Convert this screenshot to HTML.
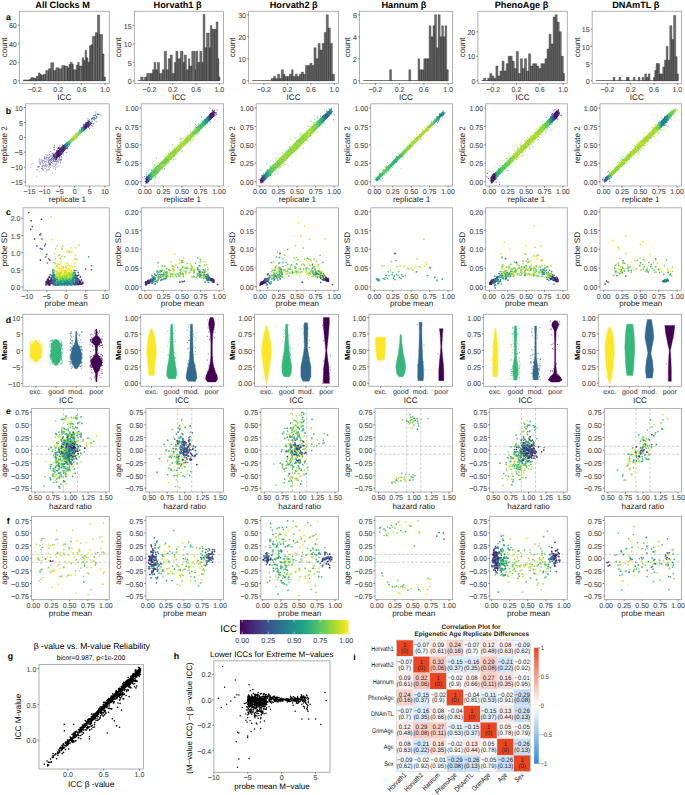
<!DOCTYPE html>
<html><head><meta charset="utf-8"><style>html,body{margin:0;padding:0;background:#fff;}svg{display:block;}text{font-family:"Liberation Sans",sans-serif;}</style></head><body><svg width="685" height="795" viewBox="0 0 685 795" text-rendering="geometricPrecision" font-family='"Liberation Sans", sans-serif'><line x1="23.03" y1="80.50" x2="105.08" y2="80.50" stroke="#3a3a3a" stroke-width="0.7"/><path d="M23.76 80.80H29.60V79.88H23.76ZM29.60 80.80H31.06V78.95H29.60ZM31.06 80.80H33.25V77.56H31.06ZM33.25 80.80H35.44V78.02H33.25ZM35.44 80.80H36.17V78.95H35.44ZM36.17 80.80H38.36V76.17H36.17ZM38.36 80.80H40.11V72.94H38.36ZM40.11 80.80H41.28V74.33H40.11ZM41.28 80.80H43.47V75.25H41.28ZM43.47 80.80H45.66V74.33H43.47ZM45.66 80.80H48.58V70.62H45.66ZM48.58 80.80H50.77V68.77H48.58ZM50.77 80.80H53.69V62.76H50.77ZM53.69 80.80H55.88V70.62H53.69ZM55.88 80.80H58.80V67.85H55.88ZM58.80 80.80H61.72V68.77H58.80ZM61.72 80.80H64.64V65.54H61.72ZM64.64 80.80H67.55V66.00H64.64ZM67.55 80.80H69.01V67.85H67.55ZM69.01 80.80H70.47V64.15H69.01ZM70.47 80.80H72.23V62.30H70.47ZM72.23 80.80H73.39V64.15H72.23ZM73.39 80.80H76.31V69.70H73.39ZM76.31 80.80H77.77V65.07H76.31ZM77.77 80.80H79.23V62.30H77.77ZM79.23 80.80H82.15V66.00H79.23ZM82.15 80.80H83.61V57.67H82.15ZM83.61 80.80H85.07V60.45H83.61ZM85.07 80.80H86.53V50.27H85.07ZM86.53 80.80H87.99V57.67H86.53ZM87.99 80.80H89.45V62.30H87.99ZM89.45 80.80H90.91V45.65H89.45ZM90.91 80.80H92.37V44.72H90.91ZM92.37 80.80H95.29V36.40H92.37ZM95.29 80.80H97.48V32.70H95.29ZM97.48 80.80H99.67V15.12H97.48ZM99.67 80.80H102.59V34.55H99.67ZM102.59 80.80H104.05V53.97H102.59ZM104.05 80.80H105.51V77.10H104.05Z" fill="#6e6e6e" stroke="#2e2e2e" stroke-width="0.4"/><rect x="19.40" y="11.30" width="89.90" height="72.10" fill="none" stroke="#a8a8a8" stroke-width="0.9"/><line x1="17.80" y1="80.80" x2="19.40" y2="80.80" stroke="#333" stroke-width="0.6"/><text x="16.80" y="83.90" font-size="7.05" text-anchor="end" fill="#555555" stroke="#555555" stroke-width="0.13">0</text><line x1="17.80" y1="62.30" x2="19.40" y2="62.30" stroke="#333" stroke-width="0.6"/><text x="16.80" y="65.40" font-size="7.05" text-anchor="end" fill="#555555" stroke="#555555" stroke-width="0.13">20</text><line x1="17.80" y1="43.80" x2="19.40" y2="43.80" stroke="#333" stroke-width="0.6"/><text x="16.80" y="46.90" font-size="7.05" text-anchor="end" fill="#555555" stroke="#555555" stroke-width="0.13">40</text><line x1="17.80" y1="25.30" x2="19.40" y2="25.30" stroke="#333" stroke-width="0.6"/><text x="16.80" y="28.40" font-size="7.05" text-anchor="end" fill="#555555" stroke="#555555" stroke-width="0.13">60</text><line x1="34.75" y1="83.40" x2="34.75" y2="85.00" stroke="#333" stroke-width="0.6"/><text x="34.75" y="91.60" font-size="7.05" text-anchor="middle" fill="#555555" stroke="#555555" stroke-width="0.13">−0.2</text><line x1="58.20" y1="83.40" x2="58.20" y2="85.00" stroke="#333" stroke-width="0.6"/><text x="58.20" y="91.60" font-size="7.05" text-anchor="middle" fill="#555555" stroke="#555555" stroke-width="0.13">0.2</text><line x1="81.64" y1="83.40" x2="81.64" y2="85.00" stroke="#333" stroke-width="0.6"/><text x="81.64" y="91.60" font-size="7.05" text-anchor="middle" fill="#555555" stroke="#555555" stroke-width="0.13">0.6</text><line x1="105.08" y1="83.40" x2="105.08" y2="85.00" stroke="#333" stroke-width="0.6"/><text x="105.08" y="91.60" font-size="7.05" text-anchor="middle" fill="#555555" stroke="#555555" stroke-width="0.13">1.0</text><text x="7.00" y="47.35" font-size="8.10" text-anchor="middle" fill="#1a1a1a" transform="rotate(-90 7.00 47.35)">count</text><text x="64.35" y="100.00" font-size="8.10" text-anchor="middle" fill="#1a1a1a">ICC</text><text x="62.60" y="7.50" font-size="9.20" text-anchor="middle" fill="#000" font-weight="bold">All Clocks M</text><line x1="137.91" y1="80.50" x2="219.31" y2="80.50" stroke="#3a3a3a" stroke-width="0.7"/><path d="M140.72 80.80H143.13V77.12H140.72ZM144.48 80.80H146.76V77.12H144.48ZM146.76 80.80H150.79V73.44H146.76ZM150.79 80.80H152.40V73.44H150.79ZM152.40 80.80H154.15V69.76H152.40ZM154.15 80.80H155.89V62.40H154.15ZM155.89 80.80H157.50V69.76H155.89ZM157.50 80.80H159.52V62.40H157.50ZM159.52 80.80H162.20V73.44H159.52ZM162.20 80.80H164.22V69.76H162.20ZM164.22 80.80H166.50V51.36H164.22ZM166.50 80.80H168.25V69.76H166.50ZM168.25 80.80H170.26V58.72H168.25ZM170.26 80.80H172.28V55.04H170.26ZM172.28 80.80H174.29V73.44H172.28ZM174.29 80.80H175.90V62.40H174.29ZM175.90 80.80H177.92V51.36H175.90ZM177.92 80.80H180.33V58.72H177.92ZM180.33 80.80H183.02V51.36H180.33ZM183.02 80.80H184.36V62.40H183.02ZM184.36 80.80H186.38V55.04H184.36ZM186.38 80.80H188.39V69.76H186.38ZM188.39 80.80H189.73V58.72H188.39ZM189.73 80.80H191.75V66.08H189.73ZM191.75 80.80H195.11V51.36H191.75ZM195.11 80.80H195.78V69.76H195.11ZM195.78 80.80H197.79V51.36H195.78ZM197.79 80.80H199.81V62.40H197.79ZM199.81 80.80H201.82V51.36H199.81ZM201.82 80.80H203.16V62.40H201.82ZM203.16 80.80H204.91V14.56H203.16ZM204.91 80.80H206.52V47.68H204.91ZM206.52 80.80H209.21V32.96H206.52ZM209.21 80.80H210.28V47.68H209.21ZM210.28 80.80H211.89V25.60H210.28ZM211.89 80.80H214.31V29.28H211.89ZM214.31 80.80H216.19V29.28H214.31ZM216.19 80.80H217.94V21.92H216.19ZM217.94 80.80H218.88V58.72H217.94ZM218.88 80.80H219.95V77.12H218.88Z" fill="#6e6e6e" stroke="#2e2e2e" stroke-width="0.4"/><rect x="134.30" y="11.30" width="89.20" height="72.10" fill="none" stroke="#a8a8a8" stroke-width="0.9"/><line x1="132.70" y1="80.80" x2="134.30" y2="80.80" stroke="#333" stroke-width="0.6"/><text x="131.70" y="83.90" font-size="7.05" text-anchor="end" fill="#555555" stroke="#555555" stroke-width="0.13">0</text><line x1="132.70" y1="62.40" x2="134.30" y2="62.40" stroke="#333" stroke-width="0.6"/><text x="131.70" y="65.50" font-size="7.05" text-anchor="end" fill="#555555" stroke="#555555" stroke-width="0.13">5</text><line x1="132.70" y1="44.00" x2="134.30" y2="44.00" stroke="#333" stroke-width="0.6"/><text x="131.70" y="47.10" font-size="7.05" text-anchor="end" fill="#555555" stroke="#555555" stroke-width="0.13">10</text><line x1="132.70" y1="25.60" x2="134.30" y2="25.60" stroke="#333" stroke-width="0.6"/><text x="131.70" y="28.70" font-size="7.05" text-anchor="end" fill="#555555" stroke="#555555" stroke-width="0.13">15</text><line x1="149.53" y1="83.40" x2="149.53" y2="85.00" stroke="#333" stroke-width="0.6"/><text x="149.53" y="91.60" font-size="7.05" text-anchor="middle" fill="#555555" stroke="#555555" stroke-width="0.13">−0.2</text><line x1="172.79" y1="83.40" x2="172.79" y2="85.00" stroke="#333" stroke-width="0.6"/><text x="172.79" y="91.60" font-size="7.05" text-anchor="middle" fill="#555555" stroke="#555555" stroke-width="0.13">0.2</text><line x1="196.05" y1="83.40" x2="196.05" y2="85.00" stroke="#333" stroke-width="0.6"/><text x="196.05" y="91.60" font-size="7.05" text-anchor="middle" fill="#555555" stroke="#555555" stroke-width="0.13">0.6</text><line x1="219.31" y1="83.40" x2="219.31" y2="85.00" stroke="#333" stroke-width="0.6"/><text x="219.31" y="91.60" font-size="7.05" text-anchor="middle" fill="#555555" stroke="#555555" stroke-width="0.13">1.0</text><text x="121.10" y="47.35" font-size="8.10" text-anchor="middle" fill="#1a1a1a" transform="rotate(-90 121.10 47.35)">count</text><text x="178.90" y="100.00" font-size="8.10" text-anchor="middle" fill="#1a1a1a">ICC</text><text x="177.60" y="7.50" font-size="9.20" text-anchor="middle" fill="#000" font-weight="bold">Horvath1 β</text><line x1="252.23" y1="80.50" x2="334.28" y2="80.50" stroke="#3a3a3a" stroke-width="0.7"/><path d="M271.09 80.80H273.55V78.60H271.09ZM273.55 80.80H275.59V76.40H273.55ZM275.59 80.80H277.63V78.60H275.59ZM277.63 80.80H279.68V74.20H277.63ZM279.68 80.80H281.31V78.60H279.68ZM281.31 80.80H283.36V69.80H281.31ZM283.36 80.80H284.99V74.20H283.36ZM284.99 80.80H287.44V76.40H284.99ZM287.44 80.80H289.49V76.40H287.44ZM289.49 80.80H291.53V74.20H289.49ZM291.53 80.80H293.17V69.80H291.53ZM293.17 80.80H295.21V76.40H293.17ZM295.21 80.80H297.25V74.20H295.21ZM297.25 80.80H299.30V76.40H297.25ZM299.30 80.80H301.34V74.20H299.30ZM301.34 80.80H303.38V72.00H301.34ZM303.38 80.80H305.43V74.20H303.38ZM305.43 80.80H307.88V65.40H305.43ZM307.88 80.80H309.92V65.40H307.88ZM309.92 80.80H311.97V63.20H309.92ZM311.97 80.80H314.01V65.40H311.97ZM314.01 80.80H316.06V47.80H314.01ZM316.06 80.80H318.10V58.80H316.06ZM318.10 80.80H320.14V43.40H318.10ZM320.14 80.80H322.19V50.00H320.14ZM322.19 80.80H324.23V43.40H322.19ZM324.23 80.80H326.27V32.40H324.23ZM326.27 80.80H328.32V14.80H326.27ZM328.32 80.80H330.36V28.00H328.32ZM330.36 80.80H332.41V43.40H330.36ZM332.41 80.80H334.45V74.20H332.41Z" fill="#6e6e6e" stroke="#2e2e2e" stroke-width="0.4"/><rect x="248.60" y="11.30" width="89.90" height="72.10" fill="none" stroke="#a8a8a8" stroke-width="0.9"/><line x1="247.00" y1="80.80" x2="248.60" y2="80.80" stroke="#333" stroke-width="0.6"/><text x="246.00" y="83.90" font-size="7.05" text-anchor="end" fill="#555555" stroke="#555555" stroke-width="0.13">0</text><line x1="247.00" y1="58.80" x2="248.60" y2="58.80" stroke="#333" stroke-width="0.6"/><text x="246.00" y="61.90" font-size="7.05" text-anchor="end" fill="#555555" stroke="#555555" stroke-width="0.13">10</text><line x1="247.00" y1="36.80" x2="248.60" y2="36.80" stroke="#333" stroke-width="0.6"/><text x="246.00" y="39.90" font-size="7.05" text-anchor="end" fill="#555555" stroke="#555555" stroke-width="0.13">20</text><line x1="247.00" y1="14.80" x2="248.60" y2="14.80" stroke="#333" stroke-width="0.6"/><text x="246.00" y="17.90" font-size="7.05" text-anchor="end" fill="#555555" stroke="#555555" stroke-width="0.13">30</text><line x1="263.95" y1="83.40" x2="263.95" y2="85.00" stroke="#333" stroke-width="0.6"/><text x="263.95" y="91.60" font-size="7.05" text-anchor="middle" fill="#555555" stroke="#555555" stroke-width="0.13">−0.2</text><line x1="287.40" y1="83.40" x2="287.40" y2="85.00" stroke="#333" stroke-width="0.6"/><text x="287.40" y="91.60" font-size="7.05" text-anchor="middle" fill="#555555" stroke="#555555" stroke-width="0.13">0.2</text><line x1="310.84" y1="83.40" x2="310.84" y2="85.00" stroke="#333" stroke-width="0.6"/><text x="310.84" y="91.60" font-size="7.05" text-anchor="middle" fill="#555555" stroke="#555555" stroke-width="0.13">0.6</text><line x1="334.28" y1="83.40" x2="334.28" y2="85.00" stroke="#333" stroke-width="0.6"/><text x="334.28" y="91.60" font-size="7.05" text-anchor="middle" fill="#555555" stroke="#555555" stroke-width="0.13">1.0</text><text x="235.50" y="47.35" font-size="8.10" text-anchor="middle" fill="#1a1a1a" transform="rotate(-90 235.50 47.35)">count</text><text x="293.55" y="100.00" font-size="8.10" text-anchor="middle" fill="#1a1a1a">ICC</text><text x="293.70" y="7.50" font-size="9.20" text-anchor="middle" fill="#000" font-weight="bold">Horvath2 β</text><line x1="363.26" y1="80.50" x2="448.13" y2="80.50" stroke="#3a3a3a" stroke-width="0.7"/><path d="M389.66 80.80H391.50V69.80H389.66ZM408.87 80.80H410.71V69.80H408.87ZM418.07 80.80H419.71V58.80H418.07ZM419.71 80.80H421.75V69.80H419.71ZM421.75 80.80H423.79V69.80H421.75ZM423.79 80.80H425.43V58.80H423.79ZM425.43 80.80H427.47V58.80H425.43ZM427.47 80.80H429.11V58.80H427.47ZM429.11 80.80H430.95V25.80H429.11ZM430.95 80.80H432.99V36.80H430.95ZM432.99 80.80H434.62V25.80H432.99ZM434.62 80.80H436.46V14.80H434.62ZM436.46 80.80H438.10V47.80H436.46ZM438.10 80.80H440.14V14.80H438.10ZM440.14 80.80H441.78V36.80H440.14ZM441.78 80.80H443.41V25.80H441.78ZM443.41 80.80H445.05V36.80H443.41ZM445.05 80.80H446.68V25.80H445.05ZM446.68 80.80H448.32V69.80H446.68Z" fill="#6e6e6e" stroke="#2e2e2e" stroke-width="0.4"/><rect x="359.50" y="11.30" width="93.00" height="72.10" fill="none" stroke="#a8a8a8" stroke-width="0.9"/><line x1="357.90" y1="80.80" x2="359.50" y2="80.80" stroke="#333" stroke-width="0.6"/><text x="356.90" y="83.90" font-size="7.05" text-anchor="end" fill="#555555" stroke="#555555" stroke-width="0.13">0</text><line x1="357.90" y1="58.80" x2="359.50" y2="58.80" stroke="#333" stroke-width="0.6"/><text x="356.90" y="61.90" font-size="7.05" text-anchor="end" fill="#555555" stroke="#555555" stroke-width="0.13">2</text><line x1="357.90" y1="36.80" x2="359.50" y2="36.80" stroke="#333" stroke-width="0.6"/><text x="356.90" y="39.90" font-size="7.05" text-anchor="end" fill="#555555" stroke="#555555" stroke-width="0.13">4</text><line x1="357.90" y1="14.80" x2="359.50" y2="14.80" stroke="#333" stroke-width="0.6"/><text x="356.90" y="17.90" font-size="7.05" text-anchor="end" fill="#555555" stroke="#555555" stroke-width="0.13">6</text><line x1="375.38" y1="83.40" x2="375.38" y2="85.00" stroke="#333" stroke-width="0.6"/><text x="375.38" y="91.60" font-size="7.05" text-anchor="middle" fill="#555555" stroke="#555555" stroke-width="0.13">−0.2</text><line x1="399.63" y1="83.40" x2="399.63" y2="85.00" stroke="#333" stroke-width="0.6"/><text x="399.63" y="91.60" font-size="7.05" text-anchor="middle" fill="#555555" stroke="#555555" stroke-width="0.13">0.2</text><line x1="423.88" y1="83.40" x2="423.88" y2="85.00" stroke="#333" stroke-width="0.6"/><text x="423.88" y="91.60" font-size="7.05" text-anchor="middle" fill="#555555" stroke="#555555" stroke-width="0.13">0.6</text><line x1="448.13" y1="83.40" x2="448.13" y2="85.00" stroke="#333" stroke-width="0.6"/><text x="448.13" y="91.60" font-size="7.05" text-anchor="middle" fill="#555555" stroke="#555555" stroke-width="0.13">1.0</text><text x="349.90" y="47.35" font-size="8.10" text-anchor="middle" fill="#1a1a1a" transform="rotate(-90 349.90 47.35)">count</text><text x="406.00" y="100.00" font-size="8.10" text-anchor="middle" fill="#1a1a1a">ICC</text><text x="403.90" y="7.50" font-size="9.20" text-anchor="middle" fill="#000" font-weight="bold">Hannum β</text><line x1="481.51" y1="80.50" x2="563.10" y2="80.50" stroke="#3a3a3a" stroke-width="0.7"/><path d="M483.61 80.80H485.66V78.35H483.61ZM487.70 80.80H489.74V78.35H487.70ZM489.74 80.80H491.79V73.45H489.74ZM491.79 80.80H493.83V75.90H491.79ZM493.83 80.80H495.87V78.35H493.83ZM495.87 80.80H497.92V66.10H495.87ZM497.92 80.80H499.96V75.90H497.92ZM499.96 80.80H502.01V71.00H499.96ZM502.01 80.80H504.05V61.20H502.01ZM504.05 80.80H506.09V71.00H504.05ZM506.09 80.80H508.14V63.65H506.09ZM508.14 80.80H510.18V56.30H508.14ZM510.18 80.80H512.22V56.30H510.18ZM512.22 80.80H514.27V61.20H512.22ZM514.27 80.80H516.31V68.55H514.27ZM516.31 80.80H518.36V51.40H516.31ZM518.36 80.80H520.40V73.45H518.36ZM520.40 80.80H522.44V58.75H520.40ZM522.44 80.80H524.49V68.55H522.44ZM524.49 80.80H526.53V58.75H524.49ZM526.53 80.80H528.57V71.00H526.53ZM528.57 80.80H530.62V53.85H528.57ZM530.62 80.80H532.66V66.10H530.62ZM532.66 80.80H534.71V63.65H532.66ZM534.71 80.80H536.75V63.65H534.71ZM536.75 80.80H538.79V66.10H536.75ZM538.79 80.80H540.84V68.55H538.79ZM540.84 80.80H542.88V63.65H540.84ZM542.88 80.80H544.92V63.65H542.88ZM544.92 80.80H546.97V58.75H544.92ZM546.97 80.80H549.01V48.95H546.97ZM549.01 80.80H551.06V34.25H549.01ZM551.06 80.80H553.10V44.05H551.06ZM553.10 80.80H555.14V17.10H553.10ZM555.14 80.80H557.19V14.65H555.14ZM557.19 80.80H559.23V22.00H557.19ZM559.23 80.80H561.27V31.80H559.23ZM561.27 80.80H563.32V56.30H561.27ZM563.32 80.80H564.54V73.45H563.32Z" fill="#6e6e6e" stroke="#2e2e2e" stroke-width="0.4"/><rect x="477.90" y="11.30" width="89.40" height="72.10" fill="none" stroke="#a8a8a8" stroke-width="0.9"/><line x1="476.30" y1="80.80" x2="477.90" y2="80.80" stroke="#333" stroke-width="0.6"/><text x="475.30" y="83.90" font-size="7.05" text-anchor="end" fill="#555555" stroke="#555555" stroke-width="0.13">0</text><line x1="476.30" y1="56.30" x2="477.90" y2="56.30" stroke="#333" stroke-width="0.6"/><text x="475.30" y="59.40" font-size="7.05" text-anchor="end" fill="#555555" stroke="#555555" stroke-width="0.13">10</text><line x1="476.30" y1="31.80" x2="477.90" y2="31.80" stroke="#333" stroke-width="0.6"/><text x="475.30" y="34.90" font-size="7.05" text-anchor="end" fill="#555555" stroke="#555555" stroke-width="0.13">20</text><line x1="493.17" y1="83.40" x2="493.17" y2="85.00" stroke="#333" stroke-width="0.6"/><text x="493.17" y="91.60" font-size="7.05" text-anchor="middle" fill="#555555" stroke="#555555" stroke-width="0.13">−0.2</text><line x1="516.48" y1="83.40" x2="516.48" y2="85.00" stroke="#333" stroke-width="0.6"/><text x="516.48" y="91.60" font-size="7.05" text-anchor="middle" fill="#555555" stroke="#555555" stroke-width="0.13">0.2</text><line x1="539.79" y1="83.40" x2="539.79" y2="85.00" stroke="#333" stroke-width="0.6"/><text x="539.79" y="91.60" font-size="7.05" text-anchor="middle" fill="#555555" stroke="#555555" stroke-width="0.13">0.6</text><line x1="563.10" y1="83.40" x2="563.10" y2="85.00" stroke="#333" stroke-width="0.6"/><text x="563.10" y="91.60" font-size="7.05" text-anchor="middle" fill="#555555" stroke="#555555" stroke-width="0.13">1.0</text><text x="464.70" y="47.35" font-size="8.10" text-anchor="middle" fill="#1a1a1a" transform="rotate(-90 464.70 47.35)">count</text><text x="522.60" y="100.00" font-size="8.10" text-anchor="middle" fill="#1a1a1a">ICC</text><text x="521.50" y="7.50" font-size="9.20" text-anchor="middle" fill="#000" font-weight="bold">PhenoAge β</text><line x1="595.81" y1="80.50" x2="677.31" y2="80.50" stroke="#3a3a3a" stroke-width="0.7"/><path d="M613.18 80.80H614.93V77.36H613.18ZM618.96 80.80H620.71V77.36H618.96ZM626.32 80.80H627.72V77.36H626.32ZM627.72 80.80H629.12V77.36H627.72ZM633.33 80.80H635.08V77.36H633.33ZM638.23 80.80H639.98V77.36H638.23ZM642.08 80.80H643.84V77.36H642.08ZM644.71 80.80H646.46V73.92H644.71ZM646.46 80.80H648.22V77.36H646.46ZM648.22 80.80H649.97V73.92H648.22ZM653.47 80.80H654.70V77.36H653.47ZM654.70 80.80H656.10V70.48H654.70ZM656.10 80.80H657.85V63.60H656.10ZM657.85 80.80H659.60V63.60H657.85ZM659.60 80.80H661.01V73.92H659.60ZM661.01 80.80H662.76V73.92H661.01ZM662.76 80.80H664.51V67.04H662.76ZM664.51 80.80H666.26V60.16H664.51ZM666.26 80.80H668.01V46.40H666.26ZM668.01 80.80H669.77V60.16H668.01ZM669.77 80.80H671.87V25.76H669.77ZM671.87 80.80H673.62V39.52H671.87ZM673.62 80.80H675.72V15.44H673.62ZM675.72 80.80H677.12V56.72H675.72ZM677.12 80.80H678.52V73.92H677.12Z" fill="#6e6e6e" stroke="#2e2e2e" stroke-width="0.4"/><rect x="592.20" y="11.30" width="89.30" height="72.10" fill="none" stroke="#a8a8a8" stroke-width="0.9"/><line x1="590.60" y1="80.80" x2="592.20" y2="80.80" stroke="#333" stroke-width="0.6"/><text x="589.60" y="83.90" font-size="7.05" text-anchor="end" fill="#555555" stroke="#555555" stroke-width="0.13">0</text><line x1="590.60" y1="63.60" x2="592.20" y2="63.60" stroke="#333" stroke-width="0.6"/><text x="589.60" y="66.70" font-size="7.05" text-anchor="end" fill="#555555" stroke="#555555" stroke-width="0.13">5</text><line x1="590.60" y1="46.40" x2="592.20" y2="46.40" stroke="#333" stroke-width="0.6"/><text x="589.60" y="49.50" font-size="7.05" text-anchor="end" fill="#555555" stroke="#555555" stroke-width="0.13">10</text><line x1="590.60" y1="29.20" x2="592.20" y2="29.20" stroke="#333" stroke-width="0.6"/><text x="589.60" y="32.30" font-size="7.05" text-anchor="end" fill="#555555" stroke="#555555" stroke-width="0.13">15</text><line x1="607.45" y1="83.40" x2="607.45" y2="85.00" stroke="#333" stroke-width="0.6"/><text x="607.45" y="91.60" font-size="7.05" text-anchor="middle" fill="#555555" stroke="#555555" stroke-width="0.13">−0.2</text><line x1="630.74" y1="83.40" x2="630.74" y2="85.00" stroke="#333" stroke-width="0.6"/><text x="630.74" y="91.60" font-size="7.05" text-anchor="middle" fill="#555555" stroke="#555555" stroke-width="0.13">0.2</text><line x1="654.02" y1="83.40" x2="654.02" y2="85.00" stroke="#333" stroke-width="0.6"/><text x="654.02" y="91.60" font-size="7.05" text-anchor="middle" fill="#555555" stroke="#555555" stroke-width="0.13">0.6</text><line x1="677.31" y1="83.40" x2="677.31" y2="85.00" stroke="#333" stroke-width="0.6"/><text x="677.31" y="91.60" font-size="7.05" text-anchor="middle" fill="#555555" stroke="#555555" stroke-width="0.13">1.0</text><text x="580.00" y="47.35" font-size="8.10" text-anchor="middle" fill="#1a1a1a" transform="rotate(-90 580.00 47.35)">count</text><text x="636.85" y="100.00" font-size="8.10" text-anchor="middle" fill="#1a1a1a">ICC</text><text x="635.80" y="7.50" font-size="9.20" text-anchor="middle" fill="#000" font-weight="bold">DNAmTL β</text><text x="5.90" y="20.30" font-size="8.80" text-anchor="start" fill="#000" font-weight="bold">a</text><clipPath id="cb0"><rect x="25.40" y="103.80" width="83.90" height="82.20"/></clipPath><g clip-path="url(#cb0)"><path d="M42.3 161.9h0m8.1 .5h0m5.7-2.9h0m-3.6-2.4h0m-3.5 6.1h0m6.6-2.5h0m-2.9-1h0m-6 5h0m-5.4-8h0m19.3 5.2h0m-10.3 3.2h0m-11.1-4h0m6.4-6.3h0m-1.9 15.1h0m16.8-6.2h0m-10.4 .6h0m9-4h0m-9.3 1.7h0m-10.8-.8h0m16.6-.1h0m4.7-1.7h0m-6.5 1.4h0m-10.1 .2h0m7.8-5.6h0m-1.8 10.9h0m3-.4h0m.4-8.7h0m-9.1 1.1h0m-7.6 11.2h0m5.7-4.3h0m19.3-10.9h0m-11.3-2.4h0m-4 5.8h0m4 3.4h0" stroke="#355c8c" stroke-width="0.95" stroke-linecap="round" stroke-opacity="0.55"/><path d="M42.7 162.3h0m11.9-7.3h0m6.8 4.3h0m-9.6 .8h0m7.4-.2h0m-14.2 8.6h0m3.4-1.8h0m7.9-4.3h0m-10.6 3.7h0m-.9-9h0m11.8-1.3h0m.5 5.7h0m-3.4-3.3h0m1.8-.2h0m-18.2 8.3h0m22.5-6.8h0m-9.1 3.9h0m.4-5.4h0m-7 9.7h0m-1.2-2.6h0m4.5-7.5h0m5.2 .4h0m-6.5 7.8h0m-1.3-8h0m10.4-2.6h0m-11.9 5.5h0m6.3-6h0m-2.6 12.5h0m6.8-7.9h0m-16 7.8h0m13-7h0m2.6-7.3h0m7.7 6.9h0m-8.9-6.1h0m-7.7 5.7h0m12.6 3.8h0m-.3-3.7h0m-3.3-4.5h0m-3.7 9.6h0m2.8-1.1h0m-3.2-6.1h0" stroke="#414186" stroke-width="0.95" stroke-linecap="round" stroke-opacity="0.55"/><path d="M52 162.6h0m-1.3-3.4h0m1.2-5.4h0m3.6 11.3h0m-4-5h0m3.9 9.1h0m-5.3-5.2h0m-11.4 2.5h0m14-12.7h0m3.6 7.9h0m-14.1 6.8h0m11.1-2.1h0m.3-6.6h0m4.2 1.4h0m-17.6 2.4h0m9.4-.6h0m-.2 5.3h0m1.8-11.6h0m.6 8.5h0m1.5-9.4h0m.3 4.7h0m-1.7-2.6h0m4.9-5.3h0m-2.2 4h0m4-4.9h0m-8.5 7.9h0m-10.2 3.2h0m10.6-1.1h0" stroke="#462d7c" stroke-width="0.95" stroke-linecap="round" stroke-opacity="0.55"/><path d="M55.5 158.6h0m-6 6.6h0m5.9-12.3h0m3.8 2.5h0m-5 6.8h0m-5.5-1h0m-4-2.6h0m-.2 7.4h0m3.2-10.4h0m-1.6 1h0m10.6 3.8h0m-11.1 1.1h0m-4.7 1h0m9.2-6.3h0m-5.2 6h0m-5.9 9.2h0m12.4-9.6h0m-4.5 .9h0m7.2-1.1h0m-14 2.7h0m13.8-6.4h0m-7 12.5h0m2.3-9.7h0m-.4-.5h0m2 .1h0m-5.3 5.8h0m14-9.4h0m-14.1 2.3h0m-3.1 9.9h0m9.3-6.3h0m8.4-7.5h0m-9.2 12.4h0m7.3-8.4h0m-3.4-1h0m-5.8 9.5h0" stroke="#482273" stroke-width="0.95" stroke-linecap="round" stroke-opacity="0.55"/><path d="M59.1 157.7h0m-18.6 6.4h0m-.7-4.8h0m-8.6 5.2h0m24-9.9h0m-6.3 8.8h0m-3.4 1.8h0m12.9-2.3h0m2.9-5.8h0m-19.3 9.3h0m7.5-7.2h0m-7.1 1.1h0m12.6-.8h0m-5.8 4.8h0m2.4-4.1h0m-9.6 8.4h0m7.4-8.6h0m-10 6.8h0m14.4-11.9h0m5.6 1.4h0m-14.8 4.9h0m-4.9 1h0m13.7 6.2h0m-10.4-2.7h0m15.7-3.8h0m-3.7-1h0m-13.9 .7h0m9.3-6.3h0m-1.4 2.6h0m-2.6 1.1h0m.5 12.8h0m1-2.1h0m4.3-10.5h0m-13.8 8h0m19.5-11.2h0m-11-1.2h0m2.9 8.5h0m-.6-5.6h0" stroke="#443781" stroke-width="0.95" stroke-linecap="round" stroke-opacity="0.55"/><path d="M55.9 164.1h0m-5.4-4.6h0m.6-1.4h0m8.1-2.1h0m1.5 6.4h0m-10.6 3.2h0m8.3 .6h0m-5.8-4.7h0m-3.8 8.3h0m0 .3h0m-.6-15.3h0m-4.8 10.5h0m12.9-9.1h0m-.4 3h0m1.7-3.7h0m1.2 4.7h0m-8.5-8.8h0m-3.4 18h0m.9-3.9h0m13.7-7.6h0m-14.3 1.5h0m-1.6 4.5h0m9.6-4.8h0m-16-.7h0m3.3 8.6h0m4.5-9.8h0m8.4-.8h0m-6.7 3.6h0m-6.6 3.4h0m5.5-2.6h0m8.5-3.1h0" stroke="#3d4a89" stroke-width="0.95" stroke-linecap="round" stroke-opacity="0.55"/><path d="M60.3 155.5h0m-7.1 8.5h0m-.3-7.9h0m-.5 1.1h0m0-2.3h0m-7.4 16.7h0m-5-11.3h0m-3.5 15.9h0m7.8-10.9h0m2.6 1h0m-1.4-2h0m8.7-7.8h0m-5.8 1.2h0m6.7 3.9h0m-11.3 2h0m13.2 .6h0m-4.6-10.9h0m2.5 10.6h0m-.2 2.6h0m-24.2 .9h0m20.9-8.7h0m-6.9-1.9h0m9.9 2.2h0m-8.2 1.9h0m11.6 .6h0m-3.5-6.9h0m2.3-2h0m-.5 12.8h0m-.3 2.1h0m3.2-13.1h0m-14.7 7.9h0m12.9 4.7h0m3.2-7.1h0m-6.5 1.2h0m-21.1 2.5h0" stroke="#39548b" stroke-width="0.95" stroke-linecap="round" stroke-opacity="0.55"/><path d="M55.1 157.5h0m-6.9 1h0m8.1-5.5h0m-3.9 6.7h0m-9.9 6.9h0m19-12.5h0m-5.5 7.1h0m-7.6 .1h0m3-2.9h0m3.8 10.7h0m-10.3-11.2h0m5.4 6.7h0m3.9-5.5h0m-.2 1.9h0m-11.8 0h0m-.7-1.2h0m5.2-1.7h0m5.9 14.9h0m-10-3.3h0m-1.5-1.4h0m14-3h0m-13-4.5h0m6.3 1.4h0m-4.9 7.6h0m-4.6-2.9h0m-1.5 3.1h0m8.6-7.9h0m2.2 2.5h0m10.2-12h0" stroke="#47186a" stroke-width="0.95" stroke-linecap="round" stroke-opacity="0.55"/><path d="M55.65 153.02L56.49 152.18L56.49 158.60L55.65 159.44Z" fill="#47186a"/><path d="M56.28 152.20L57.34 151.16L57.34 157.95L56.28 159.00Z" fill="#47186a"/><path d="M57.13 151.18L58.18 150.14L58.18 157.31L57.13 158.35Z" fill="#47186a"/><path d="M57.97 150.25L59.03 149.21L59.03 156.57L57.97 157.61Z" fill="#47186a"/><path d="M58.82 149.37L59.87 148.33L59.87 155.78L58.82 156.82Z" fill="#47186a"/><path d="M59.66 148.49L60.72 147.45L60.72 154.99L59.66 156.04Z" fill="#47186a"/><path d="M60.50 147.61L61.56 146.56L61.56 154.20L60.50 155.25Z" fill="#47186a"/><path d="M61.35 146.73L62.40 145.68L62.40 153.42L61.35 154.46Z" fill="#482273"/><path d="M62.19 145.96L63.25 144.92L63.25 152.52L62.19 153.56Z" fill="#482273"/><path d="M63.04 145.47L64.09 144.43L64.09 151.33L63.04 152.37Z" fill="#482273"/><path d="M63.88 144.99L64.94 143.95L64.94 150.15L63.88 151.19Z" fill="#462d7c"/><path d="M64.73 144.51L65.78 143.46L65.78 148.96L64.73 150.01Z" fill="#355c8c"/><path d="M65.57 143.95L66.63 142.91L66.63 147.85L65.57 148.89Z" fill="#24848d"/><path d="M66.42 143.37L67.47 142.33L67.47 146.76L66.42 147.80Z" fill="#1e9b89"/><path d="M67.26 142.79L68.32 141.74L68.32 145.67L67.26 146.72Z" fill="#24aa82"/><path d="M68.10 142.17L69.16 141.13L69.16 144.62L68.10 145.67Z" fill="#47c06e"/><path d="M68.95 141.34L70.00 140.30L70.00 143.78L68.95 144.82Z" fill="#6bcd59"/><path d="M69.79 140.52L70.85 139.47L70.85 142.94L69.79 143.98Z" fill="#6bcd59"/><path d="M70.64 139.69L71.69 138.65L71.69 142.10L70.64 143.14Z" fill="#7ed24e"/><path d="M71.48 138.86L72.54 137.82L72.54 141.25L71.48 142.30Z" fill="#7ed24e"/><path d="M72.33 138.04L73.38 136.99L73.38 140.41L72.33 141.45Z" fill="#92d741"/><path d="M73.17 137.21L74.23 136.17L74.23 139.57L73.17 140.61Z" fill="#a7db33"/><path d="M74.01 136.38L75.07 135.34L75.07 138.73L74.01 139.77Z" fill="#a7db33"/><path d="M74.86 135.56L75.91 134.51L75.91 137.88L74.86 138.93Z" fill="#a7db33"/><path d="M75.70 134.73L76.76 133.69L76.76 137.04L75.70 138.08Z" fill="#92d741"/><path d="M76.55 133.90L77.60 132.86L77.60 136.20L76.55 137.24Z" fill="#92d741"/><path d="M77.39 133.08L78.45 132.03L78.45 135.36L77.39 136.40Z" fill="#7ed24e"/><path d="M78.24 132.25L79.29 131.21L79.29 134.51L78.24 135.56Z" fill="#7ed24e"/><path d="M79.08 131.33L80.14 130.29L80.14 133.77L79.08 134.81Z" fill="#6bcd59"/><path d="M79.93 130.35L80.98 129.31L80.98 133.07L79.93 134.11Z" fill="#47c06e"/><path d="M80.77 129.38L81.83 128.34L81.83 132.38L80.77 133.42Z" fill="#2eb27c"/><path d="M81.61 128.41L82.67 127.36L82.67 131.68L81.61 132.73Z" fill="#1fa386"/><path d="M82.46 127.43L83.51 126.39L83.51 130.99L82.46 132.03Z" fill="#277c8e"/><path d="M83.30 126.48L84.36 125.44L84.36 130.27L83.30 131.31Z" fill="#39548b"/><path d="M84.15 125.60L85.20 124.56L85.20 129.48L84.15 130.52Z" fill="#462d7c"/><path d="M84.99 124.72L86.05 123.68L86.05 128.69L84.99 129.73Z" fill="#47186a"/><path d="M85.84 123.84L86.89 122.80L86.89 127.90L85.84 128.95Z" fill="#47186a"/><path d="M86.68 122.96L87.74 121.91L87.74 127.11L86.68 128.16Z" fill="#47186a"/><path d="M87.53 122.08L88.58 121.03L88.58 126.33L87.53 127.37Z" fill="#47186a"/><path d="M88.37 121.56L89.43 120.52L89.43 125.17L88.37 126.21Z" fill="#47186a"/><path d="M78 133.9h0m-2.7 3.1h0m-3 3.4h0m3.8-3.3h0m3.4-4.7h0m-2.1 3.4h0m-2.9 .4h0m3.9-2h0m-5.3 3.8h0m4.9-2.4h0m1.5-2.9h0m-4.1 3.4h0m2.9-2.4h0m-5 4.1h0m2.7 .5h0m-2 .2h0m1.6 0h0" stroke="#a7db33" stroke-width="1" stroke-linecap="round"/><path d="M79.5 130.6h0m-5 6.4h0m6-4h0m-7.7 5.7h0m2.1-1h0m-1.7-1.5h0m-3.8 4h0m1.1 .7h0m8.1-8.2h0m-5.3 7.3h0m5-5.8h0m-4.5 3.8h0m3-1.6h0m-.9 2h0m4.2-5.3h0m-9.2 7.1h0m2.9-1.8h0m4.1-6.3h0m-3 3.4h0m-2.3 4.3h0m3-3.7h0m-7.3 6h0m2-1.5h0m-.6-.1h0m3.2-2.2h0m1.9 .7h0m-5.4 1.9h0m8.8-6.8h0" stroke="#92d741" stroke-width="1" stroke-linecap="round"/><path d="M74.1 137.6h0m3.6-3.5h0m-1.6 .7h0m-7.5 8h0m10-9.4h0m-3.3 .8h0m4.3-2.4h0m-2.7 6.8h0m-3.5-.5h0m1.4 1.2h0m5.9-7.2h0m-7.9 8.3h0m4.5-5.5h0m-5.1 6.3h0m.3-1.8h0m1-.5h0m-4.9 2.8h0m4-1.7h0" stroke="#7ed24e" stroke-width="1" stroke-linecap="round"/><path d="M84.4 128.6h0m11.8-10.6h0m-.3-6h0m.7 4.7h0m-6.8 4.5h0m4.9-3h0m1 .4h0m-1.8 .2h0m2.1-2.8h0" stroke="#355c8c" stroke-width="1" stroke-linecap="round"/><path d="M56 153.7h0m3.7-.9h0m-2.1-.9h0m1.1 2.4h0m-3.6 1.4h0m6.6-5.6h0m-7.5-.3h0m-1.1 5.4h0m30.3-30.4h0m-20.4 21h0m-2.5 3.6h0m-3.7 1h0m1 2.2h0m.9-4.8h0m-5 8.2h0m9.8-5h0m25.5-25.9h0m-3.6 1.2h0m-26.7 21.9h0m-1.1 4.7h0m.1-1.2h0m6.2-1.7h0m-7.9 9.5h0m.3-.2h0m2.7-4.2h0m-4.7 1.3h0m34.4-32.6h0m-31.3 31h0m.8-.8h0" stroke="#440154" stroke-width="1" stroke-linecap="round"/><path d="M57.5 149h0m29.4-25.4h0m3.6-1.1h0m-3.9 3.1h0m-32 32.4h0m36.4-35.2h0m-7.3 2.1h0m4.7 2h0m-2.3-1.9h0m-22.9 25.4h0m-8.8 5.5h0m35.9-31.9h0m-35.8 30.9h0m34.9-33.5h0m-26.6 26.4h0m.9-.8h0m25-24.5h0m-26.4 27.1h0m-5.9 2.3h0m-1.6 2h0m4.6-6h0m26.3-20.9h0m4 1.4h0m0-6.9h0m-3.3 1.3h0m-30.6 33.7h0m32.2-34.2h0m1 4.3h0m-1.2-1.7h0m-23.6 25.4h0m-.9-2.3h0m3.5 4.4h0" stroke="#462d7c" stroke-width="1" stroke-linecap="round"/><path d="M75.8 137h0m-2.6 .7h0m-.3 1.4h0m5-5.4h0m-2.4 2.5h0m1.1-2.1h0m-3.8 4.9h0m6.7-6.5h0m-3.3 1.8h0m-.5 1.4h0m-3 .8h0m-1.2 4.2h0m3.2-3.5h0m-3.1 3.4h0m2-2.7h0m-.3 .7h0" stroke="#bfdf24" stroke-width="1" stroke-linecap="round"/><path d="M60.5 153.7h0m-4.4-.7h0m5.8-.9h0m1.9-6.1h0m-6.6 5.3h0m-3.6 6.9h0m3.5-.1h0m30.5-34.5h0m-26.3 27.9h0m22.8-24.6h0m-23 33.2h0m-7.7-4.9h0m6.5-2.7h0m.7-2.3h0m-6 7.7h0m8.7-7.4h0m-5.5 .3h0m-1.7 3.1h0m8.3-3.4h0m-8.4 7.3h0m3.5-4.7h0m.4-7.2h0m2.3 4h0m-.3-1.7h0m-1.6 0h0m3.4 1.1h0m22.5-23.8h0m-31.7 20.3h0m29.8-17.4h0m-26 26.8h0m29.8-31.8h0m-34.1 24.1h0m29.7-21.4h0m6.3-.9h0m-1.7-3.3h0m-2.3 2.6h0m-29.7 29.1h0m34.1-29.2h0m-33.5 30.4h0m3.5-4.6h0m29.9-26.7h0m-27 25h0" stroke="#482273" stroke-width="1" stroke-linecap="round"/><path d="M57.5 156.9h0m5.5-3.7h0m-4 1.3h0m26.4-30.6h0m-30.8 32.5h0m33.3-34.1h0m-29.4 34.2h0m.2-5.3h0m1.2-2.9h0m-2.7 7h0m6.3-7.7h0m25.7-23.6h0m-30.2 27.5h0m26.5-26.6h0m-21.5 22.9h0m-6.1 4.2h0m4.4 .1h0m-8.6 2h0m5 1.9h0m-5.1 .5h0m6.5-1h0m-.7-1.2h0m-1.7 .8h0m-.4-2.3h0m-1.8 .9h0m2.4 1.2h0m1 .4h0m28.2-32.8h0m-27.6 35.4h0m28.7-30.9h0m-22.5 22h0m20.4-21.2h0m-26.3 28.5h0m-3.1-.2h0m28.6-28.8h0" stroke="#460c5f" stroke-width="1" stroke-linecap="round"/><path d="M71.6 138.8h0m-.4 3.2h0m9.1-10h0m-11.5 10.4h0m2.4-2.7h0m5.9-3.6h0m-3.7 3.4h0m-5.4 3.6h0m.6-.6h0m8.7-5.4h0m-7.9 6.4h0m11.3-12.3h0m-12.6 12.1h0m13.3-11.6h0" stroke="#57c665" stroke-width="1" stroke-linecap="round"/><path d="M83 127.6h0m-15.2 21.1h0m16.9-19.7h0m-17.6 18.6h0m16.9-17.5h0m-1.3-2.7h0m0-.4h0m5.3-8.5h0m8.2 3.1h0m-3 1.8h0m1.3-7.7h0" stroke="#2e6c8e" stroke-width="1" stroke-linecap="round"/><path d="M69.5 143.9h0m2.7-4.8h0m-4.5 3.3h0m2.3 .6h0m11.4-12.3h0m-13.1 12.2h0m6.8-4.6h0m-5.8 6h0m11.5-12.3h0m.5-.4h0m-12.1 12h0m1.5-4.1h0m-.9 2.7h0m-1-.5h0" stroke="#47c06e" stroke-width="1" stroke-linecap="round"/><path d="M80.5 134h0m-2.3 .2h0m.4 .6h0m1.1-5.4h0m-10.7 12.4h0m1.3-.2h0m.6-1.9h0m8.5-9.5h0m1.8 1.3h0m-10.9 11.9h0m3.7-8.2h0m6.2-4.4h0m-10.1 12.4h0m-1.3-.4h0m10.8-9.9h0m-3 .8h0m-8 8.2h0m.6 .4h0m.5-.8h0m3.8-3.2h0m5.4-3.1h0" stroke="#6bcd59" stroke-width="1" stroke-linecap="round"/><path d="M64.8 145.2h0m18.6-15.7h0m-1.4-1.9h0m-16.7 16.8h0m26.5-25h0" stroke="#277c8e" stroke-width="1" stroke-linecap="round"/><path d="M83.2 130.1h0m.6-.4h0m-1.4-2h0m-17.7 17.6h0m1-1.2h0m35.2-28.9h0m-9.6 10.1h0m.9-3.7h0m.3-3.2h0m5.5-3.8h0" stroke="#24848d" stroke-width="1" stroke-linecap="round"/><path d="M74 137.6h0m2.2-2.4h0m-.3 4h0" stroke="#fde724" stroke-width="1" stroke-linecap="round"/><path d="M84.6 128.5h0m-19.6 17.6h0m-.3-.8h0m-2.1-.6h0m4.4 3.2h0m-.7-.5h0m25.6-26.5h0m5.6-6.5h0m-3.5 5.2h0m1.1-4.3h0m2.4-1.1h0m-1.2 2.6h0m-4.8 6.7h0m1.6-5.4h0m5.3-3.9h0" stroke="#31648d" stroke-width="1" stroke-linecap="round"/><path d="M57.2 156.3h0m1.4-5.8h0m26.9-26.6h0m-29.2 27.9h0m32.4-25.1h0m.5-1.2h0m-2.6 1.4h0m-25.5 27.7h0m2-4.4h0m-1.4-2.4h0m-4.8 10.7h0m2.3-7.7h0m-2.7 5.7h0m29.2-29.6h0m-26.5 28.2h0m27.3-27.2h0m-31.7 29.6h0m6.7-6.7h0m22.7-24.7h0m-25.6 26h0m6.3-3.5h0m19.5-22h0m7.8-.7h0m-29.5 25.5h0m24.8-24.8h0m-28.6 25.5h0m26.5-26h0m.5-3.4h0m-27.3 25.9h0m28.2-26.2h0" stroke="#47186a" stroke-width="1" stroke-linecap="round"/><path d="M91 123.4h0m-26.7 23.3h0m23-20.4h0m-20.2 22.6h0m-6.3 .2h0m28.6-24.7h0m-25.1 25.9h0m22.4-27.5h0m-1.6 2.4h0m-1-.8h0m1.4 .9h0m-22.5 29.6h0m-3.3-3.6h0m-6.3 4h0m7.8 1.1h0m27-33.4h0m-23.8 22.9h0m-8.1 7.5h0" stroke="#443781" stroke-width="1" stroke-linecap="round"/><path d="M66.2 142.9h0m18.7-11.8h0m-18 15h0m15.4-16.8h0" stroke="#1f948b" stroke-width="1" stroke-linecap="round"/><path d="M73.9 137h0m-.5-.5h0m2.1-2.6h0m0 4.7h0m1.8-5.6h0m-2.4 3.4h0" stroke="#d4e11a" stroke-width="1" stroke-linecap="round"/><path d="M67.9 142.4h0m11.5-11.9h0m-11.3 13.3h0m1.8-1.5h0m12.1-11.3h0m-13.3 13.7h0m-1-1h0m10.7-11.5h0m-9.3 11.2h0m13.7-12.7h0" stroke="#2eb27c" stroke-width="1" stroke-linecap="round"/><path d="M81.4 130.6h0m1.3-1.1h0m-1.1 .8h0m-12.4 14.7h0m-1-.5h0m-.4-.7h0m-1.4 .9h0m-.6-.9h0m1.9 1.5h0m14.5-16.2h0m-14.2 12.9h0m-.1 2.1h0" stroke="#1fa386" stroke-width="1" stroke-linecap="round"/><path d="M69.3 144.9h0m-1.6-1.3h0m-.7-.4h0m15.2-13.3h0m.6 1.7h0" stroke="#39b976" stroke-width="1" stroke-linecap="round"/><path d="M82.8 127.7h0m-15.3 19.7h0m22-25.5h0m3.2-3h0m6.5-4.5h0m-8.2 9.5h0m5.1-9.7h0m-.5 .8h0m-1 2.2h0" stroke="#2a758e" stroke-width="1" stroke-linecap="round"/><path d="M60 149.6h0m30.8-26.4h0m-6.7 4.5h0m-19.3 19h0m24.4-22.5h0m-24.8 21.8h0m-8.1 6.9h0m10.2-4.4h0m-4.6 1h0m3.3-2.3h0" stroke="#414186" stroke-width="1" stroke-linecap="round"/><path d="M65.9 144.7h0m1.4 1h0m1.1 .7h0m-1.4-1.3h0m24.2-27h0m2.9-.2h0m-.5 0h0m-1.9 .7h0m5.4-.4h0m-7.6 1.4h0" stroke="#228b8d" stroke-width="1" stroke-linecap="round"/><path d="M77.3 135.7h0m-3 3.1h0" stroke="#e9e419" stroke-width="1" stroke-linecap="round"/><path d="M60.7 148.6h0m23.5-20.6h0m7-4.5h0m-2.6-2.1h0m-3.9 6.9h0m-1.2-.1h0m2 .8h0m3.5-7.1h0" stroke="#3d4a89" stroke-width="1" stroke-linecap="round"/><path d="M81.2 128.6h0m-13.5 15.8h0m14.7-12.9h0m-15.5 11.4h0m14.9-14.1h0m-13.3 15.9h0m.1-.3h0m12.5-16.9h0m-14.7 15.1h0" stroke="#1e9b89" stroke-width="1" stroke-linecap="round"/><path d="M81.4 129.5h0m-15.2 15.4h0m.5-.6h0m0 1.5h0" stroke="#24aa82" stroke-width="1" stroke-linecap="round"/><path d="M65.4 146.5h0m22.5-26.2h0m.7 .5h0m-23.3 25.7h0m21.7-24.4h0m6 1.8h0m1.7-3.9h0m-2.2-2.1h0m1-2.1h0" stroke="#39548b" stroke-width="1" stroke-linecap="round"/></g><rect x="25.40" y="103.80" width="83.90" height="82.20" fill="none" stroke="#a8a8a8" stroke-width="0.9"/><line x1="29.41" y1="186.00" x2="29.41" y2="187.60" stroke="#333" stroke-width="0.6"/><text x="29.41" y="194.20" font-size="7.05" text-anchor="middle" fill="#555555" stroke="#555555" stroke-width="0.13">−15</text><line x1="44.49" y1="186.00" x2="44.49" y2="187.60" stroke="#333" stroke-width="0.6"/><text x="44.49" y="194.20" font-size="7.05" text-anchor="middle" fill="#555555" stroke="#555555" stroke-width="0.13">−10</text><line x1="59.57" y1="186.00" x2="59.57" y2="187.60" stroke="#333" stroke-width="0.6"/><text x="59.57" y="194.20" font-size="7.05" text-anchor="middle" fill="#555555" stroke="#555555" stroke-width="0.13">−5</text><line x1="74.65" y1="186.00" x2="74.65" y2="187.60" stroke="#333" stroke-width="0.6"/><text x="74.65" y="194.20" font-size="7.05" text-anchor="middle" fill="#555555" stroke="#555555" stroke-width="0.13">0</text><line x1="89.73" y1="186.00" x2="89.73" y2="187.60" stroke="#333" stroke-width="0.6"/><text x="89.73" y="194.20" font-size="7.05" text-anchor="middle" fill="#555555" stroke="#555555" stroke-width="0.13">5</text><line x1="104.81" y1="186.00" x2="104.81" y2="187.60" stroke="#333" stroke-width="0.6"/><text x="104.81" y="194.20" font-size="7.05" text-anchor="middle" fill="#555555" stroke="#555555" stroke-width="0.13">10</text><line x1="23.80" y1="182.01" x2="25.40" y2="182.01" stroke="#333" stroke-width="0.6"/><text x="22.80" y="185.11" font-size="7.05" text-anchor="end" fill="#555555" stroke="#555555" stroke-width="0.13">−15</text><line x1="23.80" y1="167.10" x2="25.40" y2="167.10" stroke="#333" stroke-width="0.6"/><text x="22.80" y="170.20" font-size="7.05" text-anchor="end" fill="#555555" stroke="#555555" stroke-width="0.13">−10</text><line x1="23.80" y1="152.20" x2="25.40" y2="152.20" stroke="#333" stroke-width="0.6"/><text x="22.80" y="155.30" font-size="7.05" text-anchor="end" fill="#555555" stroke="#555555" stroke-width="0.13">−5</text><line x1="23.80" y1="137.30" x2="25.40" y2="137.30" stroke="#333" stroke-width="0.6"/><text x="22.80" y="140.40" font-size="7.05" text-anchor="end" fill="#555555" stroke="#555555" stroke-width="0.13">0</text><line x1="23.80" y1="122.40" x2="25.40" y2="122.40" stroke="#333" stroke-width="0.6"/><text x="22.80" y="125.50" font-size="7.05" text-anchor="end" fill="#555555" stroke="#555555" stroke-width="0.13">5</text><line x1="23.80" y1="107.50" x2="25.40" y2="107.50" stroke="#333" stroke-width="0.6"/><text x="22.80" y="110.60" font-size="7.05" text-anchor="end" fill="#555555" stroke="#555555" stroke-width="0.13">10</text><text x="7.00" y="144.90" font-size="8.10" text-anchor="middle" fill="#1a1a1a" transform="rotate(-90 7.00 144.90)">replicate 2</text><text x="67.35" y="202.00" font-size="8.10" text-anchor="middle" fill="#1a1a1a">replicate 1</text><clipPath id="cb1"><rect x="141.20" y="103.80" width="82.30" height="82.20"/></clipPath><g clip-path="url(#cb1)"><path d="M145.65 178.06L147.37 176.35L147.37 182.51L145.65 184.22Z" fill="#482273"/><path d="M146.94 176.31L149.10 174.17L149.10 181.26L146.94 183.40Z" fill="#31648d"/><path d="M148.67 174.40L150.82 172.26L150.82 179.74L148.67 181.89Z" fill="#1fa386"/><path d="M150.39 172.58L152.54 170.43L152.54 178.15L150.39 180.29Z" fill="#47c06e"/><path d="M152.11 170.75L154.27 168.61L154.27 176.55L152.11 178.69Z" fill="#57c665"/><path d="M153.84 168.92L155.99 166.78L155.99 174.96L153.84 177.10Z" fill="#6bcd59"/><path d="M155.56 167.16L157.72 165.02L157.72 173.29L155.56 175.43Z" fill="#6bcd59"/><path d="M157.28 165.47L159.44 163.33L159.44 171.55L157.28 173.69Z" fill="#7ed24e"/><path d="M159.01 163.79L161.16 161.65L161.16 169.81L159.01 171.95Z" fill="#7ed24e"/><path d="M160.73 162.11L162.89 159.97L162.89 168.07L160.73 170.21Z" fill="#7ed24e"/><path d="M162.46 160.42L164.61 158.28L164.61 166.32L162.46 168.46Z" fill="#7ed24e"/><path d="M164.18 158.74L166.33 156.60L166.33 164.58L164.18 166.72Z" fill="#7ed24e"/><path d="M165.90 157.06L168.06 154.92L168.06 162.84L165.90 164.98Z" fill="#7ed24e"/><path d="M167.63 155.37L169.78 153.23L169.78 161.10L167.63 163.24Z" fill="#92d741"/><path d="M169.35 153.69L171.51 151.55L171.51 159.36L169.35 161.50Z" fill="#92d741"/><path d="M171.08 152.08L173.23 149.94L173.23 157.54L171.08 159.68Z" fill="#92d741"/><path d="M172.80 150.49L174.95 148.35L174.95 155.71L172.80 157.85Z" fill="#92d741"/><path d="M174.52 148.89L176.68 146.75L176.68 153.88L174.52 156.02Z" fill="#92d741"/><path d="M176.25 147.30L178.40 145.15L178.40 152.05L176.25 154.19Z" fill="#92d741"/><path d="M177.97 145.70L180.13 143.56L180.13 150.22L177.97 152.37Z" fill="#92d741"/><path d="M179.69 144.10L181.85 141.96L181.85 148.40L179.69 150.54Z" fill="#a7db33"/><path d="M181.42 142.47L183.57 140.33L183.57 146.60L181.42 148.74Z" fill="#a7db33"/><path d="M183.14 140.79L185.30 138.65L185.30 144.86L183.14 147.00Z" fill="#a7db33"/><path d="M184.87 139.10L187.02 136.96L187.02 143.12L184.87 145.26Z" fill="#92d741"/><path d="M186.59 137.42L188.74 135.28L188.74 141.38L186.59 143.52Z" fill="#92d741"/><path d="M188.31 135.74L190.47 133.59L190.47 139.64L188.31 141.78Z" fill="#92d741"/><path d="M190.04 134.05L192.19 131.91L192.19 137.90L190.04 140.04Z" fill="#92d741"/><path d="M191.76 132.37L193.92 130.23L193.92 136.15L191.76 138.30Z" fill="#92d741"/><path d="M193.49 130.69L195.64 128.54L195.64 134.41L193.49 136.55Z" fill="#7ed24e"/><path d="M195.21 129.00L197.36 126.86L197.36 132.67L195.21 134.81Z" fill="#6bcd59"/><path d="M196.93 127.26L199.09 125.12L199.09 130.99L196.93 133.13Z" fill="#57c665"/><path d="M198.66 125.51L200.81 123.37L200.81 129.31L198.66 131.45Z" fill="#47c06e"/><path d="M200.38 123.76L202.54 121.62L202.54 127.64L200.38 129.78Z" fill="#47c06e"/><path d="M202.10 122.01L204.26 119.87L204.26 125.96L202.10 128.11Z" fill="#39b976"/><path d="M203.83 120.26L205.98 118.12L205.98 124.29L203.83 126.43Z" fill="#24aa82"/><path d="M205.55 118.51L207.71 116.37L207.71 122.62L205.55 124.76Z" fill="#1f948b"/><path d="M207.28 116.74L209.43 114.60L209.43 120.96L207.28 123.10Z" fill="#2e6c8e"/><path d="M209.00 114.94L211.16 112.80L211.16 119.33L209.00 121.47Z" fill="#482273"/><path d="M210.72 113.15L212.88 111.01L212.88 117.70L210.72 119.84Z" fill="#482273"/><path d="M212.45 111.64L214.60 109.50L214.60 115.78L212.45 117.92Z" fill="#47186a"/><path d="M194.4 136.9h0m-10.7 6.7h0m-10.7 10.4h0m-14.6 10.5h0m28.8-22.2h0m.7 8.4h0m-8.8-4.5h0" stroke="#a7db33" stroke-width="0.9" stroke-linecap="round" stroke-opacity="0.5"/><path d="M169.7 148.9h0m-13.6 9.7h0m-3 2.5h0m1.6-.6h0m42.1-39.5h0m1.1 15.4h0" stroke="#92d741" stroke-width="0.9" stroke-linecap="round" stroke-opacity="0.5"/><path d="M193.8 147h0m-25.1 14.7h0m21.7-35.1h0m-10 16.8h0m16.4-5.4h0m-36.5 18.2h0m1.8 5.4h0m19.6-22.7h0m-13.7 28.2h0" stroke="#7ed24e" stroke-width="0.9" stroke-linecap="round" stroke-opacity="0.5"/><path d="M210 119.4h0" stroke="#39548b" stroke-width="0.9" stroke-linecap="round" stroke-opacity="0.5"/><path d="M181.8 133.5h0" stroke="#fde724" stroke-width="0.9" stroke-linecap="round" stroke-opacity="0.5"/><path d="M158.7 166.1h0m43.6-37.5h0m2.7-4.4h0m.6 4.2h0" stroke="#39b976" stroke-width="0.9" stroke-linecap="round" stroke-opacity="0.5"/><path d="M148.1 179h0" stroke="#355c8c" stroke-width="0.9" stroke-linecap="round" stroke-opacity="0.5"/><path d="M162.9 185.3h0m34.1-53.1h0m-6.5 10h0m12.2-11.1h0m-52.7 38.3h0m12.8-14.7h0" stroke="#47c06e" stroke-width="0.9" stroke-linecap="round" stroke-opacity="0.5"/><path d="M196.5 125.6h0m-37.1 51.7h0" stroke="#57c665" stroke-width="0.9" stroke-linecap="round" stroke-opacity="0.5"/><path d="M195 142.1h0m-34.9 9.1h0" stroke="#e9e419" stroke-width="0.9" stroke-linecap="round" stroke-opacity="0.5"/><path d="M161.4 168.6h0m10.4-15.5h0m-3.9 2.5h0" stroke="#d4e11a" stroke-width="0.9" stroke-linecap="round" stroke-opacity="0.5"/><path d="M217.8 121.3h0m-75.2 56.1h0m72.3-64.6h0" stroke="#460c5f" stroke-width="0.9" stroke-linecap="round" stroke-opacity="0.5"/><path d="M206.5 124.2h0m-3.2-5.2h0m2.6 2h0m-57.6 54.3h0" stroke="#1e9b89" stroke-width="0.9" stroke-linecap="round" stroke-opacity="0.5"/><path d="M149.3 175.7h0m52.6-58.8h0" stroke="#228b8d" stroke-width="0.9" stroke-linecap="round" stroke-opacity="0.5"/><path d="M189.9 124.2h0m.8 10h0m-40.3 39.3h0m5.2-8.5h0m8-.2h0" stroke="#6bcd59" stroke-width="0.9" stroke-linecap="round" stroke-opacity="0.5"/><path d="M210.6 108.4h0" stroke="#482273" stroke-width="0.9" stroke-linecap="round" stroke-opacity="0.5"/><path d="M196.1 143.2h0m-9.7-6.2h0" stroke="#bfdf24" stroke-width="0.9" stroke-linecap="round" stroke-opacity="0.5"/><path d="M208.9 117.5h0" stroke="#3d4a89" stroke-width="0.9" stroke-linecap="round" stroke-opacity="0.5"/><path d="M149.3 176.1h0" stroke="#1fa386" stroke-width="0.9" stroke-linecap="round" stroke-opacity="0.5"/><path d="M147.2 183.3h0m62.2-75.5h0m10.2 9.5h0" stroke="#440154" stroke-width="0.9" stroke-linecap="round" stroke-opacity="0.5"/><path d="M207.7 118.6h0" stroke="#277c8e" stroke-width="0.9" stroke-linecap="round" stroke-opacity="0.5"/><path d="M143.8 178.7h0" stroke="#414186" stroke-width="0.9" stroke-linecap="round" stroke-opacity="0.5"/><path d="M197.9 126.6h0m-43.9 45.9h0" stroke="#2eb27c" stroke-width="0.9" stroke-linecap="round" stroke-opacity="0.5"/><path d="M215.6 119.2h0" stroke="#443781" stroke-width="0.9" stroke-linecap="round" stroke-opacity="0.5"/><path d="M154.6 182.9h0" stroke="#24848d" stroke-width="0.9" stroke-linecap="round" stroke-opacity="0.5"/><path d="M159.3 170.5h0m5.3-1.8h0m28.7-34.8h0m-45.2 36.1h0m3.7 .7h0m1.1 2.2h0m12.9-14.6h0m32.8-33.2h0m-1.5 6.8h0m2.2-2.3h0m-5.2 2.5h0m-24.5 24.4h0m24-23.2h0m-43.4 43.3h0m25.5-25.2h0m-16 14.2h0m36.2-34.5h0m-32.2 33h0m39.2-40h0m-22.6 22.8h0m-24.7 24.8h0m-3 1.9h0m4.7-7.3h0m37.9-38.4h0m-36.8 38.8h0m28.8-24.4h0m12.3-11.2h0m-4-.9h0m-10.2 7.9h0m-11.9 21.6h0m5.2-10.7h0m-24.5 19.8h0m26.6-23.6h0m-22.9 26.9h0m7.1-9.6h0m-2.3 .8h0m30.3-29.8h0m-35.3 36.1h0m28.3-33.4h0m-33.6 35.5h0" stroke="#6bcd59" stroke-width="1" stroke-linecap="round"/><path d="M147.7 178.7h0m62.3-59.4h0" stroke="#31648d" stroke-width="1" stroke-linecap="round"/><path d="M168.5 153.5h0m20.3-16.6h0m-3.3 7.5h0m-13.7 10.2h0m19-13.9h0m-29.2 23.8h0m31.7-33.5h0m-.7 2.8h0m-13.7 15.4h0m-7.2 4.4h0m11.6-13.1h0m2.9 2.6h0m-7 4.3h0m-13.7 13.9h0m26.8-29.4h0m-21.8 20.6h0m9.2-10.2h0m-10.5 21.5h0m12.8-21.3h0m-7 6.6h0m10.4-8h0m-5.8 8.8h0m-8.2 4.4h0m26.7-20.8h0m-10.5 6.5h0m-34 34.7h0m4.3-3.6h0m14.3-9.2h0m19.6-25.3h0m-19.3 16.1h0m-17.6 12.2h0m11.2-6.6h0m23.2-21h0m-15.1 9.7h0m-2.8 5.3h0m-14.7 22.7h0m.9-10.6h0m11-8.5h0m-4.5 4.2h0m-8.8 12.7h0m5.1-4.9h0m11.5-13.5h0m27.2-26h0m-34.5 30.5h0m3.5 5.1h0m-1.3-7.5h0m-1.4 7.8h0m.8-3.1h0m2.1-6.7h0m14.9-15.8h0" stroke="#92d741" stroke-width="1" stroke-linecap="round"/><path d="M165 157.2h0m19.3-17.6h0m-4.5 6.4h0m10.5-6.3h0m-9.5 5.5h0m-12.8 12.8h0m5.7-4.6h0m14.7-14.4h0m-12.5 14.7h0m-4.5 1.2h0m1.8-6.7h0m13.4-6.5h0m-25.9 22.6h0m26.8-28.1h0m-17.9 23.9h0m-6.8 6h0m9.9-9.3h0m6.7-11.9h0m5.6-5.6h0m7.9 .1h0m-3.9 1.4h0m-16.8 10.6h0m7.1-1.8h0m-2.6-1.8h0m5.2-5.7h0" stroke="#bfdf24" stroke-width="1" stroke-linecap="round"/><path d="M175.6 147.8h0m2.5-.5h0m-11.7 13.4h0m16.6-15h0m-3.2-.9h0m9.8-7.8h0m-16.6 21h0m-1.1-8.4h0" stroke="#e9e419" stroke-width="1" stroke-linecap="round"/><path d="M207.9 120.9h0m-3.4-1.2h0m-54.9 57.9h0m51.9-60.4h0m-51.4 59.5h0m-.2-1.3h0" stroke="#1e9b89" stroke-width="1" stroke-linecap="round"/><path d="M214.1 112.6h0m-68.8 66.3h0m2.3 .7h0m.6 1.5h0m65.5-66.5h0m-66.9 65.4h0" stroke="#482273" stroke-width="1" stroke-linecap="round"/><path d="M196 131.3h0m-14.8 8.2h0m-.1 6.2h0m-3.2-.9h0m4.3 5.7h0m-1.8-8.5h0m-17.1 23h0m5.6-10.6h0m27.6-25.1h0m-12.4 16.2h0m7.8-9.1h0m-27.9 20.3h0m-2.9 9.8h0m33.4-33.1h0m-25.4 22.6h0m19.3-17.9h0m4.8-2.8h0m-11.9 13.5h0m12.1-18h0m-29.9 30.3h0m28.3-22h0m-18.8 18.5h0m-1.9 1.9h0m9.2-13.9h0m-14.1 10.2h0m3.5 6.4h0m29.1-33.2h0m-9.9 12h0m-2-1.3h0m-13.1 9.3h0m16.1-3.9h0m-4.8-2.8h0m-14.6 13.3h0m11.3-4.4h0m1-9.7h0m8-8.5h0m5-3.7h0" stroke="#a7db33" stroke-width="1" stroke-linecap="round"/><path d="M157.5 172.1h0m-.9-1.3h0m34.7-34.5h0m-34.7 21.8h0m11.1 1.6h0m-4.5 2.5h0m3.4-1.4h0m8.6-1.6h0m6.7-20.5h0m-24.8 34.2h0m30.2-38h0m1.2 3.4h0m-14.1 17.6h0m-18.7 20.8h0m45.9-47.9h0m-7 .1h0m2.8 3.1h0m.3-4.7h0m-42.5 44.5h0m35.1-30.1h0m10.7-16.5h0m-15.3 17.3h0m-21.3 26.3h0m-4.2-5.7h0m38-37h0m3.1 1h0m-5.8-.2h0" stroke="#57c665" stroke-width="1" stroke-linecap="round"/><path d="M151.1 174.3h0m42.9-41h0m7.4-5.3h0m-1.1-2h0m.5 .1h0m2.4-1.1h0m-.8-3.9h0m2.1 1.5h0m-.9 4h0m-48.3 50.9h0" stroke="#2eb27c" stroke-width="1" stroke-linecap="round"/><path d="M179.7 146.8h0m15.1-8.9h0m-9.1 3.3h0m5.3-6.5h0m-20.1 21.9h0m6.5-8.1h0m-16.3 15.7h0m33.6-30.1h0m-16.4 14.1h0m-10.6 6.8h0m19.4-11.7h0m-1.2 2.5h0m-3.9 0h0" stroke="#d4e11a" stroke-width="1" stroke-linecap="round"/><path d="M212.9 113.5h0m.7 2.3h0m-1.5 1.1h0m2.2-4.3h0m-67.7 65.6h0m-.7-.1h0" stroke="#462d7c" stroke-width="1" stroke-linecap="round"/><path d="M151.3 176.2h0m52.3-52.2h0m-5.2 .1h0m-47.9 52.6h0m.2-.1h0m54-56.7h0m-48.1 52.2h0m43.5-47.5h0m-.7 5.5h0m4.2-7.5h0m1.9 2.4h0m2-1.1h0" stroke="#24aa82" stroke-width="1" stroke-linecap="round"/><path d="M207 117.1h0m.9 1.2h0m-58.1 61.2h0m58.8-60.5h0m.7 1h0m-62.4 56.7h0" stroke="#2e6c8e" stroke-width="1" stroke-linecap="round"/><path d="M161.7 168.3h0m-5.3-1.4h0m7.2-4.8h0m38.9-40.4h0m-7.3 10.4h0m-40.4 40.4h0m37.9-40.1h0m-39.5 44.2h0m12.3-15.4h0m-13.5 9.2h0m45.8-37.4h0m-47.2 41.4h0m1.1 1.2h0m15.8-15.6h0m36-34.7h0" stroke="#47c06e" stroke-width="1" stroke-linecap="round"/><path d="M215.7 115.1h0m-5.4-.5h0m.5-.3h0m2.3 1.7h0m.9 .2h0m-67.2 65.8h0" stroke="#460c5f" stroke-width="1" stroke-linecap="round"/><path d="M200.5 125.4h0m5.5-5h0m1.1 .2h0m-.5 2.5h0m-56.5 52.6h0m.9 3.2h0" stroke="#1fa386" stroke-width="1" stroke-linecap="round"/><path d="M202.4 126.8h0m-9.7 12.7h0m3.1-11.4h0m-.5 4.2h0m-21.3 22.5h0m5.5-5h0m-4.6 .8h0m-6 7.1h0m5.4-5h0m6.2-14.2h0m-7.8 6.3h0m-14.7 25.1h0m33.5-35.2h0m-25.9 24.1h0m4-8.2h0m-16.3 18.7h0m6.9-.6h0m-7.1-4.8h0m43.1-29.3h0m-41.4 30.4h0m40.1-31.5h0m-36.5 29.1h0m32.2-31.2h0m-32.2 41.1h0m16-16.7h0m-21.2 13.3h0m18.5-12.2h0m-4.5 4.8h0m18.8-15.6h0m-25.1 16.7h0m-7.7 13.8h0m25.8-30.5h0m-6.4 6.2h0m-1.3 1.6h0m-16.6 21.2h0m43.4-42.6h0m-42 43.6h0m29.7-36.4h0m1.4 1.4h0m-8.7 7.9h0m-25.7 23.6h0m23.7-18.1h0m19.4-24.4h0" stroke="#7ed24e" stroke-width="1" stroke-linecap="round"/><path d="M210.3 116.1h0m1.4-2h0m-63.8 66.6h0m-2.8 1h0m71.3-68.9h0m-5.6 1.6h0m2.5 1.1h0m3.9-5.6h0" stroke="#47186a" stroke-width="1" stroke-linecap="round"/><path d="M150.9 179.5h0m57.3-62.4h0m-60 60.8h0" stroke="#277c8e" stroke-width="1" stroke-linecap="round"/><path d="M209.6 114.2h0m6.1-1.2h0m-6.7 4.3h0m-62 60.9h0m-2.3-1.7h0" stroke="#414186" stroke-width="1" stroke-linecap="round"/><path d="M147.4 176.9h0m-.9-2h0m61.3-54.2h0m-.8-.3h0" stroke="#24848d" stroke-width="1" stroke-linecap="round"/><path d="M150.1 179h0m57.2-57.4h0" stroke="#1f948b" stroke-width="1" stroke-linecap="round"/><path d="M208 120.1h0m-.2-.8h0m-.6 2.7h0m3.1 .1h0m-1.6-1.9h0m-57.7 59.1h0" stroke="#228b8d" stroke-width="1" stroke-linecap="round"/><path d="M184.7 139h0m-17.5 18.9h0" stroke="#fde724" stroke-width="1" stroke-linecap="round"/><path d="M210.6 114h0m1.6-3.3h0m4.5 3.6h0m-1.8-1.6h0m-2.4-2.6h0m-.1 4.8h0" stroke="#440154" stroke-width="1" stroke-linecap="round"/><path d="M195.6 124.3h0m-41.7 43h0m.1 7.7h0m42.7-47.4h0m-47.9 42.5h0m5.4 8.7h0m-2.9-8.7h0m5.3-.3h0m-6.1 4.9h0m-1 1.9h0m53.7-53.9h0m.7 2.1h0m-57 47.8h0m58.2-48.3h0m-50 47.4h0" stroke="#39b976" stroke-width="1" stroke-linecap="round"/><path d="M148 178.2h0m62.1-59.8h0" stroke="#355c8c" stroke-width="1" stroke-linecap="round"/><path d="M146.6 177.3h0m.1-.1h0" stroke="#39548b" stroke-width="1" stroke-linecap="round"/><path d="M146.6 178.4h0m66.4-65.5h0m2.4 .1h0m-66.9 69h0m64.2-65.7h0m-67 65.3h0" stroke="#443781" stroke-width="1" stroke-linecap="round"/><path d="M146.9 178h0m62.4-61.2h0" stroke="#3d4a89" stroke-width="1" stroke-linecap="round"/></g><rect x="141.20" y="103.80" width="82.30" height="82.20" fill="none" stroke="#a8a8a8" stroke-width="0.9"/><line x1="144.91" y1="186.00" x2="144.91" y2="187.60" stroke="#333" stroke-width="0.6"/><text x="144.91" y="194.20" font-size="7.05" text-anchor="middle" fill="#555555" stroke="#555555" stroke-width="0.13">0.00</text><line x1="163.44" y1="186.00" x2="163.44" y2="187.60" stroke="#333" stroke-width="0.6"/><text x="163.44" y="194.20" font-size="7.05" text-anchor="middle" fill="#555555" stroke="#555555" stroke-width="0.13">0.25</text><line x1="181.98" y1="186.00" x2="181.98" y2="187.60" stroke="#333" stroke-width="0.6"/><text x="181.98" y="194.20" font-size="7.05" text-anchor="middle" fill="#555555" stroke="#555555" stroke-width="0.13">0.50</text><line x1="200.52" y1="186.00" x2="200.52" y2="187.60" stroke="#333" stroke-width="0.6"/><text x="200.52" y="194.20" font-size="7.05" text-anchor="middle" fill="#555555" stroke="#555555" stroke-width="0.13">0.75</text><line x1="219.05" y1="186.00" x2="219.05" y2="187.60" stroke="#333" stroke-width="0.6"/><text x="219.05" y="194.20" font-size="7.05" text-anchor="middle" fill="#555555" stroke="#555555" stroke-width="0.13">1.00</text><line x1="139.60" y1="181.73" x2="141.20" y2="181.73" stroke="#333" stroke-width="0.6"/><text x="138.60" y="184.83" font-size="7.05" text-anchor="end" fill="#555555" stroke="#555555" stroke-width="0.13">0.00</text><line x1="139.60" y1="163.31" x2="141.20" y2="163.31" stroke="#333" stroke-width="0.6"/><text x="138.60" y="166.41" font-size="7.05" text-anchor="end" fill="#555555" stroke="#555555" stroke-width="0.13">0.25</text><line x1="139.60" y1="144.90" x2="141.20" y2="144.90" stroke="#333" stroke-width="0.6"/><text x="138.60" y="148.00" font-size="7.05" text-anchor="end" fill="#555555" stroke="#555555" stroke-width="0.13">0.50</text><line x1="139.60" y1="126.49" x2="141.20" y2="126.49" stroke="#333" stroke-width="0.6"/><text x="138.60" y="129.59" font-size="7.05" text-anchor="end" fill="#555555" stroke="#555555" stroke-width="0.13">0.75</text><line x1="139.60" y1="108.07" x2="141.20" y2="108.07" stroke="#333" stroke-width="0.6"/><text x="138.60" y="111.17" font-size="7.05" text-anchor="end" fill="#555555" stroke="#555555" stroke-width="0.13">1.00</text><text x="121.10" y="144.90" font-size="8.10" text-anchor="middle" fill="#1a1a1a" transform="rotate(-90 121.10 144.90)">replicate 2</text><text x="182.35" y="202.00" font-size="8.10" text-anchor="middle" fill="#1a1a1a">replicate 1</text><clipPath id="cb2"><rect x="256.20" y="103.80" width="82.30" height="82.20"/></clipPath><g clip-path="url(#cb2)"><path d="M260.65 178.27L262.43 176.50L262.43 182.24L260.65 184.01Z" fill="#462d7c"/><path d="M261.98 176.71L264.21 174.50L264.21 180.72L261.98 182.93Z" fill="#414186"/><path d="M263.76 174.70L265.99 172.49L265.99 179.19L263.76 181.40Z" fill="#277c8e"/><path d="M265.54 172.69L267.77 170.48L267.77 177.66L265.54 179.87Z" fill="#1e9b89"/><path d="M267.32 170.83L269.55 168.62L269.55 175.99L267.32 178.20Z" fill="#2eb27c"/><path d="M269.10 169.02L271.33 166.81L271.33 174.26L269.10 176.47Z" fill="#47c06e"/><path d="M270.88 167.20L273.10 164.99L273.10 172.54L270.88 174.75Z" fill="#6bcd59"/><path d="M272.66 165.39L274.88 163.18L274.88 170.82L272.66 173.03Z" fill="#6bcd59"/><path d="M274.44 163.58L276.66 161.37L276.66 169.10L274.44 171.31Z" fill="#7ed24e"/><path d="M276.22 161.76L278.44 159.56L278.44 167.37L276.22 169.58Z" fill="#7ed24e"/><path d="M278.00 159.95L280.22 157.74L280.22 165.65L278.00 167.86Z" fill="#7ed24e"/><path d="M279.78 158.14L282.00 155.93L282.00 163.93L279.78 166.14Z" fill="#92d741"/><path d="M281.56 156.33L283.78 154.12L283.78 162.20L281.56 164.41Z" fill="#92d741"/><path d="M283.34 154.51L285.56 152.30L285.56 160.48L283.34 162.69Z" fill="#92d741"/><path d="M285.12 152.70L287.34 150.49L287.34 158.76L285.12 160.97Z" fill="#92d741"/><path d="M286.90 150.89L289.12 148.68L289.12 157.04L286.90 159.25Z" fill="#92d741"/><path d="M288.68 149.08L290.90 146.87L290.90 155.31L288.68 157.52Z" fill="#92d741"/><path d="M290.45 147.26L292.68 145.05L292.68 153.59L290.45 155.80Z" fill="#92d741"/><path d="M292.23 145.45L294.46 143.24L294.46 151.87L292.23 154.08Z" fill="#92d741"/><path d="M294.01 143.64L296.24 141.43L296.24 150.15L294.01 152.35Z" fill="#92d741"/><path d="M295.79 141.83L298.02 139.62L298.02 148.41L295.79 150.62Z" fill="#92d741"/><path d="M297.57 140.12L299.80 137.91L299.80 146.60L297.57 148.81Z" fill="#92d741"/><path d="M299.35 138.40L301.58 136.19L301.58 144.78L299.35 146.99Z" fill="#92d741"/><path d="M301.13 136.68L303.36 134.47L303.36 142.96L301.13 145.17Z" fill="#92d741"/><path d="M302.91 134.97L305.14 132.76L305.14 141.14L302.91 143.35Z" fill="#92d741"/><path d="M304.69 133.25L306.91 131.04L306.91 139.32L304.69 141.53Z" fill="#92d741"/><path d="M306.47 131.53L308.69 129.33L308.69 137.50L306.47 139.71Z" fill="#a7db33"/><path d="M308.25 129.82L310.47 127.61L310.47 135.68L308.25 137.89Z" fill="#a7db33"/><path d="M310.03 128.10L312.25 125.89L312.25 133.86L310.03 136.07Z" fill="#a7db33"/><path d="M311.81 126.39L314.03 124.18L314.03 132.04L311.81 134.25Z" fill="#92d741"/><path d="M313.59 124.67L315.81 122.46L315.81 130.22L313.59 132.43Z" fill="#7ed24e"/><path d="M315.37 122.95L317.59 120.74L317.59 128.40L315.37 130.61Z" fill="#6bcd59"/><path d="M317.15 121.24L319.37 119.03L319.37 126.58L317.15 128.79Z" fill="#57c665"/><path d="M318.93 119.52L321.15 117.31L321.15 124.77L318.93 126.97Z" fill="#39b976"/><path d="M320.71 117.80L322.93 115.59L322.93 122.95L320.71 125.16Z" fill="#2eb27c"/><path d="M322.48 116.18L324.71 113.97L324.71 121.03L322.48 123.24Z" fill="#228b8d"/><path d="M324.26 114.65L326.49 112.44L326.49 119.02L324.26 121.23Z" fill="#31648d"/><path d="M326.04 113.13L328.27 110.92L328.27 117.02L326.04 119.23Z" fill="#31648d"/><path d="M327.82 111.60L330.05 109.39L330.05 115.01L327.82 117.22Z" fill="#277c8e"/><path d="M329.60 110.07L331.83 107.86L331.83 113.00L329.60 115.21Z" fill="#1f948b"/><path d="M300.9 152.4h0m9.7-5h0m-22.2 18.5h0m-12.6 10.2h0m46.7-49.8h0m-6.9-.7h0m-21.9 26.5h0m-20.4 14.3h0m26.9-25h0" stroke="#6bcd59" stroke-width="0.9" stroke-linecap="round" stroke-opacity="0.5"/><path d="M269.6 178.2h0" stroke="#1f948b" stroke-width="0.9" stroke-linecap="round" stroke-opacity="0.5"/><path d="M304.6 137.5h0m15.5-2.7h0m-44.7 24.9h0m-3 12.9h0m5 2h0m.6-13.7h0m33.5-31.1h0m-26.4 6.4h0m-14.5 30.8h0" stroke="#7ed24e" stroke-width="0.9" stroke-linecap="round" stroke-opacity="0.5"/><path d="M334 114.4h0" stroke="#1e9b89" stroke-width="0.9" stroke-linecap="round" stroke-opacity="0.5"/><path d="M282.4 163.6h0m14.8-15.8h0m-17.8 7.9h0m-12.3 5.4h0m9.9 3.2h0m6.9-7.3h0m-9.8 8.5h0m7.2 4.8h0" stroke="#92d741" stroke-width="0.9" stroke-linecap="round" stroke-opacity="0.5"/><path d="M329 108.9h0m-11.7 9.4h0" stroke="#1fa386" stroke-width="0.9" stroke-linecap="round" stroke-opacity="0.5"/><path d="M326.8 131.2h0m-11-5.7h0m-4-6.2h0m-36.8 45h0m18.5-27.9h0m-22.6 37h0m30.4-23.9h0m-19 11.4h0m32.2-45.5h0" stroke="#57c665" stroke-width="0.9" stroke-linecap="round" stroke-opacity="0.5"/><path d="M260.1 170.1h0" stroke="#2a758e" stroke-width="0.9" stroke-linecap="round" stroke-opacity="0.5"/><path d="M265.1 179.4h0m59.7-70.9h0m3.3 9h0m2.8-3.6h0" stroke="#31648d" stroke-width="0.9" stroke-linecap="round" stroke-opacity="0.5"/><path d="M314.1 131h0m-17.4 24.1h0m-14.2 .7h0m29.1-29.2h0m4.9 6.8h0m-39.2 29.1h0m30.1-22h0m10.7 3.5h0m-33.1 20.3h0" stroke="#a7db33" stroke-width="0.9" stroke-linecap="round" stroke-opacity="0.5"/><path d="M266.3 169.8h0m50.8-53.6h0m-51.2 58h0" stroke="#24aa82" stroke-width="0.9" stroke-linecap="round" stroke-opacity="0.5"/><path d="M261.6 182.3h0" stroke="#482273" stroke-width="0.9" stroke-linecap="round" stroke-opacity="0.5"/><path d="M308.8 140.7h0m-6.8-1.1h0m-10.5 23h0m28.3-39.3h0m-14.8 19.8h0" stroke="#bfdf24" stroke-width="0.9" stroke-linecap="round" stroke-opacity="0.5"/><path d="M323.3 120.6h0" stroke="#2eb27c" stroke-width="0.9" stroke-linecap="round" stroke-opacity="0.5"/><path d="M324.7 123.7h0" stroke="#47c06e" stroke-width="0.9" stroke-linecap="round" stroke-opacity="0.5"/><path d="M276.2 166.1h0" stroke="#fde724" stroke-width="0.9" stroke-linecap="round" stroke-opacity="0.5"/><path d="M334.6 114.9h0" stroke="#228b8d" stroke-width="0.9" stroke-linecap="round" stroke-opacity="0.5"/><path d="M306.1 157.4h0" stroke="#39b976" stroke-width="0.9" stroke-linecap="round" stroke-opacity="0.5"/><path d="M263.2 178.2h0" stroke="#414186" stroke-width="0.9" stroke-linecap="round" stroke-opacity="0.5"/><path d="M331.6 113.1h0m-67.7 63.7h0" stroke="#277c8e" stroke-width="0.9" stroke-linecap="round" stroke-opacity="0.5"/><path d="M326.8 114.6h0m-.2 0h0m-65 60.7h0m64.5-61.2h0m.3-2.2h0m-.5 3.1h0" stroke="#31648d" stroke-width="1" stroke-linecap="round"/><path d="M311.8 129.2h0m-35.6 36.8h0m11.1-10.3h0m-14.8 9.1h0m2.8 1h0m30.5-26.5h0m-15 14.1h0m16.4-13.4h0m-28.1 20.4h0m31.4-26.3h0m-24.3 19h0m-8.3 14h0m17.7-24.7h0m-19.8 27.2h0m38.4-47h0m-12 13.9h0m6.2-4h0m-22.6 28.3h0m1.2-10h0m8.3-13h0m13.2-1.3h0m-12.3 10.3h0m19.8-17.7h0m-41.1 41.9h0m39.8-45.6h0m-25.4 21.3h0m28-20.6h0m-35 36.9h0m31.7-38.5h0m-37.7 41.5h0m-2.5-4.3h0m25.9-21.9h0m-3.1 6.8h0m12.5-20.3h0m-5.8 10.7h0m-19.7 20.9h0m8.3-8.4h0m4.6-4.7h0m13.6-8.4h0m-4-2h0m9.4-5.8h0m-31.9 30.5h0m28.2-31.9h0m-9.7 8.9h0m14.5-12.4h0m-35.2 37.7h0m-6 3.8h0m-4.7 6.6h0m32.3-36.2h0m-.3-.3h0" stroke="#7ed24e" stroke-width="1" stroke-linecap="round"/><path d="M314.4 124.5h0m-34.8 38.9h0m-6.6 2.6h0m27.8-28.1h0m-25.6 29.5h0m33.3-30.1h0m-15.7 14.5h0m9.6-13.3h0m-1.6 4h0m-24.6 16.2h0m1.9 2h0m2.3 3.2h0m-7.9 6.5h0m-1.6-4.8h0m19.5-15.8h0m25.7-25.4h0m-32.5 35.6h0m.5 2.7h0m-3.9 3.9h0m16.5-18.4h0m2.5-6.1h0m-10.6 9.1h0m-11.3 12.8h0m-3.6 4.5h0m40.4-40.8h0m-22.6 25.8h0m15.3-17.2h0m-28.2 26.7h0m34.8-40.4h0m-39.3 42.5h0m22.9-18.3h0m4.8-9.3h0m-29.6 29h0" stroke="#6bcd59" stroke-width="1" stroke-linecap="round"/><path d="M297.9 143.5h0m11.7-7.4h0m-7 8.2h0m-4.4 2.5h0m1.6-3.7h0m-2 3h0m-14.5 7.4h0m6-.9h0m6.3-6.4h0m13.6-11.7h0m1.2-9.1h0m-18.1 23.7h0m3.6-.5h0m-12.3 14.2h0m13.6-19.1h0m-11.6 7.6h0m20.3-10.6h0m-12.6 4.4h0m12.4-7.5h0m8.5-3.3h0" stroke="#bfdf24" stroke-width="1" stroke-linecap="round"/><path d="M322.9 116h0m6.8-5h0m-4.2 7.7h0m4.4-8.5h0m.9 4.6h0m-63.7 60.6h0m60.8-62h0m-62.1 60.6h0m58.3-53.9h0" stroke="#228b8d" stroke-width="1" stroke-linecap="round"/><path d="M286.6 155.3h0m12.4-11.6h0m5.6-5.5h0m-16.1 15.2h0m8.7-14.7h0m-6.1 13.9h0m-1.7 2.1h0m24.4-24.2h0m-3.4-9h0m-29.5 43.7h0m22.8-29.8h0m3.3-4.8h0m-28.6 35.4h0m21.2-27.9h0m-23.3 27h0m2.4-7.4h0m36.6-31.8h0m-16.6 22.8h0m-10.5 5.6h0m19.4-21.5h0m-26.6 30.1h0m15.1-16.7h0m-18.1 8h0m8.1-.2h0m25.7-18.8h0m-9.2 1.8h0m6.2-6.4h0m-6.8 4.5h0m9.7-2.5h0m-30.8 24.7h0m17.6-17.6h0m-26.1 28.5h0m33.8-27h0m-13.9 4.8h0m24-17.1h0m-.9-1.5h0m-20.6 15.9h0m-4.4 6.9h0m6.8-.2h0m-3.7-5.7h0m20-15.1h0m-38.1 36.7h0m3.5-5.9h0m14.2-10.4h0m-8.7 7.3h0m27.5-35.4h0m-7 13.4h0m10.8-7.4h0m-11.8 11.2h0m-9.6 11.3h0m-14.3 17.1h0m-3.1-2.2h0m14.2-16.9h0m25.3-25.9h0m-16.1 22.6h0m10.5-12h0m-20.1 6.6h0" stroke="#92d741" stroke-width="1" stroke-linecap="round"/><path d="M329.9 112.2h0m-4.3 3.3h0m1.6 2.1h0m.4-.5h0m-1.2-3.2h0m-61.7 62.5h0m-1.1 .6h0m64.7-60.8h0" stroke="#355c8c" stroke-width="1" stroke-linecap="round"/><path d="M303.8 140.3h0m-9.7 4.1h0m-9.2 19.6h0m2.2-6.3h0m-3.8 3.4h0m-5.6-3.5h0m13.1-4h0m-19.8 16.1h0m35.6-35h0m7.9-7.7h0m-11.8 7.1h0m-6.4 10h0m8.9-9.5h0m-22.9 18h0m-.8 9h0m7.9-13.8h0m14.4-7.3h0m-3.2-4.4h0m-9.4 14.7h0m-1.3-4.1h0m8.3 .2h0m4.8-6.2h0m-16.3 12h0m.5 3.9h0m17.4-16h0m-22 19.8h0m31.1-30.4h0m-14.1 13.2h0m-25.7 26.6h0m26.1-22.6h0m-5.9 2.1h0m13.6-11.9h0m-28.2 30.6h0m3-2.5h0m-.3-5.6h0m24-22.6h0m3.6-3.9h0m-8.8 4.7h0m-7.7 12h0m-18.8 15.4h0m12.2-12.5h0m28-29.1h0m-28.4 33.4h0m25.4-27.2h0m-3.3 1.7h0" stroke="#a7db33" stroke-width="1" stroke-linecap="round"/><path d="M262 176.7h0m1.2 6.1h0m.1-4.3h0m1.4 1.3h0m-.2-1.5h0" stroke="#443781" stroke-width="1" stroke-linecap="round"/><path d="M329.1 112.5h0m.6-2.2h0m2.3 1.9h0m-66.5 65.3h0m66.9-66.1h0m-1.6 .4h0m-1.8 .3h0m.7 1.5h0m.3-1.7h0m-64.7 64.9h0" stroke="#24848d" stroke-width="1" stroke-linecap="round"/><path d="M328.1 112.2h0m-60.8 62.5h0m-.8 .7h0m63.2-65.4h0m-6.2 8.1h0m-59.9 55.6h0m60.9-54.4h0" stroke="#1f948b" stroke-width="1" stroke-linecap="round"/><path d="M311.2 131.4h0m-18.1 22h0m21.8-26.7h0m3.3 5.8h0m-9.2-1.3h0m-1-4.6h0m-.7-.6h0m-6.6 7.2h0m-6.2 12.1h0m-.6 1.1h0m14.1-11.4h0m.5-2.3h0m-20.5 15.8h0m20.9-8.7h0" stroke="#d4e11a" stroke-width="1" stroke-linecap="round"/><path d="M320.3 121.4h0m-52.7 48.7h0m55.7-47.2h0m-2.2-1.4h0m-3.4-3.9h0m3.1 1.2h0m-50.3 56.4h0m49.1-54h0m1.2-.6h0m-49.5 49.2h0m49.5-48.3h0m-51.2 49.5h0m41-35.3h0" stroke="#2eb27c" stroke-width="1" stroke-linecap="round"/><path d="M274.9 174.1h0m41.9-51.9h0m1.7 2.1h0m.8-.2h0m-48.3 43.8h0m4.3-2h0m2.7 7.1h0m40.1-48.3h0m2.8-.1h0m-43.5 40.8h0m-2.4 1.7h0m21.5-26.2h0m-25.3 27.8h0m48.7-46.4h0m-7.6 4.5h0m8.2-3.1h0" stroke="#47c06e" stroke-width="1" stroke-linecap="round"/><path d="M328.5 113h0m1.9-1.1h0m-66.3 64.5h0m.8 1.2h0" stroke="#2e6c8e" stroke-width="1" stroke-linecap="round"/><path d="M329.5 115.8h0m-65.6 62.9h0m65-63.1h0m-66.4 60.2h0m65-60h0" stroke="#39548b" stroke-width="1" stroke-linecap="round"/><path d="M260.6 181.8h0m1.4-3.7h0m.3-.7h0m-3.3 2.4h0m1.8-.9h0m-.3 1.3h0" stroke="#462d7c" stroke-width="1" stroke-linecap="round"/><path d="M267.7 172.9h0m54.3-50h0m9.1-14.3h0m-63 66.4h0m49.9-52.4h0m-53.5 52.2h0m4.4-.1h0m-1-1.4h0" stroke="#1fa386" stroke-width="1" stroke-linecap="round"/><path d="M263.3 181h0m-.8-.7h0" stroke="#47186a" stroke-width="1" stroke-linecap="round"/><path d="M314.9 119.6h0m-23.4 33.3h0m-18.5 16.1h0m18-18.8h0m-24.4 13.6h0m11.4-.9h0m-2.4 1.5h0m-4.9 5.5h0m35.3-33.7h0m-33.2 32.5h0m22-23.8h0m26.6-21.5h0m-21.5 17.7h0m.2-6.3h0m-.2 6.1h0m2.9-2.4h0m.6 9.8h0m-31.6 24.7h0m-1.3-6.5h0m3.3-1.1h0" stroke="#57c665" stroke-width="1" stroke-linecap="round"/><path d="M326.8 114.8h0m2.3-5.9h0m-1.3 2.9h0m3.9 1.1h0m-65.8 62.6h0m61.4-60h0" stroke="#277c8e" stroke-width="1" stroke-linecap="round"/><path d="M262.9 175.5h0m70.8-55.5h0m-8.1-4.2h0" stroke="#3d4a89" stroke-width="1" stroke-linecap="round"/><path d="M320.2 118.4h0m-49.7 52.6h0m49.8-48.2h0m-50.3 47.7h0m43.8-41.1h0m-40.5 40.4h0m-5.4-.1h0" stroke="#39b976" stroke-width="1" stroke-linecap="round"/><path d="M264.4 178.2h0m-4 2.5h0" stroke="#414186" stroke-width="1" stroke-linecap="round"/><path d="M260.2 179.8h0m1.4 .9h0m-1.3 1.2h0m1.4 .4h0m1-1.3h0" stroke="#482273" stroke-width="1" stroke-linecap="round"/><path d="M328.4 112h0m-2.9 6.9h0m1.2-7.7h0m-3.1 4h0m-.6 2.2h0m7.9-4h0m-67.6 61.6h0m3.8 1.4h0m-2.3 .5h0" stroke="#2a758e" stroke-width="1" stroke-linecap="round"/><path d="M266.4 171.7h0m3.8 3.8h0m-4.8-3.4h0m55-50.3h0m.2-5.7h0" stroke="#24aa82" stroke-width="1" stroke-linecap="round"/><path d="M309.5 132.2h0" stroke="#e9e419" stroke-width="1" stroke-linecap="round"/><path d="M266.9 170.7h0m-.2 3h0m.9 2.3h0" stroke="#1e9b89" stroke-width="1" stroke-linecap="round"/><path d="M260.6 180.6h0" stroke="#460c5f" stroke-width="1" stroke-linecap="round"/></g><rect x="256.20" y="103.80" width="82.30" height="82.20" fill="none" stroke="#a8a8a8" stroke-width="0.9"/><line x1="259.91" y1="186.00" x2="259.91" y2="187.60" stroke="#333" stroke-width="0.6"/><text x="259.91" y="194.20" font-size="7.05" text-anchor="middle" fill="#555555" stroke="#555555" stroke-width="0.13">0.00</text><line x1="278.44" y1="186.00" x2="278.44" y2="187.60" stroke="#333" stroke-width="0.6"/><text x="278.44" y="194.20" font-size="7.05" text-anchor="middle" fill="#555555" stroke="#555555" stroke-width="0.13">0.25</text><line x1="296.98" y1="186.00" x2="296.98" y2="187.60" stroke="#333" stroke-width="0.6"/><text x="296.98" y="194.20" font-size="7.05" text-anchor="middle" fill="#555555" stroke="#555555" stroke-width="0.13">0.50</text><line x1="315.52" y1="186.00" x2="315.52" y2="187.60" stroke="#333" stroke-width="0.6"/><text x="315.52" y="194.20" font-size="7.05" text-anchor="middle" fill="#555555" stroke="#555555" stroke-width="0.13">0.75</text><line x1="334.05" y1="186.00" x2="334.05" y2="187.60" stroke="#333" stroke-width="0.6"/><text x="334.05" y="194.20" font-size="7.05" text-anchor="middle" fill="#555555" stroke="#555555" stroke-width="0.13">1.00</text><line x1="254.60" y1="181.73" x2="256.20" y2="181.73" stroke="#333" stroke-width="0.6"/><text x="253.60" y="184.83" font-size="7.05" text-anchor="end" fill="#555555" stroke="#555555" stroke-width="0.13">0.00</text><line x1="254.60" y1="163.31" x2="256.20" y2="163.31" stroke="#333" stroke-width="0.6"/><text x="253.60" y="166.41" font-size="7.05" text-anchor="end" fill="#555555" stroke="#555555" stroke-width="0.13">0.25</text><line x1="254.60" y1="144.90" x2="256.20" y2="144.90" stroke="#333" stroke-width="0.6"/><text x="253.60" y="148.00" font-size="7.05" text-anchor="end" fill="#555555" stroke="#555555" stroke-width="0.13">0.50</text><line x1="254.60" y1="126.49" x2="256.20" y2="126.49" stroke="#333" stroke-width="0.6"/><text x="253.60" y="129.59" font-size="7.05" text-anchor="end" fill="#555555" stroke="#555555" stroke-width="0.13">0.75</text><line x1="254.60" y1="108.07" x2="256.20" y2="108.07" stroke="#333" stroke-width="0.6"/><text x="253.60" y="111.17" font-size="7.05" text-anchor="end" fill="#555555" stroke="#555555" stroke-width="0.13">1.00</text><text x="235.50" y="144.90" font-size="8.10" text-anchor="middle" fill="#1a1a1a" transform="rotate(-90 235.50 144.90)">replicate 2</text><text x="297.35" y="202.00" font-size="8.10" text-anchor="middle" fill="#1a1a1a">replicate 1</text><clipPath id="cb3"><rect x="370.70" y="103.80" width="81.80" height="82.20"/></clipPath><g clip-path="url(#cb3)"><path d="M376.60 177.70L378.27 176.02L378.27 179.96L376.60 181.64Z" fill="#24aa82"/><path d="M377.85 176.40L379.95 174.31L379.95 178.32L377.85 180.42Z" fill="#2eb27c"/><path d="M379.53 174.69L381.63 172.60L381.63 176.69L379.53 178.78Z" fill="#39b976"/><path d="M381.21 172.98L383.30 170.88L383.30 175.05L381.21 177.14Z" fill="#47c06e"/><path d="M382.88 171.26L384.98 169.17L384.98 173.41L382.88 175.51Z" fill="#57c665"/><path d="M384.56 169.55L386.65 167.46L386.65 171.77L384.56 173.87Z" fill="#47c06e"/><path d="M386.24 167.84L388.33 165.74L388.33 170.14L386.24 172.23Z" fill="#47c06e"/><path d="M387.91 166.12L390.01 164.03L390.01 168.50L387.91 170.59Z" fill="#47c06e"/><path d="M389.59 164.41L391.68 162.31L391.68 166.86L389.59 168.95Z" fill="#39b976"/><path d="M391.27 162.70L393.36 160.60L393.36 165.22L391.27 167.32Z" fill="#39b976"/><path d="M392.94 160.98L395.04 158.89L395.04 163.58L392.94 165.68Z" fill="#2eb27c"/><path d="M394.62 159.27L396.71 157.17L396.71 161.95L394.62 164.04Z" fill="#2eb27c"/><path d="M396.29 157.59L398.39 155.50L398.39 160.27L396.29 162.37Z" fill="#39b976"/><path d="M397.97 155.93L400.07 153.84L400.07 158.58L397.97 160.67Z" fill="#47c06e"/><path d="M399.65 154.28L401.74 152.18L401.74 156.88L399.65 158.98Z" fill="#57c665"/><path d="M401.32 152.62L403.42 150.53L403.42 155.19L401.32 157.28Z" fill="#6bcd59"/><path d="M403.00 150.96L405.10 148.87L405.10 153.49L403.00 155.59Z" fill="#7ed24e"/><path d="M404.68 149.31L406.77 147.21L406.77 151.80L404.68 153.89Z" fill="#7ed24e"/><path d="M406.35 147.65L408.45 145.56L408.45 150.10L406.35 152.20Z" fill="#92d741"/><path d="M408.03 145.99L410.13 143.90L410.13 148.41L408.03 150.50Z" fill="#92d741"/><path d="M409.71 144.34L411.80 142.24L411.80 146.72L409.71 148.81Z" fill="#a7db33"/><path d="M411.38 142.68L413.48 140.59L413.48 145.02L411.38 147.12Z" fill="#a7db33"/><path d="M413.06 141.02L415.16 138.93L415.16 143.33L413.06 145.42Z" fill="#a7db33"/><path d="M414.74 139.37L416.83 137.27L416.83 141.63L414.74 143.73Z" fill="#a7db33"/><path d="M416.41 137.71L418.51 135.62L418.51 139.94L416.41 142.03Z" fill="#a7db33"/><path d="M418.09 136.06L420.19 133.97L420.19 138.24L418.09 140.33Z" fill="#a7db33"/><path d="M419.77 134.42L421.86 132.32L421.86 136.53L419.77 138.62Z" fill="#a7db33"/><path d="M421.44 132.77L423.54 130.68L423.54 134.82L421.44 136.91Z" fill="#a7db33"/><path d="M423.12 131.13L425.21 129.04L425.21 133.11L423.12 135.21Z" fill="#a7db33"/><path d="M424.80 129.49L426.89 127.39L426.89 131.40L424.80 133.50Z" fill="#a7db33"/><path d="M426.47 127.84L428.57 125.75L428.57 129.70L426.47 131.79Z" fill="#a7db33"/><path d="M428.15 126.20L430.24 124.11L430.24 127.99L428.15 130.08Z" fill="#a7db33"/><path d="M429.83 124.56L431.92 122.46L431.92 126.28L429.83 128.37Z" fill="#7ed24e"/><path d="M431.50 122.91L433.60 120.82L433.60 124.57L431.50 126.67Z" fill="#6bcd59"/><path d="M433.18 121.27L435.27 119.18L435.27 122.86L433.18 124.96Z" fill="#47c06e"/><path d="M434.85 119.63L436.95 117.53L436.95 121.15L434.85 123.25Z" fill="#2eb27c"/><path d="M436.53 117.98L438.63 115.89L438.63 119.45L436.53 121.54Z" fill="#1fa386"/><path d="M438.21 116.34L440.30 114.25L440.30 117.74L438.21 119.83Z" fill="#1f948b"/><path d="M439.88 114.70L441.98 112.60L441.98 116.03L439.88 118.12Z" fill="#1f948b"/><path d="M441.56 113.06L443.66 110.96L443.66 114.32L441.56 116.42Z" fill="#1f948b"/><path d="M396.3 167h0m-14.1 3.8h0m.3 6.6h0m10.4-19.6h0" stroke="#2eb27c" stroke-width="0.9" stroke-linecap="round" stroke-opacity="0.5"/><path d="M412.6 147.3h0m9-7.1h0m5.5-4.2h0" stroke="#bfdf24" stroke-width="0.9" stroke-linecap="round" stroke-opacity="0.5"/><path d="M378.4 179.4h0m19.6-22.2h0m-2.4 11.4h0m-6.1 1.1h0m42.8-46.6h0m5-3.2h0m-34.8 36.5h0m30.7-33.3h0m-45.7 50.3h0m-7.5 1.8h0" stroke="#47c06e" stroke-width="0.9" stroke-linecap="round" stroke-opacity="0.5"/><path d="M384 173.2h0m17.5-20.8h0m19.7-23.3h0" stroke="#7ed24e" stroke-width="0.9" stroke-linecap="round" stroke-opacity="0.5"/><path d="M443.1 114.9h0m-57.2 50.7h0m1.7-3h0m-13.2 15h0m2.5 1.9h0" stroke="#1e9b89" stroke-width="0.9" stroke-linecap="round" stroke-opacity="0.5"/><path d="M415.2 146.6h0m9.5-14.4h0m6-4.4h0m-7.5 9.5h0m-14.1 11.8h0" stroke="#a7db33" stroke-width="0.9" stroke-linecap="round" stroke-opacity="0.5"/><path d="M379.9 174.7h0m15.8-15.5h0m37.5-36.2h0m-16.5 9.2h0m-31.1 35.7h0m-1.1-1.5h0m46.6-40.9h0m-37.9 44h0" stroke="#57c665" stroke-width="0.9" stroke-linecap="round" stroke-opacity="0.5"/><path d="M442.9 110.7h0m-69.4 61.3h0" stroke="#1f948b" stroke-width="0.9" stroke-linecap="round" stroke-opacity="0.5"/><path d="M396.7 157.8h0m-8.9 13.9h0m10-12.7h0m-18.9 18.3h0m57.3-55.8h0" stroke="#24aa82" stroke-width="0.9" stroke-linecap="round" stroke-opacity="0.5"/><path d="M441.7 113.3h0m-40.7 55.3h0m42.1-55.3h0" stroke="#228b8d" stroke-width="0.9" stroke-linecap="round" stroke-opacity="0.5"/><path d="M397 162h0m-17.7 17.7h0m-1.9 .4h0m66.4-66h0m-2.1 .7h0m-4.4 1.7h0" stroke="#1fa386" stroke-width="0.9" stroke-linecap="round" stroke-opacity="0.5"/><path d="M402.3 155.4h0m-2.4-.1h0m-6.5 7.1h0" stroke="#39b976" stroke-width="0.9" stroke-linecap="round" stroke-opacity="0.5"/><path d="M406.5 149.9h0m22-20.8h0m-10.8 12.1h0m5.1-2.9h0m-14.9 8h0" stroke="#92d741" stroke-width="0.9" stroke-linecap="round" stroke-opacity="0.5"/><path d="M383.8 177.8h0m28.3-37.8h0m-29.1 33.8h0m33.1-29h0m-28 22.1h0" stroke="#6bcd59" stroke-width="0.9" stroke-linecap="round" stroke-opacity="0.5"/><path d="M419.3 136.2h0m-7.8 17.7h0" stroke="#d4e11a" stroke-width="0.9" stroke-linecap="round" stroke-opacity="0.5"/><path d="M416.9 135.5h0" stroke="#e9e419" stroke-width="0.9" stroke-linecap="round" stroke-opacity="0.5"/><path d="M443.8 112.3h0m-57.3 60.8h0m14.2-16.8h0m36.5-38.2h0m-45.3 46.5h0m-12.2 9.3h0m58.3-53.3h0m-59.7 58.9h0m13.9-15.7h0m2.6-.8h0m-.2-2.3h0m1.7 1.1h0m41.5-44.6h0m-55.5 61.3h0m11-15.5h0m44.8-42.5h0m-43.4 40.3h0m-18.2 18.3h0" stroke="#24aa82" stroke-width="1" stroke-linecap="round"/><path d="M382.3 175.8h0m49.9-51h0m-52.9 49.5h0m17-17.1h0m0 5.4h0m-5 1.9h0m-13.7 15.4h0m-1.6-3h0m22-18.3h0m-19.5 17.7h0m18.1-19.5h0m-1.7 5.7h0m-15.8 10.7h0m55.8-51.1h0m-54 54.2h0m6.3-9.3h0m7.3-7.7h0m1.1-.8h0m40.6-38.3h0m-42.5 40.6h0m-1.5 .7h0m-2.7 6.6h0m10.5-11.5h0m-13 14h0m-4 4.2h0m17.3-19.8h0m2.4 1.7h0m-15 10.7h0m8.6-10.2h0m-8.3 10.3h0m1.2 .1h0m4.3-7.5h0m-14.6 20h0m8.4-12.6h0" stroke="#2eb27c" stroke-width="1" stroke-linecap="round"/><path d="M388.5 169.2h0m-12.5 11.1h0m62.7-61.9h0m1.8-3.6h0m-.6-.8h0m-63.2 65.3h0m61.8-61.7h0m-1.7-.9h0m-60.4 61.4h0m11.5-10.1h0m7.8-9.3h0m43.1-37.5h0m3.5-6.8h0" stroke="#1fa386" stroke-width="1" stroke-linecap="round"/><path d="M414.1 140.8h0m14.7-11.7h0m-10.3 8.7h0m13.9-12.8h0m-4.4 3.7h0m-23.7 23.5h0m6.7-5.7h0m-.7-2.5h0m1.5 2.7h0m-1.1-1.6h0m-3.1 1.1h0m14.9-10.8h0m-3.7 .9h0m-7.4 7.2h0m6.9-4.3h0m8.5-12.1h0m-14.7 14h0m8.7-6h0m-11.3 9.4h0m1 .6h0m-.1-1.7h0m22.1-20h0m-11.6 11.7h0m8.6-10h0m-7.3 9.5h0m7.5-7.2h0m-9.4 8h0m-12.7 14.8h0m8.6-15.7h0m4.5 .7h0" stroke="#bfdf24" stroke-width="1" stroke-linecap="round"/><path d="M392.8 167.4h0m5-10.7h0m2-1.1h0m35.3-34.7h0m-32.9 35h0m-.7 .7h0m-10.2 9.1h0m6.2-7.6h0m6.3-4.9h0m.7-3h0m-18.7 21.9h0m-2.8 .8h0m.5-3.2h0m51.3-47.6h0m-.6 .8h0m-34.5 31.8h0m-8.1 11.9h0m9.2-10.2h0m2.9-4.2h0m-21.1 18.3h0m13.6-9.3h0m38.7-41.1h0m-50.5 52.7h0m-5.4 4.1h0m50.2-49.5h0m-32.2 31.1h0m-9 9.1h0m42.8-43.5h0m-47.6 47.9h0m18.5-15.4h0m-19 16h0m7.3-4h0m-5.2 2.7h0m49.1-51h0m-47.3 46.9h0m-5.4 6.3h0m15.2-10.9h0" stroke="#47c06e" stroke-width="1" stroke-linecap="round"/><path d="M429.2 126.6h0m-23.1 23.8h0m19-19.9h0m-21.8 21.4h0m24-25.9h0m-24.9 27.4h0m27.1-27.3h0m-24 24.7h0m21.5-20.8h0m-13.4 11.9h0m-25.8 27.6h0m33-30.7h0m-5.3 3.6h0m4.7-6.4h0m8.8-5.8h0m-22.9 20.1h0m-18.9 19h0m25.4-25.3h0m5.4-4.1h0m10.4-13.7h0m-42.1 44.3h0m40.7-41.5h0m-26.6 26.8h0m-12.4 14.6h0m19.6-22.5h0m2.9-2.5h0m-5.8 7.1h0m28.7-27.9h0m-23.2 23.6h0m-20.4 19.4h0m32.8-34.3h0m-36.9 38.6h0m22-23.5h0m1.5-1.8h0" stroke="#7ed24e" stroke-width="1" stroke-linecap="round"/><path d="M440.1 114h0m-.6 5.1h0m2.4-5h0m1.5-.8h0m-1.6 2.4h0m1.7-3.3h0" stroke="#277c8e" stroke-width="1" stroke-linecap="round"/><path d="M388.5 166.3h0m-.5 4.5h0m-6.9-1.3h0m7 1.4h0m1.5-3.4h0m-.1-1.9h0m-8.7 8.1h0m22.5-22.1h0m-14.9 14.2h0m18.4-15.3h0m-2.5 .5h0m-24.9 23.6h0m52.3-53.3h0m-40 42.2h0m1.7-1.5h0m3.5-2.9h0m3.1-4.5h0m2.4 2.1h0m30.5-33h0m-30.8 30.8h0m-16.7 12.7h0m37.4-35.4h0m-41.6 42.4h0m0-.5h0m6.6-5.8h0m29.7-30.3h0m-35.4 37.2h0m15.3-13.6h0m1.3-7.4h0m35.8-32.2h0" stroke="#57c665" stroke-width="1" stroke-linecap="round"/><path d="M410.1 146.2h0m-29.4 27.7h0m9.1-8h0m47.5-43.4h0m1.1-4.1h0m-34.9 36.5h0m-2.3 0h0m-4.9 4.9h0m-12.2 10.9h0m8.9-5.6h0m-14.6 12.5h0m32.3-31.6h0m-27.7 28.4h0m-2.6 4.7h0m53.8-60.3h0m-49.8 55.3h0m37.5-40.9h0m-42.7 41.5h0m21.7-18.7h0m-10.9 9.6h0m11.1-8.3h0m-1.1-2.2h0m-13 11.3h0" stroke="#39b976" stroke-width="1" stroke-linecap="round"/><path d="M426.1 130h0m-17.3 19.7h0m8-10.6h0m-31 32.4h0m30.5-29.4h0m4.3-7.3h0m-6.2 8.7h0m-8.4 10.2h0m3.8-7.2h0m-22.5 22.8h0m40.9-41.7h0m-18.3 21h0m7.4-7.9h0m-6 1.5h0m-3.5 4.9h0m2.4-3.5h0m-6.4 7.5h0m12-12.3h0m-32.5 34.2h0m29-31.1h0m-6 7.8h0m21.4-18.4h0m-43.9 41.1h0m-1-2.1h0m24.5-22.8h0m-17.5 20.8h0m24-24.1h0m6.8-5.3h0m-9.4 3.1h0m-3.8 10.1h0m-2.4-.2h0" stroke="#92d741" stroke-width="1" stroke-linecap="round"/><path d="M440.3 114.8h0m2.9 .6h0m1.2-2.4h0m-2.6 1h0m-.3-.9h0m-65.3 66.3h0m63.9-63.5h0" stroke="#24848d" stroke-width="1" stroke-linecap="round"/><path d="M416.7 137.2h0m2.1-.3h0m12.2-11.1h0m-8.7 5.5h0m-10.3 13.8h0m10.4-15.5h0m-15.3 17.5h0m17.7-20h0m-10.6 11.7h0m19.5-14.8h0m-7.7 5h0m4.1-1h0m-47.8 44h0m39.4-35.4h0m-17 16.5h0m8.2-10.8h0m10.2-12.1h0m3.3-.7h0m-21.2 24.7h0m.7-5.5h0m4.9-2.8h0m-26 24.9h0m26.1-24.1h0m2.6-2.3h0m20.2-22.4h0m-.8 3.9h0m-12.2 9.5h0" stroke="#a7db33" stroke-width="1" stroke-linecap="round"/><path d="M404.3 152.4h0m29.6-30.3h0m-35.3 35.8h0m20.8-23.9h0m9.3-7.9h0m-45.2 45.3h0m37.8-35.8h0m2.1-.8h0m-11.2 10.6h0m-2.9-.5h0m-4.5 5.6h0m24.1-23.7h0m2.5-4.4h0m-46.9 51h0m50-52.4h0m-27.7 27.3h0m2.2 1.3h0m2.8-7.4h0m8.8-6.4h0m-15 15.1h0m-3.3 3.5h0m8.1-8.4h0m-23 23.1h0m10.9-10.3h0m21.3-21.9h0m-5 6.7h0m-12.6 12.5h0m29.7-31.9h0m-22.7 20.9h0m-20 24h0m-4.8 6h0m39-40.9h0m-13.3 12.2h0" stroke="#6bcd59" stroke-width="1" stroke-linecap="round"/><path d="M424 130.5h0m6.2-5.3h0m-10.6 12.4h0m-5 .4h0m6.7-5.1h0m-8.5 13.6h0m2.7-5.3h0m5.7-4.4h0m1.7-3.8h0m.7 1.3h0m-10.5 7.8h0m-2.1 2.6h0m.6-1.9h0" stroke="#d4e11a" stroke-width="1" stroke-linecap="round"/><path d="M443.6 114.5h0m-1 2.3h0m-5.2-.1h0m5.4-3.7h0m-3.2 1.9h0m-.7 4.2h0m-.5-2.1h0m2.2-2.4h0m4.5-1.6h0m-2.3 2.3h0m0-4.1h0" stroke="#228b8d" stroke-width="1" stroke-linecap="round"/><path d="M397.4 158.2h0m43.6-44.6h0m2.3 .8h0m-4.2-.3h0m4.6-1.8h0m-6.8 5.4h0m4.2-1.4h0" stroke="#1f948b" stroke-width="1" stroke-linecap="round"/><path d="M438.8 119.9h0m2.7-3.6h0m1.2-2.2h0m-1.8 2h0m-64.7 63.5h0m62.4-63.3h0m-62 64.4h0m67.9-66.8h0m-66.5 62.5h0m-.7 3.5h0m-1.5-.5h0m67.9-67h0m-4.3 1h0m-64.3 65.4h0" stroke="#1e9b89" stroke-width="1" stroke-linecap="round"/><path d="M427.9 128.7h0m-2.4-.2h0m-6 8.8h0m5.4-6.5h0" stroke="#e9e419" stroke-width="1" stroke-linecap="round"/><path d="M442.3 114.5h0m-1.5 .7h0" stroke="#2a758e" stroke-width="1" stroke-linecap="round"/><path d="M422.7 133.8h0m-7.1 6.9h0m-4.4 2.1h0m13.6-12.8h0m-6.5 3.2h0m2.6 1.9h0" stroke="#fde724" stroke-width="1" stroke-linecap="round"/></g><rect x="370.70" y="103.80" width="81.80" height="82.20" fill="none" stroke="#a8a8a8" stroke-width="0.9"/><line x1="374.38" y1="186.00" x2="374.38" y2="187.60" stroke="#333" stroke-width="0.6"/><text x="374.38" y="194.20" font-size="7.05" text-anchor="middle" fill="#555555" stroke="#555555" stroke-width="0.13">0.00</text><line x1="392.81" y1="186.00" x2="392.81" y2="187.60" stroke="#333" stroke-width="0.6"/><text x="392.81" y="194.20" font-size="7.05" text-anchor="middle" fill="#555555" stroke="#555555" stroke-width="0.13">0.25</text><line x1="411.23" y1="186.00" x2="411.23" y2="187.60" stroke="#333" stroke-width="0.6"/><text x="411.23" y="194.20" font-size="7.05" text-anchor="middle" fill="#555555" stroke="#555555" stroke-width="0.13">0.50</text><line x1="429.65" y1="186.00" x2="429.65" y2="187.60" stroke="#333" stroke-width="0.6"/><text x="429.65" y="194.20" font-size="7.05" text-anchor="middle" fill="#555555" stroke="#555555" stroke-width="0.13">0.75</text><line x1="448.08" y1="186.00" x2="448.08" y2="187.60" stroke="#333" stroke-width="0.6"/><text x="448.08" y="194.20" font-size="7.05" text-anchor="middle" fill="#555555" stroke="#555555" stroke-width="0.13">1.00</text><line x1="369.10" y1="181.73" x2="370.70" y2="181.73" stroke="#333" stroke-width="0.6"/><text x="368.10" y="184.83" font-size="7.05" text-anchor="end" fill="#555555" stroke="#555555" stroke-width="0.13">0.00</text><line x1="369.10" y1="163.31" x2="370.70" y2="163.31" stroke="#333" stroke-width="0.6"/><text x="368.10" y="166.41" font-size="7.05" text-anchor="end" fill="#555555" stroke="#555555" stroke-width="0.13">0.25</text><line x1="369.10" y1="144.90" x2="370.70" y2="144.90" stroke="#333" stroke-width="0.6"/><text x="368.10" y="148.00" font-size="7.05" text-anchor="end" fill="#555555" stroke="#555555" stroke-width="0.13">0.50</text><line x1="369.10" y1="126.49" x2="370.70" y2="126.49" stroke="#333" stroke-width="0.6"/><text x="368.10" y="129.59" font-size="7.05" text-anchor="end" fill="#555555" stroke="#555555" stroke-width="0.13">0.75</text><line x1="369.10" y1="108.07" x2="370.70" y2="108.07" stroke="#333" stroke-width="0.6"/><text x="368.10" y="111.17" font-size="7.05" text-anchor="end" fill="#555555" stroke="#555555" stroke-width="0.13">1.00</text><text x="349.90" y="144.90" font-size="8.10" text-anchor="middle" fill="#1a1a1a" transform="rotate(-90 349.90 144.90)">replicate 2</text><text x="411.60" y="202.00" font-size="8.10" text-anchor="middle" fill="#1a1a1a">replicate 1</text><clipPath id="cb4"><rect x="485.70" y="103.80" width="81.60" height="82.20"/></clipPath><g clip-path="url(#cb4)"><path d="M490.85 176.81L492.55 175.10L492.55 182.30L490.85 184.00Z" fill="#47186a"/><path d="M492.12 175.07L494.25 172.94L494.25 181.05L492.12 183.18Z" fill="#47186a"/><path d="M493.82 173.83L495.95 171.70L495.95 178.89L493.82 181.02Z" fill="#47186a"/><path d="M495.52 172.57L497.65 170.44L497.65 176.74L495.52 178.87Z" fill="#24aa82"/><path d="M497.22 170.85L499.35 168.72L499.35 175.05L497.22 177.18Z" fill="#2eb27c"/><path d="M498.92 169.13L501.05 167.01L501.05 173.36L498.92 175.49Z" fill="#39b976"/><path d="M500.62 167.42L502.75 165.29L502.75 171.68L500.62 173.80Z" fill="#47c06e"/><path d="M502.32 165.70L504.45 163.57L504.45 169.99L502.32 172.12Z" fill="#57c665"/><path d="M504.02 163.98L506.15 161.85L506.15 168.30L504.02 170.43Z" fill="#6bcd59"/><path d="M505.72 162.26L507.85 160.13L507.85 166.61L505.72 168.74Z" fill="#6bcd59"/><path d="M507.42 160.55L509.55 158.42L509.55 164.92L507.42 167.05Z" fill="#7ed24e"/><path d="M509.12 158.83L511.25 156.70L511.25 163.23L509.12 165.36Z" fill="#7ed24e"/><path d="M510.82 157.11L512.95 154.98L512.95 161.54L510.82 163.67Z" fill="#92d741"/><path d="M512.52 155.39L514.65 153.26L514.65 159.85L512.52 161.98Z" fill="#92d741"/><path d="M514.22 153.67L516.35 151.55L516.35 158.17L514.22 160.29Z" fill="#a7db33"/><path d="M515.92 151.96L518.05 149.83L518.05 156.48L515.92 158.61Z" fill="#a7db33"/><path d="M517.62 150.24L519.75 148.11L519.75 154.79L517.62 156.92Z" fill="#a7db33"/><path d="M519.32 148.52L521.45 146.39L521.45 153.10L519.32 155.23Z" fill="#a7db33"/><path d="M521.02 146.80L523.15 144.67L523.15 151.41L521.02 153.54Z" fill="#a7db33"/><path d="M522.72 145.09L524.85 142.96L524.85 149.72L522.72 151.85Z" fill="#a7db33"/><path d="M524.42 143.37L526.55 141.24L526.55 148.03L524.42 150.16Z" fill="#a7db33"/><path d="M526.12 141.65L528.25 139.52L528.25 146.34L526.12 148.47Z" fill="#a7db33"/><path d="M527.82 139.93L529.95 137.80L529.95 144.66L527.82 146.79Z" fill="#a7db33"/><path d="M529.52 138.21L531.65 136.08L531.65 142.97L529.52 145.10Z" fill="#a7db33"/><path d="M531.22 136.49L533.35 134.36L533.35 141.28L531.22 143.41Z" fill="#a7db33"/><path d="M532.92 134.77L535.05 132.64L535.05 139.60L532.92 141.73Z" fill="#a7db33"/><path d="M534.62 133.05L536.75 130.92L536.75 137.91L534.62 140.04Z" fill="#a7db33"/><path d="M536.32 131.33L538.45 129.20L538.45 136.22L536.32 138.35Z" fill="#a7db33"/><path d="M538.02 129.61L540.15 127.48L540.15 134.54L538.02 136.67Z" fill="#a7db33"/><path d="M539.72 127.89L541.85 125.76L541.85 132.85L539.72 134.98Z" fill="#a7db33"/><path d="M541.42 126.17L543.55 124.04L543.55 131.16L541.42 133.29Z" fill="#92d741"/><path d="M543.12 124.45L545.25 122.32L545.25 129.48L543.12 131.61Z" fill="#7ed24e"/><path d="M544.82 122.73L546.95 120.60L546.95 127.79L544.82 129.92Z" fill="#6bcd59"/><path d="M546.52 121.01L548.65 118.88L548.65 126.10L546.52 128.23Z" fill="#57c665"/><path d="M548.22 119.29L550.35 117.16L550.35 124.42L548.22 126.55Z" fill="#24aa82"/><path d="M549.92 117.57L552.05 115.44L552.05 122.73L549.92 124.86Z" fill="#1f948b"/><path d="M551.62 115.81L553.75 113.68L553.75 121.08L551.62 123.21Z" fill="#31648d"/><path d="M553.32 114.03L555.45 111.90L555.45 119.46L553.32 121.59Z" fill="#47186a"/><path d="M555.02 112.24L557.15 110.11L557.15 117.84L555.02 119.97Z" fill="#47186a"/><path d="M556.72 110.92L558.85 108.79L558.85 115.75L556.72 117.88Z" fill="#47186a"/><path d="M495.9 167.8h0" stroke="#1f948b" stroke-width="0.9" stroke-linecap="round" stroke-opacity="0.5"/><path d="M541.2 134.1h0m-11.5-4.3h0m-24.1 20.4h0m28.3-12.5h0m0-16.4h0m5.5 8h0" stroke="#a7db33" stroke-width="0.9" stroke-linecap="round" stroke-opacity="0.5"/><path d="M502.6 170.5h0m44.4-44.6h0m6.7 3.5h0m-51.9 44.1h0" stroke="#39b976" stroke-width="0.9" stroke-linecap="round" stroke-opacity="0.5"/><path d="M544 128.8h0m-27.3 25.5h0" stroke="#47c06e" stroke-width="0.9" stroke-linecap="round" stroke-opacity="0.5"/><path d="M516.8 148.5h0m22-12.3h0m-13.9-2.6h0m3.2 11.3h0m2.8-11h0m-4 11.9h0m-11.8 9.6h0m3-.7h0" stroke="#bfdf24" stroke-width="0.9" stroke-linecap="round" stroke-opacity="0.5"/><path d="M523.1 153.2h0m-16.4 6.8h0m8.7 1.3h0m27.7-21.4h0m-36.1 19.9h0m22.5-24.9h0m-19.9 20.7h0m10.7-10.3h0" stroke="#7ed24e" stroke-width="0.9" stroke-linecap="round" stroke-opacity="0.5"/><path d="M557.6 121h0m-62.1 64.7h0m-2.9-5.9h0" stroke="#443781" stroke-width="0.9" stroke-linecap="round" stroke-opacity="0.5"/><path d="M518.6 149.8h0m-.5-2.8h0m21.1-18h0m-17.9 16h0m14.8-1.3h0m1.1-7.1h0m-13.8 19.2h0" stroke="#92d741" stroke-width="0.9" stroke-linecap="round" stroke-opacity="0.5"/><path d="M523.2 170.6h0m-5.5-13.1h0" stroke="#d4e11a" stroke-width="0.9" stroke-linecap="round" stroke-opacity="0.5"/><path d="M499.4 181.8h0m51.1-69.7h0m11.7 5.1h0m-6.6-.2h0" stroke="#460c5f" stroke-width="0.9" stroke-linecap="round" stroke-opacity="0.5"/><path d="M497.2 163.6h0m4.9 9.5h0" stroke="#2eb27c" stroke-width="0.9" stroke-linecap="round" stroke-opacity="0.5"/><path d="M502.4 164.9h0m-1.5 .3h0m12.9-19h0m28.8-22.1h0" stroke="#57c665" stroke-width="0.9" stroke-linecap="round" stroke-opacity="0.5"/><path d="M550 121.3h0" stroke="#1e9b89" stroke-width="0.9" stroke-linecap="round" stroke-opacity="0.5"/><path d="M493.6 173.7h0m60.8-55.6h0m-57.4 61.2h0m-7.9-8.3h0m64.7-58.4h0" stroke="#462d7c" stroke-width="0.9" stroke-linecap="round" stroke-opacity="0.5"/><path d="M499.7 174.2h0" stroke="#24aa82" stroke-width="0.9" stroke-linecap="round" stroke-opacity="0.5"/><path d="M555.3 117.3h0m1 .6h0m1.2-1.2h0" stroke="#47186a" stroke-width="0.9" stroke-linecap="round" stroke-opacity="0.5"/><path d="M527 132h0m-6 14.3h0m-14.7 25.3h0m16-19.1h0m-13.4 11.9h0m31-37.6h0" stroke="#6bcd59" stroke-width="0.9" stroke-linecap="round" stroke-opacity="0.5"/><path d="M491.3 178.4h0" stroke="#482273" stroke-width="0.9" stroke-linecap="round" stroke-opacity="0.5"/><path d="M487.9 177h0" stroke="#440154" stroke-width="0.9" stroke-linecap="round" stroke-opacity="0.5"/><path d="M547.8 114.3h0" stroke="#2a758e" stroke-width="0.9" stroke-linecap="round" stroke-opacity="0.5"/><path d="M499.5 172.5h0m48.1-50.4h0m1.6 1.7h0m-51.4 52h0m1.1-5.2h0m2.5 .7h0m-5.3 1.5h0" stroke="#2eb27c" stroke-width="1" stroke-linecap="round"/><path d="M537.1 138h0m-24.7 22.7h0m7.7-16.3h0m22.7-14.4h0m-11.8 5.5h0m-16.9 27.3h0m12.1-20h0m-2.2 6.5h0m-18 14.8h0m15.6-18.7h0m19.9-17h0m-14.6 13.2h0m15-6.8h0m-8.1-2.5h0m-5.4 10.9h0m-6 4.6h0m7.3-5.4h0m-11.7 6h0m-8.2 15.4h0m32-32.4h0m-3.6 5.1h0m-23.5 21.5h0m11.7-10.4h0m15.6-21.8h0m-4.9 4.5h0m-29.5 36.3h0m20.1-29h0m10.9 1.9h0m.8-5.4h0m-15.1 11.8h0m-7.9 13.5h0m-4.7 1h0m10.3-12.4h0m14.8-19.1h0m-.5 5.5h0m-2.9 4.6h0m-9.4 6.9h0m5.8 3.4h0m-13.8 8.4h0m19.5-25.4h0m-18.7 24.5h0m15.6-15.7h0m10.3-15h0m-34.8 32.2h0m-3.4 7.9h0m23-26h0m10.5-5.3h0m-11.3 11.5h0m-11.3 11.1h0m28-31.1h0m-13.9 15.2h0m-14.3 15.9h0m-5.3 1.1h0m.9 4.4h0m16.6-19h0m14-12.5h0m-28 22.3h0m26.5-21h0m-37.3 33.5h0m36.6-35h0m-30.3 31.9h0" stroke="#92d741" stroke-width="1" stroke-linecap="round"/><path d="M502.6 166h0m-2.9-.3h0m.7 5.1h0m1-1.9h0m-2.8-.2h0m49-40.6h0m4-3.5h0m-3.7-3.3h0m1.9 2.4h0m-48.7 44.6h0m-.6 3.6h0" stroke="#47c06e" stroke-width="1" stroke-linecap="round"/><path d="M510.2 161.7h0m.8-.8h0m36.5-36.7h0m-2.1 8.8h0m-44.4 37.7h0m41.7-46.5h0m-33.7 40.6h0m-5.1 1.3h0m39.1-38.8h0m-28.9 30.7h0m-6.3 6.7h0m.9 1.4h0m39.1-38.2h0m-37.5 38.9h0m-5.3-3.2h0m31.1-26.3h0m-29.8 27h0m19.3-13.4h0m14.8-23.5h0m10.1-3.3h0m-4.1-2.2h0m-16.9 26.6h0m-20.3 12.9h0m37.6-36.7h0m-28.1 33.3h0m-17.5 7.9h0m8.6-.7h0m16.7-23.2h0m10.9-9.2h0m-14.7 15.9h0m-18.5 17h0m42.2-41.9h0m-1.8 1.2h0m-40.6 40.5h0m1-.8h0m38.5-38.1h0m-41 39.8h0m45.9-43.7h0m-39.3 39.4h0m-12.5 9h0m25.3-15.4h0m-8.9 1.8h0m29.9-28.9h0m-3.7 2.7h0m-29.8 25.5h0" stroke="#6bcd59" stroke-width="1" stroke-linecap="round"/><path d="M551.5 114.1h0m-60.3 64.5h0m-2.8-.1h0m1.9-.7h0m2.8 .1h0m66.4-64.4h0m-3.3 2.2h0m-61.4 61.6h0m63-58.2h0m-62.9 56.8h0" stroke="#482273" stroke-width="1" stroke-linecap="round"/><path d="M524 146.8h0m-5 10.3h0m5.6-16.6h0m-17.1 23.6h0m13.7-18h0m20.2-10.2h0m-10 8.9h0m-17.1 12.1h0m1-4.3h0m5-10.2h0m-4.7 19.2h0m11.3-15.5h0m16.1-16.6h0m-20.4 15.2h0m-6.7 13.2h0m2.6-5.7h0m14.6-12.7h0m-4.4 4.5h0m-.6-1.8h0m9.9-6.6h0m-5.6 1.1h0m-11.4 13.9h0m22.4-22h0m-.7 2.2h0" stroke="#bfdf24" stroke-width="1" stroke-linecap="round"/><path d="M524.8 144.9h0m-2.3 4.6h0m17.7-15.7h0m-7.7 2.8h0m-13.3 11.6h0m2.2 7.5h0m10.2-17.9h0m-1.1 .3h0m4.7-2.2h0" stroke="#d4e11a" stroke-width="1" stroke-linecap="round"/><path d="M552.1 121.6h0m-.7-3h0m1.3 1.7h0" stroke="#228b8d" stroke-width="1" stroke-linecap="round"/><path d="M521.5 150.7h0m19.7-20h0m-24.2 28.5h0m12.8-19.4h0m-21 14.1h0m19.3-12.9h0m14.7-19.8h0m-4.7 15.3h0m-15 11.6h0m20.3-21.6h0m-32.4 34.2h0m19.4-24.1h0m12.2-5.4h0m-37.9 34.7h0m-4 1.6h0m31.7-29.3h0m7.8-10.6h0m6.4 2.5h0m.6-3.4h0m-17.4 13.5h0m-17.9 19.5h0m-4.2 3h0m1.3-2.6h0m16.1-15.4h0m19.4-21.1h0m-5.1 13.6h0m-26.6 22h0m29.2-26.9h0m-35.2 32h0m6.3-6.5h0m32.7-26.4h0m-18.3 8.6h0m20.9-19.2h0m.4 3.6h0m-6.8 1.9h0m-6.4 11.7h0m-14.7 8.3h0m-3.3 1.8h0m-4.6 13.4h0m2.3-10.5h0m-9.2 16.4h0m15.2-17.4h0m-4.3 2h0m31.6-27.9h0m-34.2 32.5h0" stroke="#7ed24e" stroke-width="1" stroke-linecap="round"/><path d="M557.3 116.6h0m-.5 2.2h0m-64 63.2h0m61.3-67.9h0m-61.9 68.6h0m68.9-67.5h0m-4-2.5h0m-65.3 65.7h0m.4 .7h0m-.7-1.3h0m-4.7-.9h0m7.7 .8h0m61.8-65.1h0m-60.1 66.1h0m63.2-66.3h0m-68.9 68.6h0m69.1-66.1h0m-66.1 65.4h0m62.2-62.6h0m-.7-7.9h0" stroke="#47186a" stroke-width="1" stroke-linecap="round"/><path d="M548.2 120.3h0m-49.8 52.4h0m1 .4h0m5.7-5.4h0m44.5-40.4h0m-3.4-9.7h0m-48.9 57.4h0m2.4-5.8h0m48.3-48.1h0m1.3 3.5h0m-3 1.9h0m-42.8 39.4h0m-.8 3h0" stroke="#39b976" stroke-width="1" stroke-linecap="round"/><path d="M511 157.8h0m-8.7 5.1h0m23.1-16.2h0m15.1-17.5h0m-38.9 39.6h0m46.8-42.3h0m-48.8 47h0m8.1-10.8h0m18.1-20.8h0m-.3 5.3h0m-18.8 23h0m3-5h0m19-20.9h0m-25.3 24.2h0m4.6 2.1h0m41.5-47.1h0m-40.2 38.8h0m-3.9 1.8h0m32.4-23.3h0m-30.3 22.5h0m-9 8.8h0m18.7-22.7h0m-7.1 9.7h0m-11.7 10.3h0m50.4-46.6h0m2 7h0m-47.1 37.8h0m-.4 0h0m2.9-9.1h0m4.9 0h0m-5.8 9h0m40-41.8h0" stroke="#57c665" stroke-width="1" stroke-linecap="round"/><path d="M499.6 184.3h0m53.2-70.2h0m-56.7 64.5h0m62.4-65.2h0m-68 66.6h0m67.5-68.7h0m-68.1 68.9h0m64.1-62.8h0m-.1-6.5h0" stroke="#462d7c" stroke-width="1" stroke-linecap="round"/><path d="M557.5 112.4h0m-62.2 66.9h0m60.5-67.1h0m-3.4 1.5h0m-59.8 62.9h0m68.6-61.3h0m-73.6 58h0m3.8 8.6h0m.7-7.1h0" stroke="#460c5f" stroke-width="1" stroke-linecap="round"/><path d="M505.8 164.9h0m-7.9 8.3h0m51.3-52.7h0m2.9 3.1h0" stroke="#24aa82" stroke-width="1" stroke-linecap="round"/><path d="M514.1 150.1h0m23.6-14.5h0m-7.1 8.7h0m-7.7 1.3h0m6.4 1h0m-16.1 14.6h0m21.2-19.1h0m14-17.3h0m-7.7 10h0m-14.3 9.3h0m14.2-11.8h0m3.5-2.3h0m-.3-4.1h0m-18.1 15.4h0m1.2 1.5h0m14.1-16h0m-18.7 21.5h0m-6.4 9.5h0m12-14.7h0m11-15.2h0m-10.1 10.6h0m13-8.9h0m-25.7 24.1h0m27.9-25.5h0m-18 15.7h0m8.3-8.6h0m1.9 2.9h0m8-11.5h0m-30.6 28.4h0m13.7-11.8h0m-5.1 12.2h0m12.8-22.7h0m-1.9 10.2h0m10.2-13.9h0m-14.8 14h0m.5-4.3h0m-17 23h0m15-13.8h0m-15.6 10.2h0m5.6-3.6h0m15.4-7.8h0m-5.8-4.1h0" stroke="#a7db33" stroke-width="1" stroke-linecap="round"/><path d="M551.9 115.3h0m-60.4 67h0m63.6-63.8h0" stroke="#414186" stroke-width="1" stroke-linecap="round"/><path d="M492.1 179.8h0m.5 0h0m64.2-67.9h0" stroke="#443781" stroke-width="1" stroke-linecap="round"/><path d="M495.4 174.5h0m-1.8-1.2h0m2.3 2.4h0" stroke="#31648d" stroke-width="1" stroke-linecap="round"/><path d="M549.6 119h0m-52.8 54.6h0m54.6-52.4h0m-52.5 47.8h0" stroke="#1fa386" stroke-width="1" stroke-linecap="round"/><path d="M523.7 152.7h0m-6.6 4.8h0m15.6-21.7h0m6.3-10h0" stroke="#e9e419" stroke-width="1" stroke-linecap="round"/><path d="M519.9 149.5h0m14.6-15h0m-20.4 20.5h0m5.1-7.2h0m17.7-11.3h0" stroke="#fde724" stroke-width="1" stroke-linecap="round"/><path d="M552.9 118.2h0m.2-.4h0m-57.1 57.4h0m58.6-56h0" stroke="#355c8c" stroke-width="1" stroke-linecap="round"/><path d="M498.4 173.5h0m-.4 2.9h0" stroke="#1e9b89" stroke-width="1" stroke-linecap="round"/><path d="M552.6 122h0m.1-.7h0" stroke="#24848d" stroke-width="1" stroke-linecap="round"/><path d="M494.3 176.6h0m-.8 2.2h0m2.6 3.5h0" stroke="#440154" stroke-width="1" stroke-linecap="round"/><path d="M551.6 119.1h0" stroke="#1f948b" stroke-width="1" stroke-linecap="round"/><path d="M550.4 116.5h0" stroke="#2a758e" stroke-width="1" stroke-linecap="round"/><path d="M551.9 116.5h0" stroke="#2e6c8e" stroke-width="1" stroke-linecap="round"/></g><rect x="485.70" y="103.80" width="81.60" height="82.20" fill="none" stroke="#a8a8a8" stroke-width="0.9"/><line x1="489.38" y1="186.00" x2="489.38" y2="187.60" stroke="#333" stroke-width="0.6"/><text x="489.38" y="194.20" font-size="7.05" text-anchor="middle" fill="#555555" stroke="#555555" stroke-width="0.13">0.00</text><line x1="507.75" y1="186.00" x2="507.75" y2="187.60" stroke="#333" stroke-width="0.6"/><text x="507.75" y="194.20" font-size="7.05" text-anchor="middle" fill="#555555" stroke="#555555" stroke-width="0.13">0.25</text><line x1="526.13" y1="186.00" x2="526.13" y2="187.60" stroke="#333" stroke-width="0.6"/><text x="526.13" y="194.20" font-size="7.05" text-anchor="middle" fill="#555555" stroke="#555555" stroke-width="0.13">0.50</text><line x1="544.51" y1="186.00" x2="544.51" y2="187.60" stroke="#333" stroke-width="0.6"/><text x="544.51" y="194.20" font-size="7.05" text-anchor="middle" fill="#555555" stroke="#555555" stroke-width="0.13">0.75</text><line x1="562.89" y1="186.00" x2="562.89" y2="187.60" stroke="#333" stroke-width="0.6"/><text x="562.89" y="194.20" font-size="7.05" text-anchor="middle" fill="#555555" stroke="#555555" stroke-width="0.13">1.00</text><line x1="484.10" y1="181.73" x2="485.70" y2="181.73" stroke="#333" stroke-width="0.6"/><text x="483.10" y="184.83" font-size="7.05" text-anchor="end" fill="#555555" stroke="#555555" stroke-width="0.13">0.00</text><line x1="484.10" y1="163.31" x2="485.70" y2="163.31" stroke="#333" stroke-width="0.6"/><text x="483.10" y="166.41" font-size="7.05" text-anchor="end" fill="#555555" stroke="#555555" stroke-width="0.13">0.25</text><line x1="484.10" y1="144.90" x2="485.70" y2="144.90" stroke="#333" stroke-width="0.6"/><text x="483.10" y="148.00" font-size="7.05" text-anchor="end" fill="#555555" stroke="#555555" stroke-width="0.13">0.50</text><line x1="484.10" y1="126.49" x2="485.70" y2="126.49" stroke="#333" stroke-width="0.6"/><text x="483.10" y="129.59" font-size="7.05" text-anchor="end" fill="#555555" stroke="#555555" stroke-width="0.13">0.75</text><line x1="484.10" y1="108.07" x2="485.70" y2="108.07" stroke="#333" stroke-width="0.6"/><text x="483.10" y="111.17" font-size="7.05" text-anchor="end" fill="#555555" stroke="#555555" stroke-width="0.13">1.00</text><text x="464.70" y="144.90" font-size="8.10" text-anchor="middle" fill="#1a1a1a" transform="rotate(-90 464.70 144.90)">replicate 2</text><text x="526.50" y="202.00" font-size="8.10" text-anchor="middle" fill="#1a1a1a">replicate 1</text><clipPath id="cb5"><rect x="600.00" y="103.80" width="81.50" height="82.20"/></clipPath><g clip-path="url(#cb5)"><path d="M604.41 179.08L606.19 177.29L606.19 181.42L604.41 183.21Z" fill="#355c8c"/><path d="M605.74 177.55L607.97 175.32L607.97 179.82L605.74 182.05Z" fill="#2a758e"/><path d="M607.52 175.59L609.75 173.35L609.75 178.21L607.52 180.45Z" fill="#1fa386"/><path d="M609.30 173.62L611.53 171.39L611.53 176.61L609.30 178.84Z" fill="#7ed24e"/><path d="M611.08 171.76L613.31 169.52L613.31 174.90L611.08 177.13Z" fill="#92d741"/><path d="M612.86 169.93L615.09 167.69L615.09 173.16L612.86 175.39Z" fill="#92d741"/><path d="M614.64 168.09L616.87 165.86L616.87 171.42L614.64 173.65Z" fill="#92d741"/><path d="M616.42 166.26L618.65 164.03L618.65 169.67L616.42 171.91Z" fill="#92d741"/><path d="M618.20 164.43L620.43 162.20L620.43 167.93L618.20 170.17Z" fill="#a7db33"/><path d="M619.98 162.60L622.21 160.37L622.21 166.19L619.98 168.43Z" fill="#a7db33"/><path d="M621.77 160.77L623.99 158.54L623.99 164.45L621.77 166.69Z" fill="#a7db33"/><path d="M623.55 158.94L625.77 156.70L625.77 162.71L623.55 164.94Z" fill="#a7db33"/><path d="M625.33 157.10L627.55 154.87L627.55 160.97L625.33 163.20Z" fill="#a7db33"/><path d="M627.11 155.27L629.33 153.04L629.33 159.23L627.11 161.46Z" fill="#a7db33"/><path d="M628.89 153.44L631.11 151.21L631.11 157.49L628.89 159.72Z" fill="#a7db33"/><path d="M630.67 151.61L632.89 149.38L632.89 155.75L630.67 157.98Z" fill="#a7db33"/><path d="M632.45 149.78L634.67 147.55L634.67 154.01L632.45 156.24Z" fill="#a7db33"/><path d="M634.23 147.95L636.45 145.71L636.45 152.27L634.23 154.50Z" fill="#a7db33"/><path d="M636.01 146.11L638.24 143.88L638.24 150.53L636.01 152.76Z" fill="#a7db33"/><path d="M637.79 144.28L640.02 142.05L640.02 148.79L637.79 151.02Z" fill="#a7db33"/><path d="M639.57 142.46L641.80 140.23L641.80 147.04L639.57 149.27Z" fill="#a7db33"/><path d="M641.35 140.66L643.58 138.42L643.58 145.27L641.35 147.50Z" fill="#a7db33"/><path d="M643.13 138.85L645.36 136.62L645.36 143.50L643.13 145.73Z" fill="#a7db33"/><path d="M644.91 137.05L647.14 134.82L647.14 141.73L644.91 143.96Z" fill="#a7db33"/><path d="M646.69 135.25L648.92 133.01L648.92 139.96L646.69 142.19Z" fill="#a7db33"/><path d="M648.47 133.44L650.70 131.21L650.70 138.19L648.47 140.43Z" fill="#a7db33"/><path d="M650.25 131.64L652.48 129.41L652.48 136.42L650.25 138.66Z" fill="#a7db33"/><path d="M652.03 129.84L654.26 127.60L654.26 134.66L652.03 136.89Z" fill="#a7db33"/><path d="M653.81 128.03L656.04 125.80L656.04 132.89L653.81 135.12Z" fill="#a7db33"/><path d="M655.60 126.23L657.82 124.00L657.82 131.12L655.60 133.35Z" fill="#92d741"/><path d="M657.38 124.42L659.60 122.19L659.60 129.35L657.38 131.58Z" fill="#6bcd59"/><path d="M659.16 122.62L661.38 120.39L661.38 127.58L659.16 129.81Z" fill="#2eb27c"/><path d="M660.94 120.82L663.16 118.59L663.16 125.81L660.94 128.04Z" fill="#24848d"/><path d="M662.72 119.01L664.94 116.78L664.94 124.04L662.72 126.28Z" fill="#24848d"/><path d="M664.50 117.21L666.72 114.98L666.72 122.27L664.50 124.51Z" fill="#24848d"/><path d="M666.28 115.74L668.50 113.51L668.50 120.17L666.28 122.40Z" fill="#24848d"/><path d="M668.06 114.33L670.28 112.10L670.28 118.01L668.06 120.24Z" fill="#47c06e"/><path d="M669.84 112.92L672.07 110.68L672.07 115.85L669.84 118.08Z" fill="#6bcd59"/><path d="M671.62 111.50L673.85 109.27L673.85 113.69L671.62 115.92Z" fill="#7ed24e"/><path d="M673.40 110.09L675.63 107.86L675.63 111.53L673.40 113.76Z" fill="#92d741"/><path d="M627.1 152.4h0m23.8-25.2h0m3.5 9.3h0m1.8-5.3h0m-1.7-5.9h0" stroke="#d4e11a" stroke-width="0.9" stroke-linecap="round" stroke-opacity="0.5"/><path d="M613.9 181.2h0" stroke="#24aa82" stroke-width="0.9" stroke-linecap="round" stroke-opacity="0.5"/><path d="M601.3 177.8h0m10 5.5h0m-7.7-5.2h0m1.3 2.5h0" stroke="#39548b" stroke-width="0.9" stroke-linecap="round" stroke-opacity="0.5"/><path d="M605.8 173.8h0m28.3-23.5h0m40.3-29.9h0" stroke="#47c06e" stroke-width="0.9" stroke-linecap="round" stroke-opacity="0.5"/><path d="M623.9 160.5h0" stroke="#57c665" stroke-width="0.9" stroke-linecap="round" stroke-opacity="0.5"/><path d="M602.2 179.7h0" stroke="#3d4a89" stroke-width="0.9" stroke-linecap="round" stroke-opacity="0.5"/><path d="M668.6 126.6h0m-3.2-2.1h0" stroke="#228b8d" stroke-width="0.9" stroke-linecap="round" stroke-opacity="0.5"/><path d="M676.1 119.1h0m-45.2 32.1h0m-23.7 21h0m67.9-60.2h0m-12.7 20.7h0m-3.4 8.6h0m-41.7 34.6h0m42.3-47.9h0" stroke="#6bcd59" stroke-width="0.9" stroke-linecap="round" stroke-opacity="0.5"/><path d="M644.9 145.5h0m-7.4-1.8h0m-17.5 21.2h0m54.7-53.2h0m-1.7 1.6h0m-57.9 66.4h0m3.6-13.7h0" stroke="#92d741" stroke-width="0.9" stroke-linecap="round" stroke-opacity="0.5"/><path d="M654 125.8h0m-15.4 27.6h0m18.6-11.9h0m-14.9 1.6h0m1.5-10.5h0m-21.5 32.7h0m55.3-52.4h0" stroke="#a7db33" stroke-width="0.9" stroke-linecap="round" stroke-opacity="0.5"/><path d="M674.6 113.1h0m-61.4 59.1h0m16.1-11.2h0m39.3-47.3h0m-19.7 20.3h0m-33.7 39.7h0m31.9-36.5h0m11.5-12.1h0m-20.3 26.7h0m37.1-39.9h0" stroke="#7ed24e" stroke-width="0.9" stroke-linecap="round" stroke-opacity="0.5"/><path d="M665.1 118.7h0m-3 1.8h0" stroke="#24848d" stroke-width="0.9" stroke-linecap="round" stroke-opacity="0.5"/><path d="M652.9 114.9h0" stroke="#1f948b" stroke-width="0.9" stroke-linecap="round" stroke-opacity="0.5"/><path d="M654.8 131.5h0m-.2 4.9h0m.6-8.5h0m-18.2 20.1h0" stroke="#e9e419" stroke-width="0.9" stroke-linecap="round" stroke-opacity="0.5"/><path d="M636.9 138.4h0m4.3 7.6h0m1.3-.3h0m-23.7 14.9h0m17.2-20.2h0m8.2 7.6h0m-20.9 21.4h0m31.4-33.2h0m-35.7 32.2h0m1.6-6.4h0" stroke="#bfdf24" stroke-width="0.9" stroke-linecap="round" stroke-opacity="0.5"/><path d="M621.8 153.7h0" stroke="#fde724" stroke-width="0.9" stroke-linecap="round" stroke-opacity="0.5"/><path d="M603.4 177.8h0" stroke="#355c8c" stroke-width="0.9" stroke-linecap="round" stroke-opacity="0.5"/><path d="M605.6 180.6h0" stroke="#2e6c8e" stroke-width="0.9" stroke-linecap="round" stroke-opacity="0.5"/><path d="M605.2 180.5h0" stroke="#31648d" stroke-width="0.9" stroke-linecap="round" stroke-opacity="0.5"/><path d="M651.1 138.6h0m1.9-10.1h0m3.3-1.4h0m-39.9 39.9h0m-1.5 1.2h0m56.8-56.2h0m-21.1 22.9h0m-13.3 13.1h0m-19.1 19h0m-3.3 4.9h0m38.4-35h0m18-22.6h0m-44.9 47.1h0m-2.4-.3h0m13.4-13.2h0m-18 18.4h0m15.8-14.9h0m23.8-19.5h0m-14.6 7.4h0m11.2-9h0m-41.2 43h0m57.1-58.7h0m-17 17.2h0m-32.1 29.1h0m18.6-20.3h0m8.1-2.9h0m-25.4 18.7h0m52-46h0m-5.3 1.7h0m-26.5 31.7h0m-9 6.2h0m39.3-32.6h0m-62 54.9h0m10.6-10h0m34.4-38.2h0m-19.8 23.5h0m-16.4 16.2h0m.6-5.3h0m23.6-13.1h0m10.6-16.9h0m-34.3 34h0m4.3-1.6h0m-7.4 7h0m20-26.5h0m-29.8 29.6h0m12.1-7.9h0m-4.8 3.8h0m19.8-15.6h0" stroke="#92d741" stroke-width="1" stroke-linecap="round"/><path d="M666.2 119.4h0m-2.3 .3h0m-54.1 58.9h0m54.7-61.4h0m-2.1 5.6h0m3.9 2.3h0m-1.3 .2h0" stroke="#24848d" stroke-width="1" stroke-linecap="round"/><path d="M650.1 135.3h0m-17.9 20.7h0m-16.9 13.1h0m34.8-36.1h0m-13.1 9.1h0m5.5 1.4h0m2.5-9.6h0m0 2.6h0m9.5-10.7h0m-28.9 35.5h0m16.2-16h0m-13.1 8.9h0m18.5-16.3h0m1.4-3.8h0m-10.4 19h0" stroke="#e9e419" stroke-width="1" stroke-linecap="round"/><path d="M661.3 124.7h0m0 .3h0m6.1-6.4h0m-8.9 4.3h0m11.1-4.9h0m-1.8-.1h0" stroke="#1fa386" stroke-width="1" stroke-linecap="round"/><path d="M673.2 112.3h0m-4 .6h0m-13.5 11.7h0m-44.1 49.2h0m58.1-59.7h0m2.5-1.1h0m-43.7 44.5h0m-5.1 5.8h0m47.2-52.6h0m-61.2 61.8h0m59.4-59.1h0m-25.4 27.3h0m15-7.3h0m-31.6 30.2h0m44.8-49h0m-48.4 49.5h0m47.4-49.2h0m-32.3 33.2h0" stroke="#57c665" stroke-width="1" stroke-linecap="round"/><path d="M644.8 141h0m-21.6 22.1h0m32.9-32.7h0m-19 13.8h0m1.9 2.2h0m-23.3 22.1h0m60.1-59.9h0m-21.2 22.8h0m-6.8 6.7h0m-.5 2.4h0m-18.2 14h0m13.4-8.9h0m-6 2.2h0m3.1 0h0m7-6.9h0m4.8-4h0m-16 10.3h0m-5.8 7.3h0m1.9-6.1h0m-1.3 7.3h0m6.6-7.1h0m38.2-38.5h0m-46.8 45.8h0m-16.1 16.9h0m5.8-7.3h0m-1.3 5.3h0m13.9-14.1h0m-.6-1.5h0m20-23.1h0m1.7-.5h0m-11.4 14.6h0m-18.8 17.9h0m37.4-31.1h0m-24.5 20.6h0m4.3 1h0m9.2-18.3h0m-4.9 6.3h0m30.5-31.8h0m-46.7 50.3h0m10.6-10.2h0m-.4-6.6h0m-15.5 14.1h0m35.8-27.8h0m-30.2 25.6h0m9.5-8.9h0m3.5 .8h0m2.1-1h0m13.4-17.3h0m-42.5 41.1h0m37.8-36.2h0m-37.6 38.5h0m3.9-9h0m15.8-12.9h0" stroke="#bfdf24" stroke-width="1" stroke-linecap="round"/><path d="M606.6 176.8h0m.1 .5h0m-1 .4h0m3.8 3.6h0m55.4-60.6h0m-59.1 57.4h0m-.5 .7h0" stroke="#31648d" stroke-width="1" stroke-linecap="round"/><path d="M624.3 161.1h0m26.8-19.4h0m-40.6 32.6h0m60-60.2h0m-33.6 38.1h0m-2-.9h0m.4-2.7h0m37.7-34.2h0m-23.4 21.5h0m-6.6 9h0m4.4-2.9h0m-19.5 12.8h0m.1 .7h0m-1.6 2.7h0m-.1 2h0m8.4-8.6h0m-19.6 19.2h0m26-25.8h0m-14.2 14.3h0m-7.7 10.2h0m.4-7h0m33.6-35h0m-23.5 24.2h0m1.2 5.3h0m-4.2 .9h0m37.3-28.1h0m-42.4 33.8h0m36.1-37.6h0m16.2-13.8h0m3.3-2h0m-25.1 24.4h0m-2 3.4h0m9.8-11.7h0m12.1-14.6h0m-59.3 62.7h0m34.7-36.3h0m13.1-8.4h0m-7.7 4.6h0m-31.8 23.1h0m18.9-5.4h0m29.2-38.8h0m-29.3 33h0" stroke="#7ed24e" stroke-width="1" stroke-linecap="round"/><path d="M620.4 160.7h0m22.9-12.2h0m-24 14h0m23.5-19.5h0m-4.1 1.5h0m-14.4 17.1h0m-.3 2.8h0m-.1-2.9h0m23.4-16.9h0m-22.1 18.3h0m-4.1-.2h0m-3.7-.2h0m16.4-7.6h0m15.2-17.3h0m-3.8 0h0m-1.6 4.3h0m-14.6 19.9h0m19.5-21h0m-4.2-7.7h0m-4 10.1h0m-15.1 15.1h0m7.1-7.4h0m5.8-.5h0m-18.3 16.7h0m29-33.1h0m27.1-23.8h0m-17.3 16h0m-40.4 40h0m36.2-35h0m-28 30.2h0" stroke="#d4e11a" stroke-width="1" stroke-linecap="round"/><path d="M607 177.9h0m-3.9 2.9h0" stroke="#355c8c" stroke-width="1" stroke-linecap="round"/><path d="M651.2 132.5h0m-34.1 34.6h0m56.8-54h0m-22.9 18.7h0m-.2 2.4h0m-24.1 27.3h0m3.8-7.2h0m-11.1 11.6h0m57.5-55.7h0m-35.4 38.8h0m-12.8 6h0m17-16.9h0m4.3-3.2h0m-35.7 34.3h0m20.3-23.7h0m-7.3 12.2h0m11.1-12.3h0m13.3-17.7h0m-16.9 20.6h0m5.4-3.6h0m-18.4 16.1h0m19.3-16.1h0m-19.2 17.8h0m34.6-30.6h0m-21.1 19.2h0m10.7-9.7h0m-23.5 20h0m35.5-31.7h0m-24.6 27.6h0m-19.5 13.3h0m35.1-29.1h0m-20.8 15.3h0m10.3-11.6h0m-10.3 11.9h0m28.8-27.1h0m-46.8 42.6h0m13.7-13.3h0m17.1-9.5h0m17.2-24.9h0m-28.7 34.6h0m-2.9-2.1h0m29.2-28h0m-2.1 2.8h0m-13.6 17.8h0m8.1-14.1h0m-18.1 20.8h0m8.6-14.4h0m18.7-17.5h0m-16.9 16.4h0m-22.6 24.6h0m12.8-10.7h0m-1.7 1.5h0m9.3-10.5h0m.8-1.8h0" stroke="#a7db33" stroke-width="1" stroke-linecap="round"/><path d="M610.8 175.4h0m24.6-29.1h0m-5.4 8.8h0m-3.5 3h0m-4.1 1.5h0m-11.3 12.7h0m4.1-1.5h0m42.8-45.9h0m-46.4 52.2h0m61.4-63.5h0m-11.7 16.5h0m-5.1-1.5h0m-38.1 41.2h0m53.9-58.6h0m-55.9 56.8h0m18.1-15.1h0m-9.9 11.1h0m-8.1 5.8h0m-7.7 2.1h0m13.9-6.9h0m.3-5.9h0m20.9-21.2h0m14.4-10.3h0m-42.7 42h0m23.2-19h0m-30.9 21.9h0m64.7-57h0m-23 21.7h0m-38.1 37h0" stroke="#6bcd59" stroke-width="1" stroke-linecap="round"/><path d="M665.3 118.7h0m-1.9 2.1h0m-2.2-3h0m-51.4 61.5h0m-1.9-2.5h0m54.3-52.5h0m1 1.3h0m.4-.1h0" stroke="#1f948b" stroke-width="1" stroke-linecap="round"/><path d="M671.6 116.7h0m-1.6-1.5h0m-10.6 8.6h0m-1.3 1.3h0m-47.6 51.1h0m60.3-63.9h0m-61.5 64.9h0m-.8-2h0" stroke="#39b976" stroke-width="1" stroke-linecap="round"/><path d="M640.2 144.3h0m-29.6 28.3h0m22.2-18.9h0m23.2-21.7h0m-15.3 12.2h0m4.1 .7h0" stroke="#fde724" stroke-width="1" stroke-linecap="round"/><path d="M663.8 125.2h0m-54.6 51.7h0m61.8-57h0m-9.4 3.7h0m3.9-2.8h0" stroke="#1e9b89" stroke-width="1" stroke-linecap="round"/><path d="M609 176.2h0m61.1-58.1h0" stroke="#24aa82" stroke-width="1" stroke-linecap="round"/><path d="M671 114.2h0m-2.5 .9h0m2.9 .5h0m1.9-5h0m-3.2 5.6h0m-60 60.8h0m48.8-51.8h0" stroke="#47c06e" stroke-width="1" stroke-linecap="round"/><path d="M604.3 179.9h0m-.5 .1h0" stroke="#414186" stroke-width="1" stroke-linecap="round"/><path d="M664.2 123h0m3.5-.8h0m-1.4-2.9h0m-2.4 4.2h0m1.8-3.6h0m-.6-2.6h0m-.9 8.3h0m-1.3-3.2h0m2-.3h0m0-1.5h0" stroke="#228b8d" stroke-width="1" stroke-linecap="round"/><path d="M606.2 180.8h0m-1.7-.8h0" stroke="#39548b" stroke-width="1" stroke-linecap="round"/><path d="M665.5 116.6h0m-59.8 62.9h0m59.3-60.3h0" stroke="#2e6c8e" stroke-width="1" stroke-linecap="round"/><path d="M659.7 121.8h0m-49.2 54h0m50.2-51h0m-49.3 52.3h0m47.2-54.6h0m11-5h0" stroke="#2eb27c" stroke-width="1" stroke-linecap="round"/><path d="M663.3 122.1h0m4-3.6h0m-2.9-1.8h0m4.4 2.6h0m-62.8 58.7h0" stroke="#277c8e" stroke-width="1" stroke-linecap="round"/><path d="M602.4 179.4h0" stroke="#443781" stroke-width="1" stroke-linecap="round"/><path d="M604.8 181.6h0" stroke="#3d4a89" stroke-width="1" stroke-linecap="round"/><path d="M666.8 120.3h0m-1.4-1.6h0m.7 3.1h0" stroke="#2a758e" stroke-width="1" stroke-linecap="round"/></g><rect x="600.00" y="103.80" width="81.50" height="82.20" fill="none" stroke="#a8a8a8" stroke-width="0.9"/><line x1="603.67" y1="186.00" x2="603.67" y2="187.60" stroke="#333" stroke-width="0.6"/><text x="603.67" y="194.20" font-size="7.05" text-anchor="middle" fill="#555555" stroke="#555555" stroke-width="0.13">0.00</text><line x1="622.03" y1="186.00" x2="622.03" y2="187.60" stroke="#333" stroke-width="0.6"/><text x="622.03" y="194.20" font-size="7.05" text-anchor="middle" fill="#555555" stroke="#555555" stroke-width="0.13">0.25</text><line x1="640.38" y1="186.00" x2="640.38" y2="187.60" stroke="#333" stroke-width="0.6"/><text x="640.38" y="194.20" font-size="7.05" text-anchor="middle" fill="#555555" stroke="#555555" stroke-width="0.13">0.50</text><line x1="658.74" y1="186.00" x2="658.74" y2="187.60" stroke="#333" stroke-width="0.6"/><text x="658.74" y="194.20" font-size="7.05" text-anchor="middle" fill="#555555" stroke="#555555" stroke-width="0.13">0.75</text><line x1="677.09" y1="186.00" x2="677.09" y2="187.60" stroke="#333" stroke-width="0.6"/><text x="677.09" y="194.20" font-size="7.05" text-anchor="middle" fill="#555555" stroke="#555555" stroke-width="0.13">1.00</text><line x1="598.40" y1="181.73" x2="600.00" y2="181.73" stroke="#333" stroke-width="0.6"/><text x="597.40" y="184.83" font-size="7.05" text-anchor="end" fill="#555555" stroke="#555555" stroke-width="0.13">0.00</text><line x1="598.40" y1="163.31" x2="600.00" y2="163.31" stroke="#333" stroke-width="0.6"/><text x="597.40" y="166.41" font-size="7.05" text-anchor="end" fill="#555555" stroke="#555555" stroke-width="0.13">0.25</text><line x1="598.40" y1="144.90" x2="600.00" y2="144.90" stroke="#333" stroke-width="0.6"/><text x="597.40" y="148.00" font-size="7.05" text-anchor="end" fill="#555555" stroke="#555555" stroke-width="0.13">0.50</text><line x1="598.40" y1="126.49" x2="600.00" y2="126.49" stroke="#333" stroke-width="0.6"/><text x="597.40" y="129.59" font-size="7.05" text-anchor="end" fill="#555555" stroke="#555555" stroke-width="0.13">0.75</text><line x1="598.40" y1="108.07" x2="600.00" y2="108.07" stroke="#333" stroke-width="0.6"/><text x="597.40" y="111.17" font-size="7.05" text-anchor="end" fill="#555555" stroke="#555555" stroke-width="0.13">1.00</text><text x="580.00" y="144.90" font-size="8.10" text-anchor="middle" fill="#1a1a1a" transform="rotate(-90 580.00 144.90)">replicate 2</text><text x="640.75" y="202.00" font-size="8.10" text-anchor="middle" fill="#1a1a1a">replicate 1</text><text x="5.80" y="114.20" font-size="8.80" text-anchor="start" fill="#000" font-weight="bold">b</text><clipPath id="cc0"><rect x="23.10" y="207.80" width="86.20" height="82.50"/></clipPath><g clip-path="url(#cc0)"><path d="M69 283.7h0m1.7-9.7h0m-1.7 2.3h0m-.2-1.9h0m-8.5 1h0m2.9 4h0m9.2-6.1h0m-2.9 5.9h0m-.6-3.3h0m-7 1.7h0m2.9-1.4h0m-.5-.1h0m1.6 .2h0m-1.4-1.6h0m2.4 1.2h0m-.8 3.3h0m-9.8-7.9h0m9.8 4h0m-8.4 4h0m6.7-22.5h0m-8.9 1.9h0m1.7-12.9h0" stroke="#92d741" stroke-width="1.7" stroke-linecap="round" stroke-opacity="0.9"/><path d="M69 283.2h0m2.7-.1h0m-4.8 0h0m-4.9-.6h0m7.2-.6h0m-1.8-.6h0m-3.1-2.6h0m-1.3 3.8h0m-1.8-.9h0m.1-3.1h0m7.9 1.7h0m-2.6-.6h0m4.6 4.4h0m-13.1 .9h0m6.8-.4h0m8.6-4.5h0m-13.9 1.4h0m1.5 .5h0m-7.2-9.2h0m19.3 5.7h0m-20.4-5.8h0m.5-.4h0m5.4 10.3h0m14.9-3.9h0m-13.7 1h0m-6.9-10.2h0m3.7 15.3h0m12.6-3.9h0m-4.5 1.2h0m-5.4-.7h0m4.8-.1h0m-5.6 2.1h0m3.7-4.8h0m9.6 2.4h0" stroke="#24aa82" stroke-width="1.7" stroke-linecap="round" stroke-opacity="0.9"/><path d="M59.4 278.6h0m2 1.5h0m5.8-4.9h0m-4.5 3.4h0m.8-.1h0m4.9 1.1h0m-11.7-.4h0m.8 .5h0m9.7-3.6h0m-13.7-13.6h0m3.4 15.3h0m7.3-1.9h0m3.8 3.1h0m3.2-1.7h0m-9.7 0h0m7.6-.7h0m2 2.8h0m-12.2-2h0m9.2-1.2h0m-5.3 2.2h0m6.3-1.5h0m-6.9-.3h0m4.5 2.8h0m-.5-2.2h0" stroke="#6bcd59" stroke-width="1.7" stroke-linecap="round" stroke-opacity="0.9"/><path d="M60 277.7h0m4.2 .8h0m8.8 .4h0m-9.7 .9h0m-5.5-3h0m.6 3.7h0m8.5-1.6h0m3.5-3.6h0m-.1 4.5h0m-10-.4h0m3.3-1h0m1.6-8.1h0m-4.9 7.2h0m4.9 2.9h0m-3.6 .1h0m3.7-4.2h0m3.3 5.6h0m0-2.6h0m.4-3.3h0m-6.6 5.3h0m-1-2.7h0m12.1-3.2h0m-5.5 2.8h0m-2.3 3.8h0m-1.9-6.6h0m1.4 6.3h0m1.1-2.3h0m-10-4h0m15.1 5.8h0m-8.9 .4h0m-5.1-.5h0m11.2-1.7h0m-3.3 .3h0m-4.5-1.5h0m4.8 .1h0m5.1 3.5h0m1.7-6.3h0m-.7 2.5h0m-.5-3.4h0" stroke="#57c665" stroke-width="1.7" stroke-linecap="round" stroke-opacity="0.9"/><path d="M47.5 280h0m32.9-3.1h0m-30.7 .6h0m33 4.8h0m-34.4 .2h0m-2.3 2.4h0m33.1-3.2h0m-1.5 2.1h0m-29.9-3.4h0m31.6 3.2h0m-.6 .8h0m-.6-.3h0m-29.9-1.4h0m1.7 .3h0m-3.5-.5h0m1.5-.2h0m2.1-1.5h0m-1.5 3.3h0m1.2-.6h0m32.7 0h0m-.3 .2h0m-5.1-.9h0m-27.6 1.5h0m-1.1 .3h0m-.3-3.3h0m32.7 .6h0m-32.2-.7h0m34.3 2.2h0" stroke="#440154" stroke-width="1.7" stroke-linecap="round" stroke-opacity="0.9"/><path d="M71.5 269.4h0m-3.9-6.3h0m1.9 12h0m-2-9.5h0m-8.4 10.2h0m3.3-5.4h0m4.6-7.5h0m-3.6 4.6h0m-.3 7.7h0m-6.9-8.3h0m5.2-.6h0m5 2.3h0m-1.3 2.8h0m-1.6-.2h0m-2.7 2.5h0m0-1h0m-.4-12.3h0m-1.1 9.6h0m-1.3 4.8h0m14.7-7.9h0m-17.9 4.7h0m7.8-.3h0m-3.1-2.9h0m8 2.1h0m-5.3 1.3h0m-5.3 .3h0m13.4-5.7h0m-9.6 6h0m5.5-.7h0m3.2-3.6h0m-12 .8h0m2.5 1.6h0m1.3 .4h0m8.8-3.8h0m-.3 2.8h0m1.8 2h0m-14-5.7h0m10.3 6.8h0m-2.1 .8h0m.2-6.3h0m4.7 3.5h0m-8.6 1.6h0m-4.5 3.1h0m4-11.7h0m6.7 5.4h0m-5.1-.9h0m-3.7 5.4h0m3-2.2h0m-2.5-10.9h0m10.8 11.5h0m-11.1 1h0m6.4-9.4h0m-4.5 8.6h0m6.7-3.2h0m.9 3.7h0m-1.6 0h0m-3.4-2.4h0m-4.7-5.8h0m2.3 8.5h0m5.1-.7h0m4.4-1.3h0m-10.2-2.3h0m3.3 2.1h0m4.5-.3h0m-5.6-4.2h0m4.8 7.1h0m-2.1-7.9h0m-4.6-3.5h0m7.5 6.3h0m-9.7 7.9h0m9.8-2.9h0m-9.7-1.3h0m10.5-20.1h0m4.8 10.6h0m-15.5 4.9h0m12-.8h0" stroke="#fde724" stroke-width="1.7" stroke-linecap="round" stroke-opacity="0.9"/><path d="M57.7 281.2h0m4.1-.2h0m8.4-4h0m-3.6 3.2h0m5.4-1.1h0m-5.2-.6h0m6.6-1.8h0m-8.4 2.7h0m-5.5 3.8h0m-5-12.9h0m1.1 5.3h0m13.7 8.9h0m-2.6-5.8h0m-1.4-1.1h0m4.4 2.7h0m1.8-1.8h0m-11.1 2.5h0m9.9 1.3h0m.4-1.4h0m-2.1 .4h0m-1.6 .1h0m-1-3.7h0m-7.3 4.7h0m10.5-5.5h0m-2.2 4.3h0m-6.9-1.5h0m-3.7-1.5h0m8.5 1.6h0m1 .8h0m-7.3 .8h0m14.9-8.7h0m-18 2.3h0m17.4 1.6h0m-8.1 4.1h0m5.6 .4h0m2.2-2.2h0m-.9-.5h0" stroke="#47c06e" stroke-width="1.7" stroke-linecap="round" stroke-opacity="0.9"/><path d="M58.6 280.1h0m-2.7-2.3h0m5.1 4h0m4.4-2.2h0m-3.9 1.8h0m6.4-1.6h0m4 .1h0m-9.5 3.2h0m-6.9-4.8h0m2.2 3.6h0m2.6-1.8h0m10 2h0m-10.8-1.7h0m-3-2.4h0m9.2 .6h0m-9.3 3.7h0m2.6-1.8h0m13.6-6.1h0m-7.6 8.3h0m-3.5 1.6h0m12.2-8.5h0m-1.6 4.1h0m1.9-4.4h0m-9.8 6.6h0m2.4-1h0m7.2-5.5h0m-.6 3.6h0m-10.7 3.1h0m-6.4-5.1h0m1.5 6.7h0m15.7-10.5h0" stroke="#2eb27c" stroke-width="1.7" stroke-linecap="round" stroke-opacity="0.9"/><path d="M53.4 284.6h0m-2.2-3.4h0m27-8.8h0m-27.3 8.8h0m1-5.6h0m24.8 2.6h0m-.6 4.5h0m.8 .4h0m-36.5-34.6h0m6.3 5.9h0m44.8 15.4h0" stroke="#414186" stroke-width="1.7" stroke-linecap="round" stroke-opacity="0.9"/><path d="M71.3 279h0m-10.4 1.2h0m3.5 2.9h0m9.4-12.7h0m-9.4 11.5h0m4.3 1.1h0m.8-2.3h0m3.4 1.2h0m-8.8 1.7h0m5.3 0h0m-1.8-1.6h0m2.5 .5h0m-5-.5h0m1.5-3.5h0m.9 2.5h0m-2.6-1.1h0m4.3 3.5h0m2.6-5.3h0m-16.9 1.6h0m13.5 3.7h0m-3.6-6.2h0m2.7 5.1h0m4.8-4.4h0m-1 2.5h0m-13.8 .4h0m.9 3.6h0m3.9-5.1h0m3.1-.6h0m4.3 .3h0m-7.7 .3h0m6.8 4.2h0m-6.4-4.2h0m-6.2-.1h0m5.8 3.4h0" stroke="#39b976" stroke-width="1.7" stroke-linecap="round" stroke-opacity="0.9"/><path d="M75.7 278.4h0m-23.5 2.6h0m2 3.3h0m-1.1-9.8h0m-2.3 5.2h0m25.9-4h0m-25 2.6h0m23.6 1.9h0m-21.6 3.8h0m23-7.3h0m-.9 2.7h0m1.2 .6h0m-4.2 3.9h0m-19.1 .7h0m.6-.7h0m19.2 .3h0m1.9-3.8h0" stroke="#31648d" stroke-width="1.7" stroke-linecap="round" stroke-opacity="0.9"/><path d="M80 282.2h0m-.7-1.2h0m-2 3h0m3.6-.1h0m1.3-.8h0m-32.5 1.4h0m2.3-4.5h0m26.4-.9h0m-28.7 2.2h0" stroke="#462d7c" stroke-width="1.7" stroke-linecap="round" stroke-opacity="0.9"/><path d="M47.3 280.3h0m.2-.9h0m30 2h0m1.2-1.7h0m-28 2.1h0m-.3-7.1h0m-3.4 9.7h0m31.7-9.3h0m-27.5 3.9h0m29.2 5h0m-4.2-2.6h0m-43.9-54.8h0m2.3 12.3h0m7.4 10.3h0" stroke="#443781" stroke-width="1.7" stroke-linecap="round" stroke-opacity="0.9"/><path d="M68.5 281.7h0m-1 .7h0m.4 .5h0m-13.7-8.2h0m5.1 8.4h0m-.8-1h0m9.1-.9h0m3 2.3h0m-8.4 1.2h0m5.2-1.7h0m6.1-3.6h0m-15.3 3.6h0m-.2-1.6h0m-.1 2.2h0m9.3 1.2h0m-8.4-3.9h0m4.2 1.2h0m-2.5 .4h0m2.1 1.2h0m-5.4-1.2h0m-.1-3h0m15.5 4.7h0m-6.5-.2h0m-7.7 .7h0m16.1-10.7h0m-14 8.3h0m-1 2.5h0m-.1-2.4h0m6.1 2h0m6.9-1.2h0m-7.5 .8h0m10.4-10.4h0" stroke="#1e9b89" stroke-width="1.7" stroke-linecap="round" stroke-opacity="0.9"/><path d="M65.1 282.7h0m-.4 1.1h0m10-11.3h0m-6 10h0m-13.1 1.7h0m5.1-.8h0m9.2 .8h0m1.3 .6h0m5.8-6.2h0m-12.4 5.7h0m-9.1-2.7h0m13.1 2.7h0m-16.1-6.9h0m2 1.9h0m-.8-3.6h0m21.3 .6h0m-13.7 7.2h0m5.3-.1h0m1-1h0m-5.7 .3h0m12.2 1.3h0m-12.4 .2h0m27-27.4h0" stroke="#24848d" stroke-width="1.7" stroke-linecap="round" stroke-opacity="0.9"/><path d="M60.7 281.4h0m12.4-3.7h0m-2.2 3.9h0m-7.4-.6h0m10.6-2.6h0m-14.2 1h0m1 4.6h0m-2-2.8h0m11.6 0h0m-4.1 .3h0m5.2 2h0m.7-1.6h0m-7.4-.7h0m4.7 2.1h0m.6-.9h0m-8.4-1.5h0m-3.7 1.8h0m-3.4-7.6h0m-1.1 .9h0m9.9 8.6h0m9.1-6.3h0m-15.1 5.7h0m.1-2.5h0m12.3 .8h0m-3-1.5h0m-9.3 1.3h0m2-.4h0m-.5-1.4h0m12.3 4.6h0m-5.4-1.5h0m-11.5-6.4h0m9.9 7.7h0m-1.1-1.5h0m.6 1.2h0m-6.3-3.2h0m17.7-6.4h0m-15.8 6.9h0m7.3 .6h0m3.4 1.3h0m-11.6-3.2h0m10.4 3.1h0m2.7 .6h0" stroke="#1fa386" stroke-width="1.7" stroke-linecap="round" stroke-opacity="0.9"/><path d="M63.2 282.2h0m-5.6-.4h0m15.5-2.7h0m-20.4-8h0m8.9 11.6h0m-.4-.6h0m7.3 2.4h0m-2.8-.8h0m-2.6 .1h0m-3.4 .7h0m7.2 .2h0m-11.8-6.5h0m-.9 2.9h0m13.8 3.8h0m1.1-3.1h0m-9.8 1.1h0m13.8-.3h0m-19.7-9.6h0m11.3 9.6h0m-2.9 2.2h0m1.3-1.9h0m11.7-12.4h0m-2.8 14.3h0m-19-8.8h0m13.5 8.2h0m-2.5-2.5h0m-8.3 2.6h0m17.3-3.1h0m-11.3 2.3h0m13.1-11h0m-8.5 8.3h0m1.1 1.5h0m5.9-3.9h0" stroke="#228b8d" stroke-width="1.7" stroke-linecap="round" stroke-opacity="0.9"/><path d="M50 283.6h0m29.3-2.3h0m-29.5 3.6h0m.6-4.3h0m-4.1 2.7h0m3 1.6h0m-1.1-5.5h0m.5 1.8h0m-2.5 .4h0m1.1 1.1h0" stroke="#460c5f" stroke-width="1.7" stroke-linecap="round" stroke-opacity="0.9"/><path d="M65.3 276.9h0m-9.4 0h0m5-.9h0m-1-2.5h0m5.3 5h0m-4.2-5.8h0m9.1 3.2h0m-9.7 .7h0m-.1-2.8h0m-3.7 1.8h0m6.2 1.1h0m5.4-.6h0m-9.3 2.8h0m6.8-5.7h0m-6 6h0m11.4-6.8h0m-1.8 .7h0m-4.9 3.6h0m-8.2 .2h0m15.3-2.3h0m-7-2.5h0m-1.5-4.9h0m2.4 .2h0m3.1-15.4h0m-10.2 12.2h0m-3.7-10.5h0m-2.1-14.1h0m9 16.5h0" stroke="#bfdf24" stroke-width="1.7" stroke-linecap="round" stroke-opacity="0.9"/><path d="M66.3 283.6h0m-4.3 1.2h0m-7.9-5.6h0m2.6 5.5h0m18.1-8.4h0m-13.4 6.1h0m11.6-1.4h0m-.3-.8h0m-17-.3h0m9.2 2.9h0m-4.5 1.4h0m-3.2 .4h0m-1.6-3.1h0m10.5 2.5h0m-12.1-8.7h0m14.3 8.7h0m-8.7-1.1h0m-4.6-1.8h0m10.2-2h0m10.8-8.6h0m-3 9.5h0m-16.4 4.3h0m-3.4-1.6h0m15.9 1.5h0m-4.3 .2h0m-10.3-3.8h0m11.9 3.3h0m-10.5 .9h0m4.9 0h0m10-2h0m-1 .8h0" stroke="#1f948b" stroke-width="1.7" stroke-linecap="round" stroke-opacity="0.9"/><path d="M74.2 283.4h0m-23.4-3.1h0m26.6 .6h0m-23.5 .4h0m21.9-1.5h0m-.1-1h0m1 .2h0m-12.6 5.7h0m11.9-2.5h0m-35.2-48.4h0m4.7 10.3h0m.4 12.7h0m45.6 8.9h0" stroke="#355c8c" stroke-width="1.7" stroke-linecap="round" stroke-opacity="0.9"/><path d="M55.1 280.5h0m14.8 3.6h0m-16.3-4.1h0m20.2 4.5h0m2-5.4h0m-2.6 2.7h0m-15.4 3.1h0m18.1-3.7h0m-1.3 2.8h0m-8.8-.6h0m8.2-6.1h0m-10.3 6h0m12.1-8.3h0m-1.1 2.8h0m-5.5 6.4h0m-13.7-.3h0m-1.6-5.6h0m-6.5-15.3h0" stroke="#2a758e" stroke-width="1.7" stroke-linecap="round" stroke-opacity="0.9"/><path d="M74.4 284.4h0m-22.6-1.6h0m23.3-1.5h0m.8 2.6h0m-24.3-6.2h0m2 6.5h0m-1-4h0m0 1.8h0m-.7-.7h0m26.1 3.2h0m7.6-15.4h0" stroke="#39548b" stroke-width="1.7" stroke-linecap="round" stroke-opacity="0.9"/><path d="M52 283.2h0m-2.8-1.9h0m30.9 2.2h0m-1.2-.2h0m-30-2.6h0m28.5-2.4h0m.2-2.8h0m-28.2 1h0m-2.8 6.4h0m-.1-.7h0m33.9 .3h0m-30.1-1h0m-21.6-69h0m11.3 22.3h0m1.6-15.5h0m-1.2 40.9h0" stroke="#47186a" stroke-width="1.7" stroke-linecap="round" stroke-opacity="0.9"/><path d="M60.8 277.5h0m3.9-.2h0m-5.4-1.7h0m8.1 2.4h0m4.5-2.3h0m-10.2 3.9h0m-5-1.8h0m12.9-3.8h0m-10.9 6.6h0m6.6-.7h0m-2.3 2.4h0m3.6-4.7h0m4.5 .2h0m-5.8-.3h0m-3.9 .6h0m-1.1-1.5h0m7-1.6h0m-5 2.2h0m9 1.1h0m-3.7 .8h0m-6.3-1.6h0m-5.9-14.4h0m6.5-14.2h0m15 10.1h0" stroke="#7ed24e" stroke-width="1.7" stroke-linecap="round" stroke-opacity="0.9"/><path d="M57.8 271.3h0m2.3 3.7h0m7.4 1.9h0m-6.4-8.6h0m.6 6.7h0m7 .3h0m-3.3-.3h0m-3.2-2.3h0m4.3-1.3h0m.2 .6h0m2.6 4.4h0m-8.8-2h0m-4 .6h0m4.5 1.9h0m14.4-16.8h0m-3.8-12.2h0" stroke="#e9e419" stroke-width="1.7" stroke-linecap="round" stroke-opacity="0.9"/><path d="M68.3 277.1h0m-11.6-3.1h0m.7-.8h0m13.9 3.7h0m-2.5-1.8h0m-9.7-2.2h0m13.3 .1h0m-13.7 1.6h0m9.9-1.8h0m-6.1 3h0m2.2 2.8h0m6.3-1.9h0m-1.8-11.4h0m-9.1-7.1h0m11.7-6.4h0m-11.9 2.9h0m3.1-8.8h0m-4.1 9.5h0m15.7 3.1h0" stroke="#a7db33" stroke-width="1.7" stroke-linecap="round" stroke-opacity="0.9"/><path d="M75.9 282.5h0m1.7-.6h0m-1.8 2.4h0m2.9-4.6h0m-3.1 5h0m5-3.6h0m-25.8 3.7h0m-3.7-6h0m25.5 5.9h0" stroke="#3d4a89" stroke-width="1.7" stroke-linecap="round" stroke-opacity="0.9"/><path d="M57.3 284.9h0m-3.1-2.8h0m.1-2.6h0m21.8-.3h0m-5.7 5.5h0m-18.3-7.9h0m24.1 2.1h0m-9.7 5.8h0m-11.1-4.2h0m0 4h0m11.2-1.4h0m-12.4-.5h0m-1-5.4h0m.9 3h0" stroke="#277c8e" stroke-width="1.7" stroke-linecap="round" stroke-opacity="0.9"/><path d="M69.4 275.6h0m-1.9-1.6h0m-.8 .4h0m5-3.5h0m-6.5 5.1h0m-4.4-.9h0m7 1.4h0m-3.7-2.3h0m1-1h0m-1.5 .7h0m12.2-26h0m-19.1 17.7h0m17.8 1.1h0m1.1-11.4h0m-20-6.4h0m.2 14.7h0m5.6-16h0m-10.1-31h0m27.7 28.5h0m-12.1 5.8h0m2.4 0h0" stroke="#d4e11a" stroke-width="1.7" stroke-linecap="round" stroke-opacity="0.9"/><path d="M52.1 277.8h0m23.8-.5h0m-1.3 5.9h0m1-7.5h0m-1.3 2.6h0m-20.4 1.8h0m-.9-3.4h0m21.2 7.9h0m-19.1-2.9h0m20.2-1.3h0m-33.3-41.5h0m2.7 6.9h0m3.9 13h0" stroke="#2e6c8e" stroke-width="1.7" stroke-linecap="round" stroke-opacity="0.9"/><path d="M49.8 283.2h0m30 1h0m-27.8-.7h0m-.8-3.4h0m30.4-.2h0m-.2 3.9h0m-1.5-1h0m-31.5-4.8h0m-17.3-57.3h0m-.4 8.6h0m6.2 16.5h0m12.9 14.4h0" stroke="#482273" stroke-width="1.7" stroke-linecap="round" stroke-opacity="0.9"/></g><rect x="23.10" y="207.80" width="86.20" height="82.50" fill="none" stroke="#a8a8a8" stroke-width="0.9"/><line x1="27.19" y1="290.30" x2="27.19" y2="291.90" stroke="#333" stroke-width="0.6"/><text x="27.19" y="298.50" font-size="7.05" text-anchor="middle" fill="#555555" stroke="#555555" stroke-width="0.13">−10</text><line x1="46.67" y1="290.30" x2="46.67" y2="291.90" stroke="#333" stroke-width="0.6"/><text x="46.67" y="298.50" font-size="7.05" text-anchor="middle" fill="#555555" stroke="#555555" stroke-width="0.13">−5</text><line x1="66.14" y1="290.30" x2="66.14" y2="291.90" stroke="#333" stroke-width="0.6"/><text x="66.14" y="298.50" font-size="7.05" text-anchor="middle" fill="#555555" stroke="#555555" stroke-width="0.13">0</text><line x1="85.62" y1="290.30" x2="85.62" y2="291.90" stroke="#333" stroke-width="0.6"/><text x="85.62" y="298.50" font-size="7.05" text-anchor="middle" fill="#555555" stroke="#555555" stroke-width="0.13">5</text><line x1="105.09" y1="290.30" x2="105.09" y2="291.90" stroke="#333" stroke-width="0.6"/><text x="105.09" y="298.50" font-size="7.05" text-anchor="middle" fill="#555555" stroke="#555555" stroke-width="0.13">10</text><line x1="21.50" y1="287.00" x2="23.10" y2="287.00" stroke="#333" stroke-width="0.6"/><text x="20.50" y="290.10" font-size="7.05" text-anchor="end" fill="#555555" stroke="#555555" stroke-width="0.13">0.0</text><line x1="21.50" y1="269.83" x2="23.10" y2="269.83" stroke="#333" stroke-width="0.6"/><text x="20.50" y="272.93" font-size="7.05" text-anchor="end" fill="#555555" stroke="#555555" stroke-width="0.13">0.5</text><line x1="21.50" y1="252.66" x2="23.10" y2="252.66" stroke="#333" stroke-width="0.6"/><text x="20.50" y="255.76" font-size="7.05" text-anchor="end" fill="#555555" stroke="#555555" stroke-width="0.13">1.0</text><line x1="21.50" y1="235.48" x2="23.10" y2="235.48" stroke="#333" stroke-width="0.6"/><text x="20.50" y="238.58" font-size="7.05" text-anchor="end" fill="#555555" stroke="#555555" stroke-width="0.13">1.5</text><line x1="21.50" y1="218.31" x2="23.10" y2="218.31" stroke="#333" stroke-width="0.6"/><text x="20.50" y="221.41" font-size="7.05" text-anchor="end" fill="#555555" stroke="#555555" stroke-width="0.13">2.0</text><text x="7.00" y="249.05" font-size="8.10" text-anchor="middle" fill="#1a1a1a" transform="rotate(-90 7.00 249.05)">probe SD</text><text x="66.20" y="306.00" font-size="8.10" text-anchor="middle" fill="#1a1a1a">probe mean</text><clipPath id="cc1"><rect x="141.30" y="207.80" width="82.20" height="82.50"/></clipPath><g clip-path="url(#cc1)"><path d="M148.1 282.2h0m.8 .2h0m-1.3-1.1h0m4.2-.8h0m-1.8 1.8h0m1.8-1.1h0m-1.3-.8h0m1.5 .6h0m1.4-3.2h0m-3.8 4.6h0m58.2-3.8h0m5.2 3.1h0m-5-4.4h0m.2 1.6h0m3.6 1.6h0m1.8-.2h0m-2.9-1.6h0m-4-.3h0m-26.9 3.8h0m2.2-.7h0m2.3-.4h0m-1.5 .7h0" stroke="#443781" stroke-width="1.7" stroke-linecap="round" stroke-opacity="0.9"/><path d="M145.9 281.9h0m6.5-2.1h0m-4.8 3.7h0m-2-1.6h0m-.1 .5h0m.8 2h0m1.3-3.1h0m62-1.9h0m-1.9-1.3h0m-.9-1.2h0m5.8 4.7h0m.1-1.7h0m-5.3-2.4h0m2.2 2.1h0m-3.3-1.8h0m1.6-.6h0m2.8 1.7h0m-1.4-.4h0" stroke="#440154" stroke-width="1.7" stroke-linecap="round" stroke-opacity="0.9"/><path d="M153.5 280h0m-.8 .2h0m-1.6 1h0m1.1-.1h0m.7-3.8h0m.4 .7h0m46.5-3.2h0m6.9 1.9h0m2.7 2.6h0" stroke="#39548b" stroke-width="1.7" stroke-linecap="round" stroke-opacity="0.9"/><path d="M145.8 284.4h0m2-1.4h0m1.4-.6h0m2.7-3.6h0m.6 1.7h0m.4 0h0m-3.9-.4h0m1.5 .3h0m-.2 1.4h0m14.8-3h0m42.5-1.2h0m1 1.1h0m5 2.1h0m-1 .4h0" stroke="#462d7c" stroke-width="1.7" stroke-linecap="round" stroke-opacity="0.9"/><path d="M147.7 280.6h0m-2 3.8h0m3.8-1.7h0m2.3-3.8h0m-5.8 5.6h0m2.2-2.4h0m1.1-.1h0m-1.7-.7h0m3.2-1.1h0m59.9-.6h0m1.5-.5h0m-.4-.4h0m1.3 2.6h0m-6.6-3h0m2.3 1.1h0m.8-.6h0m2.2 1.3h0m1.7 1.7h0m-1.2-2.7h0m1.7 3h0" stroke="#47186a" stroke-width="1.7" stroke-linecap="round" stroke-opacity="0.9"/><path d="M148.9 282.4h0m3.7-4h0m-3.8 3.9h0m2-.9h0m-2.1 1.7h0m1.1-1.8h0m-.6 .2h0m3.7-2.5h0m-3.4 3.2h0m-4 2.5h0m2.1-1.4h0m1.6-1.2h0m3-2h0m54.7-3.3h0m-1-.3h0m7.2 2.7h0m-4 0h0m3.6 2h0" stroke="#414186" stroke-width="1.7" stroke-linecap="round" stroke-opacity="0.9"/><path d="M148.7 281.3h0m-2.8 1.4h0m2.9 .3h0m62-2.7h0m-4.1-3.1h0m4.5 3.2h0m-1.4-2.4h0m-.3 2h0m-2.3-1.2h0" stroke="#460c5f" stroke-width="1.7" stroke-linecap="round" stroke-opacity="0.9"/><path d="M153.3 280.4h0m6.9-9.2h0m5.8 4.9h0m-13.2 4.4h0m1-1.3h0m47.3-6.8h0m7.4 9.9h0m3.6-2.9h0" stroke="#31648d" stroke-width="1.7" stroke-linecap="round" stroke-opacity="0.9"/><path d="M152.8 279.6h0m-.8-1.1h0m3.5-3.1h0m-.8 3.8h0m45.3-8.2h0m9.2 6.5h0" stroke="#2a758e" stroke-width="1.7" stroke-linecap="round" stroke-opacity="0.9"/><path d="M149.7 281.5h0m.1 .8h0m.2-1.4h0m3.5-2.5h0m-5.1 2.1h0m2.9 1.1h0m.7-5.9h0m45.9-2.1h0m12 5.3h0" stroke="#3d4a89" stroke-width="1.7" stroke-linecap="round" stroke-opacity="0.9"/><path d="M146.8 282.4h0m1.7-.6h0m-.2 1.2h0m.2-2.5h0m65.3-.6h0m-6-.8h0m.8-.5h0m5 3.1h0m-1.5-2.1h0m-5-1.1h0m4.7 .8h0m-4-4.1h0m1.5 2.3h0m-.8 1.4h0m5.1 1.3h0m4 4.3h0" stroke="#482273" stroke-width="1.7" stroke-linecap="round" stroke-opacity="0.9"/><path d="M151.1 281.1h0m5.1-5.8h0m-4.1 8.2h0m52.5-8.8h0m-2-2.3h0" stroke="#2e6c8e" stroke-width="1.7" stroke-linecap="round" stroke-opacity="0.9"/><path d="M150.9 281.9h0m1.9-3h0m8.8 .6h0m45-5h0" stroke="#355c8c" stroke-width="1.7" stroke-linecap="round" stroke-opacity="0.9"/><path d="M164.8 274.7h0m-11.9 7.6h0m10.1-2.9h0m.9-1.2h0m2.8-1.5h0m-12.4 4.9h0m.5-4h0m4.1 .6h0m.2-1.8h0m40.4-5.1h0" stroke="#1e9b89" stroke-width="1.7" stroke-linecap="round" stroke-opacity="0.9"/><path d="M152.4 278.5h0m4.6 3.1h0m4.7-7h0m1.4 0h0m-9.4 2.7h0m4.6 2.1h0m5.4-6.4h0m39.6-3.4h0m.2 8.7h0m6 1.5h0m-2.3 .6h0m-3-2.7h0m-5-12h0m-1.3 3.7h0m10 8.4h0m1.9 .2h0m-10.7-6.3h0m6.1 10.5h0" stroke="#228b8d" stroke-width="1.7" stroke-linecap="round" stroke-opacity="0.9"/><path d="M158.1 277.2h0m3.5-5.8h0m-9.6 9.1h0m8.1-3.4h0m1.2 .2h0m-1.4-5.2h0m.5 3.9h0m.5-4.5h0m-6.4 2.7h0m54.2 2h0m.5 1.9h0m-11.5-8.8h0" stroke="#24848d" stroke-width="1.7" stroke-linecap="round" stroke-opacity="0.9"/><path d="M154.3 277h0m-3.2 2.1h0m10-8.1h0m-1.2 3.3h0m6.3 3.7h0m-11.4 1.5h0m6 .8h0m-5.6 3.6h0m44.6-11.1h0m4.7-.3h0m-4.9 .2h0m4.5 1.4h0m-4.2 1h0m7.4 5.4h0" stroke="#277c8e" stroke-width="1.7" stroke-linecap="round" stroke-opacity="0.9"/><path d="M166.6 272.1h0m-6.5-.9h0m17.5-3.8h0m16.6 9.3h0m13.2-.5h0m-4-.1h0m3.4 2.3h0m-24.9-17.8h0m.8 6.6h0m.4 7.6h0m3-6.6h0m5 .1h0m-14.5 8.3h0m9-4.5h0m-15 4.3h0m-13.5-5.4h0m14.5 3.2h0m22.8-3.6h0m10 .2h0m.4 .7h0m-7.4 3.7h0m1.1-5.6h0m2.8 5.7h0m-14.3-6.7h0" stroke="#39b976" stroke-width="1.7" stroke-linecap="round" stroke-opacity="0.9"/><path d="M158 280h0m-2.3 1.4h0m1.5-.5h0m9.4-12.4h0m-9.5 12.2h0m40.5-13.2h0m6.1 7.7h0m.2-2.7h0" stroke="#1fa386" stroke-width="1.7" stroke-linecap="round" stroke-opacity="0.9"/><path d="M151.9 278.3h0m35.1-10.9h0m-11.6 7h0m-2.6-.3h0m21.5-2.2h0m3.4-14h0m-4.5 18.7h0m-9.7-.2h0m12.6 .9h0m-5.2-7.5h0m-25.1 5.4h0m7.3-9.1h0m-2.3 8.1h0m34.2-3.9h0m-26.3 6h0m18.9-8.5h0m-13.6 3.2h0m-19.4-4.8h0m16.8-3.7h0m10.3 3.6h0" stroke="#6bcd59" stroke-width="1.7" stroke-linecap="round" stroke-opacity="0.9"/><path d="M155.3 278.1h0m53.6 2.1h0" stroke="#2eb27c" stroke-width="1.7" stroke-linecap="round" stroke-opacity="0.9"/><path d="M166.5 271.9h0m-9.2 9.5h0m42-6.6h0m1.6-1.5h0m-33.6-.8h0m24.7-2.2h0m-13.4 4.5h0m1.8-4.1h0m-23.4 1.3h0m50.9-2.4h0m-49.9 4.1h0m8.2-.9h0m-8.9-1.9h0m47.1-5.9h0m-4.3 1h0m-35.7 9.9h0" stroke="#57c665" stroke-width="1.7" stroke-linecap="round" stroke-opacity="0.9"/><path d="M158.1 274.9h0m.6-2.7h0m39.3 3.4h0" stroke="#24aa82" stroke-width="1.7" stroke-linecap="round" stroke-opacity="0.9"/><path d="M199.8 276.4h0m-5.6-5.9h0m-8.2 2.6h0m17.9 .6h0m-21.4-1.1h0m.7 1.1h0m-3.6-4.2h0m-6.3 2.1h0m-.1-3.2h0m6.4-8.8h0m-21.9 6.9h0m35.4 4.3h0m-11.8 .6h0" stroke="#e9e419" stroke-width="1.7" stroke-linecap="round" stroke-opacity="0.9"/><path d="M200 261.9h0m-38.8 14.7h0m23.9-8.2h0m8.6 1.7h0m-24.2 .4h0m-10.7 8.2h0m14.5-2.1h0m-7.9-4.2h0m35.2-10.6h0m-26.9 7.8h0m.4 1.1h0m13.3-7.2h0m-25 6.7h0" stroke="#7ed24e" stroke-width="1.7" stroke-linecap="round" stroke-opacity="0.9"/><path d="M203.8 276.8h0m-42.5-.3h0m18.8-16.5h0m-13.7 14.1h0m19.3-.2h0m-13-4.4h0m-7.7 2.6h0m-7.7 4.6h0m27.5-9.4h0m-11.9 9.1h0m6.2-13h0m12.9 5.1h0m9.1 5.3h0m.4 3.4h0m-30.4-15h0m25.1 14.6h0m8.5-15.1h0m-21-3.7h0" stroke="#d4e11a" stroke-width="1.7" stroke-linecap="round" stroke-opacity="0.9"/><path d="M167.8 274h0m38.5-2.2h0m-46.6 .3h0m12.2-5.9h0m25.8 9.8h0m-16.2-2.1h0m8.7-10.3h0m-28.4 13.4h0m38.5-.9h0m-35.1-.9h0m14.5-1.9h0m-10.1-1.2h0m30.4-2.2h0m-25.6-2.6h0m.1-13.5h0m27 18.4h0" stroke="#bfdf24" stroke-width="1.7" stroke-linecap="round" stroke-opacity="0.9"/><path d="M165.9 272.6h0m17.2 1.4h0m-20.2 1.7h0m19.5-14.3h0m-24.5 1.3h0m19.3 11.1h0m23.2-14.2h0m-4.9 3.5h0m-26.5 6.6h0m11.2 2.6h0m27.6 1.6h0m-40.3 1.9h0m13.7-6.4h0m18.5 5.3h0m-33.3-.4h0m40.8 2.7h0m-12.9-4.9h0m-13.8 2.2h0m23.6 3.8h0" stroke="#47c06e" stroke-width="1.7" stroke-linecap="round" stroke-opacity="0.9"/><path d="M200.1 276.2h0m-14.1-5.1h0m5.9 5.6h0m-15.9-11.7h0m-13.5 11.2h0m15.8-2.6h0m11.2-1h0m-7.4 1.1h0m14.9-.2h0m7.4 3h0m-41.6-10.1h0m20.3-3.9h0m-10.8 12.3h0m32.5 3.1h0m-22.7-8.9h0m23.5 .1h0m-46.3 7.8h0" stroke="#92d741" stroke-width="1.7" stroke-linecap="round" stroke-opacity="0.9"/><path d="M201.4 277.7h0m-36.9-6.5h0m10.6 4.3h0m32.7-8.2h0m-13.6 1.8h0m-14.4 7.1h0m22.2-1.5h0m-31.6 .1h0m35.9-9.8h0m-13.9 2.3h0m-21.4 3h0m19.8-5.3h0m-32.3 13.5h0m9.7-1.6h0m-6.2-11.1h0m25.7 2.4h0m1.8 4.5h0m4.4 .4h0m6.1 4.5h0" stroke="#a7db33" stroke-width="1.7" stroke-linecap="round" stroke-opacity="0.9"/><path d="M205.8 276h0m-5.1-.9h0m-.9 1.5h0m6.8 2.2h0m2.7 1.1h0" stroke="#1f948b" stroke-width="1.7" stroke-linecap="round" stroke-opacity="0.9"/></g><rect x="141.30" y="207.80" width="82.20" height="82.50" fill="none" stroke="#a8a8a8" stroke-width="0.9"/><line x1="145.00" y1="290.30" x2="145.00" y2="291.90" stroke="#333" stroke-width="0.6"/><text x="145.00" y="298.50" font-size="7.05" text-anchor="middle" fill="#555555" stroke="#555555" stroke-width="0.13">0.00</text><line x1="163.52" y1="290.30" x2="163.52" y2="291.90" stroke="#333" stroke-width="0.6"/><text x="163.52" y="298.50" font-size="7.05" text-anchor="middle" fill="#555555" stroke="#555555" stroke-width="0.13">0.25</text><line x1="182.03" y1="290.30" x2="182.03" y2="291.90" stroke="#333" stroke-width="0.6"/><text x="182.03" y="298.50" font-size="7.05" text-anchor="middle" fill="#555555" stroke="#555555" stroke-width="0.13">0.50</text><line x1="200.54" y1="290.30" x2="200.54" y2="291.90" stroke="#333" stroke-width="0.6"/><text x="200.54" y="298.50" font-size="7.05" text-anchor="middle" fill="#555555" stroke="#555555" stroke-width="0.13">0.75</text><line x1="219.06" y1="290.30" x2="219.06" y2="291.90" stroke="#333" stroke-width="0.6"/><text x="219.06" y="298.50" font-size="7.05" text-anchor="middle" fill="#555555" stroke="#555555" stroke-width="0.13">1.00</text><line x1="139.70" y1="286.71" x2="141.30" y2="286.71" stroke="#333" stroke-width="0.6"/><text x="138.70" y="289.81" font-size="7.05" text-anchor="end" fill="#555555" stroke="#555555" stroke-width="0.13">0.00</text><line x1="139.70" y1="268.01" x2="141.30" y2="268.01" stroke="#333" stroke-width="0.6"/><text x="138.70" y="271.11" font-size="7.05" text-anchor="end" fill="#555555" stroke="#555555" stroke-width="0.13">0.05</text><line x1="139.70" y1="249.31" x2="141.30" y2="249.31" stroke="#333" stroke-width="0.6"/><text x="138.70" y="252.41" font-size="7.05" text-anchor="end" fill="#555555" stroke="#555555" stroke-width="0.13">0.10</text><line x1="139.70" y1="230.61" x2="141.30" y2="230.61" stroke="#333" stroke-width="0.6"/><text x="138.70" y="233.71" font-size="7.05" text-anchor="end" fill="#555555" stroke="#555555" stroke-width="0.13">0.15</text><line x1="139.70" y1="211.91" x2="141.30" y2="211.91" stroke="#333" stroke-width="0.6"/><text x="138.70" y="215.01" font-size="7.05" text-anchor="end" fill="#555555" stroke="#555555" stroke-width="0.13">0.20</text><text x="121.10" y="249.05" font-size="8.10" text-anchor="middle" fill="#1a1a1a" transform="rotate(-90 121.10 249.05)">probe SD</text><text x="182.40" y="306.00" font-size="8.10" text-anchor="middle" fill="#1a1a1a">probe mean</text><clipPath id="cc2"><rect x="256.30" y="207.80" width="82.20" height="82.50"/></clipPath><g clip-path="url(#cc2)"><path d="M268.1 280h0m.3 .1h0m-4.8 1.7h0m2.5-.7h0m2.5-.8h0m-5.3 2.8h0m-.1-1.2h0m1.2 .4h0m-2.3 .7h0m4.5-3.1h0m.6-.7h0m13.6-9.2h0m-15.3 9.7h0m62.8 .6h0m-4-.6h0m-2.6-1.7h0m1.2 0h0m.2 .5h0" stroke="#3d4a89" stroke-width="1.7" stroke-linecap="round" stroke-opacity="0.9"/><path d="M267.9 280.6h0m-4.9 2.3h0m1.7-1.1h0m.8-.6h0m-3.3 1.6h0m64.3-2.6h0m-.9-.3h0m-.8-1.3h0m-1.7-.1h0m4.3 1.9h0m.8 .2h0m.1 .7h0m-2.1-3.3h0" stroke="#462d7c" stroke-width="1.7" stroke-linecap="round" stroke-opacity="0.9"/><path d="M267.6 280.9h0m.2-.9h0m1-2h0m-4 4.2h0m.4-.4h0m1.9-1.4h0m.3-6h0m2.6 9.4h0m53.4-10.1h0" stroke="#39548b" stroke-width="1.7" stroke-linecap="round" stroke-opacity="0.9"/><path d="M264.9 282.4h0m3.9-3.4h0m-2 1.6h0m15.4-6.1h0m-14.6 13.3h0m47.5-14.7h0m1.4-.2h0m5.5 .5h0m-6.1-.5h0m5.7 2.9h0" stroke="#355c8c" stroke-width="1.7" stroke-linecap="round" stroke-opacity="0.9"/><path d="M265.3 280.4h0m-4.1 3.1h0m6.5-2.6h0m-1.2-.5h0m-2.7 1.2h0m-1.6 1.4h0m-1 .4h0m.2 .8h0m6-5.5h0m-.6 2.3h0m7.7-1.5h0m51.2 1.1h0m-.1-.1h0m.7 .2h0m-4.5-4.4h0" stroke="#414186" stroke-width="1.7" stroke-linecap="round" stroke-opacity="0.9"/><path d="M265.9 280.1h0m-.2 1.7h0m.8-2.1h0m-1.5-1h0m-1.1 3.6h0m3.2-1.3h0m-.8 .4h0m1.1-2.2h0m53.7-3h0m3.4 2.8h0m3.1 1.6h0m-4.2-3.7h0m-2.2-.9h0m1.9 2.8h0" stroke="#443781" stroke-width="1.7" stroke-linecap="round" stroke-opacity="0.9"/><path d="M262.1 283.9h0m1.8-.9h0m-2.3 0h0m2.8-2.8h0m-3.4 4.4h0m2.2-2.8h0m2.9-1.8h0m-1 1.8h0m-1.2-1.1h0m-3.4 3.2h0m2.2-.9h0m60.6-4.3h0m.7 1h0m-.8-1.1h0m-2.4-2.7h0m0 1.9h0m4.7 .6h0m-45.5-25h0m22.2 28.8h0m30.4 2.3h0" stroke="#482273" stroke-width="1.7" stroke-linecap="round" stroke-opacity="0.9"/><path d="M263.9 282.9h0m-2-1.4h0m3.8-.1h0m-2.1 1.2h0m-1.5 1.2h0m-1.4-.3h0m1.5 .4h0m3-3.7h0m61.8 .2h0m-4.1-3.2h0m4.2 3.5h0m-1.4-.9h0m-4.9-2.2h0m.9-1.9h0m2.7 3.6h0m1.3-2.3h0m-3.6 0h0m5.2 1.7h0m-.2 .4h0m1.2 .7h0m-3.3-.1h0m-2.8-2.3h0" stroke="#47186a" stroke-width="1.7" stroke-linecap="round" stroke-opacity="0.9"/><path d="M267.3 279.4h0m.9 .5h0m-.9 .8h0m-1 .9h0m6.8-4.4h0m-4.9 3.1h0m8.9-3.3h0m39.8-3.1h0m1.2 0h0m-5.6-2.7h0" stroke="#31648d" stroke-width="1.7" stroke-linecap="round" stroke-opacity="0.9"/><path d="M261.1 283.1h0m1 .4h0m-.1 .6h0m-1-2.1h0m-.7 1.9h0m3.4-1.6h0m-1 1.4h0m64.8-3.8h0m-.4 .4h0m-4.5-2h0m.2 .9h0m2.3 .9h0m-2.7-1.5h0m5.1 1.4h0m.3 .1h0m-1.4-2.1h0m-3.1 1.3h0m-2.5-1.2h0m7.7 2.8h0m-6.7-2.3h0m3.9 .4h0m-1.3 .8h0m-1.1-1.2h0m4.9 0h0" stroke="#440154" stroke-width="1.7" stroke-linecap="round" stroke-opacity="0.9"/><path d="M268 280.5h0m8.9-3.3h0m-7.6-1.5h0m11 3.2h0m-.2-2.5h0m-2.5 .9h0m-8.7 5h0m10.3-10.5h0m-3.6-5h0m42.2 7.2h0m4.1 2.9h0" stroke="#277c8e" stroke-width="1.7" stroke-linecap="round" stroke-opacity="0.9"/><path d="M261.9 284h0m1.5-2.6h0m-1.9 1.2h0m2.5-.9h0m-3.9 3.5h0m67.9-5.1h0m-2.2-1.8h0m-3.8-.9h0m5.9 3.5h0m.4 .4h0" stroke="#460c5f" stroke-width="1.7" stroke-linecap="round" stroke-opacity="0.9"/><path d="M267.7 279.3h0m3.4 2.6h0m6.6-5.7h0m-11.1 8.8h0m2-6.4h0m-1.2 6.1h0m11.4-17.4h0m1.9 8.4h0m32.6-8.3h0m.3 5.6h0m5.8 .7h0m3.5 6.2h0m-.5-4.5h0" stroke="#2a758e" stroke-width="1.7" stroke-linecap="round" stroke-opacity="0.9"/><path d="M279.3 277.6h0m-1.3 2.4h0m3.5-8.1h0m-7.2 8.2h0m-2.4-1.2h0m2.9-2.4h0m1.2-.4h0m45.3 2.5h0m-7.5-4.3h0m11.3 5.9h0" stroke="#24848d" stroke-width="1.7" stroke-linecap="round" stroke-opacity="0.9"/><path d="M280.3 275.6h0m-4.7-.5h0m7.3-8.6h0m-3.4-9.1h0m17.1 6.5h0m24.4 9.3h0" stroke="#2eb27c" stroke-width="1.7" stroke-linecap="round" stroke-opacity="0.9"/><path d="M274.4 275.9h0m-4.4 1.3h0m11-4.9h0m-3.9 5.8h0m.4-1.4h0m-4.1 1.4h0m-6.1 1.1h0m51.3-8h0m1.2 5.9h0m-2.4 .4h0m-1.6-1.3h0m7.3 1.7h0" stroke="#1f948b" stroke-width="1.7" stroke-linecap="round" stroke-opacity="0.9"/><path d="M274.1 273.7h0m-2.1 1.7h0m-5.5 8.1h0m15.2-10.7h0m-16.3 8.3h0m9.1-4.9h0m4.3-1.9h0m-12.8 5.9h0m46.2-11.6h0m.4-4.3h0m7 9.6h0" stroke="#1e9b89" stroke-width="1.7" stroke-linecap="round" stroke-opacity="0.9"/><path d="M265.6 283h0m2.7-9.1h0m13.4-.4h0m-11.9 9.6h0m-3.6-2.2h0m52.8-6.3h0m1.7 7.8h0" stroke="#2e6c8e" stroke-width="1.7" stroke-linecap="round" stroke-opacity="0.9"/><path d="M277.7 276h0m-3.5-1.3h0" stroke="#24aa82" stroke-width="1.7" stroke-linecap="round" stroke-opacity="0.9"/><path d="M266 279.3h0m13.4-5.3h0m0-5.1h0m1 .4h0m43.5 6.8h0m-1 .5h0m-5.4-3.4h0m5 5.3h0m-6.7-5.3h0m-3-1.5h0m11.9 6.9h0m-9.9-3.8h0m1-3.7h0m-2.6 2.3h0" stroke="#228b8d" stroke-width="1.7" stroke-linecap="round" stroke-opacity="0.9"/><path d="M271.3 283.1h0m6.7-8.4h0m34.9-1.7h0m6.3 3.7h0m-45.3-6.6h0m35-11.2h0m-34 19.2h0m.5-9.9h0m16.1-3.3h0m30 13.6h0m-45.1-21.3h0m40.9 19.6h0m-21.3-9.2h0m19.4 5.7h0m-27.7-9h0m-8 10.9h0m15.4-8.9h0m-20 4.2h0m44.6 2.7h0m-36.8-10.8h0m23.1 5.4h0m-16.5 1.4h0m-.6 6.9h0m17.3-7.3h0" stroke="#47c06e" stroke-width="1.7" stroke-linecap="round" stroke-opacity="0.9"/><path d="M281.2 269.3h0m-4.4 3.7h0m38.1-4.1h0m5.8 5.2h0m3.8 1.1h0m-8.1-.3h0m-1.1-.3h0" stroke="#1fa386" stroke-width="1.7" stroke-linecap="round" stroke-opacity="0.9"/><path d="M318.3 264.8h0m.6 6.2h0m-46.9 5.3h0m23.2-8.1h0m-21.3 7h0m39.4 .9h0m-26.3-4.8h0m6.9 1.2h0m6.6-3.3h0m-.9-.2h0m-17.5 3.7h0m14.3-.7h0m21.3 2.4h0m-19.7-14.6h0m-6.5 5.5h0m-3.4 3.1h0m-10.5 6.9h0m3.9 1.1h0m33.8-6h0" stroke="#57c665" stroke-width="1.7" stroke-linecap="round" stroke-opacity="0.9"/><path d="M286.6 273.9h0m28.4-4.9h0m-.9-10h0m-31.1 11.8h0m4.4-.2h0m22.1-5.3h0m10.3 11.2h0m-23.4-19.2h0m15.4 12.9h0m-40.7 5.2h0m39.7-1.3h0m-30.6-5.8h0m10.2-1.3h0" stroke="#92d741" stroke-width="1.7" stroke-linecap="round" stroke-opacity="0.9"/><path d="M316 276.8h0m5-1.8h0m-7-2h0m-3.8-13.4h0m-31.4 16.8h0m1.6-2.8h0m16.1-.2h0m-24.4 3.9h0m39-5.2h0m.3-11.5h0m.5 15.8h0m10-4.9h0m-43.2-.9h0m41.5 .9h0m-34.7 .4h0m-4 3.1h0m20.5-10.3h0m-11.6 4.3h0m-16.5-7h0" stroke="#bfdf24" stroke-width="1.7" stroke-linecap="round" stroke-opacity="0.9"/><path d="M295.6 271.3h0m-13.2 5.5h0m-7-2.5h0m8-4.5h0m-3.7 2.5h0m.3-2.2h0m24.5-4.7h0m-6.4 5.9h0m5.2-23.2h0m-6.7 23.6h0m3.8 .7h0m-21.2 3.7h0m-8-13.5h0m13.9 7.4h0m32.4 2.3h0m-7.1-1.3h0m-36.5 2.1h0m38.7-2h0m-9.1-7.1h0m-28.1 9.7h0m-1.5-.6h0m-1.2-2.5h0m47.5-15.3h0" stroke="#6bcd59" stroke-width="1.7" stroke-linecap="round" stroke-opacity="0.9"/><path d="M317.4 270.7h0m-29.2 1.3h0m-8.4-2.2h0m37.6 2.3h0m-19.8-7.5h0m-13-9.7h0m21.8 16h0m3.9 3h0m-24.2-8.1h0m-12.6 7.3h0m3.9-20.9h0m4.2 24.8h0m12.9-19.2h0m14.3 17.4h0m-30.9 .4h0m-4.6-2.8h0" stroke="#a7db33" stroke-width="1.7" stroke-linecap="round" stroke-opacity="0.9"/><path d="M286 262.5h0m28.5 4.2h0m-40.3 9.7h0m46.8-3.7h0m-17.4-3.9h0m-11.3 3.1h0m-8.3-1.7h0m-5.7 5.2h0m44.6-13.1h0m-3.5 9.3h0m-37.6 2.1h0m10.4-.3h0m20.2-8h0m-32.8-2.6h0m10.2 10.1h0m-2.2-23.6h0m-6.9 19h0m37.5 5.9h0m-10.9-16h0m-28.4 5.1h0" stroke="#39b976" stroke-width="1.7" stroke-linecap="round" stroke-opacity="0.9"/><path d="M278.7 276.7h0m-7-14.1h0m33.1-3.4h0m3.4 13.9h0m-25.2-14.2h0m24.1 8.9h0m2.7 4.9h0m-7.9-1.2h0m-11.4-2.1h0m2.1 .6h0m23.8-8.6h0m-7.5 7.7h0m-37.4 2.5h0" stroke="#7ed24e" stroke-width="1.7" stroke-linecap="round" stroke-opacity="0.9"/><path d="M277.6 277.2h0m24-12.4h0m21 13.3h0m-50.7-9.1h0m17.8 3.9h0m-6-2.8h0m14.4 2.8h0m-1.4-3.2h0m-21.3 3.9h0m47.2-.5h0m-23 2.6h0m-21.5-7.9h0m40-1.5h0m-11.1 7.8h0m-30-2.4h0m-1-5.5h0m24.7-30h0m8.9 3h0m15.6-.4h0m-29.7 6.8h0" stroke="#d4e11a" stroke-width="1.7" stroke-linecap="round" stroke-opacity="0.9"/><path d="M298.1 271.8h0m-2.3-11.9h0m-19.4 6.7h0m17.1-4.9h0m26 11.6h0m-13-1.1h0m-31-3.2h0m40.9 6.6h0m-6.2-10.3h0m12.5 8.8h0m-23-12.8h0m14.2-1.6h0m-7.3 .7h0m-34.2 16.6h0m33-4.9h0m8.8-4.8h0m3.7-3.1h0m3.7 12.7h0m-34.7-3h0m-14.2 2.6h0m46.6-7.7h0m-28 4.4h0" stroke="#e9e419" stroke-width="1.7" stroke-linecap="round" stroke-opacity="0.9"/><path d="M298.5 223.1h0m5.9 2.7h0" stroke="#fde724" stroke-width="1.7" stroke-linecap="round" stroke-opacity="0.9"/></g><rect x="256.30" y="207.80" width="82.20" height="82.50" fill="none" stroke="#a8a8a8" stroke-width="0.9"/><line x1="260.00" y1="290.30" x2="260.00" y2="291.90" stroke="#333" stroke-width="0.6"/><text x="260.00" y="298.50" font-size="7.05" text-anchor="middle" fill="#555555" stroke="#555555" stroke-width="0.13">0.00</text><line x1="278.52" y1="290.30" x2="278.52" y2="291.90" stroke="#333" stroke-width="0.6"/><text x="278.52" y="298.50" font-size="7.05" text-anchor="middle" fill="#555555" stroke="#555555" stroke-width="0.13">0.25</text><line x1="297.03" y1="290.30" x2="297.03" y2="291.90" stroke="#333" stroke-width="0.6"/><text x="297.03" y="298.50" font-size="7.05" text-anchor="middle" fill="#555555" stroke="#555555" stroke-width="0.13">0.50</text><line x1="315.54" y1="290.30" x2="315.54" y2="291.90" stroke="#333" stroke-width="0.6"/><text x="315.54" y="298.50" font-size="7.05" text-anchor="middle" fill="#555555" stroke="#555555" stroke-width="0.13">0.75</text><line x1="334.06" y1="290.30" x2="334.06" y2="291.90" stroke="#333" stroke-width="0.6"/><text x="334.06" y="298.50" font-size="7.05" text-anchor="middle" fill="#555555" stroke="#555555" stroke-width="0.13">1.00</text><line x1="254.70" y1="286.71" x2="256.30" y2="286.71" stroke="#333" stroke-width="0.6"/><text x="253.70" y="289.81" font-size="7.05" text-anchor="end" fill="#555555" stroke="#555555" stroke-width="0.13">0.00</text><line x1="254.70" y1="268.01" x2="256.30" y2="268.01" stroke="#333" stroke-width="0.6"/><text x="253.70" y="271.11" font-size="7.05" text-anchor="end" fill="#555555" stroke="#555555" stroke-width="0.13">0.05</text><line x1="254.70" y1="249.31" x2="256.30" y2="249.31" stroke="#333" stroke-width="0.6"/><text x="253.70" y="252.41" font-size="7.05" text-anchor="end" fill="#555555" stroke="#555555" stroke-width="0.13">0.10</text><line x1="254.70" y1="230.61" x2="256.30" y2="230.61" stroke="#333" stroke-width="0.6"/><text x="253.70" y="233.71" font-size="7.05" text-anchor="end" fill="#555555" stroke="#555555" stroke-width="0.13">0.15</text><line x1="254.70" y1="211.91" x2="256.30" y2="211.91" stroke="#333" stroke-width="0.6"/><text x="253.70" y="215.01" font-size="7.05" text-anchor="end" fill="#555555" stroke="#555555" stroke-width="0.13">0.20</text><text x="235.50" y="249.05" font-size="8.10" text-anchor="middle" fill="#1a1a1a" transform="rotate(-90 235.50 249.05)">probe SD</text><text x="297.40" y="306.00" font-size="8.10" text-anchor="middle" fill="#1a1a1a">probe mean</text><clipPath id="cc3"><rect x="370.70" y="207.80" width="81.80" height="82.50"/></clipPath><g clip-path="url(#cc3)"><path d="M376.6 279.2h0m.7 .8h0m1.5-.4h0m8.8-1.1h0m6.7-2.3h0m36.1-8.2h0m-36.9 10.1h0m7.4 .4h0" stroke="#1e9b89" stroke-width="1.7" stroke-linecap="round" stroke-opacity="0.9"/><path d="M378.1 280.7h0m1.4-.3h0m6.7-4.9h0m10.3-1.1h0m2.9 3h0m3.7-1.2h0m39.1 3h0m-59-.7h0" stroke="#24aa82" stroke-width="1.7" stroke-linecap="round" stroke-opacity="0.9"/><path d="M377.7 278.5h0m38.7-6.7h0m20.6 8.6h0m-42-.8h0" stroke="#1f948b" stroke-width="1.7" stroke-linecap="round" stroke-opacity="0.9"/><path d="M381.8 266.1h0m2.2 0h0m16.2 0h0m3.7 0h0m5.1 2.7h0m2.2-.8h0m5.9-9.3h0m3 8.6h0m6.6-3h0" stroke="#bfdf24" stroke-width="1.7" stroke-linecap="round" stroke-opacity="0.9"/><path d="M385.4 277.4h0m3.7-1.9h0m6.7-15h0m2.9 11.3h0m6.6 3.7h0" stroke="#47c06e" stroke-width="1.7" stroke-linecap="round" stroke-opacity="0.9"/><path d="M390.6 270.3h0m6.6-3.8h0m10.3 1.5h0m5.2 1.9h0" stroke="#92d741" stroke-width="1.7" stroke-linecap="round" stroke-opacity="0.9"/><path d="M391.3 261.7h0" stroke="#7ed24e" stroke-width="1.7" stroke-linecap="round" stroke-opacity="0.9"/><path d="M392.8 272.5h0m-4.4-.7h0m9.6 3.7h0" stroke="#57c665" stroke-width="1.7" stroke-linecap="round" stroke-opacity="0.9"/><path d="M395 253.4h0" stroke="#47186a" stroke-width="1.7" stroke-linecap="round" stroke-opacity="0.9"/><path d="M401.7 274.7h0m28-7.4h0m-37.6 7.4h0m-7.4 4.5h0" stroke="#2eb27c" stroke-width="1.7" stroke-linecap="round" stroke-opacity="0.9"/><path d="M414.9 267.3h0m3.7-.8h0m5.2-27.3h0m.7 26.9h0m1.5-3.7h0" stroke="#d4e11a" stroke-width="1.7" stroke-linecap="round" stroke-opacity="0.9"/><path d="M427.4 275.5h0" stroke="#2a758e" stroke-width="1.7" stroke-linecap="round" stroke-opacity="0.9"/><path d="M434.8 277.4h0" stroke="#24848d" stroke-width="1.7" stroke-linecap="round" stroke-opacity="0.9"/></g><rect x="370.70" y="207.80" width="81.80" height="82.50" fill="none" stroke="#a8a8a8" stroke-width="0.9"/><line x1="374.38" y1="290.30" x2="374.38" y2="291.90" stroke="#333" stroke-width="0.6"/><text x="374.38" y="298.50" font-size="7.05" text-anchor="middle" fill="#555555" stroke="#555555" stroke-width="0.13">0.00</text><line x1="392.81" y1="290.30" x2="392.81" y2="291.90" stroke="#333" stroke-width="0.6"/><text x="392.81" y="298.50" font-size="7.05" text-anchor="middle" fill="#555555" stroke="#555555" stroke-width="0.13">0.25</text><line x1="411.23" y1="290.30" x2="411.23" y2="291.90" stroke="#333" stroke-width="0.6"/><text x="411.23" y="298.50" font-size="7.05" text-anchor="middle" fill="#555555" stroke="#555555" stroke-width="0.13">0.50</text><line x1="429.65" y1="290.30" x2="429.65" y2="291.90" stroke="#333" stroke-width="0.6"/><text x="429.65" y="298.50" font-size="7.05" text-anchor="middle" fill="#555555" stroke="#555555" stroke-width="0.13">0.75</text><line x1="448.08" y1="290.30" x2="448.08" y2="291.90" stroke="#333" stroke-width="0.6"/><text x="448.08" y="298.50" font-size="7.05" text-anchor="middle" fill="#555555" stroke="#555555" stroke-width="0.13">1.00</text><line x1="369.10" y1="286.71" x2="370.70" y2="286.71" stroke="#333" stroke-width="0.6"/><text x="368.10" y="289.81" font-size="7.05" text-anchor="end" fill="#555555" stroke="#555555" stroke-width="0.13">0.00</text><line x1="369.10" y1="268.01" x2="370.70" y2="268.01" stroke="#333" stroke-width="0.6"/><text x="368.10" y="271.11" font-size="7.05" text-anchor="end" fill="#555555" stroke="#555555" stroke-width="0.13">0.05</text><line x1="369.10" y1="249.31" x2="370.70" y2="249.31" stroke="#333" stroke-width="0.6"/><text x="368.10" y="252.41" font-size="7.05" text-anchor="end" fill="#555555" stroke="#555555" stroke-width="0.13">0.10</text><line x1="369.10" y1="230.61" x2="370.70" y2="230.61" stroke="#333" stroke-width="0.6"/><text x="368.10" y="233.71" font-size="7.05" text-anchor="end" fill="#555555" stroke="#555555" stroke-width="0.13">0.15</text><line x1="369.10" y1="211.91" x2="370.70" y2="211.91" stroke="#333" stroke-width="0.6"/><text x="368.10" y="215.01" font-size="7.05" text-anchor="end" fill="#555555" stroke="#555555" stroke-width="0.13">0.20</text><text x="349.90" y="249.05" font-size="8.10" text-anchor="middle" fill="#1a1a1a" transform="rotate(-90 349.90 249.05)">probe SD</text><text x="411.60" y="306.00" font-size="8.10" text-anchor="middle" fill="#1a1a1a">probe mean</text><clipPath id="cc4"><rect x="485.70" y="207.80" width="81.60" height="82.50"/></clipPath><g clip-path="url(#cc4)"><path d="M497 277.8h0m-.4 3h0m-1.6-1.6h0m1.4 1.9h0m-4.7 1.2h0m3-2h0m.6 .7h0m-.6 1.2h0m1.3-1.4h0m-.5 .6h0m-1.3-.3h0m.4-1.2h0m62-2.9h0m-4.8-.8h0m4.5 4.9h0m-1.6-2.1h0m-4.9-1.4h0m4.6 2.6h0m-4.7-4.7h0m5.2 2.1h0" stroke="#443781" stroke-width="1.7" stroke-linecap="round" stroke-opacity="0.9"/><path d="M490.2 283.6h0m1.2 .5h0m2.6-1.7h0m-.9-2.5h0m.4 2h0m-2.6 1h0m66-2.1h0m-.4-.6h0m-5.9-3.4h0m1.5 .6h0m1.5 1.3h0m-.1-.7h0m1.6 .5h0m-3.2-1.8h0m1.4 3h0" stroke="#460c5f" stroke-width="1.7" stroke-linecap="round" stroke-opacity="0.9"/><path d="M493.4 282.2h0m-2.2 1.4h0m1-2.3h0m-2.1 2.8h0m.3-.6h0m-.6 .2h0m3.1-1.3h0m-1.2 .4h0m-1.9-.2h0m1.7 0h0m60.7-4.1h0m-2.4-2.3h0m4.4 4h0m1.7 .5h0m-.6-.8h0m-2.4-.6h0m3.8 2.1h0m-5.1-4.8h0m5.7 4.8h0m.1-.5h0m-1.6-1.5h0m.4 1.1h0m-6.2-4.8h0m7.6 5.4h0m-4.3-1.4h0m-2.4-2.7h0m5.9 3.9h0" stroke="#440154" stroke-width="1.7" stroke-linecap="round" stroke-opacity="0.9"/><path d="M491.4 282h0m2.3-.8h0m1.8 .4h0m-3.3 1.3h0m-1-.8h0m6.2-1.8h0m-.7 .6h0m-4.5 1.7h0m.8-1.3h0m5-1h0m-6.9 3.7h0m3.3-4h0m.1 .7h0m58.1-1.9h0m0-.1h0m4.5 1.1h0m-1.9-2h0m2.1 .1h0m-5.2 .8h0m-2.1-1.2h0m2.8 1.5h0m3.4 1.2h0m-3.4-1h0" stroke="#462d7c" stroke-width="1.7" stroke-linecap="round" stroke-opacity="0.9"/><path d="M495.8 280.6h0m-1.4 1.4h0m-2.6-.8h0m4.5-.1h0m.4-.3h0m-2.1 1.2h0m-2.4 .7h0m1.7-1.2h0m1.7-.3h0m.4-1.7h0m.6 .1h0m54.8-.8h0m-34.8-16.4h0" stroke="#414186" stroke-width="1.7" stroke-linecap="round" stroke-opacity="0.9"/><path d="M494.9 280.5h0m2.1-1.9h0m1 .7h0m.9 1.8h0m10.7-7.2h0m-2.2 1.6h0m-7.4 1.8h0m-3.8 2.2h0m6.4-4h0m3.2 .8h0m-5.4 4.9h0m-1.2-7.8h0m9 2.5h0m-.6-2.1h0m39.7 5.4h0m1-4.6h0m2.7 1.2h0m-.2 3.3h0m1.1-1.6h0m-1.1-1.7h0m-4.3-5.7h0" stroke="#2e6c8e" stroke-width="1.7" stroke-linecap="round" stroke-opacity="0.9"/><path d="M491.6 283.7h0m2.1-1.1h0m.6-2.4h0m-3.5 1.1h0m2.1 0h0m-.1-.2h0m-1.3 1.4h0m2.3-2.6h0m57.7-.9h0m2.8 1.5h0m2.7-.8h0m-.7 .9h0m-.4 .6h0m-2-1.2h0m3.1 1.4h0m-5.9-2.8h0" stroke="#482273" stroke-width="1.7" stroke-linecap="round" stroke-opacity="0.9"/><path d="M491.9 283.5h0m5.9-3.7h0m-3 1.4h0m1.1 0h0m11.3-9.1h0m-11.8 7.1h0m2.3 .7h0m60 .7h0m-52.2-21.9h0" stroke="#355c8c" stroke-width="1.7" stroke-linecap="round" stroke-opacity="0.9"/><path d="M495.6 280.9h0m-1.7 .7h0m3.6-1.1h0m-3.9-.5h0m-2.3 .9h0m14.5-6.7h0m4.9 1.9h0m-1.3-2.1h0m1.3-2.7h0m39.6 4.3h0m5.7 4.8h0" stroke="#3d4a89" stroke-width="1.7" stroke-linecap="round" stroke-opacity="0.9"/><path d="M493.8 282.5h0m3.6-2.4h0m-.8-3.3h0m9.2 1.6h0m38.3-4.2h0m8.1 .7h0" stroke="#39548b" stroke-width="1.7" stroke-linecap="round" stroke-opacity="0.9"/><path d="M496.2 279.4h0m-2.2 2.7h0m4.1-2.2h0m-2.7-.1h0m1.6 .9h0m-3.2 .6h0m3.2-2.5h0m10.1-6.1h0m-.6 5h0m-8.7 5.7h0m7.7-7.9h0m-2.6 2.5h0m-4.9-1.5h0m7.4 .4h0m48.6-1.7h0m-3.3 4.3h0m-2.2-3.3h0m-6.2-4.3h0" stroke="#31648d" stroke-width="1.7" stroke-linecap="round" stroke-opacity="0.9"/><path d="M491.9 279.8h0m-1.8 4.3h0m.4-.6h0m62.3-7h0m-1.1 1.8h0m-1.1-1.9h0m.9-.6h0m5.7 3.1h0m-2.9 .2h0m-.1 .8h0m-3.1-1.5h0m1.9 .9h0m5 .4h0m-.1 1.6h0m-1.4-2.1h0m-4.3-1.8h0m.2 .8h0m.6 1.2h0m.8-1.8h0m1.1 2.2h0m-4.4-1.4h0m.8-2.5h0m3.9 4.3h0" stroke="#47186a" stroke-width="1.7" stroke-linecap="round" stroke-opacity="0.9"/><path d="M496.5 280.7h0m-3.3 2.2h0m3.5-4.6h0m7.2-6.1h0m-5.7 4.5h0m.8 .2h0m-2.9 3.9h0m-.3 4.2h0m1.7-3.9h0m-2.2 3.7h0m2.1-5.1h0m44.7-10.1h0m-1 .7h0m4.1 .7h0m-3 .9h0m6.8 4.1h0m-5.1-3.6h0m5.5-1.9h0m1 6.9h0" stroke="#277c8e" stroke-width="1.7" stroke-linecap="round" stroke-opacity="0.9"/><path d="M498.7 283.5h0m5-4.9h0m-7.1 2.2h0m-1.1-.2h0m48.2-11.3h0m1.2-1.3h0m5.5 7.8h0m-1.6 4.4h0" stroke="#228b8d" stroke-width="1.7" stroke-linecap="round" stroke-opacity="0.9"/><path d="M494.8 276.1h0m13.2 4.1h0m-6.1-5.6h0m-7.3 11.1h0m58.6-5.9h0m-9.7-6.5h0m4.7-.6h0m4.1 2.7h0m-11.4-5.5h0m8 7.6h0m2.7-5.8h0m-5.1 1h0" stroke="#2a758e" stroke-width="1.7" stroke-linecap="round" stroke-opacity="0.9"/><path d="M509 274.3h0m-10 7.7h0m-1.7-1.6h0m3-5.4h0m6.1-3h0m41.3 .7h0m6.3 11.3h0m-5.6-7.2h0m-2.1-3h0" stroke="#1e9b89" stroke-width="1.7" stroke-linecap="round" stroke-opacity="0.9"/><path d="M504.7 273.9h0m-9.6 14h0m7.7-9.5h0m-1.2-1.5h0m9.7-3.4h0m-14.3 6.1h0m54.2-3.5h0m2.1 2.8h0m-11.7-8h0" stroke="#1f948b" stroke-width="1.7" stroke-linecap="round" stroke-opacity="0.9"/><path d="M506.4 270.6h0m.4 5.5h0m-12.4 3h0m-.6 4.2h0m11.8-3.9h0m.8-1.7h0m.5-4.4h0m-12.4 6.2h0m7.5-3.6h0m-3.7 .9h0m53.1-2.9h0m-1.1 3.3h0m-7.2-6.7h0m8.9 6.6h0m-9.2-2.9h0m3.9 3.2h0" stroke="#24848d" stroke-width="1.7" stroke-linecap="round" stroke-opacity="0.9"/><path d="M501.4 284.1h0m9.4-12.7h0m-13.5 9.7h0m3.3-1.2h0" stroke="#24aa82" stroke-width="1.7" stroke-linecap="round" stroke-opacity="0.9"/><path d="M507.5 274.6h0m1.8-1.9h0m-6.4 4.2h0m32.3-4.5h0m-19.9-1.6h0" stroke="#2eb27c" stroke-width="1.7" stroke-linecap="round" stroke-opacity="0.9"/><path d="M498.9 277.3h0m1-1.7h0m5.2-4.4h0m38 2.7h0m1-3.9h0" stroke="#1fa386" stroke-width="1.7" stroke-linecap="round" stroke-opacity="0.9"/><path d="M498.1 280.3h0m49.5-13.5h0m.6 6.9h0m-6.2 2.5h0m-30.5-2h0m36.9-1.7h0m-35.2 3.7h0m22.9-10.4h0m-11.5 9.4h0m26.2-1.1h0m-46.5 1.6h0m16.8-.5h0m-8-.7h0m22.9-5.3h0m-8.3-10h0m-18.6 6.8h0m10.7 1.3h0m5.4 6.4h0m-3.8-3.8h0" stroke="#47c06e" stroke-width="1.7" stroke-linecap="round" stroke-opacity="0.9"/><path d="M551.2 274.1h0m-12.1-.4h0m-16.1-1h0m17.8-11.9h0m-36.7 8.3h0m.2 6h0m14.9-7h0m-7.7-3.8h0m-2.6 4h0m27 3.4h0m-2.1-5.5h0m-4.7 4.5h0m-4.2-16.8h0m-7.3 14.2h0m-5.6 .8h0m32.9 2.8h0m-15.1 2.7h0m20.1 0h0m-35.1 .7h0m5.9-5.1h0m-16.6-28.2h0m22 3.8h0m14.7 .3h0" stroke="#d4e11a" stroke-width="1.7" stroke-linecap="round" stroke-opacity="0.9"/><path d="M538.6 272.4h0m8.3-5.2h0m-20.8 1h0m-8.6 5.5h0m11.8-6.6h0m-27.2-9.4h0m7.1 17h0m15.5-2.6h0m6.3-4h0m-28.8-10.4h0m23.4 16.7h0m-10.9-6.1h0m27.3-8.2h0m.1 11.4h0m-17 4h0m8.5 .4h0m-33.2-4.6h0m23.7-3.9h0m20.1 4.9h0" stroke="#39b976" stroke-width="1.7" stroke-linecap="round" stroke-opacity="0.9"/><path d="M521.8 266.6h0m-17.8 6.3h0m13.7 1h0m22.3-4.3h0m11-3.8h0m-48.7 7.9h0m46.8 2.4h0m-25.9-15h0m15.4 15h0m-33.3 .7h0m-.7-4.3h0m15 1.9h0m22.3-8.4h0m-16.2 4.1h0m-14.2-1.1h0m4.9 2.5h0m2.7-5.9h0m15.2 9.6h0m-8.6-21.2h0m-21.5 18.4h0m34.7-5.7h0m-36.6 7.4h0m34.2 1.7h0" stroke="#7ed24e" stroke-width="1.7" stroke-linecap="round" stroke-opacity="0.9"/><path d="M536.6 270.9h0m-15.2-1.1h0m9.9-1h0m-2.5 4.6h0m20.2 .2h0m-15.2 .7h0m-12.8-3.5h0m5.4-4.9h0m9.8 9.4h0m-11.2-4.4h0m-13.1 .6h0m-1.4 3.4h0m31.1-1.6h0m-1.6-1.3h0m-32.9 1.4h0m2.1 3.3h0m31.7-6.8h0m-28.7 1.2h0m-1.8-6.8h0m38.7 10h0m-23.7-8.1h0m12.8 9.6h0m-26-7.1h0" stroke="#6bcd59" stroke-width="1.7" stroke-linecap="round" stroke-opacity="0.9"/><path d="M515 272.8h0m27.2-12.4h0m-36.1 10.8h0m41.4 1.6h0m-11-13.7h0m10.8 15h0m-13.2-18.4h0m-7.4 14.6h0m9.3-2.8h0m-4.3-2.8h0m-10 7.7h0m-11.4-23.4h0m11.4 25.3h0m-19.4-5.6h0m41.6 8.5h0m4.1-10h0m-25.9 4.7h0m17.5 4.6h0m-11.7-2.2h0m19.5-.4h0m-39.9-2.6h0m34.2-1.3h0m-11.2 4.8h0m5.6-18.1h0" stroke="#e9e419" stroke-width="1.7" stroke-linecap="round" stroke-opacity="0.9"/><path d="M533.3 268.5h0m-6.1 5.9h0m-24.2-8.1h0m1.8 9.5h0m45.6 1.5h0m-13.4-22h0m-6.4 10.7h0m-21.1 9.7h0m13.6-11.9h0m9.5 10.3h0m14.7 3.4h0m-45.4-5.6h0m31.5 1.1h0m-27 .7h0m7.2-5.6h0m1.9-5.2h0m-13.6-5.7h0m.8 7.7h0m24.9-2.4h0m10.7-7.5h0m-36.3 10.4h0m6.4 2.5h0m13.7-.4h0" stroke="#92d741" stroke-width="1.7" stroke-linecap="round" stroke-opacity="0.9"/><path d="M517.6 275h0m4.4-5.5h0m-20.1-2.3h0m33.3 3.1h0m-21.6 1.6h0m21.3 0h0m-30.1 .3h0m30.2-24.8h0m-17.4 17.5h0m9.8 4.7h0m-7.8 5h0m-2.1-5h0m-4.7 .1h0m-1.7 4.1h0m6.1-9.7h0m21.5 8.8h0m-25.4 .6h0m8.3-.1h0m-14.2 2.4h0m30-9.5h0m9.9 7.4h0m-23.7-7.2h0" stroke="#a7db33" stroke-width="1.7" stroke-linecap="round" stroke-opacity="0.9"/><path d="M528.2 261.7h0m5.3 8.4h0m-26.8-3.1h0m8.1 1.3h0m1.3 1.8h0m-.7 .2h0m-1-8.4h0m-7.6 14.2h0m37.7-5.8h0m-4.1-2.7h0m-9 2.1h0m-16 2.2h0m19.1-3.8h0m-13.6 4.3h0m9.5-2.3h0m-28.6 3.7h0m17.6-5.5h0m-17.6 9.4h0m12.9-6.4h0" stroke="#57c665" stroke-width="1.7" stroke-linecap="round" stroke-opacity="0.9"/><path d="M526.2 260.8h0m-14.2 13.2h0m9.1-4.9h0m6.3 .8h0m20.8 6.9h0m-38.8-9.7h0m24.3 4.9h0m-4.5 2.7h0m18.7 .5h0m3.3 .3h0m-6.4-10.2h0m-32.1 7h0m-3.1-3.1h0m23.5-.7h0m-1.7 6.3h0m-18.1 .5h0m9.8-6.7h0m5.7 .2h0m20 7.8h0m-18.5-15.4h0m-29.2-7.4h0" stroke="#bfdf24" stroke-width="1.7" stroke-linecap="round" stroke-opacity="0.9"/><path d="M533.5 225.8h0" stroke="#fde724" stroke-width="1.7" stroke-linecap="round" stroke-opacity="0.9"/></g><rect x="485.70" y="207.80" width="81.60" height="82.50" fill="none" stroke="#a8a8a8" stroke-width="0.9"/><line x1="489.38" y1="290.30" x2="489.38" y2="291.90" stroke="#333" stroke-width="0.6"/><text x="489.38" y="298.50" font-size="7.05" text-anchor="middle" fill="#555555" stroke="#555555" stroke-width="0.13">0.00</text><line x1="507.75" y1="290.30" x2="507.75" y2="291.90" stroke="#333" stroke-width="0.6"/><text x="507.75" y="298.50" font-size="7.05" text-anchor="middle" fill="#555555" stroke="#555555" stroke-width="0.13">0.25</text><line x1="526.13" y1="290.30" x2="526.13" y2="291.90" stroke="#333" stroke-width="0.6"/><text x="526.13" y="298.50" font-size="7.05" text-anchor="middle" fill="#555555" stroke="#555555" stroke-width="0.13">0.50</text><line x1="544.51" y1="290.30" x2="544.51" y2="291.90" stroke="#333" stroke-width="0.6"/><text x="544.51" y="298.50" font-size="7.05" text-anchor="middle" fill="#555555" stroke="#555555" stroke-width="0.13">0.75</text><line x1="562.89" y1="290.30" x2="562.89" y2="291.90" stroke="#333" stroke-width="0.6"/><text x="562.89" y="298.50" font-size="7.05" text-anchor="middle" fill="#555555" stroke="#555555" stroke-width="0.13">1.00</text><line x1="484.10" y1="286.71" x2="485.70" y2="286.71" stroke="#333" stroke-width="0.6"/><text x="483.10" y="289.81" font-size="7.05" text-anchor="end" fill="#555555" stroke="#555555" stroke-width="0.13">0.00</text><line x1="484.10" y1="268.01" x2="485.70" y2="268.01" stroke="#333" stroke-width="0.6"/><text x="483.10" y="271.11" font-size="7.05" text-anchor="end" fill="#555555" stroke="#555555" stroke-width="0.13">0.05</text><line x1="484.10" y1="249.31" x2="485.70" y2="249.31" stroke="#333" stroke-width="0.6"/><text x="483.10" y="252.41" font-size="7.05" text-anchor="end" fill="#555555" stroke="#555555" stroke-width="0.13">0.10</text><line x1="484.10" y1="230.61" x2="485.70" y2="230.61" stroke="#333" stroke-width="0.6"/><text x="483.10" y="233.71" font-size="7.05" text-anchor="end" fill="#555555" stroke="#555555" stroke-width="0.13">0.15</text><line x1="484.10" y1="211.91" x2="485.70" y2="211.91" stroke="#333" stroke-width="0.6"/><text x="483.10" y="215.01" font-size="7.05" text-anchor="end" fill="#555555" stroke="#555555" stroke-width="0.13">0.20</text><text x="464.70" y="249.05" font-size="8.10" text-anchor="middle" fill="#1a1a1a" transform="rotate(-90 464.70 249.05)">probe SD</text><text x="526.50" y="306.00" font-size="8.10" text-anchor="middle" fill="#1a1a1a">probe mean</text><clipPath id="cc5"><rect x="600.00" y="207.80" width="81.50" height="82.50"/></clipPath><g clip-path="url(#cc5)"><path d="M657.2 262.9h0m-35.1 4.4h0m25.3 4.3h0m8.4-12h0m6 12.3h0m-41.1-.4h0m32.7-8.9h0m2.5 3.5h0m-16.2-.2h0m-20-7.3h0m-1.3-11.2h0m.7 1.9h0" stroke="#bfdf24" stroke-width="1.7" stroke-linecap="round" stroke-opacity="0.9"/><path d="M643.5 269.1h0m-15.2 1.8h0m-14.7 4.6h0m10.1-13h0m1.2 .8h0m15 2h0" stroke="#57c665" stroke-width="1.7" stroke-linecap="round" stroke-opacity="0.9"/><path d="M627.7 264.6h0m39.8 4.4h0m-41.4-15.6h0m23.3 16.9h0m23.1 1h0m-29.5-6.8h0m26.5 10.3h0" stroke="#a7db33" stroke-width="1.7" stroke-linecap="round" stroke-opacity="0.9"/><path d="M661.4 270.6h0m9.2 1.1h0m-39.8-9.2h0" stroke="#fde724" stroke-width="1.7" stroke-linecap="round" stroke-opacity="0.9"/><path d="M631.3 272.2h0m21-3.6h0m-6.9 2.8h0m2-3.1h0m-10.1-8.1h0m-19.3 12.1h0m4.7-8.7h0m18.4 6.4h0" stroke="#6bcd59" stroke-width="1.7" stroke-linecap="round" stroke-opacity="0.9"/><path d="M648.3 272h0m3-7.6h0m-4.4 6h0m-18.9-3.3h0m-8.1 6.6h0m7.8-5.3h0m16.7-1.8h0m-25.8-1.1h0" stroke="#1fa386" stroke-width="1.7" stroke-linecap="round" stroke-opacity="0.9"/><path d="M643 266.9h0m7.6-12.6h0m-29.7 13.5h0m39.7 1h0m-27.3-.5h0m-10.6 2.4h0m-1.9-4.2h0m47.9 4.5h0m-.8-.6h0m-44-2h0" stroke="#e9e419" stroke-width="1.7" stroke-linecap="round" stroke-opacity="0.9"/><path d="M631.4 270.4h0m32.3 3.9h0m-14.8-11.7h0m-5.5-3.1h0m-27.5 11.6h0" stroke="#2eb27c" stroke-width="1.7" stroke-linecap="round" stroke-opacity="0.9"/><path d="M655.7 266.9h0m-32.3 1.5h0m31.5 3.8h0m9.5-6.5h0m6.4 10h0m-49.8-4.3h0m15.2-2.6h0m19.8 3.2h0m16.2-4.9h0" stroke="#7ed24e" stroke-width="1.7" stroke-linecap="round" stroke-opacity="0.9"/><path d="M627.1 268.5h0m-12.3 1.4h0m44.7-.6h0m-38.5-2.6h0m50.8 9.2h0m-51.2-3.7h0m24.1-10.9h0m-26.1 2.3h0m-3.5 10.4h0m6.8-.3h0m-5.7-9h0m-3.7-24.4h0m13.2-4.5h0m16.9 6h0m-2.2 2.7h0" stroke="#d4e11a" stroke-width="1.7" stroke-linecap="round" stroke-opacity="0.9"/><path d="M630 267h0m-15.3 1h0m49.7 12.8h0" stroke="#1e9b89" stroke-width="1.7" stroke-linecap="round" stroke-opacity="0.9"/><path d="M615.2 265.5h0m13.6 4.8h0" stroke="#39b976" stroke-width="1.7" stroke-linecap="round" stroke-opacity="0.9"/><path d="M655.6 258.8h0m-31.1 12.1h0m16.2-8.1h0m17.7 6.8h0m-42.7 2.3h0m54.8 2.3h0m-47.4-13.5h0m45 12h0" stroke="#24aa82" stroke-width="1.7" stroke-linecap="round" stroke-opacity="0.9"/><path d="M619 269.2h0m-.9-6.2h0m16.8-2.2h0m5.2-2.8h0m6 11.7h0" stroke="#92d741" stroke-width="1.7" stroke-linecap="round" stroke-opacity="0.9"/><path d="M622.3 272.4h0m.2-4.4h0m44-7.8h0m-7 12.1h0m-5.4-2.1h0" stroke="#47c06e" stroke-width="1.7" stroke-linecap="round" stroke-opacity="0.9"/><path d="M650.8 266.7h0m14.1 12.8h0m2.6 1h0" stroke="#1f948b" stroke-width="1.7" stroke-linecap="round" stroke-opacity="0.9"/><path d="M663.4 281.5h0m.5-.5h0m2.2-.1h0m.4-.4h0m-.6-.4h0m-.8 1.6h0" stroke="#277c8e" stroke-width="1.7" stroke-linecap="round" stroke-opacity="0.9"/><path d="M668.3 280.3h0m-1.4 .8h0m-3.7 .3h0m3.2 .3h0" stroke="#24848d" stroke-width="1.7" stroke-linecap="round" stroke-opacity="0.9"/><path d="M667.8 280h0m-1-.5h0m.4-.6h0" stroke="#228b8d" stroke-width="1.7" stroke-linecap="round" stroke-opacity="0.9"/><path d="M665 281.7h0m-39.3-5.5h0" stroke="#2e6c8e" stroke-width="1.7" stroke-linecap="round" stroke-opacity="0.9"/><path d="M663.7 280.6h0m-1.1 .8h0" stroke="#31648d" stroke-width="1.7" stroke-linecap="round" stroke-opacity="0.9"/><path d="M668 280.8h0" stroke="#39548b" stroke-width="1.7" stroke-linecap="round" stroke-opacity="0.9"/><path d="M664.7 280.3h0m-.2 .4h0m-43.2-10.8h0" stroke="#2a758e" stroke-width="1.7" stroke-linecap="round" stroke-opacity="0.9"/><path d="M605.1 284.1h0" stroke="#47186a" stroke-width="1.7" stroke-linecap="round" stroke-opacity="0.9"/><path d="M606.6 281.1h0" stroke="#482273" stroke-width="1.7" stroke-linecap="round" stroke-opacity="0.9"/><path d="M608.1 282.2h0" stroke="#414186" stroke-width="1.7" stroke-linecap="round" stroke-opacity="0.9"/><path d="M616.9 275.5h0" stroke="#355c8c" stroke-width="1.7" stroke-linecap="round" stroke-opacity="0.9"/></g><rect x="600.00" y="207.80" width="81.50" height="82.50" fill="none" stroke="#a8a8a8" stroke-width="0.9"/><line x1="603.67" y1="290.30" x2="603.67" y2="291.90" stroke="#333" stroke-width="0.6"/><text x="603.67" y="298.50" font-size="7.05" text-anchor="middle" fill="#555555" stroke="#555555" stroke-width="0.13">0.00</text><line x1="622.03" y1="290.30" x2="622.03" y2="291.90" stroke="#333" stroke-width="0.6"/><text x="622.03" y="298.50" font-size="7.05" text-anchor="middle" fill="#555555" stroke="#555555" stroke-width="0.13">0.25</text><line x1="640.38" y1="290.30" x2="640.38" y2="291.90" stroke="#333" stroke-width="0.6"/><text x="640.38" y="298.50" font-size="7.05" text-anchor="middle" fill="#555555" stroke="#555555" stroke-width="0.13">0.50</text><line x1="658.74" y1="290.30" x2="658.74" y2="291.90" stroke="#333" stroke-width="0.6"/><text x="658.74" y="298.50" font-size="7.05" text-anchor="middle" fill="#555555" stroke="#555555" stroke-width="0.13">0.75</text><line x1="677.09" y1="290.30" x2="677.09" y2="291.90" stroke="#333" stroke-width="0.6"/><text x="677.09" y="298.50" font-size="7.05" text-anchor="middle" fill="#555555" stroke="#555555" stroke-width="0.13">1.00</text><line x1="598.40" y1="286.71" x2="600.00" y2="286.71" stroke="#333" stroke-width="0.6"/><text x="597.40" y="289.81" font-size="7.05" text-anchor="end" fill="#555555" stroke="#555555" stroke-width="0.13">0.00</text><line x1="598.40" y1="268.01" x2="600.00" y2="268.01" stroke="#333" stroke-width="0.6"/><text x="597.40" y="271.11" font-size="7.05" text-anchor="end" fill="#555555" stroke="#555555" stroke-width="0.13">0.05</text><line x1="598.40" y1="249.31" x2="600.00" y2="249.31" stroke="#333" stroke-width="0.6"/><text x="597.40" y="252.41" font-size="7.05" text-anchor="end" fill="#555555" stroke="#555555" stroke-width="0.13">0.10</text><line x1="598.40" y1="230.61" x2="600.00" y2="230.61" stroke="#333" stroke-width="0.6"/><text x="597.40" y="233.71" font-size="7.05" text-anchor="end" fill="#555555" stroke="#555555" stroke-width="0.13">0.15</text><line x1="598.40" y1="211.91" x2="600.00" y2="211.91" stroke="#333" stroke-width="0.6"/><text x="597.40" y="215.01" font-size="7.05" text-anchor="end" fill="#555555" stroke="#555555" stroke-width="0.13">0.20</text><text x="580.00" y="249.05" font-size="8.10" text-anchor="middle" fill="#1a1a1a" transform="rotate(-90 580.00 249.05)">probe SD</text><text x="640.75" y="306.00" font-size="8.10" text-anchor="middle" fill="#1a1a1a">probe mean</text><text x="5.90" y="214.80" font-size="8.80" text-anchor="start" fill="#000" font-weight="bold">c</text><path d="M39.9 349.8h0m.9 6.3h0m-3-13.5h0m4 6.2h0m-.3 1.9h0m-8-2.3h0m3.8 3h0m3-5.1h0m-10 1.1h0m3.4-1.4h0m-4 10.8h0m4.9-6h0m-4.6 7.3h0m1.5-8.1h0m-1.2 9.5h0m1.7-3.4h0m3.6-8.1h0m3.9 6.4h0m-3.8 1h0m-4.7-1.5h0m5.4-10.6h0m4.4 9.2h0m-5-5.5h0m-5.1 1.9h0m4.7 .2h0m-2.5 3.9h0m1.7-1.3h0m-3.7-6.9h0m6.6 3.9h0m2.3-4.5h0m-3.8 1.8h0m-5.2 .6h0m6 9.6h0m4.8 1.6h0m.5-12.3h0m-.7 2h0m-11.3-2.9h0m.9 .5h0m7.9 9.1h0m1.6 7.5h0m-9.3-12.9h0m4.6 6.1h0m-5.2-2.5h0m.3 5.3h0m8.8-4.5h0m-2-2.8h0m-7.1 6.6h0m2.2-2.2h0m5.9-1h0m-7.1 3.4h0m7.9-12.2h0m1.2 13h0m-7.5-5.2h0m4.8-4.2h0m-7.2 3.9h0m1.6-6.9h0m2 15.7h0m.5-9.5h0m-3.6-6h0m9.9 5h0m-.6-1h0m-3.6 .9h0m-3.5 .8h0m-.3-1h0m.2 6.5h0m6.6-13.4h0m-4.7 1.2h0m1.9-.4h0m-7.2 10.1h0m3.1 .8h0m.6-6.6h0m-.5-.6h0m5.4-5.4h0m-4.5 10.1h0m-3.7 3.8h0m2.5-10.4h0m2.1-5.4h0m6.7 14.1h0m-9.9-8.2h0m1.6-2h0m3.6 11h0m-6.6-.3h0m3.2-4.8h0m-1.9-2.6h0m0 .6h0m6 2h0m-.1-4.8h0m1.1 12.1h0m2.8-12h0m-6.9-.3h0m2.7 2.9h0m4.1-1.8h0m-2.5 2h0m-4.7 5.2h0m-1-6.7h0m5.9 7.2h0m-7.7-11.9h0m8.2 1.7h0m-3.1 16.9h0m1.8-15.3h0m-2.1 8.5h0m-4.1 .2h0m7.4-6.4h0m-8.7 2h0m2 2.8h0m1 4.4h0m7.3 1.1h0m-4.8-8.1h0m5.2 8h0m-10.9-13h0m8.8 8.2h0m.5 .4h0m-5.5-10.6h0m-.9 5.5h0m-1.6 5.3h0m-1.6-6.1h0m.3 9.2h0m7.1 .1h0m.2-7.2h0m-6.3-.6h0m.3-4.8h0m-2.2-1.7h0m9.7 17.6h0m2.3-8h0m-5-9.6h0m-1.7-1.9h0m4.3-.3h0m2.8 5.2h0m0-.7h0m-11.5 4.2h0m8.2 2.3h0m-3.5 6.5h0m2.1-16.3h0m3.7 8.7h0m-10.7-8.7h0m9 3.5h0m-.6 7.1h0m-4.2 1.5h0m.8-6.5h0m5.6 2h0m-4.3-2.6h0m-6.8 7.3h0m-.2-11.5h0m3.2 17.4h0m8.2-16.1h0m.5 12h0m-3.2 3.5h0m-7.6-4.8h0m7.2 .3h0m1.6-14.3h0m2.5 8.5h0m-3.2-6.9h0m-8.9 3h0m9.2 .3h0m-2 7.1h0m1.2-7.5h0m-1.3-2.8h0m-3.9 1.7h0m1.3 11.9h0m2.6-2.9h0m-1.6 4.1h0m-3.6-14.8h0m-.8 2.9h0m6.5-4.2h0m2 12.9h0m-6.2-7.1h0m5.2 2.5h0m-9 11.1h0m9.5-15.8h0m-8.2 3.6h0m-.8-5.5h0m7.7 .7h0m2.2 8.5h0m1.3 3.8h0m.7-9.5h0m-6.6-1.6h0m4.9 7.9h0m-6.9-5.7h0m-.5-1.5h0m-2.8 9.5h0m2.2 3.8h0m6.3-14.5h0m-1.8-.9h0m4.2 6h0m-4.6-4.6h0m4.2-.6h0m-7.7 6.6h0m7.1-.4h0m-2.5 9.3h0m-2.1-5.4h0m6.2-4.9h0m-3.9-.5h0m-1.9 4.5h0m-6.1 3.9h0m6.2-1.8h0m1.4-7.7h0m2.8 .3h0m-2.3 10.3h0m-4.5-15.6h0m2.1 8.2h0m4.6 5.7h0m-8.8-11.8h0m-1.3 2.1h0m5.3 7h0m-3.3-2.9h0m4.5-6.5h0m3.6 13.3h0m.9-5.6h0m-7-3h0m4.8 5.4h0m1.7 2.4h0m.4-7.4h0m-7 5.2h0m-1.7-2.9h0m3.5-6h0m6.5 2.5h0m-6-3.3h0m.8 3.2h0m-1.4 2.8h0m-4 5.8h0m5.4-11h0m-2.8 5.1h0m-2.7-4.6h0m2.1 8h0m2.4 2.7h0m-1.3-8.6h0m-3.1 8.7h0m.9-15.1h0m1.5 12.5h0m-2.9-1.1h0m1.4-5h0m-.5 10.6h0m9.5-8.2h0m-8.5-6.5h0m-2.9 13.3h0m2.7-16.7h0m5.5 17.1h0m-4.4-10.7h0m4.6 10.4h0m-5.3-8.8h0m5.4-1.4h0m.3-1.8h0m-6.5 1.6h0m8.9-3.3h0m-.9 13.6h0m-4.1 1.6h0m-1.9-12.3h0m7.3 9.7h0m-.2-9.8h0m-11.2 14.7h0m9.4-9.3h0m-6.3-3.7h0m2.8 3.6h0m5.2-4.1h0m.4 13.5h0m-2.4-6.7h0m-9.4-11.6h0m7.8 4.9h0m1 2.2h0m-1.7 6.6h0" stroke="#fde725" stroke-width="0.9" stroke-linecap="round" stroke-opacity="0.85"/><polygon points="35.40,362.05 31.90,358.75 30.40,353.80 29.90,350.50 30.40,347.20 32.40,343.90 34.90,340.60 36.90,340.60 39.40,343.90 41.40,347.20 41.90,350.50 41.40,353.80 39.90,358.75 36.40,362.05" fill="#fde725" stroke="#fde725" stroke-width="0.4"/><path d="M53.5 350.6h0m-1.4 3.9h0m2.9 3.8h0m5.4-13.9h0m-4.8 .5h0m6.5 10.6h0m-6.8-9h0m6.4 7.8h0m-4.5-5.3h0m-2.5 7.5h0m7.1-10.9h0m-6.9 11.9h0m1.2-3.6h0m3.6-2.1h0m-2.7-1h0m-7-10.1h0m7.7 20.9h0m1.6-12.5h0m-4.3-6.2h0m.2 11.9h0m-1.1-6.2h0m5 13.4h0m-6.2-5.7h0m2.5-16h0m4.2 19.1h0m1.9-16.4h0m-7.1 14.9h0m-2 .7h0m6.3-9.4h0m-4.1-2.8h0m3 2.2h0m1.7 13.2h0m-7.7-7.6h0m-1.4 1.4h0m10.6-3.6h0m-3.5 2.4h0m3.8 8.6h0m-8.6-12.1h0m2.6 10.7h0m-1.5-6.2h0m-1.2-3h0m-2.6-5.7h0m4-4.9h0m-2 4.7h0m1.6 10.2h0m8.5-5.1h0m-7.3 4.1h0m-3 5.5h0m8.6-9.7h0m-10.2 2.8h0m11.4 1.8h0m-10.1-11h0m1.8 10.4h0m6.9-12.1h0m-4.1 5.6h0m.9-5.7h0m-6.3 11.6h0m2.4 1.9h0m8.5-10.1h0m-10.1 14.7h0m9.1-13.8h0m.8-.2h0m-4.7-1.7h0m-5.7 19.4h0m6.6-20.8h0m-5.8-2.5h0m-.9 15.2h0m3.2-7.3h0m1.6 1.9h0m-1.2-10.9h0m0 2.1h0m5.3-2.1h0m.9 18.2h0m-2.1-5.3h0m3.9 7.5h0m-9.6-20h0m-1.6 4.6h0m5.4 9.8h0m4.8 9h0m-.1-4.9h0m-3-8.9h0m-4.2-3.8h0m8.3 6.2h0m-5.5 7.3h0m-3.9-18.4h0m3.9 18.2h0m-.4-.3h0m-4.2 2.3h0m-.7-17.7h0m3.2 6.4h0m7.3 9.4h0m-1.8-11.1h0m-.6-4.8h0m-.1-.4h0m-7.9 12.3h0m.8-.1h0m5.3-5.5h0m-5.2 12.1h0m-1.8-7.8h0m3.5-6.6h0m-.2-6h0m-1.7-2.3h0m4.6 10.1h0m5.5-1.4h0m-1.1-2.7h0m-3.2 13.1h0m-2.8-7.2h0m-1.2-4.6h0m.3 1.6h0m-.5 5.1h0m-2.3 1.5h0m2.8 .1h0m1.2-10.7h0m.5 8.6h0m-3.7-4.5h0m-.9 9.3h0m.3-18.2h0m9.1 9.9h0m-2.8 9.1h0m-8-9.6h0m5.2 10.7h0m-3-12h0m.2 2.4h0m-.3-9.8h0m6.7 19.4h0m0-.6h0m2.3-17.6h0m-8 7.9h0m8.2 9.3h0m-11.3-2.2h0m9.5-8.9h0m.7-4.3h0m.2 13.3h0m-7.5 7.2h0m7.2-10.7h0m1.7 4h0m-4.4-12h0m-2.1 6.4h0m2.7 12.5h0m-3-20.9h0m-4.6 15.5h0m1.5-7.5h0m5.2 10.4h0m-.2-7.4h0m-2.9-4.1h0m-.9-3.3h0m-2.4 4.5h0m4.1-3.4h0m-1.6 11.3h0m-2.3-3.5h0m-1-11.2h0m8.3 3.5h0m-4 5.4h0m-3-10.6h0m1.4 7.9h0m-1.5 .6h0m4.9-8.2h0m-2 6h0m-1.4-4.2h0m1.2 13.2h0m.2-1.6h0m1.5-15.7h0m1.6 15.9h0m-3.7-11.3h0m-.5 12h0m.8-11.4h0m5.9 11.1h0m2.3-9.5h0m.1-3.2h0m-8.2 9.9h0m-2.4 1.1h0m9.8 3.7h0m-11.3-15.5h0m6.2 .6h0m2.1 4.9h0m-.3 9.1h0m-3.4-2.5h0m1.2 1.3h0m-.3-3.4h0m6.6 9.7h0m-9.5-13.6h0m1.1-.4h0m4.4-6.5h0m-4.1 .4h0m3.7 9h0m-7.3 4.4h0m5.2-4.5h0m.6-9.3h0m3.2 14.3h0m-5.8-4.9h0m4.7-4.2h0m-4.5 9.5h0m-2-13.6h0m10.4-1.5h0m-6.7 4.9h0m3.5-4.2h0m.9 17.1h0m-6.7-3h0m-.2 3.2h0m.3-5.9h0m2.5-13.8h0m-3.3 15h0m1-.5h0m1.4 2.6h0m3-5.5h0m-1 .7h0m1-3.5h0m-4.7-5.3h0m8.3 4.5h0m-5.4 1h0m-1.8-3h0m-.3 3.1h0m-.4-7.1h0m0 15.9h0m-2.6-2.4h0m4.1-6h0m-5 6.3h0m4.4-5.4h0m-3.2-10.3h0m6.2 4.1h0m-5.4 2.6h0m7.3-.3h0m2-5.5h0m-7.8-.1h0m6.5 1.8h0m1.1 1.3h0m-2.3 11.8h0m-5.8 3.6h0m2.8-8.6h0m-3-7.5h0m2.8 2h0m-2.5 5.8h0m5-6.4h0m-3.5-1.7h0m-2 3.4h0m3.3-4.8h0m-1.2 5.7h0m4.6 10h0m-7.7-3.9h0m5.8 4.7h0m-2.5-2.6h0m7.1-3.2h0m-9.6-13.7h0m6.3 1.8h0m3.5 21.2h0m-2.2-13.7h0m-7.4-3.7h0m.7 7.8h0m.6-5.7h0m2.2-2.4h0m1.9 8.1h0m.5-5.7h0m-7.9 11.8h0m.3-18.2h0m-1 21.9h0m6.5-7.1h0m5.3-15.6h0m.6 9.1h0m-7.4 6.9h0m.2-10h0m-1.5-4.3h0m4.5 7.3h0m-4.1 2.1h0m6.7 11.7h0m-2.6-14.2h0m2.3 1.1h0m-8.5 13.1h0m8.9-2.9h0m.6-13.6h0m-11.5 8.8h0m2.2 2.6h0m9.2-12.9h0m-2.5 16.3h0m-6.1-7.1h0m5.1 5.3h0m3.4-14.1h0m-8.2 10.2h0m-1.9-6.9h0m5.6 12.4h0m-6.2-10.3h0m11 5.7h0m-8.1-13.4h0m-3.5 13.6h0m4.8 1.1h0m2-11.4h0m.1 4.6h0m2.2-1.6h0m-1.2 1.6h0m-6.9-3.9h0m3.9-3.2h0m6.7 14.3h0m-10.7-.4h0m.4-14.4h0m-1.1 10.3h0m11.3 4.5h0m-7.2-2.6h0m-2.9-4.8h0m2.7-4.5h0m1.9 4.4h0m-1.4-8.9h0m-2.5 17.3h0m9.4-6.4h0m-6.8-5h0m-3.9 6.4h0m.8 2.9h0m3.3-3.6h0m-1.8-13.3h0m4 13.3h0m.2-10.1h0m-6.9 4h0m2.5 10h0m6.9-10.3h0m-1.1-.3h0m-1.9 3.2h0m5-4.8h0m-5.3 13.6h0m.7 4.4h0m4.9-18.2h0m-.7 18.4h0m-2.7-9.4h0m3.2-1.3h0m-2-6.1h0m-3 12.1h0m-2.5-6.5h0m-2.6-6.4h0m-.2 13.3h0m4.6-1.7h0m-1.6 2.9h0m-1.8-16.7h0m8.4 .1h0" stroke="#35b779" stroke-width="0.9" stroke-linecap="round" stroke-opacity="0.85"/><polygon points="55.10,365.35 52.60,362.05 51.10,357.10 51.10,350.50 51.60,343.90 54.60,339.61 57.60,339.61 60.60,343.90 61.10,350.50 61.10,357.10 59.60,362.05 57.10,365.35" fill="#35b779" stroke="#35b779" stroke-width="0.4"/><path d="M74.4 355.4h0m.6 1.4h0m-2.1-4h0m8 3.4h0m-4.4-3.1h0m-6.2-19.6h0m-.3 24.4h0m2.7 9.1h0m-2.4-5.6h0m6.2-3.8h0m-5.6 4.9h0m11-5.6h0m-10.5-20.1h0m-.4 10.2h0m-1.1 17.4h0m9-10.1h0m-4.9-8.8h0m2.2-9.3h0m3.8 22h0m.7 4.3h0m-4.4-2.5h0m-3.6 1.4h0m8.8-1.6h0m-3.3-19.5h0m-.2 16.4h0m-6.1-23.7h0m7.8 23.6h0m-3.6 4.4h0m-.6-4.3h0m2.8-5.9h0m-4 5.1h0m6.2 6.6h0m-7.7-6.1h0m1.8 1.4h0m-.2-6.7h0m2.8 1.1h0m-3.3 5.5h0m2.7 4h0m3.7-4.9h0m-8.7 11.6h0m6.1-11.8h0m-3.5 7.1h0m5.2-15.3h0m0 8.4h0m-6.7-7.2h0m7 7.7h0m-5.9-1.8h0m7.2 2.4h0m-2.2-8.1h0m1.6-2h0m-4.8 8.4h0m6.3 6.2h0m-.1-30.5h0m-5.6 18.6h0m-2.3 2.5h0m-1.9-12.4h0m7.8 13.1h0m-7.9 4.7h0m-1.3-1.9h0m8.3-1.9h0m-8.6-11.6h0m10 18.4h0m-7.4-2h0m4.2-2.2h0m5.1-14.6h0m-4.8 17.9h0m1.4-1.9h0m.2-5.9h0m.9-9.9h0m-10 15.4h0m9.7-3.8h0m-4.9 2.4h0m-1.8 8.2h0m-.3-8.4h0m1.3-.4h0m7.1 2.7h0m-4.8 1h0m-4.1-18.9h0m1.4 6.2h0m6.8 13.8h0m-1.3-14.3h0m-4.2 4.2h0m2.6 1.9h0m-.5 1.7h0m-3.3 10.2h0m-2.6-32.3h0m1.2 28.4h0m4.1-27.6h0m5.5 13.9h0m-1.5 7.7h0m-1 7.6h0m-2.7-24.4h0m-2.2 17h0m-3.9-4.4h0m1.7 4.7h0m4.7 .2h0m-6.9-12.2h0m6.8 3h0m-1.3 19.4h0m-1.6-7.6h0m1.2-25.2h0m6.4 31h0m.3-31.6h0m-10.8 27.2h0m1.6-5.4h0m.7 3.3h0m7.8 4.9h0m-10.2 3.9h0m5.1-19.1h0m-4.8-15.5h0m1.3 22.6h0m9.7-.6h0m-8.1-.5h0m-3.4-17.2h0m.3 27.8h0m0 .1h0m8.9-6.2h0m-7.2-9.6h0m-.2 6h0m8.7 8h0m-8.6-12.1h0m4.9 11.8h0m-3.9-.4h0m-1.8-9.5h0m-.1 4.5h0m.8-13.3h0m4.3 20.6h0m.3-19.6h0m-1.8 2.9h0m4.8-12.6h0m-6.6 20.2h0m0-5.7h0m8.5 1.1h0m-3.7-1.3h0m-.4-2.8h0m-6.9 9.2h0m.5-2h0m9.4 1.2h0m-10.8 .4h0m8.6 8.3h0m-2.7 1h0m-.7-18.8h0m-2.5 13.4h0m2.5-4.4h0m1.1-13.2h0m2.7 4h0m-2.4 10.1h0m2.8 3.9h0m-3-6h0m-6.5-2.9h0m1.3 6h0m9.4-5.5h0m.8 10.6h0m-6.8-7.6h0m-3.4-4.6h0m9.5 17.8h0m-7.6-2h0m3.5-12.6h0m1 3.6h0m1.3-20.1h0m.3-.5h0m1.8 20h0m-7.6 9.3h0m1.6 .2h0m1.2-19.6h0m0 11.2h0m4.5 7.3h0m-9.6-6.4h0m2.3-.6h0m6.4-10.1h0m-6.1 6.3h0m-1.4-7.7h0m-.3 9.5h0m5.4 1.8h0m.2-22.7h0m-4.4 24h0m-3.1-8h0m1.9 7.6h0m2-3.9h0m1.5-1.3h0m-3.6-4.5h0m.2 7.7h0m4.4-2.6h0m-.2-9.4h0m2.5 11.3h0m-3.5-1.3h0m1.7 .1h0m.2 13.3h0m-.1-12.6h0m-5.4 8.9h0m4.7-13.9h0m4.4 8h0m-5.3 3.2h0m6.7-9.7h0m-7.1-5.1h0m3.1 2.8h0m-4.4 9.2h0m8.6-2.4h0m-1.2 13.4h0m-2.2-17.4h0m-2.2 1.4h0m1.9-5.6h0m.2 16h0m-8.7-1.4h0m10.2-21.8h0m0 26.6h0m-9.9-27.3h0m7 22.2h0m3.5-11.5h0m-9.2 17.6h0m3.4 .8h0m.9-14.6h0m-4.4-3.8h0m1.4 1.2h0m-3.3 5.3h0m6.3 6.7h0m-1.9-19.3h0m-2.9 13.9h0m9.9-1.9h0m-10.7-12.8h0m.2-9.3h0m.8 14.9h0m3.5 6h0m5.5 5.2h0m-4.5 .8h0m2.9-7.8h0m2.4 13.1h0m-.9 1h0m-6.8-8.2h0m4 6.3h0m-2.7-15.7h0m1.6-9.5h0m-5.1 19.8h0m4.5-1h0m-.7-3.1h0m.1-14.7h0m-5.2 6.3h0m4.6 3.9h0m-4.7 10.9h0m10-8.8h0m-4.7 8.1h0m-5.1-2.9h0m5.1 2.6h0m-2.3-6.3h0m3.4-7h0m2.3 9.5h0m-2-15.6h0m1.3 23h0m-4.9-27.5h0m4 28.9h0m-2.6-19.6h0m5.2 1.1h0m.7 9.1h0m-8.2 3.7h0m4.6 .1h0m-6.6-.6h0m2.3-11.2h0m-1.1-4.4h0m10.3 14.8h0m-2-4.4h0m-2.3 9.9h0m-.4 1h0m2.5 1.2h0m-2.9-15.9h0m-2.6 6.3h0m.3-7.8h0m3.6-14.3h0m-1 21h0m-6.1-.5h0m-1 6.5h0m10.4-15.1h0m-2.9-3.3h0m-4 17.7h0m4.4-11.6h0m-4.5 13.4h0m5.5-.5h0m1.8-7h0m-.5 2h0m-1.8-10.4h0m-4.9 9.1h0m8.8 1.9h0m-.8-5.4h0m-6.9 14.6h0m7.2-4.4h0m-7.2-3.9h0m5.8-4.6h0m-8.2-13.4h0m-.7 12.4h0m10.3 .3h0m-8.6-7.1h0m8.2 3h0m-6.2 7h0m.3 1.9h0m6.1-4.2h0m-10.7 .4h0m10.8 1.6h0m-9 .2h0m9.1-9.4h0m-4.4 9.6h0m3.7-6.2h0" stroke="#31688e" stroke-width="0.9" stroke-linecap="round" stroke-opacity="0.85"/><polygon points="75.20,368.65 72.20,363.70 70.70,357.10 71.70,350.50 72.70,347.20 74.70,343.90 75.20,340.60 75.50,337.30 75.90,331.36 76.50,331.36 76.90,337.30 77.20,340.60 77.70,343.90 79.70,347.20 80.70,350.50 81.70,357.10 80.20,363.70 77.20,368.65" fill="#31688e" stroke="#31688e" stroke-width="0.4"/><path d="M92.6 346.4h0m.9-2.4h0m7.3 1.7h0m-3.1 18.3h0m4.6-8.3h0m-5.2-24h0m4 41.7h0m-1.1-30.1h0m-2.2-3.1h0m-6.1-6h0m10 31.1h0m-11.2-25.4h0m5.2-.4h0m1.8 10.5h0m1.5-8h0m-3 21.4h0m.7 9.5h0m2.2-3.4h0m-3.9-7.6h0m6.8-3.4h0m-8.8-16.5h0m7.2 23h0m-8.5 4.6h0m4.2-7.6h0m4.4-21.6h0m-3.6 1.2h0m-2.5 27.8h0m5.4-5.2h0m-5.8-8.2h0m-3.5 1.3h0m6.4-20h0m3.1 22.1h0m-7.9 5.7h0m1.7-15.1h0m6-9.5h0m-9 20.2h0m5.6-.3h0m-2.9-.7h0m7-3.6h0m-9.1 .1h0m11.2 3.1h0m-7.6 6.4h0m3.2-9.8h0m-1.7 12.2h0m-3.7-3h0m3.5-2.4h0m-.4 5.6h0m1 1.2h0m.7-5h0m-.3 2.3h0m-5.6-25h0m.3-3.7h0m3.6 11.5h0m-3.6-6.8h0m10.6 13.2h0m-7.4 10.8h0m5.7-27.6h0m-1.2 30.8h0m-.6-5.1h0m-6-25.7h0m-.9 33.9h0m4.3-32.6h0m-6 24.9h0m.2-24.1h0m3.9 34.9h0m-2.8-12.4h0m.7-18.5h0m6.3 8.1h0m-6.7 18.6h0m7-5.8h0m-7-2.5h0m2.1-22.9h0m6.9 37h0m-9.6-10.2h0m.9-27.9h0m-2 38.5h0m9.5-10.4h0m-.6 2.3h0m-5.6-8.7h0m.9 8.1h0m8-22h0m-3.8-3h0m3.1-1.7h0m-1.4-1.2h0m-4.6 2.4h0m-.6 17h0m-2.2-26.1h0m9.6 27.4h0m-12.4 3.9h0m7.3-6.2h0m-4.5 4.9h0m3.5 6.4h0m4.7-28.7h0m-5.4 14.2h0m-.1-1h0m4.2 6.7h0m1-16.9h0m1.8-9.5h0m-7.6 35.6h0m3.7-9.8h0m3.6-22.9h0m-5.4 32h0m-6.6-30.3h0m9.3 5.5h0m-3.3 0h0m2.4-.9h0m-3.3 4.9h0m-1.3 12.3h0m2.7-22.1h0m2.6 4.4h0m-1.6-7.4h0m-7 3.4h0m2.7 22.5h0m2.7-13.3h0m-4.1 17.5h0m4.8-2.7h0m-4.5 1h0m2.1-32.3h0m7.2 24.5h0m-6.6 4.3h0m.4-3.7h0m.9-21.1h0m-5.4 21.2h0m3.1-20.2h0m6.8 25.4h0m.2-2.7h0m.8 8.2h0m-6.2-39.1h0m4.1 26.3h0m-6 9.8h0m-3.5-31.6h0m4.5 22.4h0m7.2 3.1h0m-11 4.3h0m7.2-3.6h0m-6.3-.7h0m7.6-20.1h0m-.8 3.7h0m-7.4 20.8h0m10-7.4h0m-10.6 8.8h0m10.7-3.7h0m-3.8-22.6h0m-7.4-.4h0m11.2 2.5h0m-1.4-2.6h0m-.9 24.6h0m-7.7 15.3h0m6.9-22.1h0m-6.2-14.7h0m3.6 16.6h0m3.9-27h0m1.6 33.8h0m-2.1-27.4h0m-1.8 1h0m.2 34.6h0m1.1-5.5h0m-4.1-5.3h0m4.1 4.6h0m-4.3-35.7h0m2.5 26.2h0m4.4-15.3h0m-3.2-6.3h0m-2.2 9.7h0m3-9h0m-8.7 7.5h0m6.3 6.9h0m3.6 10.9h0m-9.3-23h0m3.6 1.8h0m1.2 3.1h0m-4.6 15h0m1.8-18.8h0m1.5 28.9h0m7.5-30.6h0m-5.5 26h0m-3.1-24.5h0m2.9 24.3h0m5-10.3h0m-1.2 2h0m-4.6-26.2h0m4.2 10.7h0m-4 30.5h0m-2.3-32.2h0m5.6 30.2h0m-5-27.5h0m3.7-1.2h0m.9 30h0m-.7-38.4h0m-3.3 45.1h0m8.2-32.8h0m-2.7 24h0m-.1-24.2h0m-1.3-10.8h0m1.2 29.8h0m.7 2.3h0m1.1-.6h0m-1.7-23.1h0m1.2 19.7h0m-2.7 6.6h0m1.8-10.5h0m-.1 10.7h0m2-27.9h0m-.5 17.6h0m-7-1.1h0m6.1 2.3h0m-7.8-.5h0m-1.8-7.7h0m5.6 12h0m2.4 1.4h0m2.8 6.3h0m-5.5-28h0m-3.9-4.2h0m10.1 23.6h0m-8.9-24.8h0m-.7 25.1h0m4.2 7.6h0m-.5-2.4h0m-2.1 1.3h0m-2.6-32h0m7.9-6.5h0m2 23.4h0m-4-10.5h0m-3.8 15.6h0m5.5 16.3h0m2-30h0m-5.1-2.4h0m2.9 19h0m-7.5 .8h0m5.5 .4h0m2.5-26.2h0m.2 25.9h0m-.3 2.1h0m1.9-4.6h0m-9 3.8h0m2.8 3.1h0m-4-1h0m11.1 6.7h0m.3-7.8h0m-8.3-1.3h0m4.7-22.2h0m-.8 28h0m-5.6-11.3h0m-1.6-2.1h0m1.3 4.7h0m-.9-2.2h0m2.1 9h0m-.9-25.3h0m.5 12.9h0m7.2 7.4h0m-4.3-5.7h0m6.3-12.2h0m-12.3 16.6h0m5.5 2.8h0m2.4-25.3h0m-7.8 27.6h0m1.2-26.9h0m-.1 27.5h0m7.6-10.6h0m2.6-14h0" stroke="#440154" stroke-width="0.9" stroke-linecap="round" stroke-opacity="0.85"/><polygon points="95.90,381.85 95.40,373.60 93.40,368.65 90.90,363.70 90.90,360.40 93.40,357.10 95.40,353.80 95.60,350.50 94.90,345.55 91.90,342.25 92.40,338.95 95.40,335.65 96.10,329.05 96.70,329.05 97.40,335.65 100.40,338.95 100.90,342.25 97.90,345.55 97.20,350.50 97.40,353.80 99.40,357.10 101.90,360.40 101.90,363.70 99.40,368.65 97.40,373.60 96.90,381.85" fill="#440154" stroke="#440154" stroke-width="0.4"/><rect x="22.80" y="314.30" width="86.50" height="72.00" fill="none" stroke="#a8a8a8" stroke-width="0.9"/><line x1="21.20" y1="383.50" x2="22.80" y2="383.50" stroke="#333" stroke-width="0.6"/><text x="20.20" y="386.60" font-size="7.05" text-anchor="end" fill="#555555" stroke="#555555" stroke-width="0.13">−10</text><line x1="21.20" y1="367.00" x2="22.80" y2="367.00" stroke="#333" stroke-width="0.6"/><text x="20.20" y="370.10" font-size="7.05" text-anchor="end" fill="#555555" stroke="#555555" stroke-width="0.13">−5</text><line x1="21.20" y1="350.50" x2="22.80" y2="350.50" stroke="#333" stroke-width="0.6"/><text x="20.20" y="353.60" font-size="7.05" text-anchor="end" fill="#555555" stroke="#555555" stroke-width="0.13">0</text><line x1="21.20" y1="334.00" x2="22.80" y2="334.00" stroke="#333" stroke-width="0.6"/><text x="20.20" y="337.10" font-size="7.05" text-anchor="end" fill="#555555" stroke="#555555" stroke-width="0.13">5</text><line x1="21.20" y1="317.50" x2="22.80" y2="317.50" stroke="#333" stroke-width="0.6"/><text x="20.20" y="320.60" font-size="7.05" text-anchor="end" fill="#555555" stroke="#555555" stroke-width="0.13">10</text><line x1="35.90" y1="386.30" x2="35.90" y2="387.90" stroke="#333" stroke-width="0.6"/><text x="35.90" y="394.20" font-size="7.05" text-anchor="middle" fill="#555555" stroke="#555555" stroke-width="0.13">exc.</text><line x1="56.10" y1="386.30" x2="56.10" y2="387.90" stroke="#333" stroke-width="0.6"/><text x="56.10" y="394.20" font-size="7.05" text-anchor="middle" fill="#555555" stroke="#555555" stroke-width="0.13">good</text><line x1="76.20" y1="386.30" x2="76.20" y2="387.90" stroke="#333" stroke-width="0.6"/><text x="76.20" y="394.20" font-size="7.05" text-anchor="middle" fill="#555555" stroke="#555555" stroke-width="0.13">mod.</text><line x1="96.40" y1="386.30" x2="96.40" y2="387.90" stroke="#333" stroke-width="0.6"/><text x="96.40" y="394.20" font-size="7.05" text-anchor="middle" fill="#555555" stroke="#555555" stroke-width="0.13">poor</text><text x="7.00" y="350.30" font-size="7.60" text-anchor="middle" fill="#000" font-weight="bold" transform="rotate(-90 7.00 350.30)">Mean</text><text x="66.05" y="402.60" font-size="8.10" text-anchor="middle" fill="#1a1a1a">ICC</text><path d="M152.4 353.6h0m-2.8-.5h0m6.2 11.3h0m-4.5-6.4h0m.5-21.5h0m-.3 12.4h0m-2.1 25h0m1.5-40.9h0m3.5 14.5h0m-.7 22.8h0m-6-5.6h0m1.5-10.9h0m5.1 18.9h0m-2.7-34.8h0m-4.2 31.9h0m3.8-16.4h0m1.9-11.1h0m2.2-5.9h0m-4.2 3.3h0m4.6 12.8h0m-1-2.8h0m-1.2 22.3h0m0-2h0m.6-30.7h0m-2.2 8.5h0m-2 1.8h0m2.5-4.8h0m3 17.4h0m-6.1 10.1h0m3.6-4.4h0" stroke="#fde725" stroke-width="0.9" stroke-linecap="round" stroke-opacity="0.85"/><polygon points="148.90,375.39 148.50,370.14 148.10,363.57 146.70,353.72 146.90,347.15 148.30,337.29 150.00,330.72 151.00,328.75 152.00,328.75 153.00,330.72 154.70,337.29 156.10,347.15 156.30,353.72 154.90,363.57 154.50,370.14 154.10,375.39" fill="#fde725" stroke="#fde725" stroke-width="0.4"/><path d="M174.1 325.6h0m0 32.4h0m-2.4-24.6h0m-.4 30.7h0m4.4-6.7h0m-7.4-2h0m-.6-.3h0m4.1 18.3h0m2.3-32h0m.5 11.2h0m-2.2 3.2h0m1.7-6.9h0m-3.3 22.8h0m0 1.9h0m4.7-10.8h0m-2.8-32.9h0m2.4 9.8h0m-.3 20.9h0m-1.9 7h0m-5-.7h0m3.9 1.2h0m1.7-8h0m0 15.8h0m1.3-39.8h0m-7.4 33.1h0m6.2-8.2h0m1.5-2.7h0m-6.6 18.5h0m-1.2-9.2h0m1.4-13.3h0m-.6 11.6h0m5.7-32h0m-5.6 8.1h0m7.5-.4h0m-6.5 21h0m4.4 7.2h0m1-5.3h0m0-.2h0m-7.1-33h0m7.9 41.9h0m-5.3-4.1h0m-2.6-23.1h0m4 3.7h0m3.8-19.1h0m-4.4 3.4h0m2.1 33.6h0m-3.5-11.7h0m4.8 10.9h0m1.6-8.7h0m.1-4.7h0m-5 21.1h0m.1-19.9h0m4.7 23.9h0m-1-11.2h0m-6.7-2.7h0m7.1 9.1h0m-5.6-33.8h0m4.8 35.1h0m-3.4 2.7h0m-1.5-15.2h0m1.4-.5h0m1.2 6.6h0m-2.9 .4h0m-1.6 5h0m0-3.3h0m6.9-24.6h0m-.5 32.3h0m-.3-12h0m-2.8-9.4h0m-.5 3h0" stroke="#35b779" stroke-width="0.9" stroke-linecap="round" stroke-opacity="0.85"/><polygon points="168.20,378.68 166.70,375.39 166.90,370.14 168.20,363.57 169.50,353.72 170.20,343.86 170.50,330.72 170.90,324.15 172.50,324.15 172.90,330.72 173.20,343.86 173.90,353.72 175.20,363.57 176.50,370.14 176.70,375.39 175.20,378.68" fill="#35b779" stroke="#35b779" stroke-width="0.4"/><path d="M195.2 354.5h0m-7.7-24.7h0m3.1 38.4h0m-2.1 4.8h0m2.6-46.3h0m.6 13.7h0m3.8 40.5h0m.3 .4h0m-5.8-46h0m-1.8 42.4h0m1.9-8.4h0m1.4-32.3h0m-4.3 30h0m8.7-34h0m-1.3 45.4h0m1.3-40.4h0m-8.2 30.2h0m1.9-28h0m-1.7 24.2h0m6.1-17.3h0m-4-6.6h0m5.5 25.3h0m-5.7 1.4h0m3.6-33.1h0m-5.5 29.6h0m.4 15.5h0m.3-11.1h0m-.9-19h0m0 21.8h0m4.7 3.8h0m1.4-7.6h0m-5.4-26.4h0m.2-13.9h0m6.2 47.5h0m.8-22.7h0m-4.5-12.1h0m1.5 28.9h0m2.6 7.9h0m-8-7.2h0m1.4-8.5h0m3.6 11.5h0m1-2.2h0m-1.1-38.6h0m1.5 34.1h0m-3.9 10.1h0m2.1-44.8h0m-1.7 39.4h0m1.1-5.4h0m3-27.8h0m1.2 42.9h0m-1.2-6.2h0m.9-33.2h0m-1 34.9h0m-.2-7.2h0m.9 10.4h0m-5.5-25.8h0m.3 18.1h0m6.2 8.9h0m-.3-31.8h0m-6.1 14.9h0m4.6 18.4h0m.5-2.8h0m1.1-5.2h0m-6.9-25.2h0m.4-23h0m5.9 43.7h0m.2-3.9h0m-4.2-37.4h0m-3.5 15.3h0m2 35.2h0" stroke="#31688e" stroke-width="0.9" stroke-linecap="round" stroke-opacity="0.85"/><polygon points="188.00,381.31 186.00,378.02 186.50,373.42 188.00,366.85 189.30,360.29 190.00,350.43 190.20,337.29 190.50,324.15 192.50,324.15 192.80,337.29 193.00,350.43 193.70,360.29 195.00,366.85 196.50,373.42 197.00,378.02 195.00,381.31" fill="#31688e" stroke="#31688e" stroke-width="0.4"/><path d="M207.2 375.7h0m7-46.5h0m-6.3 49.7h0m.2 2.1h0m4.5-9.2h0m-3.2-32.1h0m2.7 34.7h0m1.7-46.8h0m-5.8 .4h0m5.7-.8h0m-3.9 54h0m-2.5-44.8h0m2.8-10h0m-1.2 51h0m3.1-19.5h0m-4.2-37.9h0m7.1 17.8h0m.1 38.9h0m-6.1-11h0m-.6 8.8h0m2.3-52h0m2.9 57.4h0m1.5-47.6h0m-4.8 40.7h0m2.4-46.7h0m1.8 53.2h0m1.1-1.6h0m-3.8-56.9h0m-1.7 7.3h0m3 46.2h0m-1.9-.3h0m-2.8-20.3h0m4.4 26.5h0m-1.8-3.3h0m1.8-19.7h0m-1.8-35h0m.7 4h0m-2.3 52.5h0m-.6-46.8h0m5 46.1h0m-3.8-10.4h0m2.6 13.6h0m-5.2-10h0m8.4 9.8h0m-1.2-12.3h0m-7.2-8.9h0m4.9 21.4h0m-.7-.4h0m-.6-62.2h0m4.1 51.8h0" stroke="#440154" stroke-width="0.9" stroke-linecap="round" stroke-opacity="0.85"/><polygon points="207.60,381.96 205.60,379.34 206.10,375.39 208.60,370.14 210.10,363.57 210.80,357.00 210.90,343.86 210.40,334.01 209.10,327.44 208.60,324.15 209.10,320.87 210.10,317.58 213.10,317.58 214.10,320.87 214.60,324.15 214.10,327.44 212.80,334.01 212.30,343.86 212.40,357.00 213.10,363.57 214.60,370.14 217.10,375.39 217.60,379.34 215.60,381.96" fill="#440154" stroke="#440154" stroke-width="0.4"/><rect x="140.70" y="314.30" width="82.80" height="72.00" fill="none" stroke="#a8a8a8" stroke-width="0.9"/><line x1="139.10" y1="383.28" x2="140.70" y2="383.28" stroke="#333" stroke-width="0.6"/><text x="138.10" y="386.38" font-size="7.05" text-anchor="end" fill="#555555" stroke="#555555" stroke-width="0.13">0.00</text><line x1="139.10" y1="366.85" x2="140.70" y2="366.85" stroke="#333" stroke-width="0.6"/><text x="138.10" y="369.95" font-size="7.05" text-anchor="end" fill="#555555" stroke="#555555" stroke-width="0.13">0.25</text><line x1="139.10" y1="350.43" x2="140.70" y2="350.43" stroke="#333" stroke-width="0.6"/><text x="138.10" y="353.53" font-size="7.05" text-anchor="end" fill="#555555" stroke="#555555" stroke-width="0.13">0.50</text><line x1="139.10" y1="334.01" x2="140.70" y2="334.01" stroke="#333" stroke-width="0.6"/><text x="138.10" y="337.11" font-size="7.05" text-anchor="end" fill="#555555" stroke="#555555" stroke-width="0.13">0.75</text><line x1="139.10" y1="317.58" x2="140.70" y2="317.58" stroke="#333" stroke-width="0.6"/><text x="138.10" y="320.68" font-size="7.05" text-anchor="end" fill="#555555" stroke="#555555" stroke-width="0.13">1.00</text><line x1="151.50" y1="386.30" x2="151.50" y2="387.90" stroke="#333" stroke-width="0.6"/><text x="151.50" y="394.20" font-size="7.05" text-anchor="middle" fill="#555555" stroke="#555555" stroke-width="0.13">exc.</text><line x1="171.70" y1="386.30" x2="171.70" y2="387.90" stroke="#333" stroke-width="0.6"/><text x="171.70" y="394.20" font-size="7.05" text-anchor="middle" fill="#555555" stroke="#555555" stroke-width="0.13">good</text><line x1="191.50" y1="386.30" x2="191.50" y2="387.90" stroke="#333" stroke-width="0.6"/><text x="191.50" y="394.20" font-size="7.05" text-anchor="middle" fill="#555555" stroke="#555555" stroke-width="0.13">mod.</text><line x1="211.60" y1="386.30" x2="211.60" y2="387.90" stroke="#333" stroke-width="0.6"/><text x="211.60" y="394.20" font-size="7.05" text-anchor="middle" fill="#555555" stroke="#555555" stroke-width="0.13">poor</text><text x="121.10" y="350.30" font-size="7.60" text-anchor="middle" fill="#000" font-weight="bold" transform="rotate(-90 121.10 350.30)">Mean</text><text x="182.10" y="402.60" font-size="8.10" text-anchor="middle" fill="#1a1a1a">ICC</text><path d="M263.2 354.9h0m2.5-11.8h0m3.8 11.3h0m-1.3-15.7h0m-2.4 14h0m1.4 24.6h0m-3.3-6.5h0m.3-20.9h0m4.1-16.1h0m-5.9 43.5h0m.1-25.2h0m8.1-24.3h0m-1.8 5.8h0m-3.5 10.2h0m2.3-8.9h0m-3.3 29.9h0m4.3-19.6h0m-4.2-2.8h0m-1.6 36.2h0m0-26h0" stroke="#fde725" stroke-width="0.9" stroke-linecap="round" stroke-opacity="0.85"/><polygon points="266.20,383.28 265.00,376.71 263.30,366.85 262.00,357.00 261.50,350.43 262.20,343.86 264.00,334.01 266.20,325.47 266.80,325.47 269.00,334.01 270.80,343.86 271.50,350.43 271.00,357.00 269.70,366.85 268.00,376.71 266.80,383.28" fill="#fde725" stroke="#fde725" stroke-width="0.4"/><path d="M287 352.6h0m.6 8.1h0m3.2 7.2h0m0 .2h0m-1.7-9.5h0m1.1 17.1h0m-1.8-.6h0m-2.3-37.7h0m-1.5 38.1h0m2.4-4.4h0m-.5-34.5h0m-3.1 .2h0m7.2 17.7h0m-5.1-6.1h0m1.5 19.4h0m-2.9-8h0m3.6-25.5h0m1.2 27.8h0m-6-2.8h0m3.1 9.8h0m-3.2-.4h0m.2 4.8h0m-.2-9.4h0m1.3 10.8h0m6.7-26.9h0m-1.7 28.5h0m-.1-41.1h0m-5.1 36.9h0m4.8-15.4h0m1.2-10.2h0m.8 8.2h0m-8.2-13.7h0m5.7 29.5h0m.6-2.8h0m-3-31.1h0m-.9 33.3h0m4.1-45.6h0m-1.7 22.2h0m-2.8-15.9h0m6 18.2h0m-7.7 7.3h0m6.5 17.4h0m-.5-2.9h0m1.7 2.5h0m-5.7-.1h0m2.6-17.7h0m3 10.2h0m-2.4-6.8h0m.3 7.2h0m-3.7-17.1h0m.9-16.5h0m2.2 9.9h0m-4.4-12.9h0m5.1 31.6h0m1.6-5.7h0m-5.7-22.1h0m2.1 28.2h0m1.9-13.4h0m-5.5 13.4h0m2.5-32.6h0" stroke="#35b779" stroke-width="0.9" stroke-linecap="round" stroke-opacity="0.85"/><polygon points="284.20,376.71 282.20,373.42 281.70,366.85 282.70,360.29 284.20,350.43 285.20,337.29 285.70,324.15 287.70,324.15 288.20,337.29 289.20,350.43 290.70,360.29 291.70,366.85 291.20,373.42 289.20,376.71" fill="#35b779" stroke="#35b779" stroke-width="0.4"/><path d="M306.4 326.7h0m2.4 46.5h0m-2.1-38.8h0m2.6 46h0m-3.2-8h0m-.9 .4h0m-2.7-12.2h0m4.3 4.6h0m-3.4-31.9h0m3.6 46.3h0m-.3-13.8h0m.1 9.1h0m-4.8-2.1h0m5.4-29.5h0m-3.4 19.1h0m2-21.6h0m.6 16.4h0m-.5-30.3h0m-2 45.2h0m2.6-10.5h0m-2.1 13.7h0m-.7 3.1h0m-.4-7.7h0m1.8 4.6h0m1.9-13.6h0m-1.6-29.9h0m1.6 36.3h0m2.5-27.4h0m-5.5 37.5h0m1.5-10.8h0m-.3 6.2h0m2.6-45.4h0m-.7 15.4h0m-1.6 35.4h0m.4-32h0m-1.9-22.6h0m-.1 17.3h0m1.9 17.8h0m1.5 13.4h0m2.4 1.4h0m-4.7-6.5h0m3.7-20.1h0m-4 14.2h0m-1.1 7.7h0m.9 11.1h0m-1.4-12.9h0m-.7-4.7h0m3.4-22.4h0m1.3 24.7h0m-5.2-7.3h0m1.1-32.1h0m-.4 50.9h0m6.6-19.2h0m-5.2-9.3h0m3.2 23.8h0m-1.3-.6h0m2.9-4.5h0m.5-19.5h0m-7.7-18.7h0m5 48.3h0" stroke="#31688e" stroke-width="0.9" stroke-linecap="round" stroke-opacity="0.85"/><polygon points="302.90,381.31 300.90,376.71 300.90,366.85 302.90,357.00 304.40,347.15 304.10,337.29 303.90,327.44 304.40,322.84 307.40,322.84 307.90,327.44 307.70,337.29 307.40,347.15 308.90,357.00 310.90,366.85 310.90,376.71 308.90,381.31" fill="#31688e" stroke="#31688e" stroke-width="0.4"/><path d="M329.1 373.7h0m-2.9 6.6h0m-2.2 .1h0m3.3-2.9h0m3-22.2h0m-4.9-34.2h0m.1 47.4h0m-1 4.9h0m3.5-48.3h0m-2.9-2.7h0m5.2 47.7h0m-1 8.5h0m-3.7-3.4h0m1.6-10.5h0m-1.2-37.2h0m2.4 51.7h0m-1-42.5h0m.3 45.7h0m-4.2-41.7h0m5.9 42.3h0m-6.7-57.4h0m.3 43.5h0m2.3 13h0m-2.4-2.3h0m3.6-36.9h0m3.6 24h0m-7.3 16.2h0m.9-22.1h0m3.3-28.5h0m-2.6-4.3h0" stroke="#440154" stroke-width="0.9" stroke-linecap="round" stroke-opacity="0.85"/><polygon points="323.30,383.28 323.30,376.71 323.80,366.85 325.10,357.00 325.80,350.43 325.10,343.86 324.10,334.01 323.30,324.15 323.30,317.58 329.30,317.58 329.30,324.15 328.50,334.01 327.50,343.86 326.80,350.43 327.50,357.00 328.80,366.85 329.30,376.71 329.30,383.28" fill="#440154" stroke="#440154" stroke-width="0.4"/><rect x="254.50" y="314.30" width="84.00" height="72.00" fill="none" stroke="#a8a8a8" stroke-width="0.9"/><line x1="252.90" y1="383.28" x2="254.50" y2="383.28" stroke="#333" stroke-width="0.6"/><text x="251.90" y="386.38" font-size="7.05" text-anchor="end" fill="#555555" stroke="#555555" stroke-width="0.13">0.00</text><line x1="252.90" y1="366.85" x2="254.50" y2="366.85" stroke="#333" stroke-width="0.6"/><text x="251.90" y="369.95" font-size="7.05" text-anchor="end" fill="#555555" stroke="#555555" stroke-width="0.13">0.25</text><line x1="252.90" y1="350.43" x2="254.50" y2="350.43" stroke="#333" stroke-width="0.6"/><text x="251.90" y="353.53" font-size="7.05" text-anchor="end" fill="#555555" stroke="#555555" stroke-width="0.13">0.50</text><line x1="252.90" y1="334.01" x2="254.50" y2="334.01" stroke="#333" stroke-width="0.6"/><text x="251.90" y="337.11" font-size="7.05" text-anchor="end" fill="#555555" stroke="#555555" stroke-width="0.13">0.75</text><line x1="252.90" y1="317.58" x2="254.50" y2="317.58" stroke="#333" stroke-width="0.6"/><text x="251.90" y="320.68" font-size="7.05" text-anchor="end" fill="#555555" stroke="#555555" stroke-width="0.13">1.00</text><line x1="266.50" y1="386.30" x2="266.50" y2="387.90" stroke="#333" stroke-width="0.6"/><text x="266.50" y="394.20" font-size="7.05" text-anchor="middle" fill="#555555" stroke="#555555" stroke-width="0.13">exc.</text><line x1="286.70" y1="386.30" x2="286.70" y2="387.90" stroke="#333" stroke-width="0.6"/><text x="286.70" y="394.20" font-size="7.05" text-anchor="middle" fill="#555555" stroke="#555555" stroke-width="0.13">good</text><line x1="305.90" y1="386.30" x2="305.90" y2="387.90" stroke="#333" stroke-width="0.6"/><text x="305.90" y="394.20" font-size="7.05" text-anchor="middle" fill="#555555" stroke="#555555" stroke-width="0.13">mod.</text><line x1="326.30" y1="386.30" x2="326.30" y2="387.90" stroke="#333" stroke-width="0.6"/><text x="326.30" y="394.20" font-size="7.05" text-anchor="middle" fill="#555555" stroke="#555555" stroke-width="0.13">poor</text><text x="235.50" y="350.30" font-size="7.60" text-anchor="middle" fill="#000" font-weight="bold" transform="rotate(-90 235.50 350.30)">Mean</text><text x="296.50" y="402.60" font-size="8.10" text-anchor="middle" fill="#1a1a1a">ICC</text><path d="M382.8 351.7h0m-2.3-1.1h0m.1-3.2h0m4.1 11.3h0" stroke="#fde725" stroke-width="0.9" stroke-linecap="round" stroke-opacity="0.85"/><polygon points="377.60,360.29 376.60,357.00 376.10,350.43 375.60,343.86 375.60,337.29 385.60,337.29 385.60,343.86 385.10,350.43 384.60,357.00 383.60,360.29" fill="#fde725" stroke="#fde725" stroke-width="0.4"/><path d="M396.8 372.4h0m1.2-14.7h0m0 2.3h0m5.4 8.4h0m-.6 1.8h0m-3.4-12.5h0m-1.6 4.7h0m3.5-.2h0" stroke="#35b779" stroke-width="0.9" stroke-linecap="round" stroke-opacity="0.85"/><polygon points="398.80,376.71 396.80,373.42 395.80,366.85 396.80,360.29 398.30,353.72 399.60,343.86 400.20,334.66 401.40,334.66 402.00,343.86 403.30,353.72 404.80,360.29 405.80,366.85 404.80,373.42 402.80,376.71" fill="#35b779" stroke="#35b779" stroke-width="0.4"/><path d="M421.8 379.5h0m-.9-13.8h0m.7 3h0m0-4.4h0m2.6 5.3h0m-.4-7.6h0m-.9 12.6h0m-5.2-50h0m6.3 20.6h0m-6.4 20.2h0" stroke="#31688e" stroke-width="0.9" stroke-linecap="round" stroke-opacity="0.85"/><polygon points="418.10,380.65 417.60,376.71 417.80,366.85 418.60,357.00 419.10,343.86 419.40,330.72 419.10,322.18 422.10,322.18 421.80,330.72 422.10,343.86 422.60,357.00 423.40,366.85 423.60,376.71 423.10,380.65" fill="#31688e" stroke="#31688e" stroke-width="0.4"/><path d="M442.2 340.1h0m-4.2 13.9h0" stroke="#440154" stroke-width="0.9" stroke-linecap="round" stroke-opacity="0.85"/><polygon points="438.80,380.65 438.80,370.14 439.30,363.57 440.30,353.72 440.80,347.15 440.50,340.58 440.10,334.01 439.50,328.75 443.10,328.75 442.50,334.01 442.10,340.58 441.80,347.15 442.30,353.72 443.30,363.57 443.80,370.14 443.80,380.65" fill="#440154" stroke="#440154" stroke-width="0.4"/><rect x="368.90" y="314.30" width="83.60" height="72.00" fill="none" stroke="#a8a8a8" stroke-width="0.9"/><line x1="367.30" y1="383.28" x2="368.90" y2="383.28" stroke="#333" stroke-width="0.6"/><text x="366.30" y="386.38" font-size="7.05" text-anchor="end" fill="#555555" stroke="#555555" stroke-width="0.13">0.00</text><line x1="367.30" y1="366.85" x2="368.90" y2="366.85" stroke="#333" stroke-width="0.6"/><text x="366.30" y="369.95" font-size="7.05" text-anchor="end" fill="#555555" stroke="#555555" stroke-width="0.13">0.25</text><line x1="367.30" y1="350.43" x2="368.90" y2="350.43" stroke="#333" stroke-width="0.6"/><text x="366.30" y="353.53" font-size="7.05" text-anchor="end" fill="#555555" stroke="#555555" stroke-width="0.13">0.50</text><line x1="367.30" y1="334.01" x2="368.90" y2="334.01" stroke="#333" stroke-width="0.6"/><text x="366.30" y="337.11" font-size="7.05" text-anchor="end" fill="#555555" stroke="#555555" stroke-width="0.13">0.75</text><line x1="367.30" y1="317.58" x2="368.90" y2="317.58" stroke="#333" stroke-width="0.6"/><text x="366.30" y="320.68" font-size="7.05" text-anchor="end" fill="#555555" stroke="#555555" stroke-width="0.13">1.00</text><line x1="380.60" y1="386.30" x2="380.60" y2="387.90" stroke="#333" stroke-width="0.6"/><text x="380.60" y="394.20" font-size="7.05" text-anchor="middle" fill="#555555" stroke="#555555" stroke-width="0.13">exc.</text><line x1="400.80" y1="386.30" x2="400.80" y2="387.90" stroke="#333" stroke-width="0.6"/><text x="400.80" y="394.20" font-size="7.05" text-anchor="middle" fill="#555555" stroke="#555555" stroke-width="0.13">good</text><line x1="420.60" y1="386.30" x2="420.60" y2="387.90" stroke="#333" stroke-width="0.6"/><text x="420.60" y="394.20" font-size="7.05" text-anchor="middle" fill="#555555" stroke="#555555" stroke-width="0.13">mod.</text><line x1="441.30" y1="386.30" x2="441.30" y2="387.90" stroke="#333" stroke-width="0.6"/><text x="441.30" y="394.20" font-size="7.05" text-anchor="middle" fill="#555555" stroke="#555555" stroke-width="0.13">poor</text><text x="349.90" y="350.30" font-size="7.60" text-anchor="middle" fill="#000" font-weight="bold" transform="rotate(-90 349.90 350.30)">Mean</text><text x="410.70" y="402.60" font-size="8.10" text-anchor="middle" fill="#1a1a1a">ICC</text><path d="M495.3 348h0m3.7 22h0m-6.4-19.4h0m5.4 8h0m-1-5.8h0m.6 22.5h0m.6-12.8h0m-7.5-2.3h0m5.2-13.9h0m-2.7 27.6h0m.9-10.5h0m1.3-4.1h0m-2.1 1.8h0m-2-8.9h0m-.2-10.2h0m8.6-10.7h0m-2.6 27.3h0m-4.6 16.1h0m6.3-2h0m-1.3-24.8h0m-.3-8.6h0m-3.8 26.6h0m2.8 3h0m-.7 5.2h0m-4.9-26.3h0m7.9 4.3h0m-3-15.3h0m-1.1 31.8h0m-2.2-21.7h0m5.1 2.2h0m-1.1 12.3h0m-3.4 9.4h0m1.3-14.1h0m-2.2-11.2h0m2.6-2.8h0m-.4 30h0m-1.9-13.2h0m7.7-11.7h0m-4.8 .1h0m-1.9 5.9h0m2.6 21.5h0m1-42.9h0m2.3 21.3h0m-1.1-11h0m-6 15.5h0m-1-1.6h0m-.2-21.9h0m7.6 12h0m-1.4-9.3h0m2.1-7.8h0m.1 30.3h0m-.4-13.7h0m-1.9 8.9h0m-5.4 12.5h0m5.4 3.8h0m1.5-27.4h0m-3.7 23.1h0m4.2-5.6h0m.7-5.5h0m-8 13.3h0" stroke="#fde725" stroke-width="0.9" stroke-linecap="round" stroke-opacity="0.85"/><polygon points="493.30,376.71 492.80,370.14 492.80,357.00 493.30,343.86 494.80,328.75 495.80,328.75 497.30,343.86 497.80,357.00 497.80,370.14 497.30,376.71" fill="#fde725" stroke="#fde725" stroke-width="0.4"/><path d="M512.4 352.9h0m4.2 22.5h0m-2-25.1h0m1.8-3.9h0m3.8 17.7h0m-7.4-23.2h0m2.3-7.5h0m1.4 29.1h0m2.9 9.3h0m-2 2.9h0m-.4-13.5h0m1.1 4.4h0m1.4-13.1h0m.1 14.3h0m-.5 12.6h0m-5.3-51.5h0m5.6 40.8h0m-8.3-35.2h0m2.1 44.3h0m-.3-2.5h0m1-4.6h0m4.2 3.4h0m-5.4-2.6h0m3.9-6.7h0m1.3 10.2h0m.2-7.2h0m0-11.6h0m-4 15.2h0m1-1.2h0m3.3-21.8h0m-.7 13.6h0m-6.6 7.7h0m6.6 .6h0m-3.8-3.4h0m.5-5h0m3.5-27.7h0m.1 41.1h0m-3.8-.3h0m-.6-7.8h0m4.4 3.5h0m-2.9-34.4h0m-3.8 33.6h0m4.9-6.6h0m.4-29.6h0m3.1-5.1h0m-4.7 24.6h0m2.6 1.3h0m-5.3-18.4h0m4.5 41.4h0m-5.6-32.9h0m5.1-9.3h0m-3.5 33.6h0m3.3 2.3h0m-3.2-4.6h0m-.7 9.3h0m2.1-12.3h0m-3.5-3.3h0m2.8 3.5h0m5.3 5h0m-4.2-24.6h0m5.2-6h0m-2.5 26.8h0m-6.6 10.5h0m3.5-10.4h0m.6-11.9h0m1.1 26.3h0m-1.8-35.6h0m-.4 2.6h0m3.1 23.3h0m-1.4-40.8h0m-2.6 36.9h0m5.7 6.3h0m-2.6-37.2h0m-5.1 34.7h0m4.9-43.5h0m-3.2 2.3h0m6.8 32.9h0m-3.1-4.3h0m-2.7 22h0m1-20.8h0m1.5-29.5h0m-3.5 4.7h0m-.8 38h0m5-18.1h0m-3.6 19h0m-.7-.9h0m1.1-1.3h0m6-12.2h0m-2.3 11.9h0m-4.7-35.7h0m.5 8.9h0m2.3 30.7h0m3.7-8.4h0m-7.7 6.3h0m5.3 6h0m-.2 1.1h0m-1.7-5.4h0m4.3 .7h0m-1.4-39.1h0m2.3 32h0m-4.4 4.2h0m-4.3 2.4h0m1.7-23.9h0m2.9-15.3h0m-3.2-7h0m-1.9 51.7h0m8.3-2h0m-2-23.5h0m1.1 16.6h0m-2.2 9.7h0m-4.5-33h0m-.4 12.2h0m8-14.3h0m.3 32.8h0m-7.5-32.8h0m3.5 34.7h0m4.6-7.2h0m-2.6-29.1h0m-6.7 11.9h0m5.3 20h0" stroke="#35b779" stroke-width="0.9" stroke-linecap="round" stroke-opacity="0.85"/><polygon points="513.90,379.99 512.90,373.42 512.90,366.85 514.40,357.00 514.40,343.86 513.90,334.01 514.40,326.12 516.40,326.12 516.90,334.01 516.40,343.86 516.40,357.00 517.90,366.85 517.90,373.42 516.90,379.99" fill="#35b779" stroke="#35b779" stroke-width="0.4"/><path d="M532 373.3h0m6-14.7h0m-5.8 20.6h0m5.1-13.7h0m-5.5 2.2h0m6.8 .9h0m-2.6-14.8h0m-.3-22.6h0m4.1 38.7h0m-6.2 7.8h0m5.4-8.7h0m-7.9 4.3h0m5.8 3.9h0m-2.2-12.4h0m-3.2-33h0m5.7 6.4h0m1 35.1h0m-6.2-41h0m3.2 4.4h0m2.3 31.7h0m-4.5-18.3h0m6 19.2h0m-.6 4.1h0m-2 2.6h0m-.3-.4h0m-4.4-26h0m1.9 12.9h0m6.8-3.5h0m-4.5 3.5h0m3.2 3.4h0m-.8 13h0m-5.3-12.5h0m6.9-38.8h0m-8.9 27.5h0m3.1 6.3h0m5.2 15.2h0m-4.3-33.4h0m.7-9.5h0m-4.5 28.9h0m-.3 1.3h0m3.4-16.9h0m3.7 30.4h0m-3.6-39.6h0m1.3 41h0m-3.5-43h0m4 33.5h0m4-3.7h0m-9.3-3.8h0m2.3 6.3h0m6.1 2.1h0m.1-6.6h0m-6.6-35.3h0m7.3 38.6h0m-5.2-9.1h0m1.6-29.1h0m-.9 24.3h0m-3.1 23.2h0m1.3-16.9h0m1.4 7.2h0m-4.4-4.6h0m2-7h0m-2 1.2h0m9.6 3.2h0m-6.3 6.6h0m.8-.3h0m-.6 10.3h0m.7-26h0m2.8 20.9h0m2.4 9.1h0m-7.9-10.3h0m1.2-7.3h0m.7 12.7h0m5.3-15.2h0m-1.4 9.5h0m-2.8-15.1h0m3.9 22.8h0m-.4-12h0m-4.7-1.4h0m-3.2-5h0m7.2-5.1h0m.6 25.4h0m-2.1-3.6h0m-2.7-.7h0m-1.1-20.7h0m2.3 .1h0m-.9 16.6h0m.7-7.8h0m2.7-27.1h0m-6.3-6.5h0m7.7 38.7h0" stroke="#31688e" stroke-width="0.9" stroke-linecap="round" stroke-opacity="0.85"/><polygon points="533.60,379.99 532.60,373.42 533.60,366.85 534.80,357.00 535.00,337.29 534.60,326.12 536.60,326.12 536.20,337.29 536.40,357.00 537.60,366.85 538.60,373.42 537.60,379.99" fill="#31688e" stroke="#31688e" stroke-width="0.4"/><path d="M555.8 380.5h0m-5.1 0h0m6.6-53.7h0m-5.9 2.2h0m-.9 .8h0m6.3-7.7h0m.5 59.6h0m-5.4-46.7h0m7.6 43.5h0m-7-30h0m5.9 28.9h0m-1.1 1.3h0m-3.6-55.5h0m1.9 54.2h0m1.7-56.4h0m2.1 3.4h0m-8.1 52.3h0m.9-32.5h0m.2 26.5h0m2.9 6.3h0m.5-55.8h0m3.4 .1h0m-2.7 42.5h0m3.4-41.1h0m-3.6-.6h0m2.9 58.1h0m-3.5-52.5h0m-5.2-6.3h0m.3 59.1h0m-.2 .9h0m1.9-5.3h0m5.2 4.2h0m-2.6-.2h0m.4-3.1h0m-3.3 2.7h0m5.2-3.9h0m-1.7 2.7h0m.9-48.5h0m-6.2 40.6h0m7.4-47.5h0m2.1 56.3h0m-.9-.8h0m-5.5 3.2h0m2-59.6h0m-3.7 58h0m-.9-9h0m5.6 7.8h0m-3.6 1.4h0m5.2-55.8h0m-5.8 46.5h0m1.8 2.2h0m4.4 5.3h0m1.3 1.1h0m-5.9-36.4h0m-.7 30.9h0m-2.3-29.4h0m8.4 34.8h0m.3 .9h0m-5-54.1h0m-1.8 53.6h0m5.2 .7h0m-.5-36.3h0m-3.2 18h0m5.5 14.8h0m-6.6-27.8h0m-.3 28h0m5.2-41.4h0m-2.2-7.2h0m-2.2 39.9h0m.7 7.4h0" stroke="#440154" stroke-width="0.9" stroke-linecap="round" stroke-opacity="0.85"/><polygon points="551.20,381.96 548.20,379.99 550.20,376.71 553.70,373.42 554.70,363.57 554.70,343.86 554.20,330.72 551.70,325.47 552.20,322.84 554.20,320.87 556.20,320.87 558.20,322.84 558.70,325.47 556.20,330.72 555.70,343.86 555.70,363.57 556.70,373.42 560.20,376.71 562.20,379.99 559.20,381.96" fill="#440154" stroke="#440154" stroke-width="0.4"/><rect x="483.60" y="314.30" width="83.70" height="72.00" fill="none" stroke="#a8a8a8" stroke-width="0.9"/><line x1="482.00" y1="383.28" x2="483.60" y2="383.28" stroke="#333" stroke-width="0.6"/><text x="481.00" y="386.38" font-size="7.05" text-anchor="end" fill="#555555" stroke="#555555" stroke-width="0.13">0.00</text><line x1="482.00" y1="366.85" x2="483.60" y2="366.85" stroke="#333" stroke-width="0.6"/><text x="481.00" y="369.95" font-size="7.05" text-anchor="end" fill="#555555" stroke="#555555" stroke-width="0.13">0.25</text><line x1="482.00" y1="350.43" x2="483.60" y2="350.43" stroke="#333" stroke-width="0.6"/><text x="481.00" y="353.53" font-size="7.05" text-anchor="end" fill="#555555" stroke="#555555" stroke-width="0.13">0.50</text><line x1="482.00" y1="334.01" x2="483.60" y2="334.01" stroke="#333" stroke-width="0.6"/><text x="481.00" y="337.11" font-size="7.05" text-anchor="end" fill="#555555" stroke="#555555" stroke-width="0.13">0.75</text><line x1="482.00" y1="317.58" x2="483.60" y2="317.58" stroke="#333" stroke-width="0.6"/><text x="481.00" y="320.68" font-size="7.05" text-anchor="end" fill="#555555" stroke="#555555" stroke-width="0.13">1.00</text><line x1="495.30" y1="386.30" x2="495.30" y2="387.90" stroke="#333" stroke-width="0.6"/><text x="495.30" y="394.20" font-size="7.05" text-anchor="middle" fill="#555555" stroke="#555555" stroke-width="0.13">exc.</text><line x1="515.40" y1="386.30" x2="515.40" y2="387.90" stroke="#333" stroke-width="0.6"/><text x="515.40" y="394.20" font-size="7.05" text-anchor="middle" fill="#555555" stroke="#555555" stroke-width="0.13">good</text><line x1="535.60" y1="386.30" x2="535.60" y2="387.90" stroke="#333" stroke-width="0.6"/><text x="535.60" y="394.20" font-size="7.05" text-anchor="middle" fill="#555555" stroke="#555555" stroke-width="0.13">mod.</text><line x1="555.20" y1="386.30" x2="555.20" y2="387.90" stroke="#333" stroke-width="0.6"/><text x="555.20" y="394.20" font-size="7.05" text-anchor="middle" fill="#555555" stroke="#555555" stroke-width="0.13">poor</text><text x="464.70" y="350.30" font-size="7.60" text-anchor="middle" fill="#000" font-weight="bold" transform="rotate(-90 464.70 350.30)">Mean</text><text x="525.45" y="402.60" font-size="8.10" text-anchor="middle" fill="#1a1a1a">ICC</text><path d="M610.3 332.4h0m-1 23.1h0m4.1-12.9h0m-1.3 29h0m-3.7-3.1h0m3.8-29.1h0m-.4-.8h0m-1 22.9h0m-.2-6.4h0m2.5-11.8h0m-3.5-3.6h0m2.9 13.9h0m-3.8 6.3h0m-.5 18.1h0m.8-15h0m-1.5-26.2h0m-.8 5.5h0m2.9 17.1h0m-3.3-23.8h0m7.2 3.2h0m-6.3 37h0m1.1-.9h0m2-34.6h0m-3.9 15.2h0m3-26.9h0" stroke="#fde725" stroke-width="0.9" stroke-linecap="round" stroke-opacity="0.85"/><polygon points="609.20,383.28 607.70,376.71 606.20,366.85 605.20,353.72 605.20,343.86 606.70,334.01 608.70,327.44 610.70,327.44 612.70,334.01 614.20,343.86 614.20,353.72 613.20,366.85 611.70,376.71 610.20,383.28" fill="#fde725" stroke="#fde725" stroke-width="0.4"/><path d="M627.8 358.4h0m-1.4-4.9h0m5 13.9h0m1.5-9.6h0m-5.4 2.3h0m-.5-14.2h0m1.9-9h0m2.3-11.4h0m-4.4 16.7h0m5.5-4.5h0m.8 24.3h0m-4.4 2.7h0m1.6 9.1h0m-3.1-7.9h0m2.6-13.7h0m1.2-19.1h0m-.9 6.4h0m-.3-11.4h0m1.4 6.6h0m-3.1 33.6h0m-.6-8h0m1.1-25.1h0m1.3-7.1h0m.7 14.2h0m.3-2.9h0" stroke="#35b779" stroke-width="0.9" stroke-linecap="round" stroke-opacity="0.85"/><polygon points="626.80,375.39 625.80,366.85 625.30,357.00 624.80,347.15 625.30,337.29 625.80,330.72 626.80,324.15 632.80,324.15 633.80,330.72 634.30,337.29 634.80,347.15 634.30,357.00 633.80,366.85 632.80,375.39" fill="#35b779" stroke="#35b779" stroke-width="0.4"/><path d="M651.6 338.1h0m-2.8 26h0m3.8-26.3h0m-5 6.3h0m2.9 27.7h0m-4.4-29.1h0m.6 28.7h0m3.1-45.7h0m2.5 45h0m-4.8-41.2h0m5.2 41.1h0m-4-14.7h0m.2-30.4h0m-.2 48.8h0m.3-36.9h0" stroke="#31688e" stroke-width="0.9" stroke-linecap="round" stroke-opacity="0.85"/><polygon points="646.40,378.02 645.40,370.14 646.40,360.29 647.90,353.72 646.90,347.15 644.90,337.29 645.90,327.44 647.40,319.56 651.40,319.56 652.90,327.44 653.90,337.29 651.90,347.15 650.90,353.72 652.40,360.29 653.40,370.14 652.40,378.02" fill="#31688e" stroke="#31688e" stroke-width="0.4"/><path d="M671.9 335.3h0m-5.6 28.7h0m7.1-26.2h0" stroke="#440154" stroke-width="0.9" stroke-linecap="round" stroke-opacity="0.85"/><polygon points="668.30,381.31 668.30,370.14 668.80,357.00 669.30,350.43 667.80,343.86 665.80,334.01 664.80,325.47 674.80,325.47 673.80,334.01 671.80,343.86 670.30,350.43 670.80,357.00 671.30,370.14 671.30,381.31" fill="#440154" stroke="#440154" stroke-width="0.4"/><rect x="598.30" y="314.30" width="83.20" height="72.00" fill="none" stroke="#a8a8a8" stroke-width="0.9"/><line x1="596.70" y1="383.28" x2="598.30" y2="383.28" stroke="#333" stroke-width="0.6"/><text x="595.70" y="386.38" font-size="7.05" text-anchor="end" fill="#555555" stroke="#555555" stroke-width="0.13">0.00</text><line x1="596.70" y1="366.85" x2="598.30" y2="366.85" stroke="#333" stroke-width="0.6"/><text x="595.70" y="369.95" font-size="7.05" text-anchor="end" fill="#555555" stroke="#555555" stroke-width="0.13">0.25</text><line x1="596.70" y1="350.43" x2="598.30" y2="350.43" stroke="#333" stroke-width="0.6"/><text x="595.70" y="353.53" font-size="7.05" text-anchor="end" fill="#555555" stroke="#555555" stroke-width="0.13">0.50</text><line x1="596.70" y1="334.01" x2="598.30" y2="334.01" stroke="#333" stroke-width="0.6"/><text x="595.70" y="337.11" font-size="7.05" text-anchor="end" fill="#555555" stroke="#555555" stroke-width="0.13">0.75</text><line x1="596.70" y1="317.58" x2="598.30" y2="317.58" stroke="#333" stroke-width="0.6"/><text x="595.70" y="320.68" font-size="7.05" text-anchor="end" fill="#555555" stroke="#555555" stroke-width="0.13">1.00</text><line x1="609.70" y1="386.30" x2="609.70" y2="387.90" stroke="#333" stroke-width="0.6"/><text x="609.70" y="394.20" font-size="7.05" text-anchor="middle" fill="#555555" stroke="#555555" stroke-width="0.13">exc.</text><line x1="629.80" y1="386.30" x2="629.80" y2="387.90" stroke="#333" stroke-width="0.6"/><text x="629.80" y="394.20" font-size="7.05" text-anchor="middle" fill="#555555" stroke="#555555" stroke-width="0.13">good</text><line x1="649.40" y1="386.30" x2="649.40" y2="387.90" stroke="#333" stroke-width="0.6"/><text x="649.40" y="394.20" font-size="7.05" text-anchor="middle" fill="#555555" stroke="#555555" stroke-width="0.13">mod.</text><line x1="669.80" y1="386.30" x2="669.80" y2="387.90" stroke="#333" stroke-width="0.6"/><text x="669.80" y="394.20" font-size="7.05" text-anchor="middle" fill="#555555" stroke="#555555" stroke-width="0.13">poor</text><text x="580.00" y="350.30" font-size="7.60" text-anchor="middle" fill="#000" font-weight="bold" transform="rotate(-90 580.00 350.30)">Mean</text><text x="639.90" y="402.60" font-size="8.10" text-anchor="middle" fill="#1a1a1a">ICC</text><text x="5.70" y="322.80" font-size="8.80" text-anchor="start" fill="#000" font-weight="bold">d</text><line x1="63.33" y1="408.40" x2="63.33" y2="492.00" stroke="#a0a0a0" stroke-width="0.55" stroke-dasharray="2.6,1.9"/><line x1="77.47" y1="408.40" x2="77.47" y2="492.00" stroke="#a0a0a0" stroke-width="0.55" stroke-dasharray="2.6,1.9"/><line x1="31.50" y1="446.25" x2="109.30" y2="446.25" stroke="#a0a0a0" stroke-width="0.55" stroke-dasharray="2.6,1.9"/><line x1="31.50" y1="454.15" x2="109.30" y2="454.15" stroke="#a0a0a0" stroke-width="0.55" stroke-dasharray="2.6,1.9"/><clipPath id="ce0"><rect x="31.50" y="408.40" width="77.80" height="83.60"/></clipPath><g clip-path="url(#ce0)"><path d="M74.1 458.9h0m-4.5-5.9h0m4.4-18.4h0m-2.6 2.5h0m-1.4-1.4h0m6.2 23.2h0m-1.8 10h0m-11.6-4.7h0m-10.6-12.8h0m17.2 6.3h0m6.8-39h0m-10.9 49.4h0m-.7-23.4h0m1.7 2.9h0m6.3 11.5h0m-6.6-.4h0m-11.3 13.4h0m10.8-27.7h0m-6.8 24.3h0m6.3-12.8h0m5.1-3.6h0m-6.4-10h0m6 3.8h0m0 2.2h0m3.6 10.7h0m-11.1-6.8h0m13.4-25.1h0m12.3 11.1h0m-15.8 11.9h0m-9.4 2.1h0m.9-.1h0m6.5-6.6h0m-4.8-4.8h0m7.3 6.4h0m-9.2 25.9h0m-4.4-7.4h0m13.1-2.3h0m-3.3-14.5h0m2-8.7h0m-11.1 11.2h0m3 3.5h0m.2-35.3h0" stroke="#24aa82" stroke-width="1.75" stroke-linecap="round" stroke-opacity="0.9"/><path d="M68.9 452.3h0m-12.7 .6h0m2.1 6.1h0m11.4-8.6h0m.4-23.4h0m9.4-4.6h0m-6.7 26.9h0m-6.8 2.3h0m2.7-.6h0m.4-7.8h0m.6 3.4h0m-6.4 3.1h0m10.7-21.1h0m-17.3 6h0m11.5 16.6h0m-.7 2.7h0m-4.9 3h0m-2.3 2h0m4.6-17.6h0m-12.4 33.1h0m18.6-31.8h0m-3.2 .1h0m-1.2-3.1h0m6.1-13h0m-8.3 2.5h0m2.4 13.7h0m-22.8 43.3h0m4.6-36.9h0m2.9 15.3h0m15.6-20.4h0m2.5 3.3h0m4.4 4.7h0m-4-2.1h0m-4.8 .1h0m-5.6 27.3h0m-.4 .7h0m6.3-19h0m8.7-24.9h0m-1.2-10h0" stroke="#39b976" stroke-width="1.75" stroke-linecap="round" stroke-opacity="0.9"/><path d="M65.5 449.6h0m3-8.3h0m4.2 14h0m-5.7-11.7h0m10.9-20.6h0m-2.7 50.3h0m-13.5-32.3h0m8.5 3.2h0m-3 11.9h0m-.6-16.1h0m.1 4.8h0m-7.6 6.8h0m7.8-1.8h0m.6 9.8h0m-3.2-1.1h0m-4.9 1.5h0m2.5 6.1h0m7.5 .9h0m-2.5-6.1h0m.6-.4h0m-8.7 2.4h0m14.6-11.5h0m-17.3 7.9h0m18.3-5.2h0m-6.1-23.6h0m-.3 28.2h0m3.6 1h0m-14.6 5.6h0m-3.4 11h0m18.5-40.8h0m-10.8 4.3h0m12.7 .5h0m3 10.1h0m-19.3 20.3h0m11-12.8h0m-5.8-15.3h0m11.3 2.4h0m-.2 .9h0m-16.6 9.3h0m2.2 32.8h0m9.1-29.7h0m-3.2-9.4h0" stroke="#1fa386" stroke-width="1.75" stroke-linecap="round" stroke-opacity="0.9"/><path d="M71.4 451h0m-13.9 8.7h0m23.7 1.8h0m-21.7 12h0m27.3-30.2h0m-25-13.7h0m9.2 12h0m-2.5-18.8h0m.3 39.2h0m6.8-46h0m21 20.1h0m-23.9-2.2h0m-6.1 22.7h0m2.4-17.1h0m-10.3 16.2h0m19.8-2.3h0m-11.6 4.5h0m1.8-5.6h0m3.4 12.1h0m-6.8-8.1h0m.8 5.9h0m-3.3-9.1h0m3.5 30.4h0m-13.1-8.1h0m15.2-25.9h0m-8.3-12.8h0m8.9 10.5h0" stroke="#d4e11a" stroke-width="1.75" stroke-linecap="round" stroke-opacity="0.9"/><path d="M65.1 450.8h0m8.9 2.2h0m-8.4 3.9h0m2.2-11.8h0m1.5 11h0m5.1-7.1h0m-3.4-6.4h0" stroke="#443781" stroke-width="1.75" stroke-linecap="round" stroke-opacity="0.9"/><path d="M72.3 456.6h0m-4.1-3.6h0m4.2-3.5h0m-3.1 3.6h0m-.2-.5h0m-1.5 3.8h0m-2.3-2.4h0m2.7 .7h0m-3.7-10.3h0m3.2 2.2h0" stroke="#482273" stroke-width="1.75" stroke-linecap="round" stroke-opacity="0.9"/><path d="M66.6 448.5h0m8.1 7.7h0m-8.6-3.5h0m-7.3-4.7h0m14.6-5.2h0m-6.4-7.8h0m6.1 12.5h0m-19.7 21.2h0m16.1-18.8h0m4.4-13.2h0m-4.3 21.4h0m3.6-2.2h0m6.6-5.8h0m-11.8-4.7h0m-.5-1.3h0" stroke="#355c8c" stroke-width="1.75" stroke-linecap="round" stroke-opacity="0.9"/><path d="M61.2 474.5h0m5.7-28.3h0m-.3 11.9h0m-2.4 3h0m14.1-20.4h0m-16.8 20.5h0m4.2 1.6h0m4.2-39.3h0m-11.7 19.7h0m5.5-4.1h0m-5-1.6h0m14.6 12.1h0m-17.7 30.7h0m-.1-20h0m19.7-17.2h0m-13.1 9.5h0m-5-6.6h0m-.9 1.6h0m6.2 11.9h0m-3.7-10h0m-3.3-12.1h0m3.5 12.6h0m14.1-18.8h0m-3.7 14.4h0m6.7-2.3h0m10.5 2.5h0m-13.4-4.5h0m-5.1 11.6h0m-2.7-9.5h0m-10.9 2.1h0m-.5 17.4h0m5.7 9.7h0m5.3-24.5h0m3.7 8.4h0m4.8-3.1h0m-2.9 17.5h0m3.4-33.7h0m-1.5-1.3h0m-1.5-14.4h0m-2.9 15.2h0m3.1 10h0m-15.9 25.3h0" stroke="#bfdf24" stroke-width="1.75" stroke-linecap="round" stroke-opacity="0.9"/><path d="M71.6 455.8h0m-2.9-10.5h0m2.6 1.6h0m-3.4 2.6h0m-.2-8.9h0m-.1-.6h0m3.3 1.9h0m4.2 7.1h0m.1 1.9h0m-3.2 2h0m-1.9-6.5h0m4.8 10.2h0m2.8-7.8h0m-6.4 1.8h0m.1-4h0" stroke="#414186" stroke-width="1.75" stroke-linecap="round" stroke-opacity="0.9"/><path d="M69.1 447.3h0m4.3 6.2h0m1.3-14.6h0m-4.6-.7h0m-2.1 14.9h0m.2-13.2h0m-1.8 8.6h0m-1.3 5.5h0m3.6-2.6h0m-13.5 1.5h0m10.4-10.2h0m-2.8 4.7h0m10.6-14.5h0m-17.6 21.4h0" stroke="#228b8d" stroke-width="1.75" stroke-linecap="round" stroke-opacity="0.9"/><path d="M74.3 434.2h0m-7.6 15.6h0m-10.5 12.6h0m.8-10.4h0m15.6 24.4h0m-11-12.5h0m3.8-20.9h0m1.3 7.4h0m.2 18.2h0m-11.2-12.4h0m21.8-9.5h0m-7.2 4.8h0m-8.4-18.9h0m1.3 14.6h0m-13.2 30.7h0m13.3-11.3h0m3.8-17.5h0m6.1 4.8h0m-8.1-1.2h0m6.9-4.3h0m-13 38h0m8.6-28.9h0m-4 1.4h0m6.1-4.3h0m-10.5 18.7h0m13.9-22.6h0m-3.7-16.8h0m4.6 19.4h0m-15.6 11.6h0m7.6 11.7h0m15.9-53.2h0m-19.2 31.3h0m8.4-17.7h0m-.5 1.9h0m-19.9 40.7h0m15.3-18.1h0m8.2-17.1h0m-.3-6.5h0m-7.9-21.8h0m-1.7 12.5h0m6 23.6h0m-13.7 26.5h0m12.1-43.9h0m-9.4 31.3h0m17.8-38.2h0m-18.9 38.1h0m-1.5 4.6h0m24.3-53.8h0m-21.6 43.4h0m.3 7.4h0m-9-1h0m12.2-12.7h0m-4.1-4.4h0m14.9 12.6h0" stroke="#1e9b89" stroke-width="1.75" stroke-linecap="round" stroke-opacity="0.9"/><path d="M68.6 444.4h0m-1.4 10h0m1.6-1.6h0m-2.4-7.6h0m-.5 13.6h0m-1.1-6.5h0m4.5-10.7h0m-3.3 19.8h0m8.3-17h0m-2 4.1h0" stroke="#462d7c" stroke-width="1.75" stroke-linecap="round" stroke-opacity="0.9"/><path d="M73.3 447.7h0m-5.2-1.3h0m.1 24h0m3-7.3h0m-4.2-8.9h0m4.4-6.3h0m-1.8 13.3h0m1.7-26.6h0m2.5 16.5h0m-10.7 19.6h0m2.2-29.9h0m4 20.5h0m-.6-22.4h0m.5 23.6h0m3.4-18.1h0m-3.2-1.7h0m1.4 2.8h0m-6.5 18.7h0m4.5-8.6h0m.2-12h0m11.8 9.5h0m-25.3-5.2h0m22.9-1h0m.3-15.5h0m-14.5 35.2h0m16.1-30.1h0m-11.9 3.9h0m6 7.4h0m-10.6 19.8h0m4.1-7.9h0m-2.8-11.8h0m9.7-6h0m-8.1 11.3h0m-10 8.3h0m15.4-26.9h0m-2.3 18.7h0m5.1-10.5h0m-19.1-9.1h0m16.9 23.2h0m-12.2-2.7h0m2.2 9.9h0m15.2-13.3h0m-26.9-3.3h0m11.1-3.7h0m15-8.2h0m-15.5 32h0m19.5-34.2h0m-19.7 6.5h0m.6-8.9h0m4.6 24.4h0m-16.2 13h0m14.2-7.3h0" stroke="#1f948b" stroke-width="1.75" stroke-linecap="round" stroke-opacity="0.9"/><path d="M68.7 457.3h0m6.4-15.4h0m-4.3 17h0m5.1-8h0m-12.1 30h0m3.8-26.8h0m4.8 5.9h0m.1-11.2h0m1.3-.5h0m-5.1 3.9h0m-1.4-6.2h0m-1.7 7.9h0m-.2-3.9h0" stroke="#2e6c8e" stroke-width="1.75" stroke-linecap="round" stroke-opacity="0.9"/><path d="M71.6 450.7h0m-.5-5.1h0m9.2 .6h0m-12 8.5h0m1.6 8h0m6.4-4.7h0m-6.4-3.2h0m3.3-7h0m-1.9 5.7h0m-.6 1.3h0m-.8-8.6h0" stroke="#3d4a89" stroke-width="1.75" stroke-linecap="round" stroke-opacity="0.9"/><path d="M55.9 466.4h0m11.3-25h0m2.2-7.6h0m-9.9 18h0m6.2 4.9h0m-.1-3.9h0m-10.2 4.7h0m.8 24.5h0m18.7-36.7h0m-4.3 12.5h0m-5.8 23.7h0m-5.9-49.4h0m6.4 24.2h0m5.8-32.8h0m-3.5 16.3h0m-10.2 22h0m12.6-17.9h0m-2.4 5.5h0m11.8-15.3h0m-17.2 0h0m10 20.2h0m-8.9 11.5h0m4.8-25.9h0m-1.2 17.7h0m8.8-39.9h0m-4.5 45.9h0m-12.8 .7h0m-4.8-9.2h0m14.3 12.4h0m-.8-16.9h0m-.2 2.9h0m-3.9-7h0m-4.6 26.4h0m22.8-35.8h0m-24.5 5.6h0m3.3 17.3h0m-2.2 1.9h0m5.8-5.6h0m-7.5 5.7h0m17.5-11.6h0m-.3-11.1h0m-11.8 6.2h0m0 30.5h0m-.9-3.4h0m-1.1-20.2h0m5.6 19.9h0m1.3-21.2h0m2.7 8.9h0m-.3-17h0m-4.4 14.8h0m11.2-16.2h0" stroke="#2eb27c" stroke-width="1.75" stroke-linecap="round" stroke-opacity="0.9"/><path d="M71.8 449.3h0m1.6 6h0m-4.1-8.6h0m6 4.8h0m-1.5-3.8h0m-12.2 3.6h0m12.3-.2h0m-3-5h0" stroke="#47186a" stroke-width="1.75" stroke-linecap="round" stroke-opacity="0.9"/><path d="M70.3 435h0m-.5 2h0m4.1 17.9h0m-.9-14.1h0m-6.7 32.7h0m-10.8 2.4h0m-1.1 1.5h0m31.8-32.3h0m-24.7-16.2h0m-.2 37h0m-6.4 2.8h0m2.6-8.9h0m5.4-8.8h0m4.9 2.9h0m-6.9 2.4h0m16.8 11.5h0m-8.6-19.9h0m-8.1 17.5h0m18.6-32.9h0m-14.5-12.2h0m8.4 53.5h0m-5.1-11.2h0m3.3-18.8h0m-8.7-4.8h0m.8-6.1h0m-6.1 49.2h0m-11.9-20.4h0m32.1-21.6h0m-16.3 8.8h0m11.3 6.5h0m-4.8-37.6h0m-8.5 43h0m31-22.3h0m-27.7 12h0m1.2-9.8h0" stroke="#e9e419" stroke-width="1.75" stroke-linecap="round" stroke-opacity="0.9"/><path d="M69.6 465.1h0m-4.1-13.3h0m-9.8-30.7h0m4.8 25.4h0m9.8-3.6h0m-3.8-13.4h0m-2.9 3.5h0m-5.1 8.1h0m8.2 22h0m-1.6-5h0m7.8 8.4h0m-2.9-10h0m-11.9-20h0m13.5 16.1h0m-5.4-12.7h0m1.2 9.6h0m-3.5 9.8h0m1-15.2h0m.1 30.6h0m1.7-21.2h0m-4-3.9h0m9.6 6.1h0" stroke="#a7db33" stroke-width="1.75" stroke-linecap="round" stroke-opacity="0.9"/><path d="M72.6 428h0m.7 12.3h0m-8.8-8.4h0m4.5 2.8h0m-12.4 26.3h0m-4.4 9.4h0m17-23h0m-4.6 13.6h0m-11.5-11.5h0m6.7 26.7h0m5.5-27.2h0m12.6-11.3h0m-8.5 4.6h0m-5.9 34.6h0m1.3-32.1h0m12.4-27.1h0m-4 27h0m3.2-11.6h0m-11.8-14.2h0m6 14.5h0m-2.7 37h0m22.8-27.5h0m-26.4 8.5h0m8.3-8.3h0m-11.6 20.7h0m4.9-20.9h0m.5 19.8h0m-4.3-34.9h0m4.2 30.9h0m-.4-40.8h0m1.6 40.4h0m4.8-15.8h0m.7-4.5h0m4.5 16.4h0m-17.7-19.9h0m3.1 19.9h0m-7.2-6.5h0m4 15.8h0m4.4-11.8h0m-2.4 9.5h0" stroke="#7ed24e" stroke-width="1.75" stroke-linecap="round" stroke-opacity="0.9"/><path d="M66.4 448.7h0m2.7-.3h0m-3.3 5h0m6-3.9h0m-3.2 2.2h0m-5.2 1.1h0m13.7-8.2h0m-6.7 8.6h0m-.8-.5h0m2.2-17.3h0m-.4 28.9h0m1.4-11.7h0m-10.9-.5h0m11.5-5.7h0" stroke="#39548b" stroke-width="1.75" stroke-linecap="round" stroke-opacity="0.9"/><path d="M68.1 428.3h0m-2.4 38.5h0m-4.7-19.9h0m9.7 11.1h0m1.8-12.4h0m1.5-12.8h0m-6 30.2h0m-11.2 15.7h0m10.2-49.3h0m-4.3 30.9h0m5.9-1.6h0m-11.3-14.9h0m6.1 24.3h0m10-32.4h0m-10.7 10.7h0m11.9 5.2h0m-18.3 23.1h0m15.3-28.9h0m-10.7 14.6h0m9.7-35.7h0m3.2-6.8h0m-28.9 58.8h0m35.5-21.7h0m-6.3-11.7h0m-9.1-3.8h0m.9 8.6h0m-4.5 28.8h0m6.5-31.5h0m-.5 4.9h0m15.8-9.1h0m-22.3 16.2h0m-6.8-.5h0m23.6-23.1h0m-11.5 13.4h0m-3.2 18.5h0" stroke="#92d741" stroke-width="1.75" stroke-linecap="round" stroke-opacity="0.9"/><path d="M71.1 440.9h0m-2.7 8.8h0m-2.2-7.3h0m-1.7 11.3h0m1 13.8h0m17.8-27.7h0m-16.1 20h0m-10.6 3h0m34.9-20h0m-15.2-1.5h0m-9 2.7h0m1.6 20.8h0m-18.5-.2h0m4.4 5.2h0m10.9-20.6h0m-8.5-6h0m-1.8 7h0m12.4 19.7h0m-1.6-28.5h0m2 17.9h0m-2 .5h0" stroke="#6bcd59" stroke-width="1.75" stroke-linecap="round" stroke-opacity="0.9"/><path d="M73.9 452.8h0m-1.5-4.2h0m2.1 4.2h0m-.7-6.2h0m-6.8-2.5h0m17.8 4h0m-12.1-4.6h0" stroke="#440154" stroke-width="1.75" stroke-linecap="round" stroke-opacity="0.9"/><path d="M62 455.8h0m8.7 .4h0m-2.7 12.8h0m8.3-20.7h0m-22.6 25.5h0m4.9 3.5h0m13.7-53.9h0m-11.6 60.8h0m6.2-21.9h0m4.4-18.6h0m-3.1-2.1h0m3.8 4.3h0m-3.8-8.9h0m1.4 31.1h0m1.9-17.3h0m-7 19.8h0m7.2-13.5h0m.6-11.9h0m-4.7-20.7h0m16.6 27.4h0m-12.2-10.5h0m-6.2 33.6h0m7.2-33.2h0m-14 27.6h0m9.9-26h0m1.6 11.2h0m-4.4-.3h0" stroke="#57c665" stroke-width="1.75" stroke-linecap="round" stroke-opacity="0.9"/><path d="M62.7 453.4h0m7.2-21.4h0m.5 29.7h0m-6.2-21.2h0m3-2.8h0m-4 6.5h0m-3.8 6.1h0m9.5-5.9h0m-1.6 10h0m-2.8 .3h0m-1.3 1.5h0m7.8 5.6h0m-.3-6.9h0" stroke="#2a758e" stroke-width="1.75" stroke-linecap="round" stroke-opacity="0.9"/><path d="M69.1 456.1h0m2.2-13.5h0m6.3 8.7h0m-11.4-5.1h0m5.4 9.7h0m-2.3-5.3h0m3.4 6.1h0m-.4-7.9h0m2.3-4.6h0m-8.2 3.2h0m8 .1h0m-12.6-1.2h0m7.4 8.5h0m2-7.5h0m4 .1h0" stroke="#460c5f" stroke-width="1.75" stroke-linecap="round" stroke-opacity="0.9"/><path d="M93.7 441.2h0m-28.7-7h0m5.8 18.2h0m-9.9-4.1h0m1.4 16.1h0m4.6-16h0m1.5 4.2h0m-15.5 23.2h0m18.7-58.5h0m-.1 39.2h0m5.4 6.5h0m-5.6-22.6h0m-10.4 34.5h0m5.4-5.7h0m10.6-53.7h0m-7 29.2h0m-2.7-8.1h0m-9.7 16.1h0m19.4-3.8h0m2.2-3.3h0m-10.9 18.5h0m-14.6 18.2h0m12-8.5h0m-.5-29.1h0m-1.5-13.1h0m2.7 39.8h0m4.7-27.2h0m-11.6 8.2h0m20 4.5h0m-5.9-1.7h0m-12.1-36h0m-2.4 43.8h0m12.1-20.3h0m-2.9-.9h0" stroke="#47c06e" stroke-width="1.75" stroke-linecap="round" stroke-opacity="0.9"/><path d="M73.2 432.4h0m-4.9 26.4h0m-3.8-16h0m-3.3 10.7h0m7.6-6.7h0m-1.6 5.6h0m3.7-7.3h0m7.3 8.4h0m-5.2-.8h0m-.8-3.1h0m-4.9-12.1h0m5.3 8h0m-2.5 10.2h0m-1.6-1.1h0m6.3-2.6h0m.9 3.5h0m-9-10h0m6.3-7.8h0m-5.9 26.4h0m2-3.8h0m-2.3-16.8h0m1.3-7.5h0m-.3 21.2h0m-8.3-5.2h0m2.3-4.2h0m8.8 1.2h0m-1.6 5.3h0" stroke="#31648d" stroke-width="1.75" stroke-linecap="round" stroke-opacity="0.9"/><path d="M59.7 456.3h0m-4.3 11h0m16-21.9h0m-6.6 12.7h0m3.8-12.7h0m-6.3-7.1h0m-8.3 32.9h0m14.2-21.5h0m2.4-.5h0m10.4-14.3h0m-14.4-1.3h0m3.3 17.4h0m-3.8 6.9h0m-1 5.4h0" stroke="#24848d" stroke-width="1.75" stroke-linecap="round" stroke-opacity="0.9"/><path d="M69.3 451h0m2.5-.3h0m-4.2 2.3h0m3-2.9h0m-7.5-12.9h0m10.7 15.4h0m-3.7-4.5h0m-2.2 7.3h0m1.5-.5h0m-13.1 3.2h0m9.9-5.2h0m3.3 16.9h0m-.2-10.5h0m-2.8 2.9h0m4.5-17.9h0" stroke="#277c8e" stroke-width="1.75" stroke-linecap="round" stroke-opacity="0.9"/></g><rect x="31.50" y="408.40" width="77.80" height="83.60" fill="none" stroke="#a8a8a8" stroke-width="0.9"/><line x1="35.04" y1="492.00" x2="35.04" y2="493.60" stroke="#333" stroke-width="0.6"/><text x="35.04" y="500.20" font-size="7.05" text-anchor="middle" fill="#555555" stroke="#555555" stroke-width="0.13">0.50</text><line x1="52.72" y1="492.00" x2="52.72" y2="493.60" stroke="#333" stroke-width="0.6"/><text x="52.72" y="500.20" font-size="7.05" text-anchor="middle" fill="#555555" stroke="#555555" stroke-width="0.13">0.75</text><line x1="70.40" y1="492.00" x2="70.40" y2="493.60" stroke="#333" stroke-width="0.6"/><text x="70.40" y="500.20" font-size="7.05" text-anchor="middle" fill="#555555" stroke="#555555" stroke-width="0.13">1.00</text><line x1="88.08" y1="492.00" x2="88.08" y2="493.60" stroke="#333" stroke-width="0.6"/><text x="88.08" y="500.20" font-size="7.05" text-anchor="middle" fill="#555555" stroke="#555555" stroke-width="0.13">1.25</text><line x1="105.76" y1="492.00" x2="105.76" y2="493.60" stroke="#333" stroke-width="0.6"/><text x="105.76" y="500.20" font-size="7.05" text-anchor="middle" fill="#555555" stroke="#555555" stroke-width="0.13">1.50</text><line x1="29.90" y1="488.20" x2="31.50" y2="488.20" stroke="#333" stroke-width="0.6"/><text x="28.90" y="491.30" font-size="7.05" text-anchor="end" fill="#555555" stroke="#555555" stroke-width="0.13">−0.75</text><line x1="29.90" y1="475.53" x2="31.50" y2="475.53" stroke="#333" stroke-width="0.6"/><text x="28.90" y="478.63" font-size="7.05" text-anchor="end" fill="#555555" stroke="#555555" stroke-width="0.13">−0.50</text><line x1="29.90" y1="462.87" x2="31.50" y2="462.87" stroke="#333" stroke-width="0.6"/><text x="28.90" y="465.97" font-size="7.05" text-anchor="end" fill="#555555" stroke="#555555" stroke-width="0.13">−0.25</text><line x1="29.90" y1="450.20" x2="31.50" y2="450.20" stroke="#333" stroke-width="0.6"/><text x="28.90" y="453.30" font-size="7.05" text-anchor="end" fill="#555555" stroke="#555555" stroke-width="0.13">0.00</text><line x1="29.90" y1="437.53" x2="31.50" y2="437.53" stroke="#333" stroke-width="0.6"/><text x="28.90" y="440.63" font-size="7.05" text-anchor="end" fill="#555555" stroke="#555555" stroke-width="0.13">0.25</text><line x1="29.90" y1="424.87" x2="31.50" y2="424.87" stroke="#333" stroke-width="0.6"/><text x="28.90" y="427.97" font-size="7.05" text-anchor="end" fill="#555555" stroke="#555555" stroke-width="0.13">0.50</text><line x1="29.90" y1="412.20" x2="31.50" y2="412.20" stroke="#333" stroke-width="0.6"/><text x="28.90" y="415.30" font-size="7.05" text-anchor="end" fill="#555555" stroke="#555555" stroke-width="0.13">0.75</text><text x="7.00" y="450.20" font-size="8.10" text-anchor="middle" fill="#1a1a1a" transform="rotate(-90 7.00 450.20)">age correlation</text><text x="70.40" y="508.60" font-size="8.10" text-anchor="middle" fill="#1a1a1a">hazard ratio</text><line x1="177.65" y1="408.40" x2="177.65" y2="492.00" stroke="#a0a0a0" stroke-width="0.55" stroke-dasharray="2.6,1.9"/><line x1="191.75" y1="408.40" x2="191.75" y2="492.00" stroke="#a0a0a0" stroke-width="0.55" stroke-dasharray="2.6,1.9"/><line x1="145.90" y1="446.25" x2="223.50" y2="446.25" stroke="#a0a0a0" stroke-width="0.55" stroke-dasharray="2.6,1.9"/><line x1="145.90" y1="454.15" x2="223.50" y2="454.15" stroke="#a0a0a0" stroke-width="0.55" stroke-dasharray="2.6,1.9"/><clipPath id="ce1"><rect x="145.90" y="408.40" width="77.60" height="83.60"/></clipPath><g clip-path="url(#ce1)"><path d="M179.5 438.7h0m-.5 16.8h0m.7-25h0m8.5 14h0m-6.1 12.6h0m-6.4 29.4h0m3.1-27.6h0m7.1-9.9h0m-8.5 27.7h0m-2-14.9h0m1 17.9h0m5.2-27.4h0" stroke="#a7db33" stroke-width="1.75" stroke-linecap="round" stroke-opacity="0.9"/><path d="M169.3 457h0m2.9 5.9h0m1.6-10.3h0m4.1 5h0m6.9 18.9h0m-6-17.7h0m-11.3 15.7h0m23.3-17.5h0m-13.9-2.3h0" stroke="#39b976" stroke-width="1.75" stroke-linecap="round" stroke-opacity="0.9"/><path d="M179.5 441h0m6.5 2.6h0m-8.7-2.4h0m12.8-15.3h0m-5.3 26.2h0m-8.5-18.1h0m5.4 10h0m-5.9 .6h0m10.5 6.6h0m-7.2-13.2h0m-4.3 1h0m6.9 8.4h0" stroke="#228b8d" stroke-width="1.75" stroke-linecap="round" stroke-opacity="0.9"/><path d="M181.7 456.2h0m-3.3 8.6h0m8.8 5.9h0m-11.4-12.8h0m4.9 1.6h0m.7-26.4h0m-6.5 42.4h0m7-31.5h0m-13.5 38.6h0m13.4-26.2h0m-5.5 5h0m-2.6-13h0" stroke="#e9e419" stroke-width="1.75" stroke-linecap="round" stroke-opacity="0.9"/><path d="M183.3 444.6h0m7-12.6h0m-13.9 24.9h0m11.4 5.6h0m-3.2-20.3h0m-2.6 10.6h0m-3.8-8.5h0m6.2 .5h0m-13.3-.2h0m-3.5 16h0m-1.4-10.8h0m5.2 7.8h0" stroke="#57c665" stroke-width="1.75" stroke-linecap="round" stroke-opacity="0.9"/><path d="M188.4 456.2h0m-4.8-13.9h0m-.2 2h0m-.7 15.8h0m-4.3-16.7h0m7.9 5.7h0m2.5-7.4h0" stroke="#462d7c" stroke-width="1.75" stroke-linecap="round" stroke-opacity="0.9"/><path d="M184.2 460.5h0m-14.4 4.5h0m13.4-30.3h0m-3.3-9.1h0m-.8 17.9h0m8.6 30.7h0m-4.9-34.7h0" stroke="#bfdf24" stroke-width="1.75" stroke-linecap="round" stroke-opacity="0.9"/><path d="M180.5 466h0m-3.7-3h0m.2-2.8h0m6.7-5.5h0m-14.9 13.3h0m5.6-11.5h0m2.8-14.7h0m7.3 24.7h0" stroke="#47c06e" stroke-width="1.75" stroke-linecap="round" stroke-opacity="0.9"/><path d="M186 442.5h0m1.3 4.9h0m-3.9 2.8h0m3.4 4.9h0m-4-13.5h0m6.4 9.2h0m-1.1 1.6h0m-3.5-9.2h0m4.7 5.9h0m-2.8 8.7h0m-5.1-6h0m2.6-7.1h0" stroke="#47186a" stroke-width="1.75" stroke-linecap="round" stroke-opacity="0.9"/><path d="M185.1 454.3h0m9.9 1.8h0m-11-4.7h0m-4.2 .8h0m3.3 2.1h0" stroke="#443781" stroke-width="1.75" stroke-linecap="round" stroke-opacity="0.9"/><path d="M178.1 463.6h0m-9.1-12.5h0m11.2-3h0m2.9 27.7h0m-3.6-50.2h0m-15.5 18.8h0m19.5 15h0m6.3 16.2h0m-19.4-19.2h0m11.3-36.5h0m-4.6 55.4h0m1.2-47.4h0m12.4 43.6h0" stroke="#2eb27c" stroke-width="1.75" stroke-linecap="round" stroke-opacity="0.9"/><path d="M187.1 448.8h0m-4.5 10.7h0m-2.2-6h0m4-5.6h0m6.1 12.3h0m-3.7-9.4h0m-3.3-.3h0m5.3-5.2h0m-4.7 .9h0m5.9 13.1h0m-6.7-10.5h0" stroke="#39548b" stroke-width="1.75" stroke-linecap="round" stroke-opacity="0.9"/><path d="M189.6 448.2h0m-10.1-.9h0m-5.1 22.8h0m-3.6-.8h0m2.8-32.3h0m12.6 13.7h0m-6.5 36.9h0" stroke="#7ed24e" stroke-width="1.75" stroke-linecap="round" stroke-opacity="0.9"/><path d="M196.8 464.6h0m-16.3-15.5h0m11 10.6h0" stroke="#440154" stroke-width="1.75" stroke-linecap="round" stroke-opacity="0.9"/><path d="M180.9 447h0m2.4-6.5h0m.5 10.3h0m-3.2 2.4h0m3.7-3.2h0m.1 7.5h0" stroke="#24848d" stroke-width="1.75" stroke-linecap="round" stroke-opacity="0.9"/><path d="M177.2 440.6h0m4.2 23h0m-9.1-34.1h0m4.1 12.3h0m.6 22.1h0m-6 5.4h0" stroke="#6bcd59" stroke-width="1.75" stroke-linecap="round" stroke-opacity="0.9"/><path d="M174 475.6h0m4-43.5h0m-18.4 26.5h0m24.4 4.1h0m-3.3-26.1h0" stroke="#1e9b89" stroke-width="1.75" stroke-linecap="round" stroke-opacity="0.9"/><path d="M181.4 465.4h0m-8.8-9.4h0m10.3 7.8h0m-10.4-9.8h0m-10.8 7.6h0m20.2 6.4h0m-4.3-22.9h0m-5.9 9.8h0m20.3-15h0m-13.1 34.7h0" stroke="#d4e11a" stroke-width="1.75" stroke-linecap="round" stroke-opacity="0.9"/><path d="M184.7 441.6h0m-5.9 14.7h0m6.9 6.1h0m-2-9.3h0m2.2 2.4h0m.9-6.1h0m3.9 3.8h0m-.8-9.5h0m.3 15.1h0m2.1-3.1h0m-8.9-3h0" stroke="#460c5f" stroke-width="1.75" stroke-linecap="round" stroke-opacity="0.9"/><path d="M178.8 461.2h0m2.6 3.3h0m-8.3-16h0m3.7 8.6h0m-.9-8.6h0m4.5 .1h0m-2.2 12.7h0m-6.6 9h0" stroke="#24aa82" stroke-width="1.75" stroke-linecap="round" stroke-opacity="0.9"/><path d="M192.4 432.8h0m-9 15.5h0m-.6-3.4h0m3.8 4.1h0m.3-.5h0m2.1 1.5h0m4.1-1.7h0m-3.2-8.4h0m-1.2 .5h0" stroke="#31648d" stroke-width="1.75" stroke-linecap="round" stroke-opacity="0.9"/><path d="M188.6 446.5h0m-10.9-3.1h0m5.1 6h0m5.1-2.3h0m-2.8 2.3h0m-1.1 5.9h0m2.5-4.4h0m3.6-6.2h0m-5 7.1h0m-.1-2.9h0" stroke="#482273" stroke-width="1.75" stroke-linecap="round" stroke-opacity="0.9"/><path d="M182.4 433.9h0m-2.7 8.1h0m-2.1 20.1h0" stroke="#2a758e" stroke-width="1.75" stroke-linecap="round" stroke-opacity="0.9"/><path d="M188.9 437.8h0m-8.1 8.1h0m14.3 9.1h0m-7.9 4.4h0m-9.7-18.9h0m13.9 13.7h0m4.2-3.6h0m-8.6 3.1h0m-2.9-8.1h0m3.1 4.8h0m-5.1-3.3h0m-1 3.1h0" stroke="#414186" stroke-width="1.75" stroke-linecap="round" stroke-opacity="0.9"/><path d="M181.1 441.5h0m-23.9 30.7h0m16.2-20.7h0m-5.6-11.3h0m9 30.1h0m6.8-20.6h0m1.6-22.3h0m-6 40.5h0m10.7-31.2h0m-5.2 6.3h0m-6.9 14.4h0m1.9 6.4h0" stroke="#1fa386" stroke-width="1.75" stroke-linecap="round" stroke-opacity="0.9"/><path d="M178.7 455.3h0m-7.2-4.3h0m9.8 21.3h0m4.2-5.5h0m-3.4-14.1h0m3.4 8.2h0m-19.7-10.1h0" stroke="#92d741" stroke-width="1.75" stroke-linecap="round" stroke-opacity="0.9"/><path d="M181.5 443.7h0m.3-1.6h0m6.4 14h0m-6.4-6.1h0m3.1 5.7h0m-2.3-16.3h0m-6.7 10h0m5.1-11.7h0m-4.9 8.4h0" stroke="#1f948b" stroke-width="1.75" stroke-linecap="round" stroke-opacity="0.9"/><path d="M192.7 449.2h0m-6.2 3.2h0m-2.8-1.2h0m11.6-4.3h0m-11.9-4h0m13.1 11.2h0" stroke="#3d4a89" stroke-width="1.75" stroke-linecap="round" stroke-opacity="0.9"/><path d="M187.2 450.6h0m2.3-.9h0m-4.6-1.6h0m.8 2h0m-2.9-8.4h0m5.7 14.3h0m4.9-9.9h0m-4.8-5.7h0m2.1 9.5h0m-4.9-1.7h0m2.9 4.2h0m6.1 3.1h0" stroke="#355c8c" stroke-width="1.75" stroke-linecap="round" stroke-opacity="0.9"/><path d="M182.5 452.9h0m-3.7-11.4h0m-1.6-.2h0m4.3 8.1h0" stroke="#277c8e" stroke-width="1.75" stroke-linecap="round" stroke-opacity="0.9"/><path d="M176.1 442h0m6.5-17.8h0m-6.9 26.2h0" stroke="#fde724" stroke-width="1.75" stroke-linecap="round" stroke-opacity="0.9"/><path d="M179.9 429.2h0m6.2 15.8h0m-4.9 8.3h0m1.8-14.6h0m11.2 17.6h0" stroke="#2e6c8e" stroke-width="1.75" stroke-linecap="round" stroke-opacity="0.9"/></g><rect x="145.90" y="408.40" width="77.60" height="83.60" fill="none" stroke="#a8a8a8" stroke-width="0.9"/><line x1="149.43" y1="492.00" x2="149.43" y2="493.60" stroke="#333" stroke-width="0.6"/><text x="149.43" y="500.20" font-size="7.05" text-anchor="middle" fill="#555555" stroke="#555555" stroke-width="0.13">0.50</text><line x1="167.06" y1="492.00" x2="167.06" y2="493.60" stroke="#333" stroke-width="0.6"/><text x="167.06" y="500.20" font-size="7.05" text-anchor="middle" fill="#555555" stroke="#555555" stroke-width="0.13">0.75</text><line x1="184.70" y1="492.00" x2="184.70" y2="493.60" stroke="#333" stroke-width="0.6"/><text x="184.70" y="500.20" font-size="7.05" text-anchor="middle" fill="#555555" stroke="#555555" stroke-width="0.13">1.00</text><line x1="202.34" y1="492.00" x2="202.34" y2="493.60" stroke="#333" stroke-width="0.6"/><text x="202.34" y="500.20" font-size="7.05" text-anchor="middle" fill="#555555" stroke="#555555" stroke-width="0.13">1.25</text><line x1="219.97" y1="492.00" x2="219.97" y2="493.60" stroke="#333" stroke-width="0.6"/><text x="219.97" y="500.20" font-size="7.05" text-anchor="middle" fill="#555555" stroke="#555555" stroke-width="0.13">1.50</text><line x1="144.30" y1="488.20" x2="145.90" y2="488.20" stroke="#333" stroke-width="0.6"/><text x="143.30" y="491.30" font-size="7.05" text-anchor="end" fill="#555555" stroke="#555555" stroke-width="0.13">−0.75</text><line x1="144.30" y1="475.53" x2="145.90" y2="475.53" stroke="#333" stroke-width="0.6"/><text x="143.30" y="478.63" font-size="7.05" text-anchor="end" fill="#555555" stroke="#555555" stroke-width="0.13">−0.50</text><line x1="144.30" y1="462.87" x2="145.90" y2="462.87" stroke="#333" stroke-width="0.6"/><text x="143.30" y="465.97" font-size="7.05" text-anchor="end" fill="#555555" stroke="#555555" stroke-width="0.13">−0.25</text><line x1="144.30" y1="450.20" x2="145.90" y2="450.20" stroke="#333" stroke-width="0.6"/><text x="143.30" y="453.30" font-size="7.05" text-anchor="end" fill="#555555" stroke="#555555" stroke-width="0.13">0.00</text><line x1="144.30" y1="437.53" x2="145.90" y2="437.53" stroke="#333" stroke-width="0.6"/><text x="143.30" y="440.63" font-size="7.05" text-anchor="end" fill="#555555" stroke="#555555" stroke-width="0.13">0.25</text><line x1="144.30" y1="424.87" x2="145.90" y2="424.87" stroke="#333" stroke-width="0.6"/><text x="143.30" y="427.97" font-size="7.05" text-anchor="end" fill="#555555" stroke="#555555" stroke-width="0.13">0.50</text><line x1="144.30" y1="412.20" x2="145.90" y2="412.20" stroke="#333" stroke-width="0.6"/><text x="143.30" y="415.30" font-size="7.05" text-anchor="end" fill="#555555" stroke="#555555" stroke-width="0.13">0.75</text><text x="121.10" y="450.20" font-size="8.10" text-anchor="middle" fill="#1a1a1a" transform="rotate(-90 121.10 450.20)">age correlation</text><text x="184.70" y="508.60" font-size="8.10" text-anchor="middle" fill="#1a1a1a">hazard ratio</text><line x1="292.65" y1="408.40" x2="292.65" y2="492.00" stroke="#a0a0a0" stroke-width="0.55" stroke-dasharray="2.6,1.9"/><line x1="306.75" y1="408.40" x2="306.75" y2="492.00" stroke="#a0a0a0" stroke-width="0.55" stroke-dasharray="2.6,1.9"/><line x1="260.90" y1="446.25" x2="338.50" y2="446.25" stroke="#a0a0a0" stroke-width="0.55" stroke-dasharray="2.6,1.9"/><line x1="260.90" y1="454.15" x2="338.50" y2="454.15" stroke="#a0a0a0" stroke-width="0.55" stroke-dasharray="2.6,1.9"/><clipPath id="ce2"><rect x="260.90" y="408.40" width="77.60" height="83.60"/></clipPath><g clip-path="url(#ce2)"><path d="M292.1 460.3h0m.8-8.6h0m8.1 17.2h0m-6.7-48.6h0m-4.3 31.6h0m12.5 5.7h0m-14.5 6.6h0m-1.5-18.5h0m12.2 3.5h0m-.5 24.3h0m-5.2-32.1h0m-3.8 32.7h0m13.1-17.4h0m-.6-2h0m-11.8-20.9h0m1.1-20.5h0m12.4 35.9h0m-2.6 21.4h0m-1.6-36.6h0m-6.9 23.5h0m-18.6 6.5h0m25-30.9h0m-5.5-5.7h0m2.1 23.8h0m-4.5 1.4h0m9.4 6.9h0m-8.9 2.1h0" stroke="#a7db33" stroke-width="1.75" stroke-linecap="round" stroke-opacity="0.9"/><path d="M300.4 451.1h0m-4.8-4.9h0m1 6.6h0m-.1-6.9h0m8.6 15.1h0m-4.8-10.1h0m.4-4.4h0" stroke="#31648d" stroke-width="1.75" stroke-linecap="round" stroke-opacity="0.9"/><path d="M306 473.9h0m-4.4-47.5h0m-10.6 26.6h0m8.3-16.3h0m-12.8 28.3h0m15.3-52.5h0m-2.5 43.4h0m.4 4.3h0m-10.1 3.9h0m-2.4-35.9h0m2.9 8h0m-5.7 46.4h0m12.5-33.8h0m-8.3 15.7h0m.4 16.6h0m5.1-43.9h0m-12.1 12.6h0m13.5 21h0m4.6-7.6h0m-5.1-18.2h0m-4.5 4.8h0m-7.9-16.1h0m14.4-.2h0m-14.6 31h0m7.7-3.8h0m5.9-1.8h0m-6-21.6h0m11.3 33h0m1.4-52.9h0m-15.4 19.8h0m3.4 7.4h0m21-.5h0m-13.7 10.7h0m-1.9 23.7h0m6.3-37.7h0m-4.1 24.9h0m4.6-40h0m-8.2 23.2h0m1.3 3.5h0" stroke="#1fa386" stroke-width="1.75" stroke-linecap="round" stroke-opacity="0.9"/><path d="M288.7 439.8h0m4.5 5.2h0m1.5 28.2h0m.7-25h0m-3.3-18h0m4-4.9h0m11.8 42.1h0m16.2-33.9h0m-24.5 22.7h0m-14.7-27.8h0m19.7 20.4h0m-12.1 7.6h0m10.5-26.1h0m-1.3-15.3h0m10.2 23.6h0m-15-.2h0m-5.2 16.3h0m1.1-25.6h0m9.4 26.8h0m-8.6-17.3h0m-1.1 30.4h0m2.1-37.7h0m22.2 14.3h0m-34 22.1h0" stroke="#57c665" stroke-width="1.75" stroke-linecap="round" stroke-opacity="0.9"/><path d="M297.1 455.9h0m.5-.8h0m-2.8-9.4h0m5.5 7.7h0" stroke="#39548b" stroke-width="1.75" stroke-linecap="round" stroke-opacity="0.9"/><path d="M280.4 463.2h0m10.2-.7h0m2.8-28.5h0m2.7 28.7h0m-9.6-1.3h0m11.7-24.6h0m25.1 3.5h0m-35.5 11.3h0m9 3.7h0m4.6-8.2h0m22.7-4.4h0m-42.5 9.1h0m21.1-21.8h0m-16.1 16.4h0m3.8 15.7h0m5.3-7.7h0m-4.3 10.7h0m7-37.7h0" stroke="#2eb27c" stroke-width="1.75" stroke-linecap="round" stroke-opacity="0.9"/><path d="M297.5 447h0m1.4 2.5h0m3.1-5.6h0m-5.7 13.5h0m7.7-37.4h0m-10.4 8.4h0m2.3 18.8h0m-9.7 3.4h0m9.3-29.9h0m27.3 22.6h0m-24.7 36.9h0m5.7-50.7h0m-11.7 23.9h0m11-40.9h0m-12.8 32.6h0m-2.2 30.7h0m5.1-8.6h0m4.8-40.3h0m-21.9 58.2h0m25.4-4.2h0m-.8-40.8h0m-7.5-3.3h0" stroke="#6bcd59" stroke-width="1.75" stroke-linecap="round" stroke-opacity="0.9"/><path d="M301.4 426.6h0m2.7 9.3h0m-14.1 42.6h0m4.7-31.1h0m4.5-18.8h0m-5.1 11.4h0m6.3 36.2h0m-11-31.8h0m4.8-18h0m-7.4 8h0m4.2 11.3h0m3.1 14.1h0m23.3-19.9h0m-25.3-4h0m.5 41.7h0m1.6-46.5h0m-3.5 49.2h0m13.7-10h0m-7.5-43.3h0m1.1 8.1h0m-7.1 12.2h0m-6.2 24h0m12 6.8h0m-1.2-14.9h0m2.5-1h0m-.2-8.5h0m13.2-26.2h0m-13.3-3.8h0" stroke="#92d741" stroke-width="1.75" stroke-linecap="round" stroke-opacity="0.9"/><path d="M299.4 435.1h0m0-6.2h0m-7.2 21.6h0m11.6-36.6h0m-7.8 35.6h0m6.8 15.2h0m-7.4-13h0m-11.4 17.4h0m10.8-30.3h0m7.2-16.2h0m-1.8 38.5h0m13.7-27.1h0m-8.9-1.1h0m22.5 2h0m-37-11.8h0m12.6 5.2h0m3 18.5h0" stroke="#24aa82" stroke-width="1.75" stroke-linecap="round" stroke-opacity="0.9"/><path d="M301.2 421.8h0m-4.1 58.1h0m-5.9-3.1h0m-6-32.5h0m14.4 18.8h0m-8.3 14.3h0m16.6-7.3h0m-8.8-54.5h0m-10.2 36.3h0m15.5-9.8h0m2.7 4.4h0m-10.5 4.7h0m8.1 9.8h0m-13.4-31.4h0m7.3 17.4h0m6.6 1.6h0m-13 35.1h0m13.8-39.4h0m-18.7 14.8h0m24.4-29.7h0m-16.4 49.1h0" stroke="#bfdf24" stroke-width="1.75" stroke-linecap="round" stroke-opacity="0.9"/><path d="M301.3 452h0m-4.1-1.9h0m-3.2-5.3h0m3.9 .9h0" stroke="#2e6c8e" stroke-width="1.75" stroke-linecap="round" stroke-opacity="0.9"/><path d="M299.9 452.8h0m5.5-.5h0m-8.4-13.2h0m-.2 21.2h0" stroke="#3d4a89" stroke-width="1.75" stroke-linecap="round" stroke-opacity="0.9"/><path d="M311.7 450.6h0m-21.1 8.4h0m10.5-36.7h0m-8.9 43.5h0m5.1-29h0m21.7 6.7h0m-22.4 27.5h0m-5.2 10.1h0m-3.9-50.1h0m-3.7 .9h0m2.3 36.3h0m5.9-35.9h0m7.6 12.4h0m-14.8 34.3h0m7.5-23.3h0m3.4 6.3h0m4.9-21.6h0m-6.7 14.2h0m4-27.2h0m-6.4 9.6h0m-5.6 14.8h0m6-4.2h0m10.4-16.7h0m-7.7 22.6h0m2.3-21.4h0" stroke="#39b976" stroke-width="1.75" stroke-linecap="round" stroke-opacity="0.9"/><path d="M303.1 449.4h0m-11.4 8.7h0m6.9-21.7h0m-2.6-6.3h0m18.1 16.3h0m-23.1 19.4h0m-3.2-2.6h0m9.7-28.2h0m-1.7-1.5h0m-.2 17.5h0m-5-7.5h0m-.7 29.8h0m7.1-5.6h0m-6.2-20.2h0m11.7-27.8h0m-6.2 1.9h0m1.7 29.6h0m-15.6 14.4h0m16.7-15.7h0m-12.6 15h0m9-39.8h0m-8.7 40h0m5.2-14.1h0m2-30.4h0m-5.6 30.6h0" stroke="#7ed24e" stroke-width="1.75" stroke-linecap="round" stroke-opacity="0.9"/><path d="M304 445.6h0m-.8-3.8h0m-4.2 7.2h0m-4.6 5.5h0" stroke="#460c5f" stroke-width="1.75" stroke-linecap="round" stroke-opacity="0.9"/><path d="M304 474.4h0m-13 11.7h0m11.3-60.1h0m-8.6 40.4h0m-1.5-14.7h0m8.5 10.6h0m-10.2-25.6h0m.7 14.9h0m6.5-2.5h0m1.1 17.8h0m1.5-28.9h0m-8 14.7h0m5.6-30.6h0m13.9 15.7h0m-25.9 8.1h0m14.8-.2h0" stroke="#47c06e" stroke-width="1.75" stroke-linecap="round" stroke-opacity="0.9"/><path d="M300.5 447.4h0m4 6.1h0m-8.5 .9h0m10-1.7h0" stroke="#414186" stroke-width="1.75" stroke-linecap="round" stroke-opacity="0.9"/><path d="M304.6 462.4h0m-6.2-30.4h0m.9 36.8h0m-4.3-5.6h0m-5.1-26.6h0m-5 1.9h0m15.6 45.4h0m11.5-64.5h0m-22.9 54.4h0m-.2-23.7h0" stroke="#1e9b89" stroke-width="1.75" stroke-linecap="round" stroke-opacity="0.9"/><path d="M290.8 447.1h0m-1.7-3.7h0m-2.6 21h0m13.9-39.6h0m-3.5 45.8h0m-.7-54.7h0m.5 41.3h0m4.4-2.7h0m-13.2 3.9h0m5.2-7.4h0m-2.1-22.8h0m7.4 24.6h0m-8.6-4.6h0m-.9-14.1h0m10.3 39.4h0m-8.6-12.5h0m4.8-10h0" stroke="#d4e11a" stroke-width="1.75" stroke-linecap="round" stroke-opacity="0.9"/><path d="M295.4 444.4h0m-4.5 1.5h0m8 14.2h0" stroke="#462d7c" stroke-width="1.75" stroke-linecap="round" stroke-opacity="0.9"/><path d="M291.8 451.3h0m7.6-3.6h0m2.3 6.2h0m-3.4-8.2h0m-7.2 1.9h0" stroke="#443781" stroke-width="1.75" stroke-linecap="round" stroke-opacity="0.9"/><path d="M296.5 447.9h0m1.7 1.1h0m-5.6 3.9h0m2.3-10h0m7.5 9.8h0m-4.8-4.5h0m-2.2-7.8h0" stroke="#355c8c" stroke-width="1.75" stroke-linecap="round" stroke-opacity="0.9"/><path d="M287.4 456.7h0m-.9-5.4h0m16.7-5.8h0" stroke="#482273" stroke-width="1.75" stroke-linecap="round" stroke-opacity="0.9"/><path d="M323.5 438.7h0" stroke="#e9e419" stroke-width="1.75" stroke-linecap="round" stroke-opacity="0.9"/><path d="M294.8 451.1h0" stroke="#440154" stroke-width="1.75" stroke-linecap="round" stroke-opacity="0.9"/><path d="M290.5 427.9h0m13.1-6.2h0" stroke="#1f948b" stroke-width="1.75" stroke-linecap="round" stroke-opacity="0.9"/><path d="M299.1 462.6h0m-6.9-22.6h0" stroke="#2a758e" stroke-width="1.75" stroke-linecap="round" stroke-opacity="0.9"/><path d="M297 449h0m.9 11.9h0" stroke="#47186a" stroke-width="1.75" stroke-linecap="round" stroke-opacity="0.9"/></g><rect x="260.90" y="408.40" width="77.60" height="83.60" fill="none" stroke="#a8a8a8" stroke-width="0.9"/><line x1="264.43" y1="492.00" x2="264.43" y2="493.60" stroke="#333" stroke-width="0.6"/><text x="264.43" y="500.20" font-size="7.05" text-anchor="middle" fill="#555555" stroke="#555555" stroke-width="0.13">0.50</text><line x1="282.06" y1="492.00" x2="282.06" y2="493.60" stroke="#333" stroke-width="0.6"/><text x="282.06" y="500.20" font-size="7.05" text-anchor="middle" fill="#555555" stroke="#555555" stroke-width="0.13">0.75</text><line x1="299.70" y1="492.00" x2="299.70" y2="493.60" stroke="#333" stroke-width="0.6"/><text x="299.70" y="500.20" font-size="7.05" text-anchor="middle" fill="#555555" stroke="#555555" stroke-width="0.13">1.00</text><line x1="317.34" y1="492.00" x2="317.34" y2="493.60" stroke="#333" stroke-width="0.6"/><text x="317.34" y="500.20" font-size="7.05" text-anchor="middle" fill="#555555" stroke="#555555" stroke-width="0.13">1.25</text><line x1="334.97" y1="492.00" x2="334.97" y2="493.60" stroke="#333" stroke-width="0.6"/><text x="334.97" y="500.20" font-size="7.05" text-anchor="middle" fill="#555555" stroke="#555555" stroke-width="0.13">1.50</text><line x1="259.30" y1="488.20" x2="260.90" y2="488.20" stroke="#333" stroke-width="0.6"/><text x="258.30" y="491.30" font-size="7.05" text-anchor="end" fill="#555555" stroke="#555555" stroke-width="0.13">−0.75</text><line x1="259.30" y1="475.53" x2="260.90" y2="475.53" stroke="#333" stroke-width="0.6"/><text x="258.30" y="478.63" font-size="7.05" text-anchor="end" fill="#555555" stroke="#555555" stroke-width="0.13">−0.50</text><line x1="259.30" y1="462.87" x2="260.90" y2="462.87" stroke="#333" stroke-width="0.6"/><text x="258.30" y="465.97" font-size="7.05" text-anchor="end" fill="#555555" stroke="#555555" stroke-width="0.13">−0.25</text><line x1="259.30" y1="450.20" x2="260.90" y2="450.20" stroke="#333" stroke-width="0.6"/><text x="258.30" y="453.30" font-size="7.05" text-anchor="end" fill="#555555" stroke="#555555" stroke-width="0.13">0.00</text><line x1="259.30" y1="437.53" x2="260.90" y2="437.53" stroke="#333" stroke-width="0.6"/><text x="258.30" y="440.63" font-size="7.05" text-anchor="end" fill="#555555" stroke="#555555" stroke-width="0.13">0.25</text><line x1="259.30" y1="424.87" x2="260.90" y2="424.87" stroke="#333" stroke-width="0.6"/><text x="258.30" y="427.97" font-size="7.05" text-anchor="end" fill="#555555" stroke="#555555" stroke-width="0.13">0.50</text><line x1="259.30" y1="412.20" x2="260.90" y2="412.20" stroke="#333" stroke-width="0.6"/><text x="258.30" y="415.30" font-size="7.05" text-anchor="end" fill="#555555" stroke="#555555" stroke-width="0.13">0.75</text><text x="235.50" y="450.20" font-size="8.10" text-anchor="middle" fill="#1a1a1a" transform="rotate(-90 235.50 450.20)">age correlation</text><text x="299.70" y="508.60" font-size="8.10" text-anchor="middle" fill="#1a1a1a">hazard ratio</text><line x1="406.70" y1="408.40" x2="406.70" y2="492.00" stroke="#a0a0a0" stroke-width="0.55" stroke-dasharray="2.6,1.9"/><line x1="420.80" y1="408.40" x2="420.80" y2="492.00" stroke="#a0a0a0" stroke-width="0.55" stroke-dasharray="2.6,1.9"/><line x1="375.00" y1="446.25" x2="452.50" y2="446.25" stroke="#a0a0a0" stroke-width="0.55" stroke-dasharray="2.6,1.9"/><line x1="375.00" y1="454.15" x2="452.50" y2="454.15" stroke="#a0a0a0" stroke-width="0.55" stroke-dasharray="2.6,1.9"/><clipPath id="ce3"><rect x="375.00" y="408.40" width="77.50" height="83.60"/></clipPath><g clip-path="url(#ce3)"><path d="M409.4 474.7h0m-5.6 4.6h0m.4-2.2h0m5.3-54.4h0" stroke="#92d741" stroke-width="1.75" stroke-linecap="round" stroke-opacity="0.9"/><path d="M409.3 422.3h0m-3.7 58.5h0m-1.3-2.2h0m-7.7-.7h0m13.4-59h0" stroke="#e9e419" stroke-width="1.75" stroke-linecap="round" stroke-opacity="0.9"/><path d="M415.2 420.4h0m-23.3 62.4h0m16.6-60.7h0m4.9-.7h0" stroke="#1fa386" stroke-width="1.75" stroke-linecap="round" stroke-opacity="0.9"/><path d="M410.4 420.6h0m6.7-1.9h0m1.7 7.4h0m-.5-2.3h0m-8.2 56.3h0m-.2-65.5h0" stroke="#39b976" stroke-width="1.75" stroke-linecap="round" stroke-opacity="0.9"/><path d="M427.9 418.6h0m-16.4 58.4h0m-5.9-2.3h0m7.5 5.2h0" stroke="#6bcd59" stroke-width="1.75" stroke-linecap="round" stroke-opacity="0.9"/><path d="M409.5 480.3h0m1.9-3.5h0m2.5-51.7h0m-13 55.6h0" stroke="#57c665" stroke-width="1.75" stroke-linecap="round" stroke-opacity="0.9"/><path d="M396.2 480.3h0m16.8-3.2h0m4.6-55.4h0" stroke="#24aa82" stroke-width="1.75" stroke-linecap="round" stroke-opacity="0.9"/><path d="M409.8 423.3h0m3.4 51.4h0m-8.1 5.8h0m16.3-61h0" stroke="#bfdf24" stroke-width="1.75" stroke-linecap="round" stroke-opacity="0.9"/><path d="M397.9 481.2h0m4.4-61.3h0m-4.1 58.5h0m13.9-50.5h0m-18.6 54h0m6.5-5.1h0m-8.1 5.3h0" stroke="#a7db33" stroke-width="1.75" stroke-linecap="round" stroke-opacity="0.9"/><path d="M410.8 417.2h0m-14.3 62.4h0m5.2-6.3h0m13.1 2.3h0m-2.1-59.1h0" stroke="#47c06e" stroke-width="1.75" stroke-linecap="round" stroke-opacity="0.9"/><path d="M413.6 418.3h0m-1.1 4.3h0m5.1-1.6h0m-22.6 61.5h0m14.4-58.7h0m-7.7 53.5h0" stroke="#7ed24e" stroke-width="1.75" stroke-linecap="round" stroke-opacity="0.9"/><path d="M417.4 429.4h0m-10.6-8.5h0" stroke="#1e9b89" stroke-width="1.75" stroke-linecap="round" stroke-opacity="0.9"/><path d="M413.4 421.5h0m-2.8-.1h0" stroke="#d4e11a" stroke-width="1.75" stroke-linecap="round" stroke-opacity="0.9"/><path d="M411.8 419.6h0m2.8-1.4h0" stroke="#2eb27c" stroke-width="1.75" stroke-linecap="round" stroke-opacity="0.9"/></g><rect x="375.00" y="408.40" width="77.50" height="83.60" fill="none" stroke="#a8a8a8" stroke-width="0.9"/><line x1="378.52" y1="492.00" x2="378.52" y2="493.60" stroke="#333" stroke-width="0.6"/><text x="378.52" y="500.20" font-size="7.05" text-anchor="middle" fill="#555555" stroke="#555555" stroke-width="0.13">0.50</text><line x1="396.14" y1="492.00" x2="396.14" y2="493.60" stroke="#333" stroke-width="0.6"/><text x="396.14" y="500.20" font-size="7.05" text-anchor="middle" fill="#555555" stroke="#555555" stroke-width="0.13">0.75</text><line x1="413.75" y1="492.00" x2="413.75" y2="493.60" stroke="#333" stroke-width="0.6"/><text x="413.75" y="500.20" font-size="7.05" text-anchor="middle" fill="#555555" stroke="#555555" stroke-width="0.13">1.00</text><line x1="431.36" y1="492.00" x2="431.36" y2="493.60" stroke="#333" stroke-width="0.6"/><text x="431.36" y="500.20" font-size="7.05" text-anchor="middle" fill="#555555" stroke="#555555" stroke-width="0.13">1.25</text><line x1="448.98" y1="492.00" x2="448.98" y2="493.60" stroke="#333" stroke-width="0.6"/><text x="448.98" y="500.20" font-size="7.05" text-anchor="middle" fill="#555555" stroke="#555555" stroke-width="0.13">1.50</text><line x1="373.40" y1="488.20" x2="375.00" y2="488.20" stroke="#333" stroke-width="0.6"/><text x="372.40" y="491.30" font-size="7.05" text-anchor="end" fill="#555555" stroke="#555555" stroke-width="0.13">−0.75</text><line x1="373.40" y1="475.53" x2="375.00" y2="475.53" stroke="#333" stroke-width="0.6"/><text x="372.40" y="478.63" font-size="7.05" text-anchor="end" fill="#555555" stroke="#555555" stroke-width="0.13">−0.50</text><line x1="373.40" y1="462.87" x2="375.00" y2="462.87" stroke="#333" stroke-width="0.6"/><text x="372.40" y="465.97" font-size="7.05" text-anchor="end" fill="#555555" stroke="#555555" stroke-width="0.13">−0.25</text><line x1="373.40" y1="450.20" x2="375.00" y2="450.20" stroke="#333" stroke-width="0.6"/><text x="372.40" y="453.30" font-size="7.05" text-anchor="end" fill="#555555" stroke="#555555" stroke-width="0.13">0.00</text><line x1="373.40" y1="437.53" x2="375.00" y2="437.53" stroke="#333" stroke-width="0.6"/><text x="372.40" y="440.63" font-size="7.05" text-anchor="end" fill="#555555" stroke="#555555" stroke-width="0.13">0.25</text><line x1="373.40" y1="424.87" x2="375.00" y2="424.87" stroke="#333" stroke-width="0.6"/><text x="372.40" y="427.97" font-size="7.05" text-anchor="end" fill="#555555" stroke="#555555" stroke-width="0.13">0.50</text><line x1="373.40" y1="412.20" x2="375.00" y2="412.20" stroke="#333" stroke-width="0.6"/><text x="372.40" y="415.30" font-size="7.05" text-anchor="end" fill="#555555" stroke="#555555" stroke-width="0.13">0.75</text><text x="349.90" y="450.20" font-size="8.10" text-anchor="middle" fill="#1a1a1a" transform="rotate(-90 349.90 450.20)">age correlation</text><text x="413.75" y="508.60" font-size="8.10" text-anchor="middle" fill="#1a1a1a">hazard ratio</text><line x1="521.45" y1="408.40" x2="521.45" y2="492.00" stroke="#a0a0a0" stroke-width="0.55" stroke-dasharray="2.6,1.9"/><line x1="535.55" y1="408.40" x2="535.55" y2="492.00" stroke="#a0a0a0" stroke-width="0.55" stroke-dasharray="2.6,1.9"/><line x1="489.70" y1="446.25" x2="567.30" y2="446.25" stroke="#a0a0a0" stroke-width="0.55" stroke-dasharray="2.6,1.9"/><line x1="489.70" y1="454.15" x2="567.30" y2="454.15" stroke="#a0a0a0" stroke-width="0.55" stroke-dasharray="2.6,1.9"/><clipPath id="ce4"><rect x="489.70" y="408.40" width="77.60" height="83.60"/></clipPath><g clip-path="url(#ce4)"><path d="M517 466.6h0m9.3-21.8h0m6.9 6.8h0m-3.4-26.6h0m-8.4 40.8h0m2.2-7.8h0m-12.9 3.4h0m15.1-11.7h0m-13 32.3h0m7.5-24.3h0m6.7-2.6h0m-15.7 3.4h0m13.9-15.1h0m6.7 9.3h0m-28.1 20.9h0m20.3-8.9h0m-10-12.2h0m13.7 5.1h0m-6-4h0m-1 2.4h0m-13.1 1.7h0m3.2-10.9h0m16.5-12.1h0m-11.7 30h0m17.5-39.1h0m-21.3 59.4h0m8.1-32.1h0m1.2-3.8h0m-2.7-1.5h0m6.9 17.6h0m-1.5-22.3h0" stroke="#2eb27c" stroke-width="1.75" stroke-linecap="round" stroke-opacity="0.9"/><path d="M527 429.3h0m-2.3 39.3h0m-15 7.7h0m15.1-50.9h0m-.3 6.2h0m2.8-10.9h0" stroke="#fde724" stroke-width="1.75" stroke-linecap="round" stroke-opacity="0.9"/><path d="M532.9 448.5h0m-1 9.6h0m-2.1-10.5h0m4.5 2.8h0m-6.7-5.6h0m3 7.6h0m-.8 2.4h0m-4-5.9h0m1.3-.1h0m8.2 4.6h0m-6.8-10.9h0m-.6 2.8h0m1.3 5.4h0m-1.9-8.2h0m2 8.6h0m-3.5-1.9h0m6.9-.2h0m1.6 7h0m-2.9 .6h0" stroke="#414186" stroke-width="1.75" stroke-linecap="round" stroke-opacity="0.9"/><path d="M531.3 446.3h0m3.9-16.6h0m-28.3 40.6h0m9.3 1.6h0m2.3-12.2h0m-7.4 9.6h0m-5.2-4.9h0m14.4-6.5h0m5.4 3.6h0" stroke="#6bcd59" stroke-width="1.75" stroke-linecap="round" stroke-opacity="0.9"/><path d="M526.7 460h0m2.2-2.5h0m-12.5-2.8h0m.5 19.1h0m6.5-25.4h0m6.2-.1h0m-4.9 3.3h0m-7.1 15.3h0m-4.4 12.9h0m15-18.3h0m-3.5-34.5h0m-1.6 27.8h0m-10.1 21.5h0m6-14.8h0m.8 1.2h0m-6.5 1.9h0m13.5-20h0m-6.3 15.9h0m9.4 1.4h0m.7 2.5h0m-5-10.3h0m-7.7 13.8h0m14-15.3h0m-19.4 13.6h0m5.4-9.1h0m10.9-31.8h0m-13.7 20.8h0m3.8 29.1h0m-19-12h0" stroke="#39b976" stroke-width="1.75" stroke-linecap="round" stroke-opacity="0.9"/><path d="M520.7 461.2h0m-2.6 2.6h0m-1.7 3.6h0m7-2.8h0m3.6-31.3h0m-3.3 39.6h0m1-14.6h0m-13.1 8.2h0m-.4-.4h0m17.5-25.5h0m-21.2 39.1h0m7.8-23h0m11.8-1.2h0m-12.7 5.9h0m6.1 14h0m-11.7-8.4h0m5.5-3.9h0" stroke="#d4e11a" stroke-width="1.75" stroke-linecap="round" stroke-opacity="0.9"/><path d="M531.4 454.3h0m4.3-2.8h0m-4.7 5.6h0m-.1-6.5h0m-8.3 10h0m1.6-15.3h0m8.4 7.7h0m.3-8.5h0m-8.7 7.6h0m7-.8h0m-2.5-.1h0m-3.2-.2h0m-4.6 .1h0m-4.4-1.8h0m9.5-1.5h0" stroke="#482273" stroke-width="1.75" stroke-linecap="round" stroke-opacity="0.9"/><path d="M517.8 468.4h0m18.9-29.9h0m-11.9-14.4h0m8.8 18.3h0m-7.7 35.3h0m.6-11.9h0m-10.4-22.2h0m3.9 12.9h0m5.9-3.8h0m6.2-8.5h0m-11.6 24.9h0m-6.3-1h0m.6-1.9h0m3.6-.4h0m-10.1 10.4h0m9.4-14.2h0m-.3 7.4h0m9.3-2h0m-2.8-15.8h0m4.2 5.6h0m-14.4 7.5h0m3.5-8.7h0m6.3-3.5h0m8.6 9h0m-16.1-16.5h0m.6 20.6h0m-3.9-7.1h0m11.4 6.8h0m-1.8-13.6h0m-4.9 13.1h0m10.8-22.9h0m-4.2 10.5h0m-5.5-7.1h0" stroke="#47c06e" stroke-width="1.75" stroke-linecap="round" stroke-opacity="0.9"/><path d="M522.9 445.9h0m12 4.8h0m-20 1.3h0m11.2-10.8h0m3.1 19.5h0m3.3-7.1h0m-5.6-6.4h0m-5.4-1.8h0m9.3 3.5h0m-4.5-1h0m5.7-2h0m-3.3 2.6h0m.8-1.6h0" stroke="#355c8c" stroke-width="1.75" stroke-linecap="round" stroke-opacity="0.9"/><path d="M527.2 453.4h0m-3.1-4.4h0m4.8 6.9h0m-2.8 1.8h0m-2.4 2.2h0m10.5-16.5h0m-11.9 6.3h0m.3 10h0m11.3-11.1h0m-1.8 4.4h0m-3.8 3.4h0" stroke="#440154" stroke-width="1.75" stroke-linecap="round" stroke-opacity="0.9"/><path d="M519.4 459.6h0m1.3 8.4h0m2.1 9.5h0m-14.4-18.9h0m16 11.8h0m-4.8-8.6h0m-7.6 11.6h0m-6.2 2.2h0m21.4-32.5h0m-3.1-20.3h0m4.4 46h0m-19.7-13.8h0m3.3 2.3h0" stroke="#92d741" stroke-width="1.75" stroke-linecap="round" stroke-opacity="0.9"/><path d="M529.7 446.1h0m-3.2 6.7h0m2.1-1.8h0m.8-11.5h0m1.4 6.8h0m3.1 11.9h0m-6-7.9h0m4.6-10.1h0m-5.5 15.2h0m1.5-5.6h0m3.3 5.4h0m11.9-5.2h0m-17.4 5.5h0m-7.1-2.9h0m5.1 1.3h0m-.1-5.7h0m3.7 10.1h0m2.7-12.2h0m-4.8 7.9h0" stroke="#47186a" stroke-width="1.75" stroke-linecap="round" stroke-opacity="0.9"/><path d="M523.2 447.7h0m1.7 11.7h0m-5.9 .7h0m2-17.3h0m8.8 5.4h0m-9.9 2h0m24.2-2.7h0m-21-.3h0m12-21h0m-13.5 12.9h0m3.5 16.1h0m8.3-13.3h0m-3.2 9.9h0" stroke="#1e9b89" stroke-width="1.75" stroke-linecap="round" stroke-opacity="0.9"/><path d="M514.2 449.5h0m13.8 6.3h0m-1.9-.3h0m-2.4-10.3h0m-3.8 21.9h0m4.3-21.2h0m-7.1 5.8h0m12.4-13.4h0m-2.2 10.8h0" stroke="#277c8e" stroke-width="1.75" stroke-linecap="round" stroke-opacity="0.9"/><path d="M525.1 452.2h0m7-2.6h0m-1.5 3.8h0m-2.5-1h0m-6.9-12.2h0m5.3 12.1h0m3.2-3h0m-6.2 4.3h0m6.9 0h0m-5.5-14.1h0m6 12.8h0m.6 2h0m-8.9-9.3h0m4.6 16.6h0m-1.6-16.3h0m1 4.8h0m-2.4-3.8h0m8.7 .5h0m-4.3 5.3h0m-3.4 .2h0m5.9-.8h0m.5-3h0m-7.2-5.7h0m-5.7 12.4h0m13.7-4.5h0" stroke="#39548b" stroke-width="1.75" stroke-linecap="round" stroke-opacity="0.9"/><path d="M523.7 445.2h0m10.6-17.9h0m-14.3 28.2h0m10.6 6.1h0m-2.6-8.3h0m-2.8 10.3h0m-7.3-5.6h0m2.5 2.9h0m-.1-7.1h0m9.4-10.5h0m-6.3 .5h0m4.4-12.1h0m-.9 23.8h0m-3.1-15.3h0m3.5 15.5h0m.6-2.1h0m-1.8-25.1h0m-2.2 30.3h0m2 4.4h0" stroke="#1fa386" stroke-width="1.75" stroke-linecap="round" stroke-opacity="0.9"/><path d="M523.7 437.9h0m-2.2 23.3h0m8.2-30.1h0m-1.8 26.2h0m-6.9-2.9h0m2.5-17.8h0m-4.3 10.8h0m-8.3 9.4h0m22.9-9.8h0m-4.7-1.4h0m-.9 12.8h0m-3.9-7.8h0m0 .3h0m-3.2 6.2h0" stroke="#24848d" stroke-width="1.75" stroke-linecap="round" stroke-opacity="0.9"/><path d="M533.9 445.6h0m-9.8 4.9h0m2.4-8.4h0m-3.4 5.6h0m3.7 .8h0m2.9-.9h0m-1.3 5.5h0m-11.6-6.1h0m15.6 3.4h0m-1-5.5h0m-6 2.9h0m-1.7 3.2h0m6.1 5.9h0m3-1.3h0m-4.5 2.2h0m10.3-10.9h0" stroke="#460c5f" stroke-width="1.75" stroke-linecap="round" stroke-opacity="0.9"/><path d="M530.5 454.9h0m2.2-3.9h0m-.1-5.7h0m-10.6 8.1h0m2.8-5.4h0m8.6 3.9h0m-7.2-2h0m3.1 3.5h0m-4.3 1.7h0m3.2-2h0m-2.1 4.1h0m10.2-5h0m-7.2-3.9h0" stroke="#443781" stroke-width="1.75" stroke-linecap="round" stroke-opacity="0.9"/><path d="M518.9 471.9h0m-3.8-19.5h0m8.1 2.7h0m10.1-9h0m-4.4 19.6h0m1.9-16.1h0m-12.2 2.4h0m.7 1.4h0m1.2 12.3h0m.4-31.6h0m-1.6 45.2h0" stroke="#7ed24e" stroke-width="1.75" stroke-linecap="round" stroke-opacity="0.9"/><path d="M523.8 447.5h0m5.4 .5h0m5.2 4.9h0m-11.2-10h0m1.5 8.8h0m2.2 2.8h0m-.3-6.2h0m6.9 .6h0m-9.3 5.1h0m12.9 3.2h0m-6.9-20.4h0m-1.6 16.6h0m13-1.6h0m-10.3-1.9h0m-7.8 6h0m4.7-6h0m6.9 3.3h0m-11.9-1.6h0m6.7-2.1h0m3.7-.8h0m-6.5 1.1h0m7.2 2.3h0m-7 1h0m.6-3.2h0m8.5 6.3h0m-7.2 1.8h0m-2-12.3h0m1 15.4h0m-3.7-9.7h0m2.2 2.1h0" stroke="#462d7c" stroke-width="1.75" stroke-linecap="round" stroke-opacity="0.9"/><path d="M514.2 461.6h0m-11.5 16.4h0m26.6-16.2h0m-11.7 3.1h0m-5.9 14.2h0m-5.3-10.3h0m24.8 .5h0m6.1-41.3h0m-29.4 23.5h0" stroke="#a7db33" stroke-width="1.75" stroke-linecap="round" stroke-opacity="0.9"/><path d="M527.2 426.6h0m1.3 15.9h0m-5.2 10.1h0m5 3.8h0m-2.7-3.9h0m5.6-11.7h0m-3.2 11.3h0m-2.4 .3h0m-11.3 2h0m14.7-6.1h0m-4.5 2.5h0" stroke="#1f948b" stroke-width="1.75" stroke-linecap="round" stroke-opacity="0.9"/><path d="M534.6 430.2h0m-17.5 8.3h0m2.8 13.7h0m8.6-6.2h0m6.5 9.1h0m-20.3-8h0m-1.4 11h0m6.4-3.9h0m-.4-7.5h0m1.1 32.5h0m-14.4-16.6h0m13.4-9.2h0m3.7-22h0m6.6 23h0m-1.2-16.3h0m-12.7 16.7h0m6.3-4.1h0m4.4-8.4h0m2.1 1.2h0m-7.2 26.8h0m-5-2h0m-1.9-15.6h0" stroke="#57c665" stroke-width="1.75" stroke-linecap="round" stroke-opacity="0.9"/><path d="M516.5 455.6h0m8.5-2.7h0m-5.8 16.3h0m5.9-16.6h0m-14.8 9h0m13.7-7h0m-8.1-2h0m5.2-.5h0m7.5 8.9h0m-.7-36h0m-11.8 10.1h0m2.8 29.4h0m6.6-18.1h0m3.5-1.5h0m-6.7 14.4h0m7.9-37.8h0m-8 40.4h0" stroke="#24aa82" stroke-width="1.75" stroke-linecap="round" stroke-opacity="0.9"/><path d="M534.4 443.3h0m-14.6 11.2h0m13.6-19.6h0m-6.9 23h0m-.8 8.4h0m6-.2h0m-20.7-1.5h0m10.8 9.9h0m-4.6-16.5h0" stroke="#e9e419" stroke-width="1.75" stroke-linecap="round" stroke-opacity="0.9"/><path d="M534 452.6h0m-13.3-.8h0m8.5-1.4h0m2.3 3.3h0m-7.2 2.4h0m3.8-6.1h0m2.5-9.3h0m-2.3 5.6h0m-2.9 7.4h0" stroke="#3d4a89" stroke-width="1.75" stroke-linecap="round" stroke-opacity="0.9"/><path d="M516.5 444.5h0m4.6 20.7h0m-11.4 1h0m-6.8 19.2h0m9.2-26.2h0m11.1 5h0m-1.6-25.7h0" stroke="#bfdf24" stroke-width="1.75" stroke-linecap="round" stroke-opacity="0.9"/><path d="M520.8 448.1h0m4.1-1.5h0m.7 2h0m8-4.9h0m-11.3 19.5h0" stroke="#228b8d" stroke-width="1.75" stroke-linecap="round" stroke-opacity="0.9"/></g><rect x="489.70" y="408.40" width="77.60" height="83.60" fill="none" stroke="#a8a8a8" stroke-width="0.9"/><line x1="493.23" y1="492.00" x2="493.23" y2="493.60" stroke="#333" stroke-width="0.6"/><text x="493.23" y="500.20" font-size="7.05" text-anchor="middle" fill="#555555" stroke="#555555" stroke-width="0.13">0.50</text><line x1="510.86" y1="492.00" x2="510.86" y2="493.60" stroke="#333" stroke-width="0.6"/><text x="510.86" y="500.20" font-size="7.05" text-anchor="middle" fill="#555555" stroke="#555555" stroke-width="0.13">0.75</text><line x1="528.50" y1="492.00" x2="528.50" y2="493.60" stroke="#333" stroke-width="0.6"/><text x="528.50" y="500.20" font-size="7.05" text-anchor="middle" fill="#555555" stroke="#555555" stroke-width="0.13">1.00</text><line x1="546.14" y1="492.00" x2="546.14" y2="493.60" stroke="#333" stroke-width="0.6"/><text x="546.14" y="500.20" font-size="7.05" text-anchor="middle" fill="#555555" stroke="#555555" stroke-width="0.13">1.25</text><line x1="563.77" y1="492.00" x2="563.77" y2="493.60" stroke="#333" stroke-width="0.6"/><text x="563.77" y="500.20" font-size="7.05" text-anchor="middle" fill="#555555" stroke="#555555" stroke-width="0.13">1.50</text><line x1="488.10" y1="488.20" x2="489.70" y2="488.20" stroke="#333" stroke-width="0.6"/><text x="487.10" y="491.30" font-size="7.05" text-anchor="end" fill="#555555" stroke="#555555" stroke-width="0.13">−0.75</text><line x1="488.10" y1="475.53" x2="489.70" y2="475.53" stroke="#333" stroke-width="0.6"/><text x="487.10" y="478.63" font-size="7.05" text-anchor="end" fill="#555555" stroke="#555555" stroke-width="0.13">−0.50</text><line x1="488.10" y1="462.87" x2="489.70" y2="462.87" stroke="#333" stroke-width="0.6"/><text x="487.10" y="465.97" font-size="7.05" text-anchor="end" fill="#555555" stroke="#555555" stroke-width="0.13">−0.25</text><line x1="488.10" y1="450.20" x2="489.70" y2="450.20" stroke="#333" stroke-width="0.6"/><text x="487.10" y="453.30" font-size="7.05" text-anchor="end" fill="#555555" stroke="#555555" stroke-width="0.13">0.00</text><line x1="488.10" y1="437.53" x2="489.70" y2="437.53" stroke="#333" stroke-width="0.6"/><text x="487.10" y="440.63" font-size="7.05" text-anchor="end" fill="#555555" stroke="#555555" stroke-width="0.13">0.25</text><line x1="488.10" y1="424.87" x2="489.70" y2="424.87" stroke="#333" stroke-width="0.6"/><text x="487.10" y="427.97" font-size="7.05" text-anchor="end" fill="#555555" stroke="#555555" stroke-width="0.13">0.50</text><line x1="488.10" y1="412.20" x2="489.70" y2="412.20" stroke="#333" stroke-width="0.6"/><text x="487.10" y="415.30" font-size="7.05" text-anchor="end" fill="#555555" stroke="#555555" stroke-width="0.13">0.75</text><text x="464.70" y="450.20" font-size="8.10" text-anchor="middle" fill="#1a1a1a" transform="rotate(-90 464.70 450.20)">age correlation</text><text x="528.50" y="508.60" font-size="8.10" text-anchor="middle" fill="#1a1a1a">hazard ratio</text><line x1="635.94" y1="408.40" x2="635.94" y2="492.00" stroke="#a0a0a0" stroke-width="0.55" stroke-dasharray="2.6,1.9"/><line x1="649.96" y1="408.40" x2="649.96" y2="492.00" stroke="#a0a0a0" stroke-width="0.55" stroke-dasharray="2.6,1.9"/><line x1="604.40" y1="446.25" x2="681.50" y2="446.25" stroke="#a0a0a0" stroke-width="0.55" stroke-dasharray="2.6,1.9"/><line x1="604.40" y1="454.15" x2="681.50" y2="454.15" stroke="#a0a0a0" stroke-width="0.55" stroke-dasharray="2.6,1.9"/><clipPath id="ce5"><rect x="604.40" y="408.40" width="77.10" height="83.60"/></clipPath><g clip-path="url(#ce5)"><path d="M651.7 434.6h0m-9.2 26.6h0m-1.2 .3h0m7.6-7.5h0m-.7 5.5h0m-2.3-1.1h0m-2.7-18.4h0m.5 4.8h0m-18.9 35.3h0m7.8-32.1h0m10.4-11.2h0m7.4-16.9h0" stroke="#39b976" stroke-width="1.75" stroke-linecap="round" stroke-opacity="0.9"/><path d="M663.1 414.6h0m-17.3 26.8h0m8.3-16.7h0m-14.5 27h0m-1 7.5h0m-6.6 15.3h0m3.5-20.4h0" stroke="#d4e11a" stroke-width="1.75" stroke-linecap="round" stroke-opacity="0.9"/><path d="M640.6 453.9h0m-.1-2.8h0" stroke="#3d4a89" stroke-width="1.75" stroke-linecap="round" stroke-opacity="0.9"/><path d="M655.1 434.6h0m-6.5 4.2h0m-10.3 17.4h0m-8.4 5h0m5.4-10h0m25.7-28.1h0" stroke="#7ed24e" stroke-width="1.75" stroke-linecap="round" stroke-opacity="0.9"/><path d="M651.9 434.5h0m-7 8.9h0m-8.5 12.4h0m9.8-7.7h0m-6.6 8.9h0m2.8-8.4h0" stroke="#228b8d" stroke-width="1.75" stroke-linecap="round" stroke-opacity="0.9"/><path d="M637.6 450.8h0m24.2-22.4h0m-20.9 23.9h0m6.5-22.5h0m-17.9 39.6h0m12.9-17.1h0m-14.1 11.6h0m15.3-13.4h0m-.4 3.1h0m.4-6.7h0m8.5-20h0m-5.7 11.9h0m-18.3 15.3h0m5.3 13.7h0m12.3-27h0" stroke="#6bcd59" stroke-width="1.75" stroke-linecap="round" stroke-opacity="0.9"/><path d="M641.4 450.3h0" stroke="#47186a" stroke-width="1.75" stroke-linecap="round" stroke-opacity="0.9"/><path d="M643.8 437.6h0m-11 24.2h0m18.5-14h0m-21.5 8.7h0m8.4 2.2h0m29.5-40.2h0m-36.3 55.8h0" stroke="#92d741" stroke-width="1.75" stroke-linecap="round" stroke-opacity="0.9"/><path d="M645.5 446.3h0m17.4-26.5h0m-40.2 56.3h0m17.1-23.6h0m-17 22.2h0m39-45.5h0m-13.2 18.9h0m-6.2 4.2h0" stroke="#57c665" stroke-width="1.75" stroke-linecap="round" stroke-opacity="0.9"/><path d="M641.9 461.3h0m-24.3 8.7h0m21.4-13.6h0m3.6 2.5h0m-11.5-4.4h0m20.6-7.8h0m-19.6 7.6h0m10 2.4h0m-8.4 3.3h0m-4.7-5.7h0" stroke="#2eb27c" stroke-width="1.75" stroke-linecap="round" stroke-opacity="0.9"/><path d="M642.3 444h0m-8.3 11h0m1-5.8h0m-2.1 7.1h0m2.3 6.4h0m12.6-10.7h0m-13.1 .6h0m11.6-5.1h0m-8.7 3.5h0m-8.9 8.9h0" stroke="#e9e419" stroke-width="1.75" stroke-linecap="round" stroke-opacity="0.9"/><path d="M627.5 465.5h0m16.7-19.1h0m-5.2 14.6h0m23.8-31.7h0m-16.3 29.6h0m-12.7 3.2h0m24.1-30.5h0m-17.5 9.4h0m2 7.2h0" stroke="#47c06e" stroke-width="1.75" stroke-linecap="round" stroke-opacity="0.9"/><path d="M636.1 452.3h0m-2.4 19h0m-3.8-2.9h0m17.8-18.3h0" stroke="#fde724" stroke-width="1.75" stroke-linecap="round" stroke-opacity="0.9"/><path d="M640.5 447.9h0" stroke="#2e6c8e" stroke-width="1.75" stroke-linecap="round" stroke-opacity="0.9"/><path d="M645.6 444.7h0" stroke="#31648d" stroke-width="1.75" stroke-linecap="round" stroke-opacity="0.9"/><path d="M638.7 434.9h0m-3 17h0m19.8-19.2h0m-21.8 27.5h0m20.1-24.5h0m-24.1 23.1h0m18-13h0m.4 13.3h0" stroke="#24aa82" stroke-width="1.75" stroke-linecap="round" stroke-opacity="0.9"/><path d="M638.5 461.7h0m1.4-17.9h0m-13.5 22.2h0m15.7-16.9h0m-3.1 4h0" stroke="#bfdf24" stroke-width="1.75" stroke-linecap="round" stroke-opacity="0.9"/><path d="M644.9 454.9h0m-2.5-7.6h0" stroke="#24848d" stroke-width="1.75" stroke-linecap="round" stroke-opacity="0.9"/><path d="M642.9 450.8h0m1.1-1h0" stroke="#462d7c" stroke-width="1.75" stroke-linecap="round" stroke-opacity="0.9"/><path d="M636.6 457.2h0" stroke="#2a758e" stroke-width="1.75" stroke-linecap="round" stroke-opacity="0.9"/><path d="M646.9 444.5h0m2 10.8h0m-6.5-16.8h0m7 6.6h0m-2.8-.8h0m-4.6-4.7h0m-18 40.7h0m25.1-21.7h0" stroke="#a7db33" stroke-width="1.75" stroke-linecap="round" stroke-opacity="0.9"/><path d="M656.4 444.5h0m-4.6 0h0" stroke="#277c8e" stroke-width="1.75" stroke-linecap="round" stroke-opacity="0.9"/><path d="M646.9 452h0" stroke="#440154" stroke-width="1.75" stroke-linecap="round" stroke-opacity="0.9"/><path d="M636.3 446.9h0m3 9.3h0" stroke="#482273" stroke-width="1.75" stroke-linecap="round" stroke-opacity="0.9"/><path d="M643.9 440.2h0m5.5-.4h0m-13.5 12.9h0m.4 8.2h0" stroke="#355c8c" stroke-width="1.75" stroke-linecap="round" stroke-opacity="0.9"/><path d="M640.5 453.2h0" stroke="#414186" stroke-width="1.75" stroke-linecap="round" stroke-opacity="0.9"/></g><rect x="604.40" y="408.40" width="77.10" height="83.60" fill="none" stroke="#a8a8a8" stroke-width="0.9"/><line x1="607.90" y1="492.00" x2="607.90" y2="493.60" stroke="#333" stroke-width="0.6"/><text x="607.90" y="500.20" font-size="7.05" text-anchor="middle" fill="#555555" stroke="#555555" stroke-width="0.13">0.50</text><line x1="625.43" y1="492.00" x2="625.43" y2="493.60" stroke="#333" stroke-width="0.6"/><text x="625.43" y="500.20" font-size="7.05" text-anchor="middle" fill="#555555" stroke="#555555" stroke-width="0.13">0.75</text><line x1="642.95" y1="492.00" x2="642.95" y2="493.60" stroke="#333" stroke-width="0.6"/><text x="642.95" y="500.20" font-size="7.05" text-anchor="middle" fill="#555555" stroke="#555555" stroke-width="0.13">1.00</text><line x1="660.47" y1="492.00" x2="660.47" y2="493.60" stroke="#333" stroke-width="0.6"/><text x="660.47" y="500.20" font-size="7.05" text-anchor="middle" fill="#555555" stroke="#555555" stroke-width="0.13">1.25</text><line x1="678.00" y1="492.00" x2="678.00" y2="493.60" stroke="#333" stroke-width="0.6"/><text x="678.00" y="500.20" font-size="7.05" text-anchor="middle" fill="#555555" stroke="#555555" stroke-width="0.13">1.50</text><line x1="602.80" y1="488.20" x2="604.40" y2="488.20" stroke="#333" stroke-width="0.6"/><text x="601.80" y="491.30" font-size="7.05" text-anchor="end" fill="#555555" stroke="#555555" stroke-width="0.13">−0.75</text><line x1="602.80" y1="475.53" x2="604.40" y2="475.53" stroke="#333" stroke-width="0.6"/><text x="601.80" y="478.63" font-size="7.05" text-anchor="end" fill="#555555" stroke="#555555" stroke-width="0.13">−0.50</text><line x1="602.80" y1="462.87" x2="604.40" y2="462.87" stroke="#333" stroke-width="0.6"/><text x="601.80" y="465.97" font-size="7.05" text-anchor="end" fill="#555555" stroke="#555555" stroke-width="0.13">−0.25</text><line x1="602.80" y1="450.20" x2="604.40" y2="450.20" stroke="#333" stroke-width="0.6"/><text x="601.80" y="453.30" font-size="7.05" text-anchor="end" fill="#555555" stroke="#555555" stroke-width="0.13">0.00</text><line x1="602.80" y1="437.53" x2="604.40" y2="437.53" stroke="#333" stroke-width="0.6"/><text x="601.80" y="440.63" font-size="7.05" text-anchor="end" fill="#555555" stroke="#555555" stroke-width="0.13">0.25</text><line x1="602.80" y1="424.87" x2="604.40" y2="424.87" stroke="#333" stroke-width="0.6"/><text x="601.80" y="427.97" font-size="7.05" text-anchor="end" fill="#555555" stroke="#555555" stroke-width="0.13">0.50</text><line x1="602.80" y1="412.20" x2="604.40" y2="412.20" stroke="#333" stroke-width="0.6"/><text x="601.80" y="415.30" font-size="7.05" text-anchor="end" fill="#555555" stroke="#555555" stroke-width="0.13">0.75</text><text x="580.00" y="450.20" font-size="8.10" text-anchor="middle" fill="#1a1a1a" transform="rotate(-90 580.00 450.20)">age correlation</text><text x="642.95" y="508.60" font-size="8.10" text-anchor="middle" fill="#1a1a1a">hazard ratio</text><text x="5.90" y="413.80" font-size="8.80" text-anchor="start" fill="#000" font-weight="bold">e</text><line x1="31.50" y1="554.32" x2="109.30" y2="554.32" stroke="#a0a0a0" stroke-width="0.55" stroke-dasharray="2.6,1.9"/><line x1="31.50" y1="562.19" x2="109.30" y2="562.19" stroke="#a0a0a0" stroke-width="0.55" stroke-dasharray="2.6,1.9"/><clipPath id="cf0"><rect x="31.50" y="516.40" width="77.80" height="83.20"/></clipPath><g clip-path="url(#cf0)"><path d="M35.8 551.7h0m21.7-8.4h0m4.1 12.9h0m33.5 7.7h0m-27.4-9.3h0m-11.9 16.7h0m-3.7 .6h0m34.8-29.6h0m-50.9 17.3h0" stroke="#fde724" stroke-width="1.75" stroke-linecap="round" stroke-opacity="0.75"/><path d="M38.7 559.2h0m17.3-19.8h0m4.8 37.1h0m-3.2-24.1h0m25.9 9.8h0m11.9 3h0m-24.2-23.7h0m8.2 8.1h0m-16 17.8h0m30.9-10.6h0m-54.3-11.2h0m8.6 21.9h0m32.5 .5h0m-12.4 7.1h0m-.5-.3h0m-4.7-30h0m18.7 17.9h0m2.7-7h0m-1.2 2.6h0m-46 .2h0m66.2-5.4h0m-63.9 19.1h0" stroke="#57c665" stroke-width="1.75" stroke-linecap="round" stroke-opacity="0.75"/><path d="M38.4 557.6h0m38.6-4.6h0m-8.9 2.1h0m7.2 19.9h0m-34.2-22.6h0m14.8 2.6h0m32.2-2h0m-12.2 40.2h0m11.4-20.5h0m3.1-22.5h0m11.6-13.8h0m-11.2 31.2h0m13.5 4.1h0m-55.9-27.2h0m50.9 11.6h0m-46.8-11.3h0m26.7 5.1h0m-23 7.5h0m34.1 2.6h0m-32.1 23.9h0m-8.3-12.8h0m51.5-18.7h0m-58.7-8.2h0m50.7 17.3h0" stroke="#d4e11a" stroke-width="1.75" stroke-linecap="round" stroke-opacity="0.75"/><path d="M57.9 566h0m5.7-16.3h0m-1.8 26.2h0m26.2-18.3h0m2.5-33.8h0m-36.7 47.4h0m-14.7 9.9h0m18.4-41.9h0m36.1 22h0m-37.1-30.9h0m-17.4 29.9h0m24.6-7.2h0m37.2-4.4h0" stroke="#92d741" stroke-width="1.75" stroke-linecap="round" stroke-opacity="0.75"/><path d="M86.6 557.2h0m-9-4.7h0m22.2-15.5h0m-56.9 40.5h0m7.7-5h0m-9.4-32.2h0m61.4 43.9h0m-38.2-29.6h0m6.6 8.6h0m24.2-9.9h0m-36.4 11.3h0m5.5 2.5h0m-23.3 12.2h0" stroke="#7ed24e" stroke-width="1.75" stroke-linecap="round" stroke-opacity="0.75"/><path d="M78.8 550.4h0m-38.5 19.9h0m32.1-39.9h0m-31.4 33h0m62.5-40.2h0m-32.6 52.1h0m23.3-18.3h0m-6.9 10.7h0m-21.9-6.3h0m7.6-8.9h0m-6.4 10.7h0m0 13.1h0m-6-24h0m15.6 7.4h0m3 10.8h0m23-29h0m-65.9 2.9h0m35.7 3.6h0" stroke="#bfdf24" stroke-width="1.75" stroke-linecap="round" stroke-opacity="0.75"/><path d="M95.9 563.2h0" stroke="#1fa386" stroke-width="1.75" stroke-linecap="round" stroke-opacity="0.75"/><path d="M50.7 565.3h0m38 8.4h0m-44.6-35.4h0m9.9 6.4h0m37 44.8h0m12.4-37.6h0m-54.3-3.9h0m33.9 9.2h0m-3.2-5.6h0m-4.2 19.2h0m2.7-8.2h0m-37.1-12.9h0m43.1 15.7h0m-41.9-8.3h0m34.1 2.7h0m-24.5 10.7h0m19.5-6.9h0" stroke="#6bcd59" stroke-width="1.75" stroke-linecap="round" stroke-opacity="0.75"/><path d="M100.3 568.8h0m-23.5-27.7h0m3.6 13.9h0m-33 2.2h0m4.8 30.1h0m11.1-43h0m-3.3 10.8h0m32 5.7h0m-43.2-.1h0m11.3 7.6h0m11.1-30.2h0m-17.1 31.1h0m21.5-5.4h0m-1.1-6.9h0m.9 7.3h0" stroke="#e9e419" stroke-width="1.75" stroke-linecap="round" stroke-opacity="0.75"/><path d="M84.6 565.8h0" stroke="#24848d" stroke-width="1.75" stroke-linecap="round" stroke-opacity="0.75"/><path d="M84.4 555.8h0m-13.7-14.8h0m32.7 12.1h0m-16.5 8.8h0m-2 1.8h0m-4-20.6h0m-30.5 14.3h0m-2-4.1h0m36.2 6.4h0m8-20.6h0m-23.5 9.9h0m-27.6 11.6h0m18 15.8h0m28.9 18h0m-38.2-48.7h0m53.3 27.5h0" stroke="#a7db33" stroke-width="1.75" stroke-linecap="round" stroke-opacity="0.75"/><path d="M40.4 571h0m43.1 5.4h0" stroke="#47c06e" stroke-width="1.75" stroke-linecap="round" stroke-opacity="0.75"/><path d="M52.8 561.1h0m-2.1 .1h0" stroke="#47186a" stroke-width="1.75" stroke-linecap="round" stroke-opacity="0.75"/><path d="M42 538.5h0m23.3 5.7h0m-23 3.4h0" stroke="#24aa82" stroke-width="1.75" stroke-linecap="round" stroke-opacity="0.75"/><path d="M45.5 558.9h0m4.9 2.3h0" stroke="#462d7c" stroke-width="1.75" stroke-linecap="round" stroke-opacity="0.75"/><path d="M97.6 552.6h0" stroke="#1e9b89" stroke-width="1.75" stroke-linecap="round" stroke-opacity="0.75"/><path d="M83.8 581.9h0m-41.9-12.6h0" stroke="#277c8e" stroke-width="1.75" stroke-linecap="round" stroke-opacity="0.75"/><path d="M69.2 547.6h0" stroke="#2eb27c" stroke-width="1.75" stroke-linecap="round" stroke-opacity="0.75"/><path d="M57.5 553.3h0" stroke="#228b8d" stroke-width="1.75" stroke-linecap="round" stroke-opacity="0.75"/></g><rect x="31.50" y="516.40" width="77.80" height="83.20" fill="none" stroke="#a8a8a8" stroke-width="0.9"/><line x1="33.31" y1="599.60" x2="33.31" y2="601.20" stroke="#333" stroke-width="0.6"/><text x="33.31" y="607.80" font-size="7.05" text-anchor="middle" fill="#555555" stroke="#555555" stroke-width="0.13">0.00</text><line x1="51.46" y1="599.60" x2="51.46" y2="601.20" stroke="#333" stroke-width="0.6"/><text x="51.46" y="607.80" font-size="7.05" text-anchor="middle" fill="#555555" stroke="#555555" stroke-width="0.13">0.25</text><line x1="69.60" y1="599.60" x2="69.60" y2="601.20" stroke="#333" stroke-width="0.6"/><text x="69.60" y="607.80" font-size="7.05" text-anchor="middle" fill="#555555" stroke="#555555" stroke-width="0.13">0.50</text><line x1="87.75" y1="599.60" x2="87.75" y2="601.20" stroke="#333" stroke-width="0.6"/><text x="87.75" y="607.80" font-size="7.05" text-anchor="middle" fill="#555555" stroke="#555555" stroke-width="0.13">0.75</text><line x1="105.89" y1="599.60" x2="105.89" y2="601.20" stroke="#333" stroke-width="0.6"/><text x="105.89" y="607.80" font-size="7.05" text-anchor="middle" fill="#555555" stroke="#555555" stroke-width="0.13">1.00</text><line x1="29.90" y1="596.07" x2="31.50" y2="596.07" stroke="#333" stroke-width="0.6"/><text x="28.90" y="599.17" font-size="7.05" text-anchor="end" fill="#555555" stroke="#555555" stroke-width="0.13">−0.75</text><line x1="29.90" y1="583.46" x2="31.50" y2="583.46" stroke="#333" stroke-width="0.6"/><text x="28.90" y="586.56" font-size="7.05" text-anchor="end" fill="#555555" stroke="#555555" stroke-width="0.13">−0.50</text><line x1="29.90" y1="570.86" x2="31.50" y2="570.86" stroke="#333" stroke-width="0.6"/><text x="28.90" y="573.96" font-size="7.05" text-anchor="end" fill="#555555" stroke="#555555" stroke-width="0.13">−0.25</text><line x1="29.90" y1="558.25" x2="31.50" y2="558.25" stroke="#333" stroke-width="0.6"/><text x="28.90" y="561.35" font-size="7.05" text-anchor="end" fill="#555555" stroke="#555555" stroke-width="0.13">0.00</text><line x1="29.90" y1="545.65" x2="31.50" y2="545.65" stroke="#333" stroke-width="0.6"/><text x="28.90" y="548.75" font-size="7.05" text-anchor="end" fill="#555555" stroke="#555555" stroke-width="0.13">0.25</text><line x1="29.90" y1="533.04" x2="31.50" y2="533.04" stroke="#333" stroke-width="0.6"/><text x="28.90" y="536.14" font-size="7.05" text-anchor="end" fill="#555555" stroke="#555555" stroke-width="0.13">0.50</text><line x1="29.90" y1="520.43" x2="31.50" y2="520.43" stroke="#333" stroke-width="0.6"/><text x="28.90" y="523.53" font-size="7.05" text-anchor="end" fill="#555555" stroke="#555555" stroke-width="0.13">0.75</text><text x="7.00" y="558.00" font-size="8.10" text-anchor="middle" fill="#1a1a1a" transform="rotate(-90 7.00 558.00)">age correlation</text><text x="70.40" y="615.60" font-size="8.10" text-anchor="middle" fill="#1a1a1a">probe mean</text><line x1="145.90" y1="554.32" x2="223.50" y2="554.32" stroke="#a0a0a0" stroke-width="0.55" stroke-dasharray="2.6,1.9"/><line x1="145.90" y1="562.19" x2="223.50" y2="562.19" stroke="#a0a0a0" stroke-width="0.55" stroke-dasharray="2.6,1.9"/><clipPath id="cf1"><rect x="145.90" y="516.40" width="77.60" height="83.20"/></clipPath><g clip-path="url(#cf1)"><path d="M167 560h0m1.9 8.3h0m14.7-13h0m-23.7 13.5h0m30.8 12.1h0m-27.5-24.7h0m38.5 10h0m-21.8 19.4h0m-2.9-20.2h0m8.8-7.6h0m9 6h0m-12.2-21h0m12.5 27.7h0m-18.8-18.3h0m17.7 4.7h0m-31.5 13.9h0" stroke="#d4e11a" stroke-width="1.75" stroke-linecap="round" stroke-opacity="0.9"/><path d="M153.5 556.5h0m-4.9 12h0m61.2-14.3h0m-56.4 10.5h0m.8 4.2h0m58.8-9.8h0m-59.1 4.9h0m-2.1 .6h0m-1.9-.8h0m64.6-14.2h0m-61.9 4.9h0m59-.5h0m-.6 3.4h0m-2.2 3.8h0" stroke="#39548b" stroke-width="1.75" stroke-linecap="round" stroke-opacity="0.9"/><path d="M161.1 573.6h0m23.9-26.8h0m9.5 30.4h0m6.9-14.9h0m-48.7-2.1h0m55.2 .3h0m-46.8 6.3h0m25-.6h0m22.4-17.6h0m-36.5 32h0m-16.9-36.8h0" stroke="#2eb27c" stroke-width="1.75" stroke-linecap="round" stroke-opacity="0.9"/><path d="M179.2 575.2h0m-14.5-23.7h0m24.4 18.1h0m5.6-14.5h0m-13.3 18.8h0m22.2-12.9h0m-1.6 19.1h0m-31.4-8.4h0m34.3-1h0m-5-2.6h0m-25.8 5.9h0m-10.1-14.2h0m34.6 15.5h0m-28.9-28.6h0m30.5 16.8h0m-26.3-3h0" stroke="#e9e419" stroke-width="1.75" stroke-linecap="round" stroke-opacity="0.9"/><path d="M209.6 549.5h0m-58.5 1.9h0m4.7 11.6h0m-4.1-1.4h0m56.6-5.8h0m-54.6 .5h0m-1.4-.2h0m58.7 2.6h0m-55.6-.9h0m-3.5 13.3h0m-1.2-12.7h0m3.6 2.1h0m-1.6 11.5h0m-4.1-9h0m3.4-7.2h0" stroke="#47186a" stroke-width="1.75" stroke-linecap="round" stroke-opacity="0.9"/><path d="M153.5 564.5h0m3.5 14.2h0m-4.8-10.3h0m2.9-23h0m-.2 12.7h0m50.3-1.4h0m-3-5.6h0m.2 .3h0" stroke="#1e9b89" stroke-width="1.75" stroke-linecap="round" stroke-opacity="0.9"/><path d="M208.8 556h0m-59.7 10.9h0m4.1-14.1h0m54.4 4.4h0m-52.3 11.9h0m-5-4.5h0m-.4-4.8h0m-.2 8.8h0m2.4 4h0m-1.5-14.3h0m1.5 .9h0m55 3.1h0" stroke="#3d4a89" stroke-width="1.75" stroke-linecap="round" stroke-opacity="0.9"/><path d="M153.7 559.1h0m.1-8.2h0m-5.2 9.7h0m4.8 2h0m-.9-3.2h0m0 6.6h0m56.3-8.7h0m-57.9 1.6h0m4.6-6.6h0" stroke="#355c8c" stroke-width="1.75" stroke-linecap="round" stroke-opacity="0.9"/><path d="M159.1 573.1h0m-7.4-14.1h0m55.3-2.8h0" stroke="#1fa386" stroke-width="1.75" stroke-linecap="round" stroke-opacity="0.9"/><path d="M157.4 567.1h0m0-3.4h0m-2.4-15.7h0m-.5-10h0m8.1 17h0m-6.7-.8h0" stroke="#277c8e" stroke-width="1.75" stroke-linecap="round" stroke-opacity="0.9"/><path d="M159.7 546.9h0m16.6 12.6h0m-12.2 11.8h0m3.8 2.3h0m23.1 2.9h0m14.5-24.1h0m-3.3-6h0m-7.1 34.5h0m7.1-11h0" stroke="#7ed24e" stroke-width="1.75" stroke-linecap="round" stroke-opacity="0.9"/><path d="M151.2 545h0m55.3 19h0m-56.6-5.2h0m59.7 .4h0m-59.6-1.3h0m62.5-5.9h0m-61.3 8.1h0m1.4-11.2h0m57.3 10.8h0m-60.6 .8h0" stroke="#460c5f" stroke-width="1.75" stroke-linecap="round" stroke-opacity="0.9"/><path d="M153.5 568.9h0m-.7-7.1h0m-3.1-3.4h0m1.2 1h0m-1.8 .4h0m57.7-2.3h0m-54.8 .3h0m54.8-3.2h0m5.4-2.6h0m-61.1 4.6h0m-1.2 7.4h0m62.5-2h0m-59.5-4.7h0m1.1 7.5h0m58.7-15.1h0m-59.9 .5h0m53.5-.7h0m-54.2 2.5h0" stroke="#443781" stroke-width="1.75" stroke-linecap="round" stroke-opacity="0.9"/><path d="M166.5 580.7h0m-9-11.2h0m-2.1-4.3h0m49.9-9.5h0m-48 15h0m49-9.9h0m-4.6-3h0m-43.7 6h0m-2.1 14.1h0" stroke="#1f948b" stroke-width="1.75" stroke-linecap="round" stroke-opacity="0.9"/><path d="M178.4 570.1h0m14.3-7.7h0m-9.4 7.3h0m20.4 4.5h0m1.2-17.9h0m-16.8 7.1h0m-11.9-10.5h0m6.1 11.5h0m-21.3-.4h0m2.8-1.8h0m5.1-15.7h0m16.3 12.4h0m12.8 2.1h0" stroke="#a7db33" stroke-width="1.75" stroke-linecap="round" stroke-opacity="0.9"/><path d="M201.8 558.3h0m5.5-.1h0m-24.1 .3h0m19.3-3.4h0m-50.1 19.4h0m8.7-10.3h0m13.5 5.1h0m-19.5-4.4h0m-2.5 .5h0m27.6 4.5h0m-17.7 1.3h0m-5.3-30.3h0" stroke="#24aa82" stroke-width="1.75" stroke-linecap="round" stroke-opacity="0.9"/><path d="M168.3 562.4h0m-6.2 1.5h0m15.3 20.5h0m-10.6-15.6h0m-3.7 8.1h0m40.9-6.6h0m-26.8-18.2h0m-8.4 21.6h0" stroke="#92d741" stroke-width="1.75" stroke-linecap="round" stroke-opacity="0.9"/><path d="M198.1 560.4h0m-13.2 8.6h0m-6.4-2.5h0m18.1-18.7h0m7 21.1h0m-11.9 2.5h0m-19.3 1.7h0m9.7 7.9h0m16.5-17.1h0m-15.8 11.4h0m17.8-21.6h0" stroke="#6bcd59" stroke-width="1.75" stroke-linecap="round" stroke-opacity="0.9"/><path d="M208 555.7h0m0 5.6h0m-56.2 11.8h0m4.4-15h0m.4 6.8h0m2.7-.1h0" stroke="#2a758e" stroke-width="1.75" stroke-linecap="round" stroke-opacity="0.9"/><path d="M152.1 552.3h0m1.9 11.1h0m-.1 3.5h0m-2.1-1h0m61.5-11.5h0m-60.1 16.6h0m-1.6-4.5h0m2.4-3.2h0m-3.1-2.9h0m6.3 1.3h0m-5.9 4.6h0m-1.3 8.2h0m1-14.5h0m57.5-6.2h0m2.3 .1h0" stroke="#414186" stroke-width="1.75" stroke-linecap="round" stroke-opacity="0.9"/><path d="M151.3 562.8h0m57.9-3.6h0m-51.9 10.1h0m3.3-6h0m-5.2-6.8h0m-4.2-4.2h0m3.7 11.4h0m.2-3.5h0m-4.1 17.7h0m57.9-19.7h0m-55.6 7.2h0m4.3 11.7h0m-7.2-17h0m1.2 12.1h0m1.6-19.4h0" stroke="#31648d" stroke-width="1.75" stroke-linecap="round" stroke-opacity="0.9"/><path d="M203.8 557.3h0m-2.4 1.9h0m-43.1-11.4h0" stroke="#228b8d" stroke-width="1.75" stroke-linecap="round" stroke-opacity="0.9"/><path d="M164.6 544.6h0m-5.8 15.4h0m7.9-6.3h0m21.7 12.9h0m-.6-6.8h0m-.1 10.5h0m-7.1 5.1h0m9.5-9.2h0m9.8-4.4h0m-6.4 4.7h0m-25.2 1.8h0m12.2 8.8h0m-3.3-12.2h0m-2.4-7.8h0m30.4-8.6h0m-43.1 10.3h0m42.7 .7h0m-21.2-9.4h0" stroke="#bfdf24" stroke-width="1.75" stroke-linecap="round" stroke-opacity="0.9"/><path d="M169 561.2h0m23.1-14.2h0m6.4 39.2h0m3.5-12h0m-14.6-20.1h0m15.4-6.1h0m-13.9 19.5h0m-23.3-24.5h0m-2.7 13h0m25.8-14.2h0m-1.4 17.6h0" stroke="#47c06e" stroke-width="1.75" stroke-linecap="round" stroke-opacity="0.9"/><path d="M199.9 548.4h0m-32 4.8h0m-4.8 16.3h0m40.9-10.7h0m-31.7-5.6h0m18.5-8h0m-1.1 27.8h0m-17.3-6.9h0m-16.9-22h0m52.4 7.1h0m-34.1-20.6h0m12.7 31h0m8.5 11h0m-40.9-10.3h0m-.3 1h0" stroke="#39b976" stroke-width="1.75" stroke-linecap="round" stroke-opacity="0.9"/><path d="M154.6 556.7h0m-3.5 4h0m4.3 3.7h0m-6.4-8.3h0m4.7 13.9h0m1.4-1.1h0m-2.3-13.6h0m-.9 6.3h0" stroke="#482273" stroke-width="1.75" stroke-linecap="round" stroke-opacity="0.9"/><path d="M176.8 549.2h0m-7 2.2h0m34.3 13.8h0m-3.6 17.7h0m-10.1-36.2h0m-16 8.4h0" stroke="#57c665" stroke-width="1.75" stroke-linecap="round" stroke-opacity="0.9"/><path d="M149.2 557.1h0m60.1-2.9h0m5.3-2.8h0m-58.5 8.6h0m.3 .3h0m-4.4 1.7h0m2.2 12.2h0m54.2-16.2h0m-54.1 6.8h0m-4.2-8.7h0m59.5 1.5h0m-58.1-10.9h0m61 11.5h0" stroke="#462d7c" stroke-width="1.75" stroke-linecap="round" stroke-opacity="0.9"/><path d="M157.8 569.7h0m47.9-4.2h0m-49.2-9.5h0m.8-4.1h0m43.4 5.4h0m-43.1 14.1h0m1.1-5.4h0m-.3-12.5h0" stroke="#24848d" stroke-width="1.75" stroke-linecap="round" stroke-opacity="0.9"/><path d="M178.9 547.4h0m18.3 11.1h0m8.2-3.7h0" stroke="#fde724" stroke-width="1.75" stroke-linecap="round" stroke-opacity="0.9"/><path d="M212.4 556.4h0" stroke="#440154" stroke-width="1.75" stroke-linecap="round" stroke-opacity="0.9"/><path d="M209 560.3h0m2.5 0h0m-55.9 8.3h0m53.1-14.1h0m-52.3 28.3h0m55.8-29.4h0m-55.5-11.3h0m48.9 10.5h0" stroke="#2e6c8e" stroke-width="1.75" stroke-linecap="round" stroke-opacity="0.9"/></g><rect x="145.90" y="516.40" width="77.60" height="83.20" fill="none" stroke="#a8a8a8" stroke-width="0.9"/><line x1="147.71" y1="599.60" x2="147.71" y2="601.20" stroke="#333" stroke-width="0.6"/><text x="147.71" y="607.80" font-size="7.05" text-anchor="middle" fill="#555555" stroke="#555555" stroke-width="0.13">0.00</text><line x1="165.81" y1="599.60" x2="165.81" y2="601.20" stroke="#333" stroke-width="0.6"/><text x="165.81" y="607.80" font-size="7.05" text-anchor="middle" fill="#555555" stroke="#555555" stroke-width="0.13">0.25</text><line x1="183.90" y1="599.60" x2="183.90" y2="601.20" stroke="#333" stroke-width="0.6"/><text x="183.90" y="607.80" font-size="7.05" text-anchor="middle" fill="#555555" stroke="#555555" stroke-width="0.13">0.50</text><line x1="202.00" y1="599.60" x2="202.00" y2="601.20" stroke="#333" stroke-width="0.6"/><text x="202.00" y="607.80" font-size="7.05" text-anchor="middle" fill="#555555" stroke="#555555" stroke-width="0.13">0.75</text><line x1="220.10" y1="599.60" x2="220.10" y2="601.20" stroke="#333" stroke-width="0.6"/><text x="220.10" y="607.80" font-size="7.05" text-anchor="middle" fill="#555555" stroke="#555555" stroke-width="0.13">1.00</text><line x1="144.30" y1="596.07" x2="145.90" y2="596.07" stroke="#333" stroke-width="0.6"/><text x="143.30" y="599.17" font-size="7.05" text-anchor="end" fill="#555555" stroke="#555555" stroke-width="0.13">−0.75</text><line x1="144.30" y1="583.46" x2="145.90" y2="583.46" stroke="#333" stroke-width="0.6"/><text x="143.30" y="586.56" font-size="7.05" text-anchor="end" fill="#555555" stroke="#555555" stroke-width="0.13">−0.50</text><line x1="144.30" y1="570.86" x2="145.90" y2="570.86" stroke="#333" stroke-width="0.6"/><text x="143.30" y="573.96" font-size="7.05" text-anchor="end" fill="#555555" stroke="#555555" stroke-width="0.13">−0.25</text><line x1="144.30" y1="558.25" x2="145.90" y2="558.25" stroke="#333" stroke-width="0.6"/><text x="143.30" y="561.35" font-size="7.05" text-anchor="end" fill="#555555" stroke="#555555" stroke-width="0.13">0.00</text><line x1="144.30" y1="545.65" x2="145.90" y2="545.65" stroke="#333" stroke-width="0.6"/><text x="143.30" y="548.75" font-size="7.05" text-anchor="end" fill="#555555" stroke="#555555" stroke-width="0.13">0.25</text><line x1="144.30" y1="533.04" x2="145.90" y2="533.04" stroke="#333" stroke-width="0.6"/><text x="143.30" y="536.14" font-size="7.05" text-anchor="end" fill="#555555" stroke="#555555" stroke-width="0.13">0.50</text><line x1="144.30" y1="520.43" x2="145.90" y2="520.43" stroke="#333" stroke-width="0.6"/><text x="143.30" y="523.53" font-size="7.05" text-anchor="end" fill="#555555" stroke="#555555" stroke-width="0.13">0.75</text><text x="121.10" y="558.00" font-size="8.10" text-anchor="middle" fill="#1a1a1a" transform="rotate(-90 121.10 558.00)">age correlation</text><text x="184.70" y="615.60" font-size="8.10" text-anchor="middle" fill="#1a1a1a">probe mean</text><line x1="260.90" y1="554.32" x2="338.50" y2="554.32" stroke="#a0a0a0" stroke-width="0.55" stroke-dasharray="2.6,1.9"/><line x1="260.90" y1="562.19" x2="338.50" y2="562.19" stroke="#a0a0a0" stroke-width="0.55" stroke-dasharray="2.6,1.9"/><clipPath id="cf2"><rect x="260.90" y="516.40" width="77.60" height="83.20"/></clipPath><g clip-path="url(#cf2)"><path d="M283.4 569.8h0m17.6-10.7h0m22.4 .6h0m-4.8-9.5h0m-25.6 9.7h0m6.8 9.2h0m10.2-32.1h0m-28.5 43.6h0m24.6-25.4h0m13.7-2.1h0m-44 15.6h0m16.8-12.2h0m-14.3 13.7h0m-.5 0h0m7.4-1.1h0m-11.6-24.3h0m14.1 .7h0m33.9 31.4h0m-13.9-54.4h0m-21.9 43.1h0m6.2-.7h0m-12.4 9.5h0m39.3-21.9h0m3.3 14.2h0m-7.5-12.4h0m-35.7-.8h0m-5.5 8.6h0m20.3-2.5h0m-26.3 22.7h0" stroke="#47c06e" stroke-width="1.75" stroke-linecap="round" stroke-opacity="0.9"/><path d="M283.4 562.2h0m-12.8-34.8h0m2.2 16.7h0m7.9 22.7h0m29.6-16.3h0m-14.4 2.7h0m15.1 36.4h0m3.9-45.5h0m-3.4 10.2h0m-27.1 22.5h0m5.2-37.2h0m21.1-14h0m8.6 46.5h0m-21.5-30.3h0m-8.7 40.6h0m-10.5-30.5h0m-2.7-15.1h0m28.8 4.4h0m-14.9 18h0" stroke="#6bcd59" stroke-width="1.75" stroke-linecap="round" stroke-opacity="0.9"/><path d="M270.3 559.8h0m3.9-.7h0m38.8 9.2h0m-30.5-.9h0m-2.2-5.5h0m32.5-13.4h0m-.7 5.6h0m-38.5 16.9h0m9.6-27.2h0m1.2 40.1h0m-19.7-23.1h0m5.9-37.3h0m7.5 70.6h0m-.2-35.7h0m2.6-.7h0m-.4 14.8h0" stroke="#1e9b89" stroke-width="1.75" stroke-linecap="round" stroke-opacity="0.9"/><path d="M278.7 557.2h0m39.7 4.2h0m-35-2.5h0m-1-31.5h0m-3.8 45.3h0m11.6-10.6h0m-11.4 12.5h0m21.2-12.6h0m10.1 9.4h0m-40.2-30.5h0m31.8 15.2h0m-32.7 .3h0m22.9-9.6h0m21.2 5.7h0m-32.3-8.3h0m5.1 17.3h0m39.1-14h0m-15.7 14.8h0m-33.2 2h0m3-36.7h0m4.3 48.1h0m21.7-7.2h0m-38.8-10.7h0m49.4-13.7h0m-33.3-4.5h0m33.9 20.1h0m-32-1.2h0m.7 7h0m1.7 8.4h0m-.3-6.7h0m7.5-33.1h0m-7.4-7h0m-6.9 47.4h0m8.3-15.4h0" stroke="#39b976" stroke-width="1.75" stroke-linecap="round" stroke-opacity="0.9"/><path d="M276.6 547.3h0m.5-18.9h0m7.9 33.1h0m3.2 18h0m-15.4-35.5h0m12.4 3h0m-10.3-2.7h0m10.2 12h0m-6.7 21.2h0m-8.7 3.3h0m19.1-35.9h0m-7.2 5.7h0m7.3 10.8h0m12.4-22.4h0m-20.4 11.1h0m7.2 8.9h0m-1.6 25.9h0m-5.1-33h0m-3.5-8h0m-5.4 7.4h0m-2.1-10.4h0m15 36.6h0" stroke="#2eb27c" stroke-width="1.75" stroke-linecap="round" stroke-opacity="0.9"/><path d="M311.6 556.9h0m4.2-.9h0m-28.3-4.4h0m11.6 17.3h0m6.4 9.1h0m-14.4-4.2h0m8-3h0m14.5-21.3h0m-18-23.3h0m-5.6 28.1h0m-15 10.5h0m.6 11.5h0m33.3-1.6h0m7.6-25.3h0" stroke="#bfdf24" stroke-width="1.75" stroke-linecap="round" stroke-opacity="0.9"/><path d="M278.9 556.2h0m-.9 15.3h0m-5-37.1h0m44.5 27.3h0m-24-20.9h0m-5.8-20h0m28.6 29.3h0m-36.3 .9h0m38.7 2.6h0m-37.8 15h0m35.6-13.8h0m-38.2 2.8h0m-1.1-12.1h0m6.3-6.4h0m-9.2 25.3h0m-1.7-4.3h0" stroke="#1f948b" stroke-width="1.75" stroke-linecap="round" stroke-opacity="0.9"/><path d="M290.2 554.8h0m-3.9 20.8h0m6.8-12.4h0m5.7 32.5h0m-14.3-61.4h0m7 45.3h0m3.9-7.2h0m9.7 4.1h0m-1-40.8h0m5.2 2.2h0m-8.6-1.1h0m12.7 29.8h0" stroke="#d4e11a" stroke-width="1.75" stroke-linecap="round" stroke-opacity="0.9"/><path d="M268 559.3h0m21.1 3h0m-12.9-21.8h0m11.1 16.4h0m-7.5-23.3h0m9.5 41.2h0m19 .8h0m-29.3-40.9h0m33.6 22.9h0m-24.9 15.3h0m12.4 4h0m-4.2-5.2h0m-9.9-2.5h0m28.2-3.6h0m5 2.5h0m-10.9 2.6h0m8.5-31.3h0m-38.3-1.4h0m11.6 8h0m-14.1 12.4h0" stroke="#a7db33" stroke-width="1.75" stroke-linecap="round" stroke-opacity="0.9"/><path d="M315.4 585.7h0m-.8-11.9h0m1.3 18.6h0m-19.7-37.1h0m-26.2-14.7h0m9.6 1.4h0m20.3-11.5h0m-10.4 31.7h0m23-26.2h0m-23.7 29h0m-12.8 21.5h0m6.7-8.4h0m4.5-19.3h0m14.5 1.8h0m-26.1-13h0m2.1 32h0m-12.2-32.8h0m13.5-12h0m-8 5.4h0m14.2 23.9h0m2.3 1.4h0m-1.5-29.7h0m31.5 35.9h0m-15.2-19.3h0" stroke="#92d741" stroke-width="1.75" stroke-linecap="round" stroke-opacity="0.9"/><path d="M276.5 546.2h0m-7.7 13.7h0m3.6-29.9h0m49.9 35.5h0m-33.5 11.7h0m-6.7 5.7h0m-8.8-33h0m12.4 19.5h0m-8.3-1.1h0m9.9 1.9h0m-4.1 12.4h0m4.8 7.7h0m-10.8-32.2h0m7.3 18.8h0" stroke="#24aa82" stroke-width="1.75" stroke-linecap="round" stroke-opacity="0.9"/><path d="M326.4 563.9h0m-59.4-9.5h0m58.6 4.2h0m-.8-3.9h0m-54 3.6h0" stroke="#3d4a89" stroke-width="1.75" stroke-linecap="round" stroke-opacity="0.9"/><path d="M322.5 561.1h0m-56.4-5.8h0m2.5 4.5h0m56-7.7h0m7.3 5.3h0" stroke="#2a758e" stroke-width="1.75" stroke-linecap="round" stroke-opacity="0.9"/><path d="M270.2 547.6h0m10.7 33.2h0m.1-14.9h0m-11-26.5h0m3.4 28.8h0m45.4 8.3h0m-37-14.1h0m-.1-11h0m5.7-5.5h0m-12 13.7h0m5.5 7.2h0m-3.7-1.4h0" stroke="#1fa386" stroke-width="1.75" stroke-linecap="round" stroke-opacity="0.9"/><path d="M266.4 564.6h0m.5-4.1h0m-2.7-4.3h0m-.4-.3h0m5.1 .2h0m56.8 3.3h0m-61.8 .3h0m-.5 .1h0m3.5 1.9h0" stroke="#2e6c8e" stroke-width="1.75" stroke-linecap="round" stroke-opacity="0.9"/><path d="M325 558.1h0m-58.2-5.2h0m.6 9.8h0m55.3-2.5h0m-.7 1.3h0" stroke="#482273" stroke-width="1.75" stroke-linecap="round" stroke-opacity="0.9"/><path d="M288.6 531.2h0m8.4 8.7h0m-4.2-12.3h0m-7.2 4.5h0m23.4 39.2h0m-9.7 8.3h0m-13-18.7h0" stroke="#fde724" stroke-width="1.75" stroke-linecap="round" stroke-opacity="0.9"/><path d="M269.4 572.3h0m44.5-36.6h0m-37.6 22.6h0m13.5 4.1h0m34.2 .3h0m-8.3-28.5h0m-32.1 7.7h0m1.2 21h0m-14.7 14.2h0m-.5-31.6h0m37.4 9h0m-24.3 8.2h0m-4.7-8h0m18.5-28.1h0m-20.8 7h0m4.3 41.8h0m15.5-32.3h0" stroke="#7ed24e" stroke-width="1.75" stroke-linecap="round" stroke-opacity="0.9"/><path d="M328.5 561h0m-3.2-3.1h0" stroke="#228b8d" stroke-width="1.75" stroke-linecap="round" stroke-opacity="0.9"/><path d="M265.6 553.8h0m1.6 2.3h0m-.3 .8h0m.2-.9h0m59.4 2.6h0m-.3 .3h0" stroke="#31648d" stroke-width="1.75" stroke-linecap="round" stroke-opacity="0.9"/><path d="M309.6 578.3h0m-32.4-6.6h0m-4.3-19.9h0m.2-10.1h0m-.9 23.3h0m.7-11h0m2.4 10.5h0m17.9-43.4h0m-12.2 45.4h0m16.2-24.5h0m13.7 8.3h0m-14.9 10.2h0m-11.4 12h0m34.4-14.9h0m-38.1-22.9h0m-12.1 18.6h0m14.5-24h0m2.9 36.9h0m-7.9-15.8h0m29.1-2h0" stroke="#57c665" stroke-width="1.75" stroke-linecap="round" stroke-opacity="0.9"/><path d="M300.1 547.6h0m5 19.8h0m.2-42.1h0m1.4 36.2h0m-20.9-20.3h0m31.7-19.7h0m-2.3 46.9h0m-12.3-23.4h0m14.2-1h0m-8.8 38.2h0m1.8-28.1h0" stroke="#e9e419" stroke-width="1.75" stroke-linecap="round" stroke-opacity="0.9"/><path d="M263.2 559.8h0m66.4 7.9h0m-6.5-9.4h0" stroke="#440154" stroke-width="1.75" stroke-linecap="round" stroke-opacity="0.9"/><path d="M267.7 559.9h0m58.2-7.3h0m1.6 9h0m2.1-2.1h0m-3-1.3h0" stroke="#460c5f" stroke-width="1.75" stroke-linecap="round" stroke-opacity="0.9"/><path d="M268.6 559.8h0m-4.3-1.7h0m62.7-1.1h0m-58.5 .2h0m-1.7 .4h0m58.8 1.1h0m-59.2 1.5h0m58.5-7h0m-59.4 4.8h0" stroke="#355c8c" stroke-width="1.75" stroke-linecap="round" stroke-opacity="0.9"/><path d="M269.8 564.7h0m-2.4-6.5h0m61.8-.6h0m-61.5 3.7h0m-.4 .6h0m62.4-7.7h0m-7.1 5.2h0" stroke="#462d7c" stroke-width="1.75" stroke-linecap="round" stroke-opacity="0.9"/><path d="M268.2 560.5h0m62.6-3.9h0m-7.8 8.5h0m-51.3-9.8h0m-6.1 1.7h0m.9 3.4h0m62-1.8h0m2.3 2.2h0" stroke="#414186" stroke-width="1.75" stroke-linecap="round" stroke-opacity="0.9"/><path d="M328.2 556.7h0m1.7 1.9h0m-1.3-2.1h0m1.9 .9h0m-10.2 5.9h0m-.1-9.3h0" stroke="#39548b" stroke-width="1.75" stroke-linecap="round" stroke-opacity="0.9"/><path d="M328.5 564.2h0m-57.8-4.8h0m-2.4-.9h0" stroke="#47186a" stroke-width="1.75" stroke-linecap="round" stroke-opacity="0.9"/><path d="M330.1 558.9h0m-5.6 .8h0m7.3-.5h0m-2.1 6.1h0m-2.3-7.2h0m-1 5.2h0" stroke="#443781" stroke-width="1.75" stroke-linecap="round" stroke-opacity="0.9"/><path d="M327.5 553.8h0" stroke="#277c8e" stroke-width="1.75" stroke-linecap="round" stroke-opacity="0.9"/><path d="M326.1 559.4h0" stroke="#24848d" stroke-width="1.75" stroke-linecap="round" stroke-opacity="0.9"/></g><rect x="260.90" y="516.40" width="77.60" height="83.20" fill="none" stroke="#a8a8a8" stroke-width="0.9"/><line x1="262.71" y1="599.60" x2="262.71" y2="601.20" stroke="#333" stroke-width="0.6"/><text x="262.71" y="607.80" font-size="7.05" text-anchor="middle" fill="#555555" stroke="#555555" stroke-width="0.13">0.00</text><line x1="280.81" y1="599.60" x2="280.81" y2="601.20" stroke="#333" stroke-width="0.6"/><text x="280.81" y="607.80" font-size="7.05" text-anchor="middle" fill="#555555" stroke="#555555" stroke-width="0.13">0.25</text><line x1="298.90" y1="599.60" x2="298.90" y2="601.20" stroke="#333" stroke-width="0.6"/><text x="298.90" y="607.80" font-size="7.05" text-anchor="middle" fill="#555555" stroke="#555555" stroke-width="0.13">0.50</text><line x1="317.00" y1="599.60" x2="317.00" y2="601.20" stroke="#333" stroke-width="0.6"/><text x="317.00" y="607.80" font-size="7.05" text-anchor="middle" fill="#555555" stroke="#555555" stroke-width="0.13">0.75</text><line x1="335.10" y1="599.60" x2="335.10" y2="601.20" stroke="#333" stroke-width="0.6"/><text x="335.10" y="607.80" font-size="7.05" text-anchor="middle" fill="#555555" stroke="#555555" stroke-width="0.13">1.00</text><line x1="259.30" y1="596.07" x2="260.90" y2="596.07" stroke="#333" stroke-width="0.6"/><text x="258.30" y="599.17" font-size="7.05" text-anchor="end" fill="#555555" stroke="#555555" stroke-width="0.13">−0.75</text><line x1="259.30" y1="583.46" x2="260.90" y2="583.46" stroke="#333" stroke-width="0.6"/><text x="258.30" y="586.56" font-size="7.05" text-anchor="end" fill="#555555" stroke="#555555" stroke-width="0.13">−0.50</text><line x1="259.30" y1="570.86" x2="260.90" y2="570.86" stroke="#333" stroke-width="0.6"/><text x="258.30" y="573.96" font-size="7.05" text-anchor="end" fill="#555555" stroke="#555555" stroke-width="0.13">−0.25</text><line x1="259.30" y1="558.25" x2="260.90" y2="558.25" stroke="#333" stroke-width="0.6"/><text x="258.30" y="561.35" font-size="7.05" text-anchor="end" fill="#555555" stroke="#555555" stroke-width="0.13">0.00</text><line x1="259.30" y1="545.65" x2="260.90" y2="545.65" stroke="#333" stroke-width="0.6"/><text x="258.30" y="548.75" font-size="7.05" text-anchor="end" fill="#555555" stroke="#555555" stroke-width="0.13">0.25</text><line x1="259.30" y1="533.04" x2="260.90" y2="533.04" stroke="#333" stroke-width="0.6"/><text x="258.30" y="536.14" font-size="7.05" text-anchor="end" fill="#555555" stroke="#555555" stroke-width="0.13">0.50</text><line x1="259.30" y1="520.43" x2="260.90" y2="520.43" stroke="#333" stroke-width="0.6"/><text x="258.30" y="523.53" font-size="7.05" text-anchor="end" fill="#555555" stroke="#555555" stroke-width="0.13">0.75</text><text x="235.50" y="558.00" font-size="8.10" text-anchor="middle" fill="#1a1a1a" transform="rotate(-90 235.50 558.00)">age correlation</text><text x="299.70" y="615.60" font-size="8.10" text-anchor="middle" fill="#1a1a1a">probe mean</text><line x1="375.00" y1="554.32" x2="452.50" y2="554.32" stroke="#a0a0a0" stroke-width="0.55" stroke-dasharray="2.6,1.9"/><line x1="375.00" y1="562.19" x2="452.50" y2="562.19" stroke="#a0a0a0" stroke-width="0.55" stroke-dasharray="2.6,1.9"/><clipPath id="cf3"><rect x="375.00" y="516.40" width="77.50" height="83.20"/></clipPath><g clip-path="url(#cf3)"><path d="M426 594.6h0m-27.5-2.1h0m5.8-5h0m-4.4-62h0" stroke="#e9e419" stroke-width="1.75" stroke-linecap="round" stroke-opacity="0.9"/><path d="M402.1 586h0m17.4-54h0" stroke="#6bcd59" stroke-width="1.75" stroke-linecap="round" stroke-opacity="0.9"/><path d="M420.2 591h0m-17.4-59h0m2.9-10.1h0m-7.2 65.1h0m-5.1-55h0" stroke="#d4e11a" stroke-width="1.75" stroke-linecap="round" stroke-opacity="0.9"/><path d="M396.3 586h0m-9.4-50.4h0m-2.9-6.6h0m1.5 1.5h0m-5.8 1.5h0" stroke="#2eb27c" stroke-width="1.75" stroke-linecap="round" stroke-opacity="0.9"/><path d="M400.7 530.5h0m-20.3-3h0m27.5 62.5h0" stroke="#24aa82" stroke-width="1.75" stroke-linecap="round" stroke-opacity="0.9"/><path d="M430.3 579.4h0m-41.9-46.4h0m-4.4 2.6h0m34.7-2.6h0m11.6 53.5h0m-30.4 7h0" stroke="#bfdf24" stroke-width="1.75" stroke-linecap="round" stroke-opacity="0.9"/><path d="M391.3 525.5h0m9.4 61h0m13.7-40.3h0m-26.7-19.2h0m40.4 51.4h0" stroke="#57c665" stroke-width="1.75" stroke-linecap="round" stroke-opacity="0.9"/><path d="M386.2 534h0m41.2 55.5h0m-18.1-64h0m-16.6 1.5h0" stroke="#92d741" stroke-width="1.75" stroke-linecap="round" stroke-opacity="0.9"/><path d="M394.9 587h0m7.9 0h0m-20.2-11.1h0m14.4-42.9h0m-2.1-5h0m2.9 52.4h0" stroke="#7ed24e" stroke-width="1.75" stroke-linecap="round" stroke-opacity="0.9"/><path d="M398.5 521.9h0" stroke="#482273" stroke-width="1.75" stroke-linecap="round" stroke-opacity="0.9"/><path d="M391.3 587h0m7.2-65.1h0m19.5 65.6h0m-12.3 1h0" stroke="#fde724" stroke-width="1.75" stroke-linecap="round" stroke-opacity="0.9"/><path d="M389.8 528h0m15.9 3.5h0m-2.1 53.5h0m-7.3-61h0" stroke="#1fa386" stroke-width="1.75" stroke-linecap="round" stroke-opacity="0.9"/><path d="M444 539.1h0m-5-6.6h0" stroke="#2e6c8e" stroke-width="1.75" stroke-linecap="round" stroke-opacity="0.9"/><path d="M443.3 533h0m-6.5 3.1h0" stroke="#31648d" stroke-width="1.75" stroke-linecap="round" stroke-opacity="0.9"/><path d="M389.1 584.5h0" stroke="#1e9b89" stroke-width="1.75" stroke-linecap="round" stroke-opacity="0.9"/><path d="M410.8 588.5h0m7.2-67.6h0" stroke="#a7db33" stroke-width="1.75" stroke-linecap="round" stroke-opacity="0.9"/><path d="M410.8 526h0m-31.1 2h0m8 54h0" stroke="#47c06e" stroke-width="1.75" stroke-linecap="round" stroke-opacity="0.9"/><path d="M418.7 589.5h0" stroke="#1f948b" stroke-width="1.75" stroke-linecap="round" stroke-opacity="0.9"/><path d="M381.9 572.9h0m10.8 13.6h0" stroke="#39b976" stroke-width="1.75" stroke-linecap="round" stroke-opacity="0.9"/></g><rect x="375.00" y="516.40" width="77.50" height="83.20" fill="none" stroke="#a8a8a8" stroke-width="0.9"/><line x1="376.81" y1="599.60" x2="376.81" y2="601.20" stroke="#333" stroke-width="0.6"/><text x="376.81" y="607.80" font-size="7.05" text-anchor="middle" fill="#555555" stroke="#555555" stroke-width="0.13">0.00</text><line x1="394.88" y1="599.60" x2="394.88" y2="601.20" stroke="#333" stroke-width="0.6"/><text x="394.88" y="607.80" font-size="7.05" text-anchor="middle" fill="#555555" stroke="#555555" stroke-width="0.13">0.25</text><line x1="412.95" y1="599.60" x2="412.95" y2="601.20" stroke="#333" stroke-width="0.6"/><text x="412.95" y="607.80" font-size="7.05" text-anchor="middle" fill="#555555" stroke="#555555" stroke-width="0.13">0.50</text><line x1="431.03" y1="599.60" x2="431.03" y2="601.20" stroke="#333" stroke-width="0.6"/><text x="431.03" y="607.80" font-size="7.05" text-anchor="middle" fill="#555555" stroke="#555555" stroke-width="0.13">0.75</text><line x1="449.10" y1="599.60" x2="449.10" y2="601.20" stroke="#333" stroke-width="0.6"/><text x="449.10" y="607.80" font-size="7.05" text-anchor="middle" fill="#555555" stroke="#555555" stroke-width="0.13">1.00</text><line x1="373.40" y1="596.07" x2="375.00" y2="596.07" stroke="#333" stroke-width="0.6"/><text x="372.40" y="599.17" font-size="7.05" text-anchor="end" fill="#555555" stroke="#555555" stroke-width="0.13">−0.75</text><line x1="373.40" y1="583.46" x2="375.00" y2="583.46" stroke="#333" stroke-width="0.6"/><text x="372.40" y="586.56" font-size="7.05" text-anchor="end" fill="#555555" stroke="#555555" stroke-width="0.13">−0.50</text><line x1="373.40" y1="570.86" x2="375.00" y2="570.86" stroke="#333" stroke-width="0.6"/><text x="372.40" y="573.96" font-size="7.05" text-anchor="end" fill="#555555" stroke="#555555" stroke-width="0.13">−0.25</text><line x1="373.40" y1="558.25" x2="375.00" y2="558.25" stroke="#333" stroke-width="0.6"/><text x="372.40" y="561.35" font-size="7.05" text-anchor="end" fill="#555555" stroke="#555555" stroke-width="0.13">0.00</text><line x1="373.40" y1="545.65" x2="375.00" y2="545.65" stroke="#333" stroke-width="0.6"/><text x="372.40" y="548.75" font-size="7.05" text-anchor="end" fill="#555555" stroke="#555555" stroke-width="0.13">0.25</text><line x1="373.40" y1="533.04" x2="375.00" y2="533.04" stroke="#333" stroke-width="0.6"/><text x="372.40" y="536.14" font-size="7.05" text-anchor="end" fill="#555555" stroke="#555555" stroke-width="0.13">0.50</text><line x1="373.40" y1="520.43" x2="375.00" y2="520.43" stroke="#333" stroke-width="0.6"/><text x="372.40" y="523.53" font-size="7.05" text-anchor="end" fill="#555555" stroke="#555555" stroke-width="0.13">0.75</text><text x="349.90" y="558.00" font-size="8.10" text-anchor="middle" fill="#1a1a1a" transform="rotate(-90 349.90 558.00)">age correlation</text><text x="413.75" y="615.60" font-size="8.10" text-anchor="middle" fill="#1a1a1a">probe mean</text><line x1="489.70" y1="554.32" x2="567.30" y2="554.32" stroke="#a0a0a0" stroke-width="0.55" stroke-dasharray="2.6,1.9"/><line x1="489.70" y1="562.19" x2="567.30" y2="562.19" stroke="#a0a0a0" stroke-width="0.55" stroke-dasharray="2.6,1.9"/><clipPath id="cf4"><rect x="489.70" y="516.40" width="77.60" height="83.20"/></clipPath><g clip-path="url(#cf4)"><path d="M503.3 575.2h0m45.2-8.7h0m-45.9-7.5h0m-.6 2.2h0m1.5 2.5h0m-5.9-9.8h0m-.1 10.1h0m-1.7-8.6h0m6.8 14.3h0m-3.1-16.9h0m4.7 12.5h0" stroke="#1e9b89" stroke-width="1.75" stroke-linecap="round" stroke-opacity="0.9"/><path d="M541.3 567.1h0m-15.4-3.1h0m14.9-.3h0m-10.9-11h0m9.7 5.1h0m-5.2 3h0m-13.4 4h0m-2.6-4.3h0m16.5-16.5h0m-22.2 29.5h0m-8.2-17h0m8 8.3h0m-2.9-2.8h0m6.5-.7h0m-10 4h0m-1.4-11.3h0m-4.5 14.5h0m44.4-14.7h0m-22.5 20h0m-3.8 .9h0m-16.4-14.6h0m38.3-.8h0" stroke="#7ed24e" stroke-width="1.75" stroke-linecap="round" stroke-opacity="0.9"/><path d="M495.2 570.2h0m2-7.1h0m57.8-20.8h0m-1.2 16.3h0m-55.8-5.4h0m-.5 12.5h0m-.5-9.9h0m-3.2-5.9h0m6.3 7.9h0m-2.6 5.1h0m-2.6-6.2h0m.9 8.8h0m.9-6.4h0m-1.1 2.2h0m4.5-3.2h0" stroke="#440154" stroke-width="1.75" stroke-linecap="round" stroke-opacity="0.9"/><path d="M502.4 569.1h0m34.2 10.6h0m-21.8-16.8h0m18.7 6.6h0m-30.1-19.5h0m.5 20.5h0m6.1 1.2h0m-1.9 4.4h0m16.4-25.8h0m7.7 14.2h0m-19.8 1.7h0m6.9 0h0m7 15.7h0m23.5-21.3h0m-46.4-25h0m.6 39.6h0m-2.2-5.5h0m44.2-4.5h0" stroke="#47c06e" stroke-width="1.75" stroke-linecap="round" stroke-opacity="0.9"/><path d="M554.3 559.1h0m-61.9 1.6h0m4.9 7.1h0m-4.4-13.1h0m65.3-1.8h0m-61.6-.2h0m-.5 8.1h0m59.5-9.8h0m-58.6 17.5h0m55-15h0m-1.4 5.6h0m3.2-.5h0m-57.8 13.4h0m-.9-12h0m56.6-8.6h0m-56.7 11.3h0m60-7.4h0m-56.3 2.4h0m-5.5 3.5h0m.4-5.9h0" stroke="#460c5f" stroke-width="1.75" stroke-linecap="round" stroke-opacity="0.9"/><path d="M552.5 556.8h0m.2 1.8h0m-1.9-.8h0m-54.3-1.7h0m55.7 5.2h0m-52.8-9.2h0m-2.1 15.1h0m58.3-4.9h0m-59.4-6.1h0m-1.5-7.5h0m61.2 5.5h0m-60.3-.2h0m58.1-.2h0m-58.6 3.7h0m2.1 1.4h0m-.7 3.4h0m-2.6-1.6h0" stroke="#39548b" stroke-width="1.75" stroke-linecap="round" stroke-opacity="0.9"/><path d="M498 543.6h0m3.1 19.3h0m13.7-3.6h0m28 2.7h0m-2.9 1.2h0m-22.4 3.3h0m1.7 6.9h0m-1.3-22.6h0m4.8 41.2h0m20.6-34.2h0m-30 6.7h0m-12.8 4.6h0m8.5-6.7h0m-11.7-.8h0m44.6-10.5h0m-48 18.8h0m6.9-11h0m8.7 9.8h0m31.2-20.3h0m-37.4 21.8h0m43.6-5.9h0m-8-18.2h0" stroke="#6bcd59" stroke-width="1.75" stroke-linecap="round" stroke-opacity="0.9"/><path d="M539.3 543.5h0m1.9 45.9h0m-11-21.1h0m-22.5-13.7h0m20.3 9.5h0m-3.7 2.8h0m-15.6 15.1h0m14-5.1h0m-7.3-24.7h0m2.3 6.1h0m3-5.4h0m-5 12.6h0m-8.1 10.3h0" stroke="#d4e11a" stroke-width="1.75" stroke-linecap="round" stroke-opacity="0.9"/><path d="M502.1 574.2h0m50-15.3h0m-48-1.5h0m-5.4 1.6h0m1.9-9.3h0m51.4 7.7h0m-50.7-6.1h0m6.7 7h0m-9.7-9.9h0m46.8 14h0m-40.4 6.5h0m38.4 3.6h0m-42.9-2.3h0" stroke="#1f948b" stroke-width="1.75" stroke-linecap="round" stroke-opacity="0.9"/><path d="M542 553.4h0m6.3 20.9h0m-47.8-6.3h0m5.1-9.8h0m24.9 19.9h0m-30.8-20.1h0m19.2-7.1h0m-10.9 11.8h0m26-8h0m-26.7 5.9h0m-6.4-7.2h0m37.7 11.4h0m10.6-18.3h0m-31.4 31.8h0m-20-32h0m10.9 3.6h0m24.3 9.6h0m-30.1 9.8h0m44.7 4.8h0m-42.4-5.5h0m38.4-31.9h0m-22.1 19.6h0m24.4 20.9h0m-40.4-2.6h0" stroke="#39b976" stroke-width="1.75" stroke-linecap="round" stroke-opacity="0.9"/><path d="M537.4 585h0m-9.1-27h0m11.6 1.7h0m-23.2 5.8h0m3.5 1h0m21.8-11.3h0m-18.2 9.7h0m6.6 1.9h0m-17.7 3.2h0m35.7-1.2h0m-10.9-15.2h0m-20.3 3.1h0" stroke="#a7db33" stroke-width="1.75" stroke-linecap="round" stroke-opacity="0.9"/><path d="M494.8 565.2h0m-1.1 4.6h0m2.5-14.5h0m63.5 6.5h0m-4.3-5h0m-60.8 4.1h0m1.6-2.1h0m60.1 1.7h0m-63.2 2h0m61.7 .7h0m-58.1 2h0m-4.6 1.5h0m4.2-7.7h0m1.4 11h0m-2-2h0m58.5-4.1h0m-59.9-6.8h0m2.4 2.3h0m59.5-4.3h0" stroke="#414186" stroke-width="1.75" stroke-linecap="round" stroke-opacity="0.9"/><path d="M500.2 562.9h0m1.1-4.7h0m27.7 8.9h0m5.3-.9h0m-.5 6.8h0m-32.8-12.1h0m45.3 3.5h0m-8.1 19h0m-36.8-24.5h0m28.4 5.3h0m-26.1-12.7h0m-1.4 11.3h0m15.1 15.4h0m2.7-7.8h0m-14.7-10.1h0m.7 11.9h0m24-22.2h0m-16 18h0m32.8 .5h0m-1 2.9h0m-44.6-10.2h0m1.5 7.6h0m3-5.3h0m31.4 1.8h0m-23.1-10.7h0" stroke="#92d741" stroke-width="1.75" stroke-linecap="round" stroke-opacity="0.9"/><path d="M555.2 560.8h0m1 10.7h0m-2.5-13.5h0m-58.2-11.3h0m-2.8 13.6h0m2.1 7.7h0m-2-13.5h0m1.2 11.4h0m3.2-7.5h0m-2.5 8.6h0m1.7-12.8h0m-2-.8h0m.8 8.9h0m60.9-6.7h0m-60.5 .3h0m2.3 4.5h0m-2.5 1.9h0m-1.9-2.6h0m.9 6.8h0m5-2.7h0m-6.6-4.3h0m.7-9.1h0m.9 17.1h0" stroke="#462d7c" stroke-width="1.75" stroke-linecap="round" stroke-opacity="0.9"/><path d="M530.2 570.4h0m-17.6-3.8h0m-11.3-12.2h0m-2.2 5.2h0m26.3 5.6h0m-22.5 10.9h0m10.1-26.2h0m1.4 19.4h0m33.2-38.1h0m-43.9 38.2h0m-2.8 5.7h0m43.9 2.5h0m-46.6-29.7h0m17.2 23.3h0m-4.3-23.8h0m-15.6 27.3h0m7-22.8h0" stroke="#57c665" stroke-width="1.75" stroke-linecap="round" stroke-opacity="0.9"/><path d="M498.3 562.3h0m-1.3 10.4h0m60.5-23.3h0m-1.6 7.9h0m-.8 .1h0m-57.6 1.4h0m0 1.8h0m57.2 5.4h0m-59.6-3h0m62.3-8.4h0m-4.5 .4h0m-57.5 4.1h0m60.1-3.2h0m-2.2 4h0m-54.3 7.2h0m-4.7-15.7h0m2.6 11.2h0m-2.8-1h0" stroke="#3d4a89" stroke-width="1.75" stroke-linecap="round" stroke-opacity="0.9"/><path d="M501.5 570.8h0m2.2-12.6h0m-1.5 6h0m-.1-3.5h0m-.4 7.7h0m-.4-32.3h0m49.1 35h0m-42.3-22.8h0" stroke="#24848d" stroke-width="1.75" stroke-linecap="round" stroke-opacity="0.9"/><path d="M551.8 547.6h0m8.1 12.5h0m-58.8-2.5h0m57.9-1h0m-3.8-1.2h0m-59.4 7.2h0m2.9-4.2h0m-4.4-6h0m3.3 9.7h0m58.4-7h0m-62.2 2h0m1.5-4.2h0m2.6 15.6h0m-1.3-3.8h0m57.4-8.9h0m5.3-2.2h0m-5.5 1.7h0m.9 10.7h0m-61.1-13.4h0m4.9 6.1h0" stroke="#47186a" stroke-width="1.75" stroke-linecap="round" stroke-opacity="0.9"/><path d="M494.2 555h0m59.6 3.5h0m-55.1-5.8h0m-5.5 5.5h0m3.5-5.8h0m-.4 14.8h0m.6-10.6h0m-1.2 7.6h0m1.4-9.7h0m56.5-.7h0m-55.6 8.7h0m.2-2.3h0m58.1-.3h0m-62.9 2.7h0m4.8-5.5h0m.9 8.6h0m-2.4-2.9h0m-.7-7.7h0m-1.1 3.6h0m56 .5h0m-55.1 2h0m62.4-4.9h0m-61.5 11h0m60.3-16.6h0m-.9 10.4h0m-62.5-7.4h0" stroke="#443781" stroke-width="1.75" stroke-linecap="round" stroke-opacity="0.9"/><path d="M502.5 538.9h0m.5 25.6h0m-1.5-14.1h0m48.3 4.5h0m-49 10.8h0m3.2-.7h0m-.2-4.2h0m-6.7-13h0m51.5 11.5h0m-45.2 .1h0" stroke="#24aa82" stroke-width="1.75" stroke-linecap="round" stroke-opacity="0.9"/><path d="M506.3 563.6h0m-8.7-15.8h0m6.2-2.8h0m.4 13h0m-3-2.6h0m4.9 6.5h0m-3.8-13.3h0m46.9 10.2h0m-43.6 9.6h0m4.2-18.6h0" stroke="#228b8d" stroke-width="1.75" stroke-linecap="round" stroke-opacity="0.9"/><path d="M494.9 551.9h0m-1.3 8.6h0m-1.8 5.3h0m59.5-6.4h0m-52.3-7.1h0m55.2 10.9h0m-59.9-3.3h0m.9 2.3h0m-.5 5.9h0m1.7-7.6h0m58.6 2.3h0m1.6-.9h0" stroke="#355c8c" stroke-width="1.75" stroke-linecap="round" stroke-opacity="0.9"/><path d="M550.5 567.6h0m-47.2-27.2h0m-11.5 25.1h0m9.7-1.6h0m3-9.5h0m.5 21h0m-1.6-14.1h0m-2.2 10.7h0" stroke="#277c8e" stroke-width="1.75" stroke-linecap="round" stroke-opacity="0.9"/><path d="M495.7 561.6h0m.2-3.7h0m-2 2.5h0m61.6 3h0m-59.2-5.1h0m.2-4.2h0m59.1 4.3h0m-57.9-4.5h0m-.2 3.4h0m-.2-3.6h0m-1.4-1.6h0m0-3.9h0m58.6 9h0m-55.7 7.8h0m59.8-4.8h0m-61.8 2.7h0m-2.8-8.2h0m57.9 2.2h0" stroke="#482273" stroke-width="1.75" stroke-linecap="round" stroke-opacity="0.9"/><path d="M548.5 564.6h0m-40.2-19.3h0m-9.7 19.3h0m1.1-23.1h0m4.6 21.6h0m-4.1 2.4h0m4-20h0m40.4 18.9h0m-48-3h0m3.4-2.7h0m.5 5.4h0m.2-1.2h0m18.6 13.4h0m-13-19.2h0m-2.5-12h0m31 28.6h0" stroke="#2eb27c" stroke-width="1.75" stroke-linecap="round" stroke-opacity="0.9"/><path d="M501.3 550h0m1.1 9.8h0m5-1.8h0m-6 2.7h0m55.4 1.1h0m-60.7-3.8h0m52 8.3h0m-40.8-.9h0m42.5-6.7h0m-44.7 7.7h0m45.5-12h0m-50.1 6.2h0m42.9 10.4h0m-40.5-7.1h0m-4.6 28.2h0m51.7-30.3h0m-52.1-8.4h0" stroke="#1fa386" stroke-width="1.75" stroke-linecap="round" stroke-opacity="0.9"/><path d="M535.3 569.7h0m-11.8 4.9h0m5.7-14.6h0m-18.7-21.2h0m29.9 32.1h0m-3.5-4.9h0m-29.5-13.1h0m35.7 30.9h0m-33.5-21.6h0m12.2 7.9h0" stroke="#bfdf24" stroke-width="1.75" stroke-linecap="round" stroke-opacity="0.9"/><path d="M511.6 566.6h0m24.5 7.9h0m-11.6-9.8h0m20.5-2.4h0m-3-3.2h0m-34 14.7h0m4.4-17.9h0m29 4.8h0m-14.6-22.4h0" stroke="#e9e419" stroke-width="1.75" stroke-linecap="round" stroke-opacity="0.9"/><path d="M532 565.9h0m-14.6 .6h0m-10-5.5h0m8.2 2.7h0m22.2-2.6h0" stroke="#fde724" stroke-width="1.75" stroke-linecap="round" stroke-opacity="0.9"/></g><rect x="489.70" y="516.40" width="77.60" height="83.20" fill="none" stroke="#a8a8a8" stroke-width="0.9"/><line x1="491.51" y1="599.60" x2="491.51" y2="601.20" stroke="#333" stroke-width="0.6"/><text x="491.51" y="607.80" font-size="7.05" text-anchor="middle" fill="#555555" stroke="#555555" stroke-width="0.13">0.00</text><line x1="509.61" y1="599.60" x2="509.61" y2="601.20" stroke="#333" stroke-width="0.6"/><text x="509.61" y="607.80" font-size="7.05" text-anchor="middle" fill="#555555" stroke="#555555" stroke-width="0.13">0.25</text><line x1="527.70" y1="599.60" x2="527.70" y2="601.20" stroke="#333" stroke-width="0.6"/><text x="527.70" y="607.80" font-size="7.05" text-anchor="middle" fill="#555555" stroke="#555555" stroke-width="0.13">0.50</text><line x1="545.80" y1="599.60" x2="545.80" y2="601.20" stroke="#333" stroke-width="0.6"/><text x="545.80" y="607.80" font-size="7.05" text-anchor="middle" fill="#555555" stroke="#555555" stroke-width="0.13">0.75</text><line x1="563.90" y1="599.60" x2="563.90" y2="601.20" stroke="#333" stroke-width="0.6"/><text x="563.90" y="607.80" font-size="7.05" text-anchor="middle" fill="#555555" stroke="#555555" stroke-width="0.13">1.00</text><line x1="488.10" y1="596.07" x2="489.70" y2="596.07" stroke="#333" stroke-width="0.6"/><text x="487.10" y="599.17" font-size="7.05" text-anchor="end" fill="#555555" stroke="#555555" stroke-width="0.13">−0.75</text><line x1="488.10" y1="583.46" x2="489.70" y2="583.46" stroke="#333" stroke-width="0.6"/><text x="487.10" y="586.56" font-size="7.05" text-anchor="end" fill="#555555" stroke="#555555" stroke-width="0.13">−0.50</text><line x1="488.10" y1="570.86" x2="489.70" y2="570.86" stroke="#333" stroke-width="0.6"/><text x="487.10" y="573.96" font-size="7.05" text-anchor="end" fill="#555555" stroke="#555555" stroke-width="0.13">−0.25</text><line x1="488.10" y1="558.25" x2="489.70" y2="558.25" stroke="#333" stroke-width="0.6"/><text x="487.10" y="561.35" font-size="7.05" text-anchor="end" fill="#555555" stroke="#555555" stroke-width="0.13">0.00</text><line x1="488.10" y1="545.65" x2="489.70" y2="545.65" stroke="#333" stroke-width="0.6"/><text x="487.10" y="548.75" font-size="7.05" text-anchor="end" fill="#555555" stroke="#555555" stroke-width="0.13">0.25</text><line x1="488.10" y1="533.04" x2="489.70" y2="533.04" stroke="#333" stroke-width="0.6"/><text x="487.10" y="536.14" font-size="7.05" text-anchor="end" fill="#555555" stroke="#555555" stroke-width="0.13">0.50</text><line x1="488.10" y1="520.43" x2="489.70" y2="520.43" stroke="#333" stroke-width="0.6"/><text x="487.10" y="523.53" font-size="7.05" text-anchor="end" fill="#555555" stroke="#555555" stroke-width="0.13">0.75</text><text x="464.70" y="558.00" font-size="8.10" text-anchor="middle" fill="#1a1a1a" transform="rotate(-90 464.70 558.00)">age correlation</text><text x="528.50" y="615.60" font-size="8.10" text-anchor="middle" fill="#1a1a1a">probe mean</text><line x1="604.40" y1="554.32" x2="681.50" y2="554.32" stroke="#a0a0a0" stroke-width="0.55" stroke-dasharray="2.6,1.9"/><line x1="604.40" y1="562.19" x2="681.50" y2="562.19" stroke="#a0a0a0" stroke-width="0.55" stroke-dasharray="2.6,1.9"/><clipPath id="cf5"><rect x="604.40" y="516.40" width="77.10" height="83.20"/></clipPath><g clip-path="url(#cf5)"><path d="M609.7 565.1h0m56.9-5.8h0m-59.5 3.3h0" stroke="#47186a" stroke-width="1.75" stroke-linecap="round" stroke-opacity="0.9"/><path d="M654.5 551.9h0m-18.7 14.8h0m-2.4-32.2h0m-13.4 27.6h0m49.4 6.3h0m-54.5-13.3h0m38 3.2h0" stroke="#6bcd59" stroke-width="1.75" stroke-linecap="round" stroke-opacity="0.9"/><path d="M616.8 554.7h0m42.7 8.2h0m-39.1 1.6h0m.7-13.3h0m22.7-8.1h0m-25.8 21.9h0m10.8-26.5h0m-7 14.2h0m30.1 5.2h0m-13.3 14h0m33.6-22.4h0" stroke="#57c665" stroke-width="1.75" stroke-linecap="round" stroke-opacity="0.9"/><path d="M658.7 541.6h0m-29.7 19.7h0m9.1-14.3h0m35.2 3h0m-13.9 14.8h0m-32.9-15.6h0m25 24.1h0m16.1-13.7h0m-12.1-9.1h0" stroke="#a7db33" stroke-width="1.75" stroke-linecap="round" stroke-opacity="0.9"/><path d="M651.4 567.2h0m-28-12.5h0m5.7 17.5h0m26.6-8.3h0" stroke="#2e6c8e" stroke-width="1.75" stroke-linecap="round" stroke-opacity="0.9"/><path d="M663.4 560.4h0m-21.7 .6h0m-21.2 1.3h0m37.6-16.1h0m-27.7-5.4h0m36.1 24.3h0m1.9-1.8h0" stroke="#d4e11a" stroke-width="1.75" stroke-linecap="round" stroke-opacity="0.9"/><path d="M642.6 563.3h0m-12.9 6.4h0m17.6-27.2h0m-19.3 22.4h0m17.6-15h0m4.8 12.6h0m17.9-7.5h0m-11 17.8h0m12.9-13h0m-44.7 3.6h0m13.5 5.8h0m-7.5-10h0" stroke="#bfdf24" stroke-width="1.75" stroke-linecap="round" stroke-opacity="0.9"/><path d="M669.2 552.7h0m-1.9 .4h0m-58.8 8.9h0m-.4 3.9h0" stroke="#443781" stroke-width="1.75" stroke-linecap="round" stroke-opacity="0.9"/><path d="M620 564.9h0m33.1-3.6h0m-21.3-9.9h0m2.3 24.4h0m-12.2 5.3h0m1.7-.4h0" stroke="#e9e419" stroke-width="1.75" stroke-linecap="round" stroke-opacity="0.9"/><path d="M674.2 559.3h0m-36.8-16.8h0m24.7 2.3h0m11.3 9.1h0m-32.2 3.5h0m2.1 .4h0m24.8 7.8h0m-14.3-5.4h0" stroke="#2eb27c" stroke-width="1.75" stroke-linecap="round" stroke-opacity="0.9"/><path d="M668.2 564.8h0m-26.2-6h0m-23 10.3h0m11.4-11.2h0m16.9 12.5h0" stroke="#1e9b89" stroke-width="1.75" stroke-linecap="round" stroke-opacity="0.9"/><path d="M653.3 564.2h0m-13.8 7.2h0m-8.9-11.1h0m36.8 2.8h0m-38.5-6.5h0m5.3-30h0" stroke="#92d741" stroke-width="1.75" stroke-linecap="round" stroke-opacity="0.9"/><path d="M622 574.8h0m14.4-6h0m33.9 8h0m-48.5 13.3h0m4.7-41.7h0m12.9 10.3h0m-19.7 16.7h0m16.1-13.2h0m33.2 27.2h0m-52.7-27.8h0m49.6 2.8h0m-12.4-17.1h0" stroke="#39b976" stroke-width="1.75" stroke-linecap="round" stroke-opacity="0.9"/><path d="M654.6 563.5h0m-8.2-25.8h0m22.3 38.8h0" stroke="#24848d" stroke-width="1.75" stroke-linecap="round" stroke-opacity="0.9"/><path d="M652.5 566.4h0m-.9-17.3h0m20.6 13.4h0m-30.2 4.5h0m-21.4 4.2h0m11.4-23.9h0m21.1 21.8h0" stroke="#24aa82" stroke-width="1.75" stroke-linecap="round" stroke-opacity="0.9"/><path d="M647.1 576.5h0m6.3 4.9h0m20-7.9h0m-8-15.5h0m-18.3-10h0m12.3 12h0m-25.3 9.4h0m38.5-2.4h0m-30.6-18.3h0m-23.8-15.7h0" stroke="#47c06e" stroke-width="1.75" stroke-linecap="round" stroke-opacity="0.9"/><path d="M665.6 555h0" stroke="#355c8c" stroke-width="1.75" stroke-linecap="round" stroke-opacity="0.9"/><path d="M621.5 551.1h0m40.1 12.7h0" stroke="#228b8d" stroke-width="1.75" stroke-linecap="round" stroke-opacity="0.9"/><path d="M630.4 559.1h0m24.3 .5h0m-16.3 5.6h0m-12.5 5.8h0m21.1-24.9h0m1.5 15.5h0" stroke="#1f948b" stroke-width="1.75" stroke-linecap="round" stroke-opacity="0.9"/><path d="M665.5 556h0m-33.4 3.4h0m21.1-7.6h0" stroke="#277c8e" stroke-width="1.75" stroke-linecap="round" stroke-opacity="0.9"/><path d="M660.1 580.1h0m13.8-1.4h0m-28.5-13.6h0" stroke="#7ed24e" stroke-width="1.75" stroke-linecap="round" stroke-opacity="0.9"/><path d="M635.1 566h0m-1.5 5.4h0m39.8-6.2h0m-.6-2.6h0m-18.4 9.7h0m13.1-33.5h0" stroke="#1fa386" stroke-width="1.75" stroke-linecap="round" stroke-opacity="0.9"/><path d="M667.1 557.3h0" stroke="#482273" stroke-width="1.75" stroke-linecap="round" stroke-opacity="0.9"/><path d="M630.5 560.5h0m-2.8 24.5h0" stroke="#fde724" stroke-width="1.75" stroke-linecap="round" stroke-opacity="0.9"/><path d="M669.2 558.5h0" stroke="#414186" stroke-width="1.75" stroke-linecap="round" stroke-opacity="0.9"/><path d="M646.9 553h0" stroke="#2a758e" stroke-width="1.75" stroke-linecap="round" stroke-opacity="0.9"/></g><rect x="604.40" y="516.40" width="77.10" height="83.20" fill="none" stroke="#a8a8a8" stroke-width="0.9"/><line x1="606.20" y1="599.60" x2="606.20" y2="601.20" stroke="#333" stroke-width="0.6"/><text x="606.20" y="607.80" font-size="7.05" text-anchor="middle" fill="#555555" stroke="#555555" stroke-width="0.13">0.00</text><line x1="624.18" y1="599.60" x2="624.18" y2="601.20" stroke="#333" stroke-width="0.6"/><text x="624.18" y="607.80" font-size="7.05" text-anchor="middle" fill="#555555" stroke="#555555" stroke-width="0.13">0.25</text><line x1="642.16" y1="599.60" x2="642.16" y2="601.20" stroke="#333" stroke-width="0.6"/><text x="642.16" y="607.80" font-size="7.05" text-anchor="middle" fill="#555555" stroke="#555555" stroke-width="0.13">0.50</text><line x1="660.14" y1="599.60" x2="660.14" y2="601.20" stroke="#333" stroke-width="0.6"/><text x="660.14" y="607.80" font-size="7.05" text-anchor="middle" fill="#555555" stroke="#555555" stroke-width="0.13">0.75</text><line x1="678.12" y1="599.60" x2="678.12" y2="601.20" stroke="#333" stroke-width="0.6"/><text x="678.12" y="607.80" font-size="7.05" text-anchor="middle" fill="#555555" stroke="#555555" stroke-width="0.13">1.00</text><line x1="602.80" y1="596.07" x2="604.40" y2="596.07" stroke="#333" stroke-width="0.6"/><text x="601.80" y="599.17" font-size="7.05" text-anchor="end" fill="#555555" stroke="#555555" stroke-width="0.13">−0.75</text><line x1="602.80" y1="583.46" x2="604.40" y2="583.46" stroke="#333" stroke-width="0.6"/><text x="601.80" y="586.56" font-size="7.05" text-anchor="end" fill="#555555" stroke="#555555" stroke-width="0.13">−0.50</text><line x1="602.80" y1="570.86" x2="604.40" y2="570.86" stroke="#333" stroke-width="0.6"/><text x="601.80" y="573.96" font-size="7.05" text-anchor="end" fill="#555555" stroke="#555555" stroke-width="0.13">−0.25</text><line x1="602.80" y1="558.25" x2="604.40" y2="558.25" stroke="#333" stroke-width="0.6"/><text x="601.80" y="561.35" font-size="7.05" text-anchor="end" fill="#555555" stroke="#555555" stroke-width="0.13">0.00</text><line x1="602.80" y1="545.65" x2="604.40" y2="545.65" stroke="#333" stroke-width="0.6"/><text x="601.80" y="548.75" font-size="7.05" text-anchor="end" fill="#555555" stroke="#555555" stroke-width="0.13">0.25</text><line x1="602.80" y1="533.04" x2="604.40" y2="533.04" stroke="#333" stroke-width="0.6"/><text x="601.80" y="536.14" font-size="7.05" text-anchor="end" fill="#555555" stroke="#555555" stroke-width="0.13">0.50</text><line x1="602.80" y1="520.43" x2="604.40" y2="520.43" stroke="#333" stroke-width="0.6"/><text x="601.80" y="523.53" font-size="7.05" text-anchor="end" fill="#555555" stroke="#555555" stroke-width="0.13">0.75</text><text x="580.00" y="558.00" font-size="8.10" text-anchor="middle" fill="#1a1a1a" transform="rotate(-90 580.00 558.00)">age correlation</text><text x="642.95" y="615.60" font-size="8.10" text-anchor="middle" fill="#1a1a1a">probe mean</text><text x="6.80" y="523.70" font-size="8.80" text-anchor="start" fill="#000" font-weight="bold">f</text><defs><linearGradient id="vg" x1="0" x2="1" y1="0" y2="0"><stop offset="0.000" stop-color="#440154"/><stop offset="0.100" stop-color="#482374"/><stop offset="0.200" stop-color="#404387"/><stop offset="0.300" stop-color="#345e8d"/><stop offset="0.400" stop-color="#29788e"/><stop offset="0.500" stop-color="#20908c"/><stop offset="0.600" stop-color="#22a784"/><stop offset="0.700" stop-color="#44be70"/><stop offset="0.800" stop-color="#79d151"/><stop offset="0.900" stop-color="#bdde26"/><stop offset="1.000" stop-color="#fde724"/></linearGradient></defs><rect x="239.90" y="619.90" width="108.60" height="14.30" fill="url(#vg)"/><line x1="242.20" y1="619.90" x2="242.20" y2="622.40" stroke="#fff" stroke-width="0.5"/><line x1="242.20" y1="631.70" x2="242.20" y2="634.20" stroke="#fff" stroke-width="0.5"/><text x="242.20" y="643.00" font-size="7.20" text-anchor="middle" fill="#555555" stroke="#555555" stroke-width="0.13">0.00</text><line x1="268.20" y1="619.90" x2="268.20" y2="622.40" stroke="#fff" stroke-width="0.5"/><line x1="268.20" y1="631.70" x2="268.20" y2="634.20" stroke="#fff" stroke-width="0.5"/><text x="268.20" y="643.00" font-size="7.20" text-anchor="middle" fill="#555555" stroke="#555555" stroke-width="0.13">0.25</text><line x1="294.20" y1="619.90" x2="294.20" y2="622.40" stroke="#fff" stroke-width="0.5"/><line x1="294.20" y1="631.70" x2="294.20" y2="634.20" stroke="#fff" stroke-width="0.5"/><text x="294.20" y="643.00" font-size="7.20" text-anchor="middle" fill="#555555" stroke="#555555" stroke-width="0.13">0.50</text><line x1="320.20" y1="619.90" x2="320.20" y2="622.40" stroke="#fff" stroke-width="0.5"/><line x1="320.20" y1="631.70" x2="320.20" y2="634.20" stroke="#fff" stroke-width="0.5"/><text x="320.20" y="643.00" font-size="7.20" text-anchor="middle" fill="#555555" stroke="#555555" stroke-width="0.13">0.75</text><line x1="346.20" y1="619.90" x2="346.20" y2="622.40" stroke="#fff" stroke-width="0.5"/><line x1="346.20" y1="631.70" x2="346.20" y2="634.20" stroke="#fff" stroke-width="0.5"/><text x="346.20" y="643.00" font-size="7.20" text-anchor="middle" fill="#555555" stroke="#555555" stroke-width="0.13">1.00</text><text x="220.20" y="632.20" font-size="9.70" text-anchor="start" fill="#000">ICC</text><clipPath id="cg"><rect x="39.00" y="664.50" width="104.40" height="104.50"/></clipPath><g clip-path="url(#cg)"><path d="M130.1 682.2h0m-38 35.7h0m6.8-7.3h0m32-29.5h0m.8-3.4h0m4.5-4.1h0m1.8-.6h0m-18.4 17.5h0m-33.4 30.7h0m37.9-27.3h0m-25.4 18.4h0m33.9-34.6h0m-66.2 66.5h0m41.8-35.9h0m-9.5 3.1h0m-15.6 14.9h0m52.8-52.8h0m-27.1 25.5h0m-16 21.2h0m32.5-34.3h0m-58.7 60h0m36.3-38.4h0m-4.7 3.5h0m-22.7 20.9h0m12.3-12.1h0m8.9-5.8h0m-5.6 7h0m47.1-50.7h0m-64.7 63.1h0m64.6-60.8h0m-7.6 11.2h0m-49.2 45.6h0m8.6-8.5h0m-3 4.2h0m25.3-27h0m6.4-6.1h0m6-5.7h0m2.5-3.9h0m-20.8 20.7h0m22.1-20.2h0m-1.2 3h0m2.7-4h0m-2.6 3.7h0m-1.2-.8h0m-21.8 22.3h0m16.6-14.8h0m13.9-17.9h0m-85.7 87.8h0m91.1-93.3h0m-39.5 39.9h0m-36 38.9h0m14.1-9.8h0m27.7-32.2h0m33.2-37.6h0m-62.4 64.3h0m14.1-15.9h0m15.5-13.6h0m29.2-27.4h0m-14.3 13h0m-9.8 7.8h0m-5.3 6.2h0m-15.8 21h0m18.3-22h0m-39.9 38.2h0m65.3-63.8h0m-52.5 56.1h0m7.9-8h0m35.7-39.6h0m-66.8 65.7h0m63.3-62.9h0m8 .5h0m-28.3 24.5h0m25.9-30h0m-21.9 31.4h0m30-37.3h0m-5.4 6.3h0m-42.3 39h0m16.2-12.9h0m34.5-37.9h0m-7.2 5.7h0m-26.4 34.1h0m26.8-35.1h0m-59.2 66.9h0m43.7-47h0m-35.7 32.9h0m31.6-31.1h0m26.5-24.8h0m-53.3 51.2h0m36.9-36.5h0m-16.1 19.3h0m-9.7 9.1h0m25.5-20.4h0m-6.8 3.8h0m24.6-29.8h0m-14.7 13.3h0m-21.5 24.7h0m33.5-35.3h0m-1.1 3.7h0m-43.5 41.1h0m26.2-20.4h0m-34 30.9h0m24.1-27.3h0m4.1-2.8h0m-39.3 44.7h0m53.2-59.6h0m11.8-7.8h0m-15.2 11h0m-.1 1.9h0m15.4-16.2h0m-59.2 61.2h0m58.2-58.2h0m-46.9 46.7h0m29.5-32.1h0m8.6-6.7h0m6.5-7.3h0m-63.3 65.7h0m67.8-71h0m-40.1 41.2h0m-4.6 2.7h0m16-13.5h0m-37.9 36h0m34.2-34.8h0m-16.1 20.7h0m4.5-5.3h0m17-20.7h0m-34.8 39.7h0m-8.2 1.8h0m32.7-30.1h0m-15.2 14.2h0m-26.8 26.3h0m70.2-68.5h0m-47.7 50.7h0m43.6-47.3h0m13-13h0m-72.4 71.7h0m20.6-18.6h0m-32.5 31.8h0m32.3-27.1h0m8-13.8h0m24.9-24.1h0m4.1 .1h0m.3-5.4h0m-15 14.6h0m18.8-2h0m-2.6-10.6h0m-9.6 7.7h0m-16.3 19.4h0m19.5-21.6h0m-38.3 38h0m9.9-8.7h0m17.2-21h0m-28.4 30.3h0m17-17h0m-5.5 5h0m21.6-20.3h0m12.4-14.7h0m-7.4 8.7h0m1.4 8h0m1-11.5h0m-9.9 10.7h0m-38.3 41.6h0m36-42.1h0m-49.2 49.9h0m75.1-72.8h0m-14 16.1h0m14.6-21.2h0m5.1-.2h0m-3.5 6.7h0m-28.5 24h0m-2.4 2.5h0m24-24.5h0m-21.4 25h0m27.4-22.9h0m-3.6-3.5h0m-46.2 46.6h0m6.7-7h0m-20.6 21.4h0m22.2-22.8h0m28.5-27.7h0m-1.3 8.7h0m1.5-11.6h0m-3.6 8.5h0m-28.2 29.5h0m-28.2 24.9h0m24.4-19.8h0m35.6-44.3h0m-1.6 7.2h0m-15.1 11.6h0m9.6-6.9h0m1 2h0m-46 40.2h0m37.7-35.7h0m-33.3 31.8h0m4.3-3.7h0m51.5-51.6h0m-27.8 23.5h0m16.2-4.9h0m-17.7 12h0m-8.6 7.7h0m-19.9 18.3h0m27-19.8h0m21.7-21.9h0m.2-6h0m-50 52.1h0m32.4-37.5h0m1.9 3h0m-8.8 8.2h0m13.9-14.1h0m22.5-23.3h0m-81.1 79.8h0m26.2-24.6h0m33.3-31.7h0m13.6-14.9h0m-33.9 34.5h0m.6 .6h0m10.5-12.3h0m33-35.6h0m-26.7 27.4h0m21-19.4h0m-26.8 24.4h0m-19.4 22.2h0m35.9-28.5h0m-30.7 21h0m12.2-4.2h0m-3.9-3.3h0m8.7-8.3h0m-11.7 13.6h0m37.5-39.5h0m-16.3 16.2h0m17.3-13.1h0m-1.8 0h0m-34.6 31.8h0m-39.3 39.5h0m47.3-45.4h0m3.2-6.6h0m9.5-3.4h0m-2.2-2.2h0m-15.4 17.7h0m2.9-5h0m-40.3 39.4h0m26.8-16.1h0m24.6-34.9h0m-22.7 33.7h0m14.7-25.9h0m-37.5 45.9h0m6.4-12.8h0m34.9-35.3h0m-8.5 9.9h0m-.4-1.7h0m.8 1h0m-16 14.5h0m4.4-.1h0m29.8-33.1h0m-24.9 26.5h0m43.7-47h0m-7.5 5.7h0m-37.1 42h0m31.1-34.2h0m10.7-3.2h0m-30.6 22h0m-39.2 40.2h0m63.6-61.7h0m-8.5 6.2h0m-29.9 28.9h0m36-36.8h0m-16.2 16.1h0m-29.7 34.1h0m38.1-39.4h0m11.9-14.3h0m-80.2 85.4h0m69.4-68.9h0m-1.3-4.7h0m-2.4 7.6h0m-3.9 0h0m-15.3 17.1h0m42.3-43.7h0m-23.9 25.1h0m-8.3 8.6h0m30-31.7h0m-1.8 2.2h0m-32 38.1h0m24.8-31.6h0m9.5-9.3h0m-38.6 47.4h0m-1.7-5.1h0m29.6-32.4h0m5.4-5.9h0m-3.1 5.2h0m1-1.1h0m-2 3.7h0m-63.1 59.5h0m73.6-71.8h0m-1.9 1.4h0m-10.2 11.2h0m-6.6 5.9h0m-33.1 34.9h0m47.4-48.9h0m-67.2 67.4h0m31.4-30.9h0m-16.3 14.6h0m8.5-6h0m-23.9 25h0m7.3-4h0m-12.5 4.6h0m34.2-30.2h0m14.7-18.1h0m11.5-4.4h0m-16.1 13.6h0m11.8-10.3h0m15.7-21.9h0m-57.3 61.2h0m-13.6 8.6h0m69.7-67.7h0m-46.8 47.3h0m49.8-42.7h0m-29.4 23.3h0m.2 1h0m4.2-4.3h0m-12.6 8.5h0m12.5-7.9h0m26-28.6h0m-24.8 24.5h0m-56.8 56.4h0m58.3-57h0m13-15.7h0m6.4-2.9h0m-42.8 44.5h0m32-32.1h0m6.4-8.5h0m-11.1 9.9h0m-18.8 21.8h0m-22.9 22.4h0m56.6-59.2h0m-49 53.2h0m15.8-20.6h0m25.2-22h0m-5.7 2.6h0m-40.3 39.4h0m.5 1.3h0m45.5-46.8h0m-16.6 18.9h0m-7.5 5.7h0m-45.8 46.4h0m38.4-40.9h0m23.4-19.9h0m12.2-12.4h0m2-5.4h0m-1 10.7h0m-2.9-3.1h0m-58.5 56.6h0m67.5-68.7h0m-72 72.8h0m-10.4 12.6h0m21.1-20.6h0m2.1-5.4h0m26.6-22.2h0m16.4-19.2h0m1.3 5.2h0m-30.5 25.5h0m32.3-36.8h0m5.2 5.7h0m-61.2 53.7h0m63.4-64.2h0m-17.8 20h0m16.2-17.5h0m-18.6 21.3h0m10.2-13.1h0m-3.8 .9h0m15.6-13h0m-29.4 31.1h0m16.8-15.1h0m-6.7 2.8h0m-46.5 47.6h0m11.1-9.4h0m36.7-38.5h0m-6.8 8.4h0m2.5 3.9h0m-13.6 11.9h0m33.4-39.2h0m7.1-7.7h0m-60.9 61.8h0m24.8-26h0m20.8-17.9h0m4.6-5.1h0m-9.7 7.7h0m-44.6 47.8h0m28.2-31.8h0m16.9-17.5h0m-1.6 1.2h0m20.6-17.4h0m-26.4 24.9h0m29-29.8h0m-21.3 23.2h0m1.2-.1h0m.8 .2h0m-19.6 24.5h0m9.2-15.8h0m-1.4-.8h0m31.6-32.2h0m-23.4 25.4h0m22.6-22.3h0m-93.6 90.9h0m74-72.3h0m19.8-18.2h0m-46.2 42.6h0m17.2-10.5h0m28.6-32.6h0m-44.1 43.9h0m-26.7 25.6h0m35.6-34.1h0m-4.2 3.9h0m27.6-29.3h0m-10.5 13.6h0m-22.4 20h0m-1.8 2.1h0m2.9-1.1h0m44.2-45.5h0m-13.1 9.9h0m-22.1 27.2h0m10.5-9.8h0m-44.3 41.2h0m61.7-53.1h0m2.2-12.1h0m3.9-3.7h0m-50.3 56.1h0m29.5-36.8h0m-53.1 55.9h0m31-30.9h0m-19.8 17.6h0m41.1-41.5h0m-40.2 42.4h0m47.5-45.1h0m3.7-4.8h0m-55.8 53.9h0m56.7-55.9h0m-79 79.4h0m80.6-80.6h0m-55 53.7h0m61.8-61h0m-16.3 13.8h0m-11.8 12.5h0m.8 2.8h0m6.9-6.7h0m-26.9 30.5h0m48.7-46h0m-49.2 39.4h0m22.7-23.5h0m-3.7 9.4h0m-4.1 6.1h0m3-7.1h0m28.7-21.9h0m-44.7 36.3h0m45.4-46.4h0m-4.6 7.2h0m-23.1 22.9h0m-19.6 19.6h0m8.4-9.6h0m33.8-34.5h0m-45 46.2h0m26.1-23.2h0m27.6-29.8h0m-60.6 62.3h0m57.7-62.6h0m-27.5 40.1h0m15.2-28.2h0m8-6.2h0m-69.8 69.4h0m6.3-6.1h0m24-20.9h0m25.3-12.8h0m-22.8 6.7h0m12.9-12.1h0m-10.6 12.2h0m-2.5-.3h0m16.6-13.9h0m-3.3-.5h0m-45.6 48.2h0m75.4-73.3h0m-23.1 24.4h0m7.8-8.8h0m7.6-3.5h0m-26.6 23.3h0m-5.9 4.1h0m22.4-24.3h0m-53.6 55.6h0m63.2-62.7h0m-9.4 8.5h0m4.4-.4h0m-54.9 50h0m49.3-46.4h0m15.9-13.8h0m-45.7 41.1h0m39.6-40.2h0m-47.3 46.5h0m56.5-55.3h0m-70.9 71.7h0m49.1-49.2h0m-12.3 12.2h0m-24.5 22.1h0m58.9-55.9h0m-8.6 7.8h0m3.1-3.2h0m-10.5 9.8h0m6.1-6.6h0m-30.3 29.5h0m1.3-.7h0m-11.1 10.8h0m10.7-6.9h0m32-34.4h0m-13.2 16h0m18.8-22h0m2.3-4.1h0m-17.7 25.2h0m-32.2 29.4h0m26.1-28.2h0m-11.7 9.1h0m-45.2 47.1h0m28.5-29.3h0m-14.3 14.9h0m56.1-54.3h0m-33.9 31h0m1.3-.1h0m-25.6 25.5h0m13.7-13.2h0m31.7-32.9h0m1.9-1h0m14-11.7h0m-59.9 59.2h0m36.2-37.2h0m-10.1 9.6h0m18.1-17h0m17.9-21.8h0m-76.3 79.4h0m78.8-79.5h0m-9.1 8.9h0m-22.8 25h0m10.5-13h0m-9.8 10.9h0m31.4-33.4h0m-72.9 72.6h0m66.2-61.8h0m-2.9 2.1h0m-54.8 53.1h0m30.6-31.5h0m.7 2.3h0m25-25.6h0m-56.3 55.1h0m56.2-54.8h0m-45 45.3h0m-19.6 23.6h0m64.5-68.8h0m-35.8 33.3h0m1.1-2.7h0m28.2-26.5h0m-70.9 71.4h0m22.8-18.1h0m45.3-47.6h0m-62.2 65.3h0m47.3-48.6h0m26.5-31.2h0m-31.1 32.4h0m.2-2.5h0m-4.8 9.6h0m-27.3 23.9h0m65.5-63.3h0m-30.3 29.4h0m24.7-28.1h0m-9.7 12.7h0m-42.2 44.6h0m52.6-51.6h0m-8.4 3.5h0m-17.6 19.4h0m29.8-31h0m-71.9 73.1h0m46.9-50.5h0m12.3-5.4h0m-23.7 19h0m32.6-33.3h0m-31.5 33.6h0m25.5-25.2h0m-3.3-.3h0m-13 17.1h0m-12.8 12.5h0m35.5-28.1h0m-.7-8.6h0m-13.6 15.1h0m6.9-6.3h0m-55.4 52.7h0m60.6-47.8h0m-27.1 15.3h0m10.1-10.9h0m-4.9 5.9h0m28.2-28.4h0m-18.9 25.7h0m-.2-8.1h0m-53.8 55.6h0m23.4-23.2h0m50.3-47.7h0m-57.8 53.3h0m59.3-58h0m-43.4 47.4h0m-29.9 26.3h0m38.7-38h0m21.9-21.9h0m-2.5 11.3h0m-51.6 43.4h0m49.2-50.7h0m4.1-3.6h0m-2.4 3.2h0m11.7-13.4h0m-25.3 24h0m8.3-4.1h0m-13.5 9.9h0m-36.4 39.3h0m55.5-53.4h0m17.5-19.9h0m-12.5 14.3h0m-29.6 35.5h0m.2-9h0m6.9-2.2h0m33.4-39.8h0m-9.9 13.8h0m-33.2 30.3h0m-.6 0h0m44.3-36.4h0m-55.1 48.2h0m1.5-.3h0m33.7-34.5h0m-29.6 30.5h0m50.9-49.4h0m-23.1 21.3h0m24.8-27.4h0m-47.7 51.3h0m10.3-9.9h0m38.5-42.5h0m-25.5 33.2h0m-54.5 50.1h0m79.9-79.3h0m-49.7 51.5h0m35.6-38.7h0m-30.6 31.7h0m40.5-41h0m-4.8 5.9h0m9.5-10.5h0m-13.6 12.4h0m-5.5 4.8h0m5.2-5.2h0m-19.2 23h0m-39.1 37.9h0m10.3-6.5h0m26.3-27.2h0m5.9-9h0m-37.5 35h0m58.3-57.7h0m5-6.6h0m-42.6 43.6h0m-3.1 4.7h0m41.5-42.7h0m-7.8 7.8h0m-26.1 25.5h0m-45.2 42.2h0m48.7-45.8h0m31.8-32.5h0m-17.1 18.1h0m-15.6 17.8h0m26.7-27h0m10.7-13.6h0m-32.5 31.8h0m-12 15.1h0m-14.3 14.5h0m30.5-31h0m-.9 .6h0m24.2-17.5h0m-71 69.6h0m15.9-21.2h0m53.1-52.1h0m-22.9 20.1h0m-11.5 11.7h0m32.7-29.2h0m-.4-2h0m-.6 1.6h0m-56.8 57.1h0m66-66.6h0m-80.3 80.3h0m71.9-70.4h0m10.6-8h0m-33.5 29.6h0m-3.7 3.8h0m23.3-23.7h0m-7.5 10.1h0m-7.8 5.8h0m20.1-17.4h0m-14.9 13.1h0m-36.6 36.3h0m46.7-48.1h0m2.2-6.9h0m7.9-1.5h0m2.6-.6h0m-15.7 23.6h0m8.7-20.5h0m-.1 2.1h0m4.1-4.6h0m-40.4 38.5h0m1.1-.7h0m-27.7 28.7h0m68-56.4h0m3.2-14.6h0m-29.9 28.5h0m-5.6 14.9h0m9.2-19.4h0m14.8-11h0m-6.7 4.1h0m-24.6 23h0m20.1-19.1h0m17.4-17.2h0m-33.1 36.2h0m-41 35.8h0m50-46.6h0m-52.6 52.8h0m60.3-61.8h0m-37.9 35.9h0m59.6-54.6h0m-67.6 68.2h0m60.6-59.5h0m-44 40.5h0m26.1-28.7h0m.6 1.7h0m-27.8 26.5h0m-3.5 2.4h0m44.5-41.2h0m-30.9 31.5h0m-.1-2.2h0m21.9-16.4h0m-22.4 18.8h0m29.5-31.2h0m-12.5 13.4h0m-13.3 14.9h0m-22.9 21.1h0m53.9-55.4h0m-70 71.9h0m52.2-51.1h0m22.3-21.9h0m-35.2 30.5h0m-2.6 4.9h0m-7.2 2.4h0m14.1-10.3h0m-32.4 33.1h0m-7.8 12.6h0m31-34.9h0m-10 7.9h0m20-15.1h0m23-20.4h0m-31.3 29.5h0m5.1-.4h0m-11.9 2.6h0m24.6-23h0m13.1-12h0m-15.1 12.7h0m-21.4 21.6h0m.8-1h0m-1.1 8.2h0m39.8-47.7h0m-46.7 46.8h0m34.6-33.1h0m-60.3 59.1h0m62.5-63.1h0m.8-1.5h0m-23.1 23.1h0m29.2-23.9h0m-14.7 11.4h0m-6.7 7.1h0m21.6-22h0m-41.5 47.2h0m9.4-10.3h0m42.9-49h0m-62.4 64.9h0m11.3-15.5h0m45.6-44.3h0m-62.4 60h0m67.4-63.1h0m-64.2 66h0m49.8-54.5h0m6.4-1.8h0m-60.4 58.8h0m33.3-34.7h0m34.9-28.6h0m-23 20.3h0m19.3-20.1h0m1.4-6.2h0m-63.2 67.8h0m-5.7 2h0m69.8-66.7h0m-16.7 15.4h0m-39.6 38h0m.4 3h0m4.8-2.4h0m-16.1 12.7h0m24.1-26h0m-7.3 8.1h0m-40.4 38.6h0m64.7-63.3h0m-8.1 10.4h0m-8 5.6h0m-12.9 13h0m50.1-48.9h0m-5.7 4.2h0m-4.6 7h0m5.7-3.5h0m-56.4 52.2h0m28.3-25.2h0m25.7-26h0m8.7-5.3h0m-7.4 2.1h0m1.7-2.4h0m-25.3 27.9h0m22.5-25.6h0m-13.1 13.2h0m2.7-3.7h0m-16.1 18.4h0m-18.4 20.3h0m45.2-44.7h0m7.4-12.4h0m-53.9 57.7h0m32.9-38.1h0m13.7-9.5h0m-36.2 36.2h0m-28.4 24.9h0m3.4-3h0m23.6-23.1h0m30.6-29h0m.8 1.2h0m-16.9 15.9h0m8.4 1.4h0m-4.9-5.6h0m-33.7 37.3h0m54.6-56.2h0m-.8-2.7h0m-1.4 5.8h0m-13.8 12.4h0m18.7-20.3h0m-12.5 11.7h0m15.2-12.8h0m-13.3 16h0m5.8-10.5h0m4.2 .8h0m8.2-11h0m-48.3 56.1h0m49.9-60.8h0m-15.5 15.3h0m-22.8 23.8h0m25.4-26h0m.2 1.9h0m6.9-5.7h0m-49.6 49h0m40.9-43.2h0m10.4-14.3h0m4.8-.4h0m-6.5 8.9h0m-51.4 46.7h0m51.2-51.3h0m-8.5 12.6h0m-1.5 8.2h0m.3-7.1h0m-29.2 35.1h0m43.9-53.1h0m-28.1 29.5h0m2.6 2.9h0m21.8-23.9h0m-12.8 10.6h0m.3-1h0m-1.1 1.5h0m-7.7 6.6h0m10.7-1.5h0m-32.4 23.8h0m45.1-45h0m-26.8 25.6h0m13.3-16.3h0m-16.4 24.5h0m28.1-31h0m-34.1 35h0m18.5-19.5h0m-.7-.4h0m-71.4 73.9h0m79-81.9h0m-7.5 8.4h0m-22.9 22.1h0m10.5-6.6h0m26-26.8h0m-20.3 20.7h0m13.4-17.3h0m7.9-9.1h0m1.6 .4h0m-2.9 6.4h0m-25.1 24h0m-38.5 38.5h0m52.5-57.2h0m-54.7 58.7h0m18.7-18.7h0m24.3-26.1h0m8.1-5.5h0m18.8-14.3h0m-65.9 59h0m64.6-59.5h0m-5.9 3.5h0m-19.4 18.5h0m27.2-30.7h0m-13.4 14.6h0m-12.5 13.3h0m-23.6 27.3h0m52.9-57.7h0m-42.8 42.5h0m40.8-44.1h0m-6.3 12.4h0m-45.7 50.4h0m17-23h0m11.8-10.8h0m19.7-22.4h0m.1 4.7h0m-52.3 50.4h0m57.6-58h0m-15.4 13.9h0m-13.6 15.5h0m18.7-20.4h0m-3.9 1.1h0m-9.3 13.5h0m-9.3 7.9h0m6.5-5.3h0m14.6-15.9h0m-35.9 34.7h0m18.7-16.6h0m22.3-23.1h0m5.2-7.2h0m-77.5 79.8h0m42.3-42.6h0m-51.5 51.2h0m84.5-80.3h0m-7.6 5h0m-50.2 50.7h0m27.7-27.2h0m-14.9 11.4h0m31.3-32.6h0m.3 2.2h0m-47.3 49.6h0m61.7-65.3h0m-15 17.5h0m3.8 1.8h0m9-14.9h0m-9.8 10.9h0m-35.7 33.2h0m8.3-8.6h0m39.9-38h0m-8.5 9.7h0m-12.8 10h0m23.2-22.9h0m-17.3 19.8h0m14.4-13.9h0m1.4-1.2h0m-43.2 40.4h0m43.5-41.4h0m-23.2 22.2h0m-.2-.2h0m19.7-22.4h0m-29.5 39.3h0m-6.7-3.2h0m21.9-19.3h0m17.8-15.7h0m-7.5 6h0m-47.7 45h0m-25.7 30.2h0m17.3-21h0m26.7-26.5h0m-12.3 13.9h0m.7-1.4h0m21.7-20.9h0m21.5-24.8h0m-29.9 30.8h0m20.3-18.7h0m-26.3 28.3h0m-.5 .9h0m-35.9 32.9h0m61.1-60.4h0m8.9-9h0m2.7-2.8h0m-51.1 52.5h0m57.4-57.1h0m-66.2 65.6h0m-7.1 7.4h0m64.4-65.8h0m1.3-1.5h0m-19.7 21.1h0m-64.2 66.4h0m87.2-77.2h0m-26 12.1h0m-10.4 8.6h0m36.2-27.6h0m-68.2 59.1h0m52.1-48.3h0m-7.1 9.5h0m-.8-.8h0m-61.2 61.7h0m44.6-43.5h0m6.8-11h0m-9.5 9.9h0m-23.2 22.9h0m14.8-14.6h0m34.5-31.3h0m4-7.7h0m-7.4 9.3h0m-30.1 29.3h0m44.8-43.5h0m-6.9 7.8h0m-12.9 11.3h0m-38.9 38.9h0m57.7-58.4h0m-75.8 74h0m67.1-52.2h0m16.1-30.3h0m-25 28.8h0m20.3-22.5h0m5.5-7.5h0m-24.3 26.6h0m-12.5 8.6h0m18-14.4h0m21.3-21.5h0m-2.8 4.3h0m-33.8 34.1h0m32.4-38.3h0m-22.7 27.5h0m-19.3 15.6h0m-3.9 6.9h0m1.2 .1h0m-31.8 28.6h0m67.8-58.4h0m-65.1 57.8h0m64.9-65.6h0m-20.5 20.9h0m6.3-5.7h0m-4.7 4h0m-33.2 29.9h0m45.4-43.4h0m8.8-9.9h0m.8 5.5h0m-64.3 60.8h0m30-30h0m34.7-36.9h0m8.8-6.1h0m-54.9 60h0m44.5-50h0m0-3.2h0m.7 7.3h0m-16.4 9.3h0m27.8-27.6h0m-.5 3h0m-4.8 4.5h0m-3.1 2.1h0m-37.6 36.6h0m17.7-15.2h0m2.8-4.7h0m-28.5 29.3h0m3.3 2.5h0m47.4-52.4h0m1.1-3.7h0m-46.8 55.5h0m40.9-49h0m3.6-3.2h0m-76.9 78.9h0m54.9-57.5h0m-10.2 12.7h0m13.5-14.5h0m21.4-22.2h0m-9.3 7.9h0m6.4-7.5h0m-38.8 40.8h0m25-23.1h0m-15.8 17.3h0m34.1-37.2h0m-30.1 29.2h0m11.6-10.1h0m-5.7 6.8h0m-7.2 5.4h0m-4.3 5.3h0m28.8-28.7h0m-85.5 88.5h0m35.3-36.8h0m57.6-54.6h0m-12.2 10.5h0m-41.9 39h0m16.8-18.1h0m37.1-35.5h0m-26.8 25h0m-23.9 23.8h0m21.5-18.4h0m-32.2 34.7h0m-17.4 14.9h0m72.4-75.3h0m-39.5 51.8h0m36.1-49.2h0m-49.7 54h0m11.4-13.6h0m-29.9 31.1h0m17.7-20h0m57.1-57.1h0m-3.7 5.6h0m-35.9 42.5h0m-27.8 19.9h0m48.4-48.1h0m-48 50.9h0m70.2-72.4h0m-73.3 71.6h0m32.4-34h0m-23.5 32.6h0m15.5-20.2h0m35.8-35.9h0m-41.7 39.6h0m43.7-43.1h0m-12.3 17.5h0m-5.9 1.6h0m-4.8 5.3h0m9-10.3h0m8.8-8.8h0m-48.9 50.2h0m40.2-43h0m19.5-19.8h0m-13.8 16.5h0m-35.8 39.4h0m-22.9 17.3h0m29.3-29.2h0m-16.3 13.7h0m31.6-25.7h0m14-12.3h0m-30.8 25.2h0m11-8.5h0m6.8-9.2h0m24.2-19.4h0m-27.4 26.4h0m18.1-15.8h0m-49.4 42.7h0m21.8-21.7h0m41.4-40.8h0m-1.4 1.5h0m-36.2 37.7h0m10.5-7.7h0m-6.1 4.2h0m-18.1 12.3h0m-4.7 15.1h0m13.6-18.7h0m38.5-42.5h0m-3.3 9.9h0m-35.8 35.2h0m-25.3 20.9h0m-4-16h0m0 6.4h0m9.3-6.4h0m15.8 12.1h0m0 2.2h0m3.6-11.5h0m5-7.1h0m9.3 12.9h0m5-14.3h0m2.1 2.1h0m2.2 5h0m2.9 1.4h0m-1.5-24.2h0m3.6 7.1h0m2.1-11.4h0m8.6-15.7h0m2.2 3.6h0m1.4-5.8h0m-25 27.9h0m-7.2 4.3h0m-3.6 4.3h0m-17.9 17.1h0m-1.4 4.3h0m-4.3-2.2h0" stroke="#000" stroke-width="1.65" stroke-linecap="round"/></g><rect x="39.00" y="664.50" width="104.40" height="104.50" fill="none" stroke="#a8a8a8" stroke-width="0.9"/><line x1="67.90" y1="769.00" x2="67.90" y2="770.60" stroke="#333" stroke-width="0.6"/><text x="67.90" y="776.80" font-size="7.05" text-anchor="middle" fill="#555555" stroke="#555555" stroke-width="0.13">0.0</text><line x1="103.70" y1="769.00" x2="103.70" y2="770.60" stroke="#333" stroke-width="0.6"/><text x="103.70" y="776.80" font-size="7.05" text-anchor="middle" fill="#555555" stroke="#555555" stroke-width="0.13">0.5</text><line x1="139.50" y1="769.00" x2="139.50" y2="770.60" stroke="#333" stroke-width="0.6"/><text x="139.50" y="776.80" font-size="7.05" text-anchor="middle" fill="#555555" stroke="#555555" stroke-width="0.13">1.0</text><line x1="37.40" y1="740.10" x2="39.00" y2="740.10" stroke="#333" stroke-width="0.6"/><text x="36.40" y="743.20" font-size="7.05" text-anchor="end" fill="#555555" stroke="#555555" stroke-width="0.13">0.0</text><line x1="37.40" y1="704.40" x2="39.00" y2="704.40" stroke="#333" stroke-width="0.6"/><text x="36.40" y="707.50" font-size="7.05" text-anchor="end" fill="#555555" stroke="#555555" stroke-width="0.13">0.5</text><line x1="37.40" y1="668.70" x2="39.00" y2="668.70" stroke="#333" stroke-width="0.6"/><text x="36.40" y="671.80" font-size="7.05" text-anchor="end" fill="#555555" stroke="#555555" stroke-width="0.13">1.0</text><text x="91.20" y="786.50" font-size="8.30" text-anchor="middle" fill="#000">ICC β -value</text><text x="21.00" y="716.80" font-size="8.30" text-anchor="middle" fill="#000" transform="rotate(-90 21.00 716.80)">ICC M-value</text><text x="33.70" y="649.00" font-size="8.60" text-anchor="start" fill="#000">β -value vs. M-value Reliability</text><text x="91.00" y="660.20" font-size="6.80" text-anchor="middle" fill="#000">bicor=0.987, p&lt;1e-200</text><text x="7.80" y="659.20" font-size="8.80" text-anchor="start" fill="#000" font-weight="bold">g</text><clipPath id="ch"><rect x="213.90" y="660.80" width="116.10" height="111.50"/></clipPath><g clip-path="url(#ch)"><path d="M255.2 697.6h0m2.5-3.4h0m6.2 6.2h0m-13.9 4.4h0m10.4-3.2h0m3.7 .2h0m.3 19.1h0m1.8-17.1h0m-.4-4.1h0m-10.9 .7h0m2.3 2.6h0m-1.4 12.7h0m-5.6-13.7h0m10.9-3.7h0m-4.6 3.1h0m-1.4 0h0m3.4 12.2h0m7.4-14.4h0m-.6 2.1h0m-13 3.1h0m-3.1-5.4h0m9.1 11.4h0m3.6-10.3h0m-5.2-2.1h0m9.3-.3h0m-5.4-3.7h0m-7.2-.8h0m-.3 4.9h0m12 3.3h0m-11.2 7.3h0m-2.8-11.3h0m4.2 15h0m8.9-18.7h0m-10.5 4.7h0m.8 5.4h0m8.6-.3h0m-8.3-3h0m11.3-3.1h0m-3.7 1h0m-12.3 13h0m6.1-14.2h0m-4.6 0h0m8.3 14.1h0m-6.4-11h0m-3.6 9.7h0m8.3-8.9h0m-5.7 .5h0m2.5-7.2h0m-7.2 10.2h0m7.4-4h0m8.2 5.2h0m-.7-2h0m-6.6-6.3h0m-4.2 6.4h0m.4-.7h0m.8 4.1h0m10.1-5.9h0m-11.4-.6h0m0-3.2h0m-.7 .1h0m14.3 2.9h0m-12.1 1.5h0m13.3-5.6h0m-18.7 8h0m10.2-12h0m-4.8 9h0m11.7-4.2h0m-7.2 14.4h0m-8.5-11.4h0m.8 .1h0m5.6 1.2h0m1.4 12h0m6.6-13.4h0m-.1 .1h0m-14.5-.9h0m10-1.2h0m-4.3 .7h0m10.5 4.9h0m-.7-1.5h0m-6.1-.7h0m-9.7 12.1h0m15.4 0h0m-1.2-11.3h0m3.3-7.8h0m-6.4 5.3h0m-5.2 1.6h0m4.8 1.3h0m-2.4-8.3h0m2.2 6.5h0m-11.5 1.3h0m3.1-2.6h0m.9 2.6h0m3.9-6.4h0m-7.1 5.9h0m10.8-4.3h0m-4.2 4.1h0m-1.9-1.6h0m1.9 5.4h0m4.9-11.4h0m4.6 3.3h0m-12.7 3.4h0m-4 2.2h0m18.4 .9h0m-18.5-5.3h0m6.3 .8h0m-5.3 1h0m2.4 0h0m7.4 .4h0m-4.3 15.3h0m-6.2-13.5h0m4.3-3.2h0m8.9 .2h0m-11.8-3.5h0m16 9.9h0m-4.3-5.3h0m3.1 5.4h0m-15-4.3h0m17 2.5h0m-5.5-7.1h0m4.3 3.6h0m-16.2 4.2h0m10.8-7.2h0m6.1 2.5h0m-9.6-2.2h0m.8 .4h0m.4 1.8h0m-6.9 1h0m15.9 0h0m-15.1-.2h0m14.1-4h0m-2.7 2.7h0m-.8 6.5h0m-8-6.7h0m9.6 2h0m1.4-4.3h0m-16.9 4.2h0m15.3-7.3h0m-7.9 2.7h0m2.6-1.9h0m7.9 7.3h0m-6.1 6.4h0m-1.7 9.7h0m-2 4.6h0m9.2-20.2h0m-.7 4h0m-5.6-10.4h0m-2.8 3.2h0m4.9 14.7h0m-1.2-6.2h0m3.6 1.1h0m1.7-4.8h0m-6.2-7.8h0m-1.9 3.1h0m8.5 .4h0m-11.7-.1h0m7.4-.4h0m-12.9 13.4h0m16.2-10.2h0m-11.9 1.1h0m2.1-1.4h0m9.5-3.8h0m-7.2 11.2h0m-9.5-9h0m16.3-2h0m-9.3 8.9h0m1.9-10.5h0m-1.7 3.6h0m6.1 9.7h0m-12.1 1.5h0m2-6.6h0m13.3-3h0m-6.6-5.4h0m-2.3 3.7h0m7.2-.2h0m-4.1-1.8h0m8.1-1.3h0m-12.6 8.7h0m2 6.6h0m-7.5-13.1h0m12.7-1.6h0m2.1 4.8h0m-4.8 .6h0m-7.4 .9h0m-.4-6.5h0m13.7 4.7h0m-.2-6h0m-3.2 7.4h0m-12.8 4.4h0m3.7-7.5h0m9 1.5h0m-1.5-1.9h0m-3.4 8h0m6.6-8.5h0m-1.4 2.9h0m-4.4 .8h0m-5.9-6.6h0m15.8 10.7h0m-.5-11.1h0m-16.4 .9h0m3.6 4h0m-3.7 .4h0m11.1-.8h0m4.9-2.8h0m-17.3 3.4h0m6.2 .9h0m-3-3.1h0m8.9-1h0m2 .3h0m-10.1 .5h0m13.3-1.9h0m-4.4 5.4h0m-3-2.4h0m-7.6-2.9h0m.4 4.2h0m-3.1-3.1h0m10.8 4.8h0m4.7 .1h0m2.6-4.8h0m-5-1.1h0m-3.9 18.5h0m-9.4 1.7h0m10.5-15.2h0m8.4-.8h0m-12.6-1h0m12.2-3.7h0m-.4 4.7h0m-9-3.2h0m-1.2 2.9h0m.4 .3h0m-2.3 2.7h0m9.5-1.5h0m-14.3 2.9h0m4.9-5.9h0m5.9 2h0m-.4-1.4h0m-8.1 5h0m11.9-.4h0m-3-7.9h0m-11.1 1.4h0m1.3-.4h0m15.8 4.1h0m-2.7-3h0m-2.2 4.8h0m-2.2-2.9h0m-6.4 2.4h0m-4-8.8h0m7.9 5.9h0m9-2.2h0m-5.1 0h0m-3.7 7.7h0m-6.4-15.6h0m15.9 10.2h0m-17-2.7h0m6.9-.6h0m1.7 3.1h0m1.7-.6h0m-2.9 .9h0m6 2.5h0m-4.2-2.6h0m-5.1 8.8h0m5.8-10.6h0m-4.2 .8h0m7.9 1.4h0m-9.4 .2h0m11.5-4.8h0m-8 4.9h0m-4-12.1h0m-.9 6.6h0m3.6 9.6h0m5.7-5h0m-.1 1.6h0m3.7-2.7h0m-8.1-.3h0m-4.3 6.8h0m2.6-11.8h0m3.3 5.4h0m6 2.4h0m-9.6-6.2h0m3.2 6.5h0m-4 4.6h0m8.7 4.1h0m-6.3-10.8h0m-3.1-2.3h0m6.7 7h0m4.9-2.9h0m-7.9-2h0m-7 0h0m10.1-.7h0m-7.4 1.7h0m.5 8.5h0m2.5-6.5h0m10.3 10.2h0m-.6-10.9h0m-.5-2.6h0m-12.5-3h0m-4.1 6.8h0m14.1-1h0m-2.8-3.8h0m5-1.6h0m-6.9 5.7h0m-2.6-2.6h0m-4.6 4h0m8.6-8.5h0m1.7 5.3h0m1.3 4.1h0m3.5-4.4h0m-11.1 4.8h0m8.7-10.5h0m-12.9 14.8h0m10.2-9.7h0m-.6 3.9h0m-5.7-1.9h0m-4.2 4.2h0m10.1-6.6h0m-1.3 1.7h0m-2.3 6.5h0m-2-11.6h0m3.4 15.1h0m-.4-16h0m-1.8 19.9h0m9.7-19.6h0m-13.9 3.6h0m2.9-4.9h0m7.2 18h0m-11-3.2h0m9-7.3h0m-11.6 10.2h0m11.9-10.2h0m6.1-4.3h0m-7 6.5h0m-4.7-7.5h0m6.8 6.7h0m-1.6 3.3h0m7.1-4.9h0m-18.7-2.6h0m12.7-.6h0m-3.1-.7h0m-.3 4.7h0m-2.6-3.3h0m7.8 2.6h0m-9-2.6h0m3.7 1.8h0m-1.7 .7h0m2.6 1.7h0m7.5-2.4h0m-4.3-1.1h0m-3.8 9.5h0m3-3.8h0m-3.8-5.6h0m8 1.5h0m-7.3 9.7h0m-1.1-16.2h0m6.2 18.3h0m-10.2-12.7h0m12.6 2.9h0m-12.6-5.6h0m13.6 4.2h0m-.3-7.4h0m-9.3 12.3h0m4 .6h0m-4.5-9h0m4.7-1.4h0m-4 2.8h0m-1 4.3h0m-4.3 7.8h0m-3.3-14.4h0m16.4 8.4h0m1 3.1h0m-17.5-7.8h0m12.6 1.5h0m-8.5 4.9h0m12.3-3.4h0m-.9-4.7h0m1.2 .6h0m-1.5 12.3h0m-2.7-12.6h0m5.4-.1h0m-15.5-.1h0m11 7.6h0m-2 8.1h0m4.3-16.6h0m-12.5 13.3h0m7.6-12.7h0m-10.6-2.8h0m10.8 8.8h0m6.6-3.9h0m-4.3-2h0m-4.2 2.9h0m-5-.3h0m5-3.6h0m-.3 6.2h0m5-5.3h0m-7.8 2.6h0m7.9 2.1h0m-7.3 3.6h0m-6.3 .1h0m14.9-9.9h0m-3.3 2h0m-.3-2.8h0m-6.2 14.3h0m-2.5-14.2h0m-1.8 11.8h0m1.6-7.3h0m12.7-1.6h0m2.2-1.9h0m-4.5 7.3h0m-4.6-3.3h0m-7.3-5.6h0m16.4 3.2h0m-15.1 0h0m9.6 9.4h0m1.7-15.8h0m-13.3 5.8h0m17-3.2h0m-3.7 12.7h0m-13.5-12.7h0m0 1.1h0m10.1 1h0m-5.2 .9h0m.9 5.4h0m11.1 4.4h0m-12.6-2.9h0m10.5-7.5h0m-7.5-2.8h0m-.1 2.8h0m4.2 3.8h0m-.7 2.2h0m.7-3h0m5.6-.2h0m-13-4.4h0m11 15.1h0m-9.5-13.3h0m5.5 2.7h0m3.6 3.8h0m-8.4-2.9h0m1.7-4.8h0m-3.5 3.5h0m-2.5-1h0m-.1 10.9h0m11.1-12.6h0m-4.4 7h0m.1-7.9h0m-2.3 1.5h0m3.2 4.2h0m6.2 5.1h0m-14.9-7.6h0m11.9 11.1h0m4.9-7.7h0m-6.4 1.6h0m3.7 .5h0m-11.4-6.3h0m5.9-1.1h0m-6.7 .4h0m12.3 6.3h0m-8.8-1h0m9.1-7.7h0m-1.9 9h0m-6.8-6.2h0m5.6-.1h0m-5.9 14.1h0m-5.9-13.5h0m13.3 11.5h0m2.3-17.4h0m-15.9 3.8h0m1.4 4.7h0m9.6-2.5h0m-10.6 .6h0m8.8 4h0m-2.4 10h0m7.7-15.2h0m-7 1.1h0m-4.6 1.8h0m-3-5.9h0m7.6 12.2h0m6.8-5h0m-13.8-1.9h0m3.3-1.5h0m11-2.7h0m-.9-1.1h0m-10.3 2.1h0m-.3-.3h0m-2.7 7.6h0m13.6 .7h0m-8.3-9.8h0m7.7 1.8h0m-12 3.9h0m0-3.9h0m4.9 .1h0m9.7 4.8h0m-13.3 2.3h0m7.3-4.6h0m-8.7-1.6h0m3.5 1.3h0m-.7 .1h0m7.8-2.8h0m-10.1 1.6h0m14.8 .8h0m-.4 3.9h0m-8.1-3.6h0m10 8.3h0m-5.5-4h0m-5.8-2.9h0m-3.5-2h0m11.6 6.2h0m-3.7-5h0m5.3 2.2h0m-13.1-8.8h0m1.5 5.4h0m-.1-3.5h0m1.5 3.6h0m-6 3.2h0m5.4-3.4h0m3.8 6.6h0m2.6-7h0m.9 15.2h0m4.9-16h0m-13.8-.6h0m9.9 2.4h0m3.5 1.5h0m.1-1.5h0m13.9-.4h0m6.2-.6h0m12 3.4h0m-19-3.9h0m-11.1 2.4h0m24.7-2.7h0m-21.9 3.1h0m9.9-3.6h0m-10.4 2.9h0m33.1-1.2h0m-12.3 .6h0m4.3-.1h0m2.7-1h0m-8.2 1.3h0m-1.1-.6h0m5.5 .6h0m4 .2h0m-27-.2h0m-4.4 3.5h0m24.4-7.3h0m-.2 1.8h0m5.3 3.9h0m-3.7 .1h0m.7-6.3h0m1.6 4h0m-1.6-1.4h0m2.9 .1h0m-2-.6h0m-1.2 2.1h0m-4.2-1.7h0m-9.5 .5h0m26.4 .4h0m-27-.4h0m23.2-4h0m-25.9 1.9h0m6.9 3.3h0m13.1-1h0m5.1-.5h0m-16.9-.3h0m19.3 3.9h0m1-5.1h0m-14.7 1.8h0m4.6-1.1h0m-10.6 .5h0m-4.5 1.3h0m1.8-1.5h0m21.5 1h0m-6.6-.1h0m4.4 1.2h0m-18.7-2h0m-3.8-1.7h0m29.1-1.6h0m-28.8 5.1h0m16.9-1.1h0m-23-1.5h0m16.1 1.3h0m6.2 .6h0m-13.8-.1h0m10.3-1.9h0m15.1-.3h0m-14.2 1.4h0m-2.6 .7h0m16.9-1.8h0m-34.4-.3h0m5 2.3h0m-5.1-2.2h0m17.1 1.6h0m-18.1-1.1h0m15.8 1h0m18.3 .4h0m-30.4 1.2h0m7.9-1.1h0m14.8 3h0m-18.9-2.7h0m9.7-.9h0m-19.1-5.3h0m29.3 8.8h0m3-3.5h0m-25.6-.2h0m10.5 .1h0m10.7 0h0m-13.2-.2h0m-1.3 .1h0m4 0h0m-4.8 1.3h0m21.3-2.5h0m-4.8 1.1h0m-1.4 2.3h0m-26.6 .4h0m38.8-3.5h0m-23.6 1.4h0m12.4 1h0m5.5-3.2h0m-32.3-.3h0m32.4 3.7h0m-3.5-1.4h0m-8.9 2.1h0m0-5.3h0m-3.8 2.2h0m-6.4 1.9h0m-11.5-3.7h0m16.5 3.3h0m17-3.2h0m3.2 5.7h0m-35.7-2.7h0m8.1 2.2h0m27.6-1.3h0m-23.2-.6h0m24.9 7.7h0m-25.1-7.2h0m-6.3-2.1h0m22.6 1.6h0m-12.1-.1h0m-12.1-3.3h0m17.5 3.8h0m-11.4-.5h0m25.4 .3h0m-27.7 .2h0m27.7 2.5h0m-12.9-2.1h0m-23.9-6.2h0m10.9 5.1h0m3.2 .2h0m-15.4-1.8h0m33.2 .7h0m6 5.5h0m-34.7-6.7h0m28.8-1.3h0m-11.7 5h0m12.5-2.6h0m-4.3-2h0m-22.9-.4h0m.3 4.6h0m33.2-2.1h0m-14.8 .3h0m-18.6-2.9h0m6.9 3.7h0m-5.9 1h0m-5.9-2.8h0m20.2 1.3h0m14.9 1h0m-5.8-.8h0m-24.1-2.2h0m17.1 .2h0m12.5 10.3h0m-11.4-2.8h0m-7.7-4.9h0m15.6-3.9h0m.9 4.2h0m-25.2 .8h0m14.5-2h0m2.3 .7h0m-11.2-.2h0m-5.8-1.1h0m-2.5 .3h0m7.5-.8h0m-1.8 1.5h0m-1-.2h0m-5.8-.9h0m28.4 .4h0m6.5 6.5h0m-16.4-5.1h0m-8.9-1.4h0m2.5 .1h0m15-.5h0m-24.3 .1h0m23.7 3h0m-13.9-1.5h0m18-2.6h0m-34.4-2.5h0m16.4 5h0m22.3-.7h0m-1.4-4.6h0m-26.2 5.9h0m-1.6-.1h0m17.6-2.1h0m-28.7-1.8h0m4.2 2.5h0m19.8 .7h0m-17.2 .6h0m13 1.3h0m14-7.1h0m-13.9 5.3h0m-19.6 2h0m27.2-1.2h0m-7.5-1.4h0m.8-.5h0m-5.5 .4h0m19.5 .2h0m-29.8 2.3h0m32.7-5h0m-25.2 4.5h0m-10.6-2.4h0m19.3 1.8h0m19.5 .5h0m-37.1-4h0m14.7 3.2h0m19.7 1.6h0m-29.5-2.8h0m7 1.1h0m-14.5-.5h0m17.8-1.1h0m-15.9 10.5h0m32.9-3.1h0m-6.8-5.4h0m-16.8-.6h0m18.9-1.9h0m8.7 8.8h0m-17.1-7.9h0m-15.1 1.1h0m-7.3-5.1h0m20.3 4.5h0m-6.6 .2h0m23.1 1.9h0m-4.1-4.4h0m2.9 2.7h0m-33.8-2.7h0m20.8 .5h0m-15.1 1.2h0m16.6 1.7h0m-1.1-1.9h0m-14-1.8h0m10.7 3h0m14.8 1.1h0m-28.7-5h0m2.8 2.7h0m-3.3 3.7h0m7.3-3.1h0m-1.3-1.7h0m2.6 3.2h0m6.7-.9h0m10 2.4h0m6.2-1.2h0m-4.6 .2h0m-30.5-4.2h0m32.4 2.2h0m-34.6 1.9h0m34.4-4h0m-25.1 .4h0m12 1.8h0m-19.3 1.3h0m17.2-1.8h0m-13.4-1.3h0m31.8 1.5h0m.9 4.3h0m-27.9-4.1h0m29.4 10.3h0m-37.1-13.8h0m27.1 7.4h0m-12.8-3.7h0m19.5 7.1h0m-6.5-8.8h0m-1.6 .9h0m3.2 .9h0m-19.1-.9h0m-7.4-1.8h0m29.2 7.1h0m2.3-5.9h0m-34.2-1.2h0m26 4h0m-7.8 .1h0m-1.3-2.7h0m-6.6 1h0m8.8 0h0m-2.2 .2h0m0 .8h0m16.8-4.4h0m-28.6 5.4h0m30.2-1.4h0m-24.2 0h0m-4-1.6h0m13.4 .6h0m-23.3-2.4h0m27 3.2h0m4.5 1.4h0m-21.9-1.8h0m-.2-.6h0m-1.5 .2h0m-.1 .3h0m20.5-1.4h0m12.7 4.7h0m-34.4-2.6h0m18.6-1.6h0m-.9-.2h0m7.2 .8h0m-2 2.3h0m7.3-.2h0m-9.8-3.9h0m-11.7 2.4h0m-13.1 1.4h0m6-.2h0m28.4-3.8h0m-32.4 5.9h0m10.3-3.4h0m1.4-.2h0m-14.1 7.3h0m18.6-7.3h0m19.9-2h0m-40.4 4.9h0m3.7-2.7h0m-19.1 23.7h0m2.5-19.1h0m6.1-2.3h0m-4.8 .4h0m.5 .5h0m1.8 2.2h0m-5 7.4h0m6.7-6.8h0m-9.4 .2h0m9.9-5.1h0m-12.1 9.2h0m2.2 10.6h0m-4.3-17.3h0m6.2 3.3h0m-2.1-4.7h0m10.4 20.2h0m-9.7-9.1h0m7.6-7.8h0m-8.6 .3h0m5.2-3.2h0m4.4 2.3h0m-11.6 .1h0m11.6 6.3h0m-12.5-4.2h0m13.9 21.8h0m.1-9.8h0m-4.9-11h0m2.6-7.7h0m-6.9 11h0m1.5 .2h0m4.5-10.9h0m-4.5 1.3h0m-7.1 18.6h0m6.2-13.2h0m-4.3 7.8h0m3.1-12.7h0m5.5 8.9h0m4.5 6.6h0m-13.2-17.7h0m8.8 4.4h0m-3.4 2.4h0m5.9-.2h0m-12.4 3.4h0m4.6 2.6h0m-1.9-6.1h0m.4 .9h0m6.9-4.7h0m-4.5 4.7h0m5.7 3h0m-.9 13.7h0m-6.6-20.2h0m4.3 12.8h0m-8.1-14.1h0m5.2 11.7h0m0-4.2h0m4.3-9.3h0m-8.9 21.2h0m9-21.1h0m-1.6 1.1h0m-2.3-.2h0m-4.5 5.3h0m-1.8 6.9h0m14.2-5.4h0m-5.1 9.2h0m-.2-14.4h0m-2.8-.3h0m2.3 5h0m-1.9-3.2h0m1.7-1.9h0m7.1-2.1h0m-42.7-2.5h0m2.8 9.1h0m1.3-41h0m2 20.9h0m2.1 17h0m4.1-3.2h0m4.7-21h0m-.7 17.2h0m2.1-2.6h0m2 .3h0m1.3 20.7h0m-2.7 16.6h0m1.4 .6h0m-2.7 8.9h0m2.7 17.2h0m-1.4 8.3h0m10.2-29.9h0m0-1.3h0m1.4 22.3h0m0-73.6h0m-4.8 18.8h0m-2 3.8h0m8.8 24.2h0m3.4-2.5h0m55.6-24.8h0m-1.4 14.6h0m-6.8 0h0m13.6 0h0m5.4 5.7h0m4.1-32.2h0m1.3 8h0m-18.3 10.9h0m-1.3-2.6h0m-11.5 2.6h0" stroke="#000" stroke-width="1.5" stroke-linecap="round"/></g><rect x="213.90" y="660.80" width="116.10" height="111.50" fill="none" stroke="#a8a8a8" stroke-width="0.9"/><line x1="213.80" y1="772.30" x2="213.80" y2="773.90" stroke="#333" stroke-width="0.6"/><text x="213.80" y="779.70" font-size="7.05" text-anchor="middle" fill="#555555" stroke="#555555" stroke-width="0.13">−10</text><line x1="247.70" y1="772.30" x2="247.70" y2="773.90" stroke="#333" stroke-width="0.6"/><text x="247.70" y="779.70" font-size="7.05" text-anchor="middle" fill="#555555" stroke="#555555" stroke-width="0.13">−5</text><line x1="281.60" y1="772.30" x2="281.60" y2="773.90" stroke="#333" stroke-width="0.6"/><text x="281.60" y="779.70" font-size="7.05" text-anchor="middle" fill="#555555" stroke="#555555" stroke-width="0.13">0</text><line x1="315.50" y1="772.30" x2="315.50" y2="773.90" stroke="#333" stroke-width="0.6"/><text x="315.50" y="779.70" font-size="7.05" text-anchor="middle" fill="#555555" stroke="#555555" stroke-width="0.13">5</text><line x1="212.30" y1="674.34" x2="213.90" y2="674.34" stroke="#333" stroke-width="0.6"/><text x="211.30" y="677.44" font-size="7.05" text-anchor="end" fill="#555555" stroke="#555555" stroke-width="0.13">0.2</text><line x1="212.30" y1="699.80" x2="213.90" y2="699.80" stroke="#333" stroke-width="0.6"/><text x="211.30" y="702.90" font-size="7.05" text-anchor="end" fill="#555555" stroke="#555555" stroke-width="0.13">0.0</text><line x1="212.30" y1="725.26" x2="213.90" y2="725.26" stroke="#333" stroke-width="0.6"/><text x="211.30" y="728.36" font-size="7.05" text-anchor="end" fill="#555555" stroke="#555555" stroke-width="0.13">−0.2</text><line x1="212.30" y1="750.72" x2="213.90" y2="750.72" stroke="#333" stroke-width="0.6"/><text x="211.30" y="753.82" font-size="7.05" text-anchor="end" fill="#555555" stroke="#555555" stroke-width="0.13">−0.4</text><text x="272.00" y="789.00" font-size="8.00" text-anchor="middle" fill="#000">probe mean M−value</text><text x="192.00" y="718.00" font-size="7.90" text-anchor="middle" fill="#000" transform="rotate(-90 192.00 718.00)">(M−value ICC) −( β −value ICC)</text><text x="271.70" y="656.60" font-size="8.10" text-anchor="middle" fill="#000">Lower ICCs for Extreme M−values</text><text x="173.80" y="659.40" font-size="8.80" text-anchor="start" fill="#000" font-weight="bold">h</text><rect x="396.30" y="640.00" width="16.79" height="16.45" fill="#ec4421" stroke="#e6e6e6" stroke-width="0.3"/><rect x="413.09" y="640.00" width="16.79" height="16.45" fill="#f0f7fd" stroke="#e6e6e6" stroke-width="0.3"/><rect x="429.88" y="640.00" width="16.79" height="16.45" fill="#fdeeeb" stroke="#e6e6e6" stroke-width="0.3"/><rect x="446.66" y="640.00" width="16.79" height="16.45" fill="#fad2ca" stroke="#e6e6e6" stroke-width="0.3"/><rect x="463.45" y="640.00" width="16.79" height="16.45" fill="#f0f7fd" stroke="#e6e6e6" stroke-width="0.3"/><rect x="480.24" y="640.00" width="16.79" height="16.45" fill="#fde9e4" stroke="#e6e6e6" stroke-width="0.3"/><rect x="497.03" y="640.00" width="16.79" height="16.45" fill="#fdf0ed" stroke="#e6e6e6" stroke-width="0.3"/><rect x="513.81" y="640.00" width="16.79" height="16.45" fill="#ecf4fc" stroke="#e6e6e6" stroke-width="0.3"/><rect x="396.30" y="656.45" width="16.79" height="16.45" fill="#f0f7fd" stroke="#e6e6e6" stroke-width="0.3"/><rect x="413.09" y="656.45" width="16.79" height="16.45" fill="#ec4421" stroke="#e6e6e6" stroke-width="0.3"/><rect x="429.88" y="656.45" width="16.79" height="16.45" fill="#f9c3b8" stroke="#e6e6e6" stroke-width="0.3"/><rect x="446.66" y="656.45" width="16.79" height="16.45" fill="#dfedfa" stroke="#e6e6e6" stroke-width="0.3"/><rect x="463.45" y="656.45" width="16.79" height="16.45" fill="#ddecfa" stroke="#e6e6e6" stroke-width="0.3"/><rect x="480.24" y="656.45" width="16.79" height="16.45" fill="#f9c9bf" stroke="#e6e6e6" stroke-width="0.3"/><rect x="497.03" y="656.45" width="16.79" height="16.45" fill="#d3e6f8" stroke="#e6e6e6" stroke-width="0.3"/><rect x="513.81" y="656.45" width="16.79" height="16.45" fill="#fbfdfe" stroke="#e6e6e6" stroke-width="0.3"/><rect x="396.30" y="672.90" width="16.79" height="16.45" fill="#fdeeeb" stroke="#e6e6e6" stroke-width="0.3"/><rect x="413.09" y="672.90" width="16.79" height="16.45" fill="#f9c3b8" stroke="#e6e6e6" stroke-width="0.3"/><rect x="429.88" y="672.90" width="16.79" height="16.45" fill="#ec4421" stroke="#e6e6e6" stroke-width="0.3"/><rect x="446.66" y="672.90" width="16.79" height="16.45" fill="#fbfdfe" stroke="#e6e6e6" stroke-width="0.3"/><rect x="463.45" y="672.90" width="16.79" height="16.45" fill="#fdf0ed" stroke="#e6e6e6" stroke-width="0.3"/><rect x="480.24" y="672.90" width="16.79" height="16.45" fill="#facdc3" stroke="#e6e6e6" stroke-width="0.3"/><rect x="497.03" y="672.90" width="16.79" height="16.45" fill="#fce1db" stroke="#e6e6e6" stroke-width="0.3"/><rect x="513.81" y="672.90" width="16.79" height="16.45" fill="#fdfeff" stroke="#e6e6e6" stroke-width="0.3"/><rect x="396.30" y="689.35" width="16.79" height="16.45" fill="#fad2ca" stroke="#e6e6e6" stroke-width="0.3"/><rect x="413.09" y="689.35" width="16.79" height="16.45" fill="#dfedfa" stroke="#e6e6e6" stroke-width="0.3"/><rect x="429.88" y="689.35" width="16.79" height="16.45" fill="#fbfdfe" stroke="#e6e6e6" stroke-width="0.3"/><rect x="446.66" y="689.35" width="16.79" height="16.45" fill="#ec4421" stroke="#e6e6e6" stroke-width="0.3"/><rect x="463.45" y="689.35" width="16.79" height="16.45" fill="#f7fafe" stroke="#e6e6e6" stroke-width="0.3"/><rect x="480.24" y="689.35" width="16.79" height="16.45" fill="#e8f2fb" stroke="#e6e6e6" stroke-width="0.3"/><rect x="497.03" y="689.35" width="16.79" height="16.45" fill="#fbfdfe" stroke="#e6e6e6" stroke-width="0.3"/><rect x="513.81" y="689.35" width="16.79" height="16.45" fill="#c2dcf5" stroke="#e6e6e6" stroke-width="0.3"/><rect x="396.30" y="705.80" width="16.79" height="16.45" fill="#f0f7fd" stroke="#e6e6e6" stroke-width="0.3"/><rect x="413.09" y="705.80" width="16.79" height="16.45" fill="#ddecfa" stroke="#e6e6e6" stroke-width="0.3"/><rect x="429.88" y="705.80" width="16.79" height="16.45" fill="#fdf0ed" stroke="#e6e6e6" stroke-width="0.3"/><rect x="446.66" y="705.80" width="16.79" height="16.45" fill="#f7fafe" stroke="#e6e6e6" stroke-width="0.3"/><rect x="463.45" y="705.80" width="16.79" height="16.45" fill="#ec4421" stroke="#e6e6e6" stroke-width="0.3"/><rect x="480.24" y="705.80" width="16.79" height="16.45" fill="#dfedfa" stroke="#e6e6e6" stroke-width="0.3"/><rect x="497.03" y="705.80" width="16.79" height="16.45" fill="#fde7e2" stroke="#e6e6e6" stroke-width="0.3"/><rect x="513.81" y="705.80" width="16.79" height="16.45" fill="#c8e0f6" stroke="#e6e6e6" stroke-width="0.3"/><rect x="396.30" y="722.25" width="16.79" height="16.45" fill="#fde9e4" stroke="#e6e6e6" stroke-width="0.3"/><rect x="413.09" y="722.25" width="16.79" height="16.45" fill="#f9c9bf" stroke="#e6e6e6" stroke-width="0.3"/><rect x="429.88" y="722.25" width="16.79" height="16.45" fill="#facdc3" stroke="#e6e6e6" stroke-width="0.3"/><rect x="446.66" y="722.25" width="16.79" height="16.45" fill="#e8f2fb" stroke="#e6e6e6" stroke-width="0.3"/><rect x="463.45" y="722.25" width="16.79" height="16.45" fill="#dfedfa" stroke="#e6e6e6" stroke-width="0.3"/><rect x="480.24" y="722.25" width="16.79" height="16.45" fill="#ec4421" stroke="#e6e6e6" stroke-width="0.3"/><rect x="497.03" y="722.25" width="16.79" height="16.45" fill="#fef6f4" stroke="#e6e6e6" stroke-width="0.3"/><rect x="513.81" y="722.25" width="16.79" height="16.45" fill="#f4f9fd" stroke="#e6e6e6" stroke-width="0.3"/><rect x="396.30" y="738.70" width="16.79" height="16.45" fill="#fdf0ed" stroke="#e6e6e6" stroke-width="0.3"/><rect x="413.09" y="738.70" width="16.79" height="16.45" fill="#d3e6f8" stroke="#e6e6e6" stroke-width="0.3"/><rect x="429.88" y="738.70" width="16.79" height="16.45" fill="#fce1db" stroke="#e6e6e6" stroke-width="0.3"/><rect x="446.66" y="738.70" width="16.79" height="16.45" fill="#fbfdfe" stroke="#e6e6e6" stroke-width="0.3"/><rect x="463.45" y="738.70" width="16.79" height="16.45" fill="#fde7e2" stroke="#e6e6e6" stroke-width="0.3"/><rect x="480.24" y="738.70" width="16.79" height="16.45" fill="#fef6f4" stroke="#e6e6e6" stroke-width="0.3"/><rect x="497.03" y="738.70" width="16.79" height="16.45" fill="#ec4421" stroke="#e6e6e6" stroke-width="0.3"/><rect x="513.81" y="738.70" width="16.79" height="16.45" fill="#c8e0f6" stroke="#e6e6e6" stroke-width="0.3"/><rect x="396.30" y="755.15" width="16.79" height="16.45" fill="#ecf4fc" stroke="#e6e6e6" stroke-width="0.3"/><rect x="413.09" y="755.15" width="16.79" height="16.45" fill="#fbfdfe" stroke="#e6e6e6" stroke-width="0.3"/><rect x="429.88" y="755.15" width="16.79" height="16.45" fill="#fdfeff" stroke="#e6e6e6" stroke-width="0.3"/><rect x="446.66" y="755.15" width="16.79" height="16.45" fill="#c2dcf5" stroke="#e6e6e6" stroke-width="0.3"/><rect x="463.45" y="755.15" width="16.79" height="16.45" fill="#c8e0f6" stroke="#e6e6e6" stroke-width="0.3"/><rect x="480.24" y="755.15" width="16.79" height="16.45" fill="#f4f9fd" stroke="#e6e6e6" stroke-width="0.3"/><rect x="497.03" y="755.15" width="16.79" height="16.45" fill="#c8e0f6" stroke="#e6e6e6" stroke-width="0.3"/><rect x="513.81" y="755.15" width="16.79" height="16.45" fill="#ec4421" stroke="#e6e6e6" stroke-width="0.3"/><rect x="396.30" y="640.00" width="134.30" height="131.60" fill="none" stroke="#cfcfcf" stroke-width="0.5"/><text x="404.69" y="647.23" font-size="6.30" text-anchor="middle" fill="#262626" textLength="3.36" lengthAdjust="spacingAndGlyphs">1</text><text x="404.69" y="653.12" font-size="6.30" text-anchor="middle" fill="#262626" textLength="7.39" lengthAdjust="spacingAndGlyphs">(0)</text><text x="421.48" y="647.23" font-size="6.30" text-anchor="middle" fill="#262626" textLength="15.30" lengthAdjust="spacingAndGlyphs">−0.07</text><text x="421.48" y="653.12" font-size="6.30" text-anchor="middle" fill="#262626" textLength="12.43" lengthAdjust="spacingAndGlyphs">(0.7)</text><text x="438.27" y="647.23" font-size="6.30" text-anchor="middle" fill="#262626" textLength="11.77" lengthAdjust="spacingAndGlyphs">0.09</text><text x="438.27" y="653.12" font-size="6.30" text-anchor="middle" fill="#262626" textLength="15.80" lengthAdjust="spacingAndGlyphs">(0.61)</text><text x="455.06" y="647.23" font-size="6.30" text-anchor="middle" fill="#262626" textLength="11.77" lengthAdjust="spacingAndGlyphs">0.24</text><text x="455.06" y="653.12" font-size="6.30" text-anchor="middle" fill="#262626" textLength="15.80" lengthAdjust="spacingAndGlyphs">(0.16)</text><text x="471.84" y="647.23" font-size="6.30" text-anchor="middle" fill="#262626" textLength="15.30" lengthAdjust="spacingAndGlyphs">−0.07</text><text x="471.84" y="653.12" font-size="6.30" text-anchor="middle" fill="#262626" textLength="12.43" lengthAdjust="spacingAndGlyphs">(0.7)</text><text x="488.63" y="647.23" font-size="6.30" text-anchor="middle" fill="#262626" textLength="11.77" lengthAdjust="spacingAndGlyphs">0.12</text><text x="488.63" y="653.12" font-size="6.30" text-anchor="middle" fill="#262626" textLength="15.80" lengthAdjust="spacingAndGlyphs">(0.48)</text><text x="505.42" y="647.23" font-size="6.30" text-anchor="middle" fill="#262626" textLength="11.77" lengthAdjust="spacingAndGlyphs">0.08</text><text x="505.42" y="653.12" font-size="6.30" text-anchor="middle" fill="#262626" textLength="15.80" lengthAdjust="spacingAndGlyphs">(0.63)</text><text x="522.21" y="647.23" font-size="6.30" text-anchor="middle" fill="#262626" textLength="15.30" lengthAdjust="spacingAndGlyphs">−0.09</text><text x="522.21" y="653.12" font-size="6.30" text-anchor="middle" fill="#262626" textLength="15.80" lengthAdjust="spacingAndGlyphs">(0.62)</text><text x="404.69" y="663.67" font-size="6.30" text-anchor="middle" fill="#262626" textLength="15.30" lengthAdjust="spacingAndGlyphs">−0.07</text><text x="404.69" y="669.57" font-size="6.30" text-anchor="middle" fill="#262626" textLength="12.43" lengthAdjust="spacingAndGlyphs">(0.7)</text><text x="421.48" y="663.67" font-size="6.30" text-anchor="middle" fill="#262626" textLength="3.36" lengthAdjust="spacingAndGlyphs">1</text><text x="421.48" y="669.57" font-size="6.30" text-anchor="middle" fill="#262626" textLength="7.39" lengthAdjust="spacingAndGlyphs">(0)</text><text x="438.27" y="663.67" font-size="6.30" text-anchor="middle" fill="#262626" textLength="11.77" lengthAdjust="spacingAndGlyphs">0.32</text><text x="438.27" y="669.57" font-size="6.30" text-anchor="middle" fill="#262626" textLength="15.80" lengthAdjust="spacingAndGlyphs">(0.06)</text><text x="455.06" y="663.67" font-size="6.30" text-anchor="middle" fill="#262626" textLength="15.30" lengthAdjust="spacingAndGlyphs">−0.15</text><text x="455.06" y="669.57" font-size="6.30" text-anchor="middle" fill="#262626" textLength="15.80" lengthAdjust="spacingAndGlyphs">(0.37)</text><text x="471.84" y="663.67" font-size="6.30" text-anchor="middle" fill="#262626" textLength="15.30" lengthAdjust="spacingAndGlyphs">−0.16</text><text x="471.84" y="669.57" font-size="6.30" text-anchor="middle" fill="#262626" textLength="15.80" lengthAdjust="spacingAndGlyphs">(0.35)</text><text x="488.63" y="663.67" font-size="6.30" text-anchor="middle" fill="#262626" textLength="11.77" lengthAdjust="spacingAndGlyphs">0.29</text><text x="488.63" y="669.57" font-size="6.30" text-anchor="middle" fill="#262626" textLength="15.80" lengthAdjust="spacingAndGlyphs">(0.08)</text><text x="505.42" y="663.67" font-size="6.30" text-anchor="middle" fill="#262626" textLength="15.30" lengthAdjust="spacingAndGlyphs">−0.21</text><text x="505.42" y="669.57" font-size="6.30" text-anchor="middle" fill="#262626" textLength="15.80" lengthAdjust="spacingAndGlyphs">(0.22)</text><text x="522.21" y="663.67" font-size="6.30" text-anchor="middle" fill="#262626" textLength="15.30" lengthAdjust="spacingAndGlyphs">−0.02</text><text x="522.21" y="669.57" font-size="6.30" text-anchor="middle" fill="#262626" textLength="15.80" lengthAdjust="spacingAndGlyphs">(0.92)</text><text x="404.69" y="680.12" font-size="6.30" text-anchor="middle" fill="#262626" textLength="11.77" lengthAdjust="spacingAndGlyphs">0.09</text><text x="404.69" y="686.02" font-size="6.30" text-anchor="middle" fill="#262626" textLength="15.80" lengthAdjust="spacingAndGlyphs">(0.61)</text><text x="421.48" y="680.12" font-size="6.30" text-anchor="middle" fill="#262626" textLength="11.77" lengthAdjust="spacingAndGlyphs">0.32</text><text x="421.48" y="686.02" font-size="6.30" text-anchor="middle" fill="#262626" textLength="15.80" lengthAdjust="spacingAndGlyphs">(0.06)</text><text x="438.27" y="680.12" font-size="6.30" text-anchor="middle" fill="#262626" textLength="3.36" lengthAdjust="spacingAndGlyphs">1</text><text x="438.27" y="686.02" font-size="6.30" text-anchor="middle" fill="#262626" textLength="7.39" lengthAdjust="spacingAndGlyphs">(0)</text><text x="455.06" y="680.12" font-size="6.30" text-anchor="middle" fill="#262626" textLength="15.30" lengthAdjust="spacingAndGlyphs">−0.02</text><text x="455.06" y="686.02" font-size="6.30" text-anchor="middle" fill="#262626" textLength="12.43" lengthAdjust="spacingAndGlyphs">(0.9)</text><text x="471.84" y="680.12" font-size="6.30" text-anchor="middle" fill="#262626" textLength="11.77" lengthAdjust="spacingAndGlyphs">0.08</text><text x="471.84" y="686.02" font-size="6.30" text-anchor="middle" fill="#262626" textLength="15.80" lengthAdjust="spacingAndGlyphs">(0.66)</text><text x="488.63" y="680.12" font-size="6.30" text-anchor="middle" fill="#262626" textLength="11.77" lengthAdjust="spacingAndGlyphs">0.27</text><text x="488.63" y="686.02" font-size="6.30" text-anchor="middle" fill="#262626" textLength="15.35" lengthAdjust="spacingAndGlyphs">(0.11)</text><text x="505.42" y="680.12" font-size="6.30" text-anchor="middle" fill="#262626" textLength="11.77" lengthAdjust="spacingAndGlyphs">0.16</text><text x="505.42" y="686.02" font-size="6.30" text-anchor="middle" fill="#262626" textLength="15.80" lengthAdjust="spacingAndGlyphs">(0.35)</text><text x="522.21" y="680.12" font-size="6.30" text-anchor="middle" fill="#262626" textLength="15.30" lengthAdjust="spacingAndGlyphs">−0.01</text><text x="522.21" y="686.02" font-size="6.30" text-anchor="middle" fill="#262626" textLength="15.80" lengthAdjust="spacingAndGlyphs">(0.95)</text><text x="404.69" y="696.58" font-size="6.30" text-anchor="middle" fill="#262626" textLength="11.77" lengthAdjust="spacingAndGlyphs">0.24</text><text x="404.69" y="702.48" font-size="6.30" text-anchor="middle" fill="#262626" textLength="15.80" lengthAdjust="spacingAndGlyphs">(0.16)</text><text x="421.48" y="696.58" font-size="6.30" text-anchor="middle" fill="#262626" textLength="15.30" lengthAdjust="spacingAndGlyphs">−0.15</text><text x="421.48" y="702.48" font-size="6.30" text-anchor="middle" fill="#262626" textLength="15.80" lengthAdjust="spacingAndGlyphs">(0.37)</text><text x="438.27" y="696.58" font-size="6.30" text-anchor="middle" fill="#262626" textLength="15.30" lengthAdjust="spacingAndGlyphs">−0.02</text><text x="438.27" y="702.48" font-size="6.30" text-anchor="middle" fill="#262626" textLength="12.43" lengthAdjust="spacingAndGlyphs">(0.9)</text><text x="455.06" y="696.58" font-size="6.30" text-anchor="middle" fill="#262626" textLength="3.36" lengthAdjust="spacingAndGlyphs">1</text><text x="455.06" y="702.48" font-size="6.30" text-anchor="middle" fill="#262626" textLength="7.39" lengthAdjust="spacingAndGlyphs">(0)</text><text x="471.84" y="696.58" font-size="6.30" text-anchor="middle" fill="#262626" textLength="15.30" lengthAdjust="spacingAndGlyphs">−0.04</text><text x="471.84" y="702.48" font-size="6.30" text-anchor="middle" fill="#262626" textLength="15.80" lengthAdjust="spacingAndGlyphs">(0.81)</text><text x="488.63" y="696.58" font-size="6.30" text-anchor="middle" fill="#262626" textLength="14.85" lengthAdjust="spacingAndGlyphs">−0.11</text><text x="488.63" y="702.48" font-size="6.30" text-anchor="middle" fill="#262626" textLength="15.80" lengthAdjust="spacingAndGlyphs">(0.53)</text><text x="505.42" y="696.58" font-size="6.30" text-anchor="middle" fill="#262626" textLength="15.30" lengthAdjust="spacingAndGlyphs">−0.02</text><text x="505.42" y="702.48" font-size="6.30" text-anchor="middle" fill="#262626" textLength="15.80" lengthAdjust="spacingAndGlyphs">(0.91)</text><text x="522.21" y="696.58" font-size="6.30" text-anchor="middle" fill="#262626" textLength="15.30" lengthAdjust="spacingAndGlyphs">−0.29</text><text x="522.21" y="702.48" font-size="6.30" text-anchor="middle" fill="#262626" textLength="15.80" lengthAdjust="spacingAndGlyphs">(0.08)</text><text x="404.69" y="713.02" font-size="6.30" text-anchor="middle" fill="#262626" textLength="15.30" lengthAdjust="spacingAndGlyphs">−0.07</text><text x="404.69" y="718.92" font-size="6.30" text-anchor="middle" fill="#262626" textLength="12.43" lengthAdjust="spacingAndGlyphs">(0.7)</text><text x="421.48" y="713.02" font-size="6.30" text-anchor="middle" fill="#262626" textLength="15.30" lengthAdjust="spacingAndGlyphs">−0.16</text><text x="421.48" y="718.92" font-size="6.30" text-anchor="middle" fill="#262626" textLength="15.80" lengthAdjust="spacingAndGlyphs">(0.35)</text><text x="438.27" y="713.02" font-size="6.30" text-anchor="middle" fill="#262626" textLength="11.77" lengthAdjust="spacingAndGlyphs">0.08</text><text x="438.27" y="718.92" font-size="6.30" text-anchor="middle" fill="#262626" textLength="15.80" lengthAdjust="spacingAndGlyphs">(0.66)</text><text x="455.06" y="713.02" font-size="6.30" text-anchor="middle" fill="#262626" textLength="15.30" lengthAdjust="spacingAndGlyphs">−0.04</text><text x="455.06" y="718.92" font-size="6.30" text-anchor="middle" fill="#262626" textLength="15.80" lengthAdjust="spacingAndGlyphs">(0.81)</text><text x="471.84" y="713.02" font-size="6.30" text-anchor="middle" fill="#262626" textLength="3.36" lengthAdjust="spacingAndGlyphs">1</text><text x="471.84" y="718.92" font-size="6.30" text-anchor="middle" fill="#262626" textLength="7.39" lengthAdjust="spacingAndGlyphs">(0)</text><text x="488.63" y="713.02" font-size="6.30" text-anchor="middle" fill="#262626" textLength="15.30" lengthAdjust="spacingAndGlyphs">−0.15</text><text x="488.63" y="718.92" font-size="6.30" text-anchor="middle" fill="#262626" textLength="15.80" lengthAdjust="spacingAndGlyphs">(0.37)</text><text x="505.42" y="713.02" font-size="6.30" text-anchor="middle" fill="#262626" textLength="11.77" lengthAdjust="spacingAndGlyphs">0.13</text><text x="505.42" y="718.92" font-size="6.30" text-anchor="middle" fill="#262626" textLength="15.80" lengthAdjust="spacingAndGlyphs">(0.44)</text><text x="522.21" y="713.02" font-size="6.30" text-anchor="middle" fill="#262626" textLength="15.30" lengthAdjust="spacingAndGlyphs">−0.26</text><text x="522.21" y="718.92" font-size="6.30" text-anchor="middle" fill="#262626" textLength="15.80" lengthAdjust="spacingAndGlyphs">(0.13)</text><text x="404.69" y="729.48" font-size="6.30" text-anchor="middle" fill="#262626" textLength="11.77" lengthAdjust="spacingAndGlyphs">0.12</text><text x="404.69" y="735.38" font-size="6.30" text-anchor="middle" fill="#262626" textLength="15.80" lengthAdjust="spacingAndGlyphs">(0.48)</text><text x="421.48" y="729.48" font-size="6.30" text-anchor="middle" fill="#262626" textLength="11.77" lengthAdjust="spacingAndGlyphs">0.29</text><text x="421.48" y="735.38" font-size="6.30" text-anchor="middle" fill="#262626" textLength="15.80" lengthAdjust="spacingAndGlyphs">(0.08)</text><text x="438.27" y="729.48" font-size="6.30" text-anchor="middle" fill="#262626" textLength="11.77" lengthAdjust="spacingAndGlyphs">0.27</text><text x="438.27" y="735.38" font-size="6.30" text-anchor="middle" fill="#262626" textLength="15.35" lengthAdjust="spacingAndGlyphs">(0.11)</text><text x="455.06" y="729.48" font-size="6.30" text-anchor="middle" fill="#262626" textLength="14.85" lengthAdjust="spacingAndGlyphs">−0.11</text><text x="455.06" y="735.38" font-size="6.30" text-anchor="middle" fill="#262626" textLength="15.80" lengthAdjust="spacingAndGlyphs">(0.53)</text><text x="471.84" y="729.48" font-size="6.30" text-anchor="middle" fill="#262626" textLength="15.30" lengthAdjust="spacingAndGlyphs">−0.15</text><text x="471.84" y="735.38" font-size="6.30" text-anchor="middle" fill="#262626" textLength="15.80" lengthAdjust="spacingAndGlyphs">(0.37)</text><text x="488.63" y="729.48" font-size="6.30" text-anchor="middle" fill="#262626" textLength="3.36" lengthAdjust="spacingAndGlyphs">1</text><text x="488.63" y="735.38" font-size="6.30" text-anchor="middle" fill="#262626" textLength="7.39" lengthAdjust="spacingAndGlyphs">(0)</text><text x="505.42" y="729.48" font-size="6.30" text-anchor="middle" fill="#262626" textLength="11.77" lengthAdjust="spacingAndGlyphs">0.05</text><text x="505.42" y="735.38" font-size="6.30" text-anchor="middle" fill="#262626" textLength="15.80" lengthAdjust="spacingAndGlyphs">(0.78)</text><text x="522.21" y="729.48" font-size="6.30" text-anchor="middle" fill="#262626" textLength="15.30" lengthAdjust="spacingAndGlyphs">−0.05</text><text x="522.21" y="735.38" font-size="6.30" text-anchor="middle" fill="#262626" textLength="15.80" lengthAdjust="spacingAndGlyphs">(0.79)</text><text x="404.69" y="745.92" font-size="6.30" text-anchor="middle" fill="#262626" textLength="11.77" lengthAdjust="spacingAndGlyphs">0.08</text><text x="404.69" y="751.82" font-size="6.30" text-anchor="middle" fill="#262626" textLength="15.80" lengthAdjust="spacingAndGlyphs">(0.63)</text><text x="421.48" y="745.92" font-size="6.30" text-anchor="middle" fill="#262626" textLength="15.30" lengthAdjust="spacingAndGlyphs">−0.21</text><text x="421.48" y="751.82" font-size="6.30" text-anchor="middle" fill="#262626" textLength="15.80" lengthAdjust="spacingAndGlyphs">(0.22)</text><text x="438.27" y="745.92" font-size="6.30" text-anchor="middle" fill="#262626" textLength="11.77" lengthAdjust="spacingAndGlyphs">0.16</text><text x="438.27" y="751.82" font-size="6.30" text-anchor="middle" fill="#262626" textLength="15.80" lengthAdjust="spacingAndGlyphs">(0.35)</text><text x="455.06" y="745.92" font-size="6.30" text-anchor="middle" fill="#262626" textLength="15.30" lengthAdjust="spacingAndGlyphs">−0.02</text><text x="455.06" y="751.82" font-size="6.30" text-anchor="middle" fill="#262626" textLength="15.80" lengthAdjust="spacingAndGlyphs">(0.91)</text><text x="471.84" y="745.92" font-size="6.30" text-anchor="middle" fill="#262626" textLength="11.77" lengthAdjust="spacingAndGlyphs">0.13</text><text x="471.84" y="751.82" font-size="6.30" text-anchor="middle" fill="#262626" textLength="15.80" lengthAdjust="spacingAndGlyphs">(0.44)</text><text x="488.63" y="745.92" font-size="6.30" text-anchor="middle" fill="#262626" textLength="11.77" lengthAdjust="spacingAndGlyphs">0.05</text><text x="488.63" y="751.82" font-size="6.30" text-anchor="middle" fill="#262626" textLength="15.80" lengthAdjust="spacingAndGlyphs">(0.78)</text><text x="505.42" y="745.92" font-size="6.30" text-anchor="middle" fill="#262626" textLength="3.36" lengthAdjust="spacingAndGlyphs">1</text><text x="505.42" y="751.82" font-size="6.30" text-anchor="middle" fill="#262626" textLength="7.39" lengthAdjust="spacingAndGlyphs">(0)</text><text x="522.21" y="745.92" font-size="6.30" text-anchor="middle" fill="#262626" textLength="15.30" lengthAdjust="spacingAndGlyphs">−0.26</text><text x="522.21" y="751.82" font-size="6.30" text-anchor="middle" fill="#262626" textLength="15.80" lengthAdjust="spacingAndGlyphs">(0.13)</text><text x="404.69" y="762.38" font-size="6.30" text-anchor="middle" fill="#262626" textLength="15.30" lengthAdjust="spacingAndGlyphs">−0.09</text><text x="404.69" y="768.27" font-size="6.30" text-anchor="middle" fill="#262626" textLength="15.80" lengthAdjust="spacingAndGlyphs">(0.62)</text><text x="421.48" y="762.38" font-size="6.30" text-anchor="middle" fill="#262626" textLength="15.30" lengthAdjust="spacingAndGlyphs">−0.02</text><text x="421.48" y="768.27" font-size="6.30" text-anchor="middle" fill="#262626" textLength="15.80" lengthAdjust="spacingAndGlyphs">(0.92)</text><text x="438.27" y="762.38" font-size="6.30" text-anchor="middle" fill="#262626" textLength="15.30" lengthAdjust="spacingAndGlyphs">−0.01</text><text x="438.27" y="768.27" font-size="6.30" text-anchor="middle" fill="#262626" textLength="15.80" lengthAdjust="spacingAndGlyphs">(0.95)</text><text x="455.06" y="762.38" font-size="6.30" text-anchor="middle" fill="#262626" textLength="15.30" lengthAdjust="spacingAndGlyphs">−0.29</text><text x="455.06" y="768.27" font-size="6.30" text-anchor="middle" fill="#262626" textLength="15.80" lengthAdjust="spacingAndGlyphs">(0.08)</text><text x="471.84" y="762.38" font-size="6.30" text-anchor="middle" fill="#262626" textLength="15.30" lengthAdjust="spacingAndGlyphs">−0.26</text><text x="471.84" y="768.27" font-size="6.30" text-anchor="middle" fill="#262626" textLength="15.80" lengthAdjust="spacingAndGlyphs">(0.13)</text><text x="488.63" y="762.38" font-size="6.30" text-anchor="middle" fill="#262626" textLength="15.30" lengthAdjust="spacingAndGlyphs">−0.05</text><text x="488.63" y="768.27" font-size="6.30" text-anchor="middle" fill="#262626" textLength="15.80" lengthAdjust="spacingAndGlyphs">(0.79)</text><text x="505.42" y="762.38" font-size="6.30" text-anchor="middle" fill="#262626" textLength="15.30" lengthAdjust="spacingAndGlyphs">−0.26</text><text x="505.42" y="768.27" font-size="6.30" text-anchor="middle" fill="#262626" textLength="15.80" lengthAdjust="spacingAndGlyphs">(0.13)</text><text x="522.21" y="762.38" font-size="6.30" text-anchor="middle" fill="#262626" textLength="3.36" lengthAdjust="spacingAndGlyphs">1</text><text x="522.21" y="768.27" font-size="6.30" text-anchor="middle" fill="#262626" textLength="7.39" lengthAdjust="spacingAndGlyphs">(0)</text><text x="393.60" y="650.62" font-size="6.70" text-anchor="end" fill="#111" textLength="22.29" lengthAdjust="spacingAndGlyphs">Horvath1</text><text x="406.69" y="775.60" font-size="7.00" text-anchor="end" fill="#111" textLength="23.29" lengthAdjust="spacingAndGlyphs" transform="rotate(-45 406.69 775.60)">Horvath1</text><text x="393.60" y="667.07" font-size="6.70" text-anchor="end" fill="#111" textLength="22.29" lengthAdjust="spacingAndGlyphs">Horvath2</text><text x="423.48" y="775.60" font-size="7.00" text-anchor="end" fill="#111" textLength="23.29" lengthAdjust="spacingAndGlyphs" transform="rotate(-45 423.48 775.60)">Horvath2</text><text x="393.60" y="683.52" font-size="6.70" text-anchor="end" fill="#111" textLength="20.76" lengthAdjust="spacingAndGlyphs">Hannum</text><text x="440.27" y="775.60" font-size="7.00" text-anchor="end" fill="#111" textLength="21.69" lengthAdjust="spacingAndGlyphs" transform="rotate(-45 440.27 775.60)">Hannum</text><text x="393.60" y="699.98" font-size="6.70" text-anchor="end" fill="#111" textLength="25.66" lengthAdjust="spacingAndGlyphs">PhenoAge</text><text x="457.06" y="775.60" font-size="7.00" text-anchor="end" fill="#111" textLength="26.81" lengthAdjust="spacingAndGlyphs" transform="rotate(-45 457.06 775.60)">PhenoAge</text><text x="393.60" y="716.42" font-size="6.70" text-anchor="end" fill="#111" textLength="22.59" lengthAdjust="spacingAndGlyphs">DNAmTL</text><text x="473.84" y="775.60" font-size="7.00" text-anchor="end" fill="#111" textLength="23.60" lengthAdjust="spacingAndGlyphs" transform="rotate(-45 473.84 775.60)">DNAmTL</text><text x="393.60" y="732.88" font-size="6.70" text-anchor="end" fill="#111" textLength="21.67" lengthAdjust="spacingAndGlyphs">GrimAge</text><text x="490.63" y="775.60" font-size="7.00" text-anchor="end" fill="#111" textLength="22.65" lengthAdjust="spacingAndGlyphs" transform="rotate(-45 490.63 775.60)">GrimAge</text><text x="393.60" y="749.32" font-size="6.70" text-anchor="end" fill="#111" textLength="9.78" lengthAdjust="spacingAndGlyphs">Age</text><text x="507.42" y="775.60" font-size="7.00" text-anchor="end" fill="#111" textLength="10.21" lengthAdjust="spacingAndGlyphs" transform="rotate(-45 507.42 775.60)">Age</text><text x="393.60" y="765.77" font-size="6.70" text-anchor="end" fill="#111" textLength="9.47" lengthAdjust="spacingAndGlyphs">Sex</text><text x="524.21" y="775.60" font-size="7.00" text-anchor="end" fill="#111" textLength="9.89" lengthAdjust="spacingAndGlyphs" transform="rotate(-45 524.21 775.60)">Sex</text><defs><linearGradient id="cg2" x1="0" x2="0" y1="0" y2="1"><stop offset="0" stop-color="#ec4421"/><stop offset="0.5" stop-color="#ffffff"/><stop offset="1" stop-color="#2c87dd"/></linearGradient></defs><rect x="534.10" y="647.70" width="4.60" height="116.00" fill="url(#cg2)"/><line x1="538.70" y1="647.70" x2="540.30" y2="647.70" stroke="#555" stroke-width="0.5"/><text x="540.70" y="649.90" font-size="6.40" text-anchor="start" fill="#333" textLength="3.20" lengthAdjust="spacingAndGlyphs">1</text><line x1="538.70" y1="676.70" x2="540.30" y2="676.70" stroke="#555" stroke-width="0.5"/><text x="540.70" y="678.90" font-size="6.40" text-anchor="start" fill="#333" textLength="8.01" lengthAdjust="spacingAndGlyphs">0.5</text><line x1="538.70" y1="705.70" x2="540.30" y2="705.70" stroke="#555" stroke-width="0.5"/><text x="540.70" y="707.90" font-size="6.40" text-anchor="start" fill="#333" textLength="3.20" lengthAdjust="spacingAndGlyphs">0</text><line x1="538.70" y1="734.70" x2="540.30" y2="734.70" stroke="#555" stroke-width="0.5"/><text x="540.70" y="736.90" font-size="6.40" text-anchor="start" fill="#333" textLength="11.37" lengthAdjust="spacingAndGlyphs">−0.5</text><line x1="538.70" y1="763.70" x2="540.30" y2="763.70" stroke="#555" stroke-width="0.5"/><text x="540.70" y="765.90" font-size="6.40" text-anchor="start" fill="#333" textLength="6.57" lengthAdjust="spacingAndGlyphs">−1</text><text x="471.00" y="628.50" font-size="6.50" text-anchor="middle" fill="#222" textLength="59.22" lengthAdjust="spacingAndGlyphs" font-weight="bold">Correlation Plot for</text><text x="471.80" y="636.00" font-size="6.50" text-anchor="middle" fill="#222" textLength="114.62" lengthAdjust="spacingAndGlyphs" font-weight="bold">Epigenetic Age Replicate Differences</text><text x="353.20" y="659.90" font-size="8.80" text-anchor="start" fill="#000" font-weight="bold">i</text></svg></body></html>
